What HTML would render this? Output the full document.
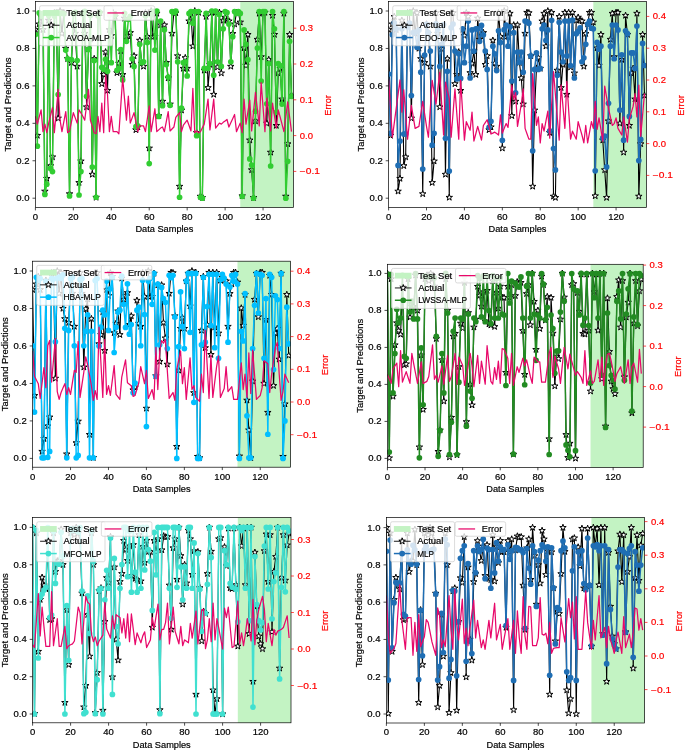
<!DOCTYPE html>
<html><head><meta charset="utf-8"><style>
html,body{margin:0;padding:0;background:#fff;}
svg{display:block;will-change:transform;}
text{font-family:"Liberation Sans", sans-serif;}
</style></head><body>
<svg width="685" height="751" viewBox="0 0 685 751">
<rect width="685" height="751" fill="#fff"/>
<clipPath id="c0"><rect x="35.4" y="1.6" width="258" height="205.9"/></clipPath>
<rect x="240.28" y="1.6" width="53.12" height="205.9" fill="#C3F3C3"/>
<g clip-path="url(#c0)">
<polyline points="35.4,29.72 37.3,135.49 39.19,24.1 41.09,16.62 42.99,29.72 44.89,191.27 46.78,178.54 48.68,20.36 50.58,165.81 52.47,157.02 54.37,12.87 56.27,12.87 58.16,118.27 60.06,11 61.96,33.46 63.86,12.87 65.75,48.44 67.65,58.74 69.55,193.89 71.44,62.67 73.34,24.1 75.24,33.46 77.14,66.41 79.03,182.66 80.93,161.13 82.83,12.87 84.72,33.46 86.62,107.03 88.52,49 90.41,39.08 92.31,174.43 94.21,58.74 96.11,197.45 98,12.87 99.9,12.87 101.8,83.82 103.69,74.65 105.59,52 107.49,90.56 109.39,29.72 111.28,35.71 113.18,12.87 115.08,16.62 116.97,72.78 118.87,63.42 120.77,51.06 122.66,74.65 124.56,18.3 126.46,39.45 128.36,35.71 130.25,32.72 132.15,64.54 134.05,55.93 135.94,129.87 137.84,127.06 139.74,40.39 141.64,63.42 143.53,66.41 145.43,12.87 147.33,36.65 149.22,148.22 151.12,11 153.02,36.65 154.91,36.65 156.81,13.43 158.71,115.83 160.61,25.04 162.5,101.42 164.4,25.04 166.3,62.67 168.19,78.02 170.09,104.23 171.99,33.46 173.89,12.5 175.78,12.87 177.68,55.93 179.58,186.41 181.47,110.22 183.37,68.47 185.27,57.8 187.16,68.47 189.06,21.11 190.96,13.43 192.86,46.19 194.75,11 196.65,132.68 198.55,12.5 200.44,196.33 202.34,197.64 204.24,70.34 206.14,16.62 208.03,87.75 209.93,64.54 211.83,12.5 213.72,94.49 215.62,12.5 217.52,67.16 219.41,12.5 221.31,73.15 223.21,20.36 225.11,17.36 227,20.36 228.9,21.11 230.8,66.41 232.69,33.65 234.59,24.1 236.49,12.5 238.39,12.5 240.28,22.23 242.18,195.95 244.08,48.07 245.97,65.48 247.87,34.59 249.77,140.17 251.66,169.93 253.56,197.64 255.46,121.07 257.36,39.45 259.25,13.43 261.15,56.86 263.05,12.5 264.94,12.5 266.84,123.32 268.74,59.67 270.64,152.34 272.53,15.49 274.43,34.59 276.33,125.57 278.22,73.15 280.12,68.47 282.02,99.17 283.91,13.43 285.81,196.33 287.71,143.91 289.61,34.59 291.5,95.43" fill="none" stroke="#000" stroke-width="1.1" stroke-linejoin="round"/>
<path d="M35.4 26.32 L36.16 28.67 L38.63 28.67 L36.64 30.12 L37.4 32.47 L35.4 31.02 L33.4 32.47 L34.16 30.12 L32.17 28.67 L34.64 28.67Z" fill="#fff" stroke="#000" stroke-width="1.0"/>
<path d="M37.3 132.09 L38.06 134.44 L40.53 134.44 L38.53 135.89 L39.3 138.24 L37.3 136.79 L35.3 138.24 L36.06 135.89 L34.06 134.44 L36.53 134.44Z" fill="#fff" stroke="#000" stroke-width="1.0"/>
<path d="M39.19 20.7 L39.96 23.05 L42.43 23.05 L40.43 24.51 L41.19 26.85 L39.19 25.4 L37.2 26.85 L37.96 24.51 L35.96 23.05 L38.43 23.05Z" fill="#fff" stroke="#000" stroke-width="1.0"/>
<path d="M41.09 13.22 L41.85 15.57 L44.32 15.57 L42.33 17.02 L43.09 19.37 L41.09 17.91 L39.09 19.37 L39.86 17.02 L37.86 15.57 L40.33 15.57Z" fill="#fff" stroke="#000" stroke-width="1.0"/>
<path d="M42.99 26.32 L43.75 28.67 L46.22 28.67 L44.22 30.12 L44.99 32.47 L42.99 31.02 L40.99 32.47 L41.75 30.12 L39.75 28.67 L42.22 28.67Z" fill="#fff" stroke="#000" stroke-width="1.0"/>
<path d="M44.89 187.87 L45.65 190.22 L48.12 190.22 L46.12 191.67 L46.88 194.02 L44.89 192.57 L42.89 194.02 L43.65 191.67 L41.65 190.22 L44.12 190.22Z" fill="#fff" stroke="#000" stroke-width="1.0"/>
<path d="M46.78 175.14 L47.55 177.49 L50.02 177.49 L48.02 178.95 L48.78 181.29 L46.78 179.84 L44.78 181.29 L45.55 178.95 L43.55 177.49 L46.02 177.49Z" fill="#fff" stroke="#000" stroke-width="1.0"/>
<path d="M48.68 16.96 L49.44 19.31 L51.91 19.31 L49.91 20.76 L50.68 23.11 L48.68 21.66 L46.68 23.11 L47.44 20.76 L45.45 19.31 L47.92 19.31Z" fill="#fff" stroke="#000" stroke-width="1.0"/>
<path d="M50.58 162.41 L51.34 164.76 L53.81 164.76 L51.81 166.22 L52.57 168.57 L50.58 167.11 L48.58 168.57 L49.34 166.22 L47.34 164.76 L49.81 164.76Z" fill="#fff" stroke="#000" stroke-width="1.0"/>
<path d="M52.47 153.62 L53.24 155.97 L55.71 155.97 L53.71 157.42 L54.47 159.77 L52.47 158.31 L50.48 159.77 L51.24 157.42 L49.24 155.97 L51.71 155.97Z" fill="#fff" stroke="#000" stroke-width="1.0"/>
<path d="M54.37 9.47 L55.13 11.82 L57.6 11.82 L55.61 13.27 L56.37 15.62 L54.37 14.17 L52.37 15.62 L53.14 13.27 L51.14 11.82 L53.61 11.82Z" fill="#fff" stroke="#000" stroke-width="1.0"/>
<path d="M56.27 9.47 L57.03 11.82 L59.5 11.82 L57.5 13.27 L58.27 15.62 L56.27 14.17 L54.27 15.62 L55.03 13.27 L53.03 11.82 L55.5 11.82Z" fill="#fff" stroke="#000" stroke-width="1.0"/>
<path d="M58.16 114.87 L58.93 117.21 L61.4 117.21 L59.4 118.67 L60.16 121.02 L58.16 119.56 L56.17 121.02 L56.93 118.67 L54.93 117.21 L57.4 117.21Z" fill="#fff" stroke="#000" stroke-width="1.0"/>
<path d="M60.06 7.6 L60.83 9.95 L63.3 9.95 L61.3 11.4 L62.06 13.75 L60.06 12.3 L58.06 13.75 L58.83 11.4 L56.83 9.95 L59.3 9.95Z" fill="#fff" stroke="#000" stroke-width="1.0"/>
<path d="M61.96 30.06 L62.72 32.41 L65.19 32.41 L63.19 33.87 L63.96 36.21 L61.96 34.76 L59.96 36.21 L60.72 33.87 L58.73 32.41 L61.2 32.41Z" fill="#fff" stroke="#000" stroke-width="1.0"/>
<path d="M63.86 9.47 L64.62 11.82 L67.09 11.82 L65.09 13.27 L65.85 15.62 L63.86 14.17 L61.86 15.62 L62.62 13.27 L60.62 11.82 L63.09 11.82Z" fill="#fff" stroke="#000" stroke-width="1.0"/>
<path d="M65.75 45.04 L66.52 47.39 L68.99 47.39 L66.99 48.84 L67.75 51.19 L65.75 49.74 L63.75 51.19 L64.52 48.84 L62.52 47.39 L64.99 47.39Z" fill="#fff" stroke="#000" stroke-width="1.0"/>
<path d="M67.65 55.34 L68.41 57.69 L70.88 57.69 L68.89 59.14 L69.65 61.49 L67.65 60.03 L65.65 61.49 L66.41 59.14 L64.42 57.69 L66.89 57.69Z" fill="#fff" stroke="#000" stroke-width="1.0"/>
<path d="M69.55 190.49 L70.31 192.84 L72.78 192.84 L70.78 194.3 L71.55 196.65 L69.55 195.19 L67.55 196.65 L68.31 194.3 L66.31 192.84 L68.78 192.84Z" fill="#fff" stroke="#000" stroke-width="1.0"/>
<path d="M71.44 59.27 L72.21 61.62 L74.68 61.62 L72.68 63.07 L73.44 65.42 L71.44 63.97 L69.45 65.42 L70.21 63.07 L68.21 61.62 L70.68 61.62Z" fill="#fff" stroke="#000" stroke-width="1.0"/>
<path d="M73.34 20.7 L74.1 23.05 L76.57 23.05 L74.58 24.51 L75.34 26.85 L73.34 25.4 L71.34 26.85 L72.11 24.51 L70.11 23.05 L72.58 23.05Z" fill="#fff" stroke="#000" stroke-width="1.0"/>
<path d="M75.24 30.06 L76 32.41 L78.47 32.41 L76.47 33.87 L77.24 36.21 L75.24 34.76 L73.24 36.21 L74 33.87 L72 32.41 L74.47 32.41Z" fill="#fff" stroke="#000" stroke-width="1.0"/>
<path d="M77.14 63.01 L77.9 65.36 L80.37 65.36 L78.37 66.81 L79.13 69.16 L77.14 67.71 L75.14 69.16 L75.9 66.81 L73.9 65.36 L76.37 65.36Z" fill="#fff" stroke="#000" stroke-width="1.0"/>
<path d="M79.03 179.26 L79.8 181.61 L82.27 181.61 L80.27 183.06 L81.03 185.41 L79.03 183.96 L77.03 185.41 L77.8 183.06 L75.8 181.61 L78.27 181.61Z" fill="#fff" stroke="#000" stroke-width="1.0"/>
<path d="M80.93 157.73 L81.69 160.08 L84.16 160.08 L82.16 161.54 L82.93 163.89 L80.93 162.43 L78.93 163.89 L79.69 161.54 L77.7 160.08 L80.17 160.08Z" fill="#fff" stroke="#000" stroke-width="1.0"/>
<path d="M82.83 9.47 L83.59 11.82 L86.06 11.82 L84.06 13.27 L84.82 15.62 L82.83 14.17 L80.83 15.62 L81.59 13.27 L79.59 11.82 L82.06 11.82Z" fill="#fff" stroke="#000" stroke-width="1.0"/>
<path d="M84.72 30.06 L85.49 32.41 L87.96 32.41 L85.96 33.87 L86.72 36.21 L84.72 34.76 L82.73 36.21 L83.49 33.87 L81.49 32.41 L83.96 32.41Z" fill="#fff" stroke="#000" stroke-width="1.0"/>
<path d="M86.62 103.63 L87.38 105.98 L89.85 105.98 L87.86 107.43 L88.62 109.78 L86.62 108.33 L84.62 109.78 L85.39 107.43 L83.39 105.98 L85.86 105.98Z" fill="#fff" stroke="#000" stroke-width="1.0"/>
<path d="M88.52 45.6 L89.28 47.95 L91.75 47.95 L89.75 49.4 L90.52 51.75 L88.52 50.3 L86.52 51.75 L87.28 49.4 L85.28 47.95 L87.75 47.95Z" fill="#fff" stroke="#000" stroke-width="1.0"/>
<path d="M90.41 35.68 L91.18 38.03 L93.65 38.03 L91.65 39.48 L92.41 41.83 L90.41 40.38 L88.42 41.83 L89.18 39.48 L87.18 38.03 L89.65 38.03Z" fill="#fff" stroke="#000" stroke-width="1.0"/>
<path d="M92.31 171.03 L93.08 173.37 L95.55 173.37 L93.55 174.83 L94.31 177.18 L92.31 175.72 L90.31 177.18 L91.08 174.83 L89.08 173.37 L91.55 173.37Z" fill="#fff" stroke="#000" stroke-width="1.0"/>
<path d="M94.21 55.34 L94.97 57.69 L97.44 57.69 L95.44 59.14 L96.21 61.49 L94.21 60.03 L92.21 61.49 L92.97 59.14 L90.98 57.69 L93.45 57.69Z" fill="#fff" stroke="#000" stroke-width="1.0"/>
<path d="M96.11 194.05 L96.87 196.4 L99.34 196.4 L97.34 197.85 L98.1 200.2 L96.11 198.75 L94.11 200.2 L94.87 197.85 L92.87 196.4 L95.34 196.4Z" fill="#fff" stroke="#000" stroke-width="1.0"/>
<path d="M98 9.47 L98.77 11.82 L101.24 11.82 L99.24 13.27 L100 15.62 L98 14.17 L96 15.62 L96.77 13.27 L94.77 11.82 L97.24 11.82Z" fill="#fff" stroke="#000" stroke-width="1.0"/>
<path d="M99.9 9.47 L100.66 11.82 L103.13 11.82 L101.14 13.27 L101.9 15.62 L99.9 14.17 L97.9 15.62 L98.66 13.27 L96.67 11.82 L99.14 11.82Z" fill="#fff" stroke="#000" stroke-width="1.0"/>
<path d="M101.8 80.42 L102.56 82.77 L105.03 82.77 L103.03 84.22 L103.8 86.57 L101.8 85.12 L99.8 86.57 L100.56 84.22 L98.56 82.77 L101.03 82.77Z" fill="#fff" stroke="#000" stroke-width="1.0"/>
<path d="M103.69 71.25 L104.46 73.6 L106.93 73.6 L104.93 75.05 L105.69 77.4 L103.69 75.95 L101.7 77.4 L102.46 75.05 L100.46 73.6 L102.93 73.6Z" fill="#fff" stroke="#000" stroke-width="1.0"/>
<path d="M105.59 48.6 L106.35 50.95 L108.82 50.95 L106.83 52.4 L107.59 54.75 L105.59 53.3 L103.59 54.75 L104.36 52.4 L102.36 50.95 L104.83 50.95Z" fill="#fff" stroke="#000" stroke-width="1.0"/>
<path d="M107.49 87.16 L108.25 89.51 L110.72 89.51 L108.72 90.96 L109.49 93.31 L107.49 91.86 L105.49 93.31 L106.25 90.96 L104.25 89.51 L106.72 89.51Z" fill="#fff" stroke="#000" stroke-width="1.0"/>
<path d="M109.39 26.32 L110.15 28.67 L112.62 28.67 L110.62 30.12 L111.38 32.47 L109.39 31.02 L107.39 32.47 L108.15 30.12 L106.15 28.67 L108.62 28.67Z" fill="#fff" stroke="#000" stroke-width="1.0"/>
<path d="M111.28 32.31 L112.05 34.66 L114.52 34.66 L112.52 36.11 L113.28 38.46 L111.28 37.01 L109.28 38.46 L110.05 36.11 L108.05 34.66 L110.52 34.66Z" fill="#fff" stroke="#000" stroke-width="1.0"/>
<path d="M113.18 9.47 L113.94 11.82 L116.41 11.82 L114.41 13.27 L115.18 15.62 L113.18 14.17 L111.18 15.62 L111.94 13.27 L109.95 11.82 L112.42 11.82Z" fill="#fff" stroke="#000" stroke-width="1.0"/>
<path d="M115.08 13.22 L115.84 15.57 L118.31 15.57 L116.31 17.02 L117.07 19.37 L115.08 17.91 L113.08 19.37 L113.84 17.02 L111.84 15.57 L114.31 15.57Z" fill="#fff" stroke="#000" stroke-width="1.0"/>
<path d="M116.97 69.38 L117.74 71.73 L120.21 71.73 L118.21 73.18 L118.97 75.53 L116.97 74.07 L114.98 75.53 L115.74 73.18 L113.74 71.73 L116.21 71.73Z" fill="#fff" stroke="#000" stroke-width="1.0"/>
<path d="M118.87 60.02 L119.63 62.37 L122.1 62.37 L120.11 63.82 L120.87 66.17 L118.87 64.71 L116.87 66.17 L117.64 63.82 L115.64 62.37 L118.11 62.37Z" fill="#fff" stroke="#000" stroke-width="1.0"/>
<path d="M120.77 47.66 L121.53 50.01 L124 50.01 L122 51.46 L122.77 53.81 L120.77 52.36 L118.77 53.81 L119.53 51.46 L117.53 50.01 L120 50.01Z" fill="#fff" stroke="#000" stroke-width="1.0"/>
<path d="M122.66 71.25 L123.43 73.6 L125.9 73.6 L123.9 75.05 L124.66 77.4 L122.66 75.95 L120.67 77.4 L121.43 75.05 L119.43 73.6 L121.9 73.6Z" fill="#fff" stroke="#000" stroke-width="1.0"/>
<path d="M124.56 14.9 L125.33 17.25 L127.8 17.25 L125.8 18.7 L126.56 21.05 L124.56 19.6 L122.56 21.05 L123.33 18.7 L121.33 17.25 L123.8 17.25Z" fill="#fff" stroke="#000" stroke-width="1.0"/>
<path d="M126.46 36.05 L127.22 38.4 L129.69 38.4 L127.69 39.86 L128.46 42.21 L126.46 40.75 L124.46 42.21 L125.22 39.86 L123.23 38.4 L125.7 38.4Z" fill="#fff" stroke="#000" stroke-width="1.0"/>
<path d="M128.36 32.31 L129.12 34.66 L131.59 34.66 L129.59 36.11 L130.35 38.46 L128.36 37.01 L126.36 38.46 L127.12 36.11 L125.12 34.66 L127.59 34.66Z" fill="#fff" stroke="#000" stroke-width="1.0"/>
<path d="M130.25 29.32 L131.02 31.66 L133.49 31.66 L131.49 33.12 L132.25 35.47 L130.25 34.01 L128.25 35.47 L129.02 33.12 L127.02 31.66 L129.49 31.66Z" fill="#fff" stroke="#000" stroke-width="1.0"/>
<path d="M132.15 61.14 L132.91 63.49 L135.38 63.49 L133.39 64.94 L134.15 67.29 L132.15 65.84 L130.15 67.29 L130.91 64.94 L128.92 63.49 L131.39 63.49Z" fill="#fff" stroke="#000" stroke-width="1.0"/>
<path d="M134.05 52.53 L134.81 54.88 L137.28 54.88 L135.28 56.33 L136.05 58.68 L134.05 57.23 L132.05 58.68 L132.81 56.33 L130.81 54.88 L133.28 54.88Z" fill="#fff" stroke="#000" stroke-width="1.0"/>
<path d="M135.94 126.47 L136.71 128.82 L139.18 128.82 L137.18 130.27 L137.94 132.62 L135.94 131.17 L133.95 132.62 L134.71 130.27 L132.71 128.82 L135.18 128.82Z" fill="#fff" stroke="#000" stroke-width="1.0"/>
<path d="M137.84 123.66 L138.6 126.01 L141.07 126.01 L139.08 127.47 L139.84 129.81 L137.84 128.36 L135.84 129.81 L136.61 127.47 L134.61 126.01 L137.08 126.01Z" fill="#fff" stroke="#000" stroke-width="1.0"/>
<path d="M139.74 36.99 L140.5 39.34 L142.97 39.34 L140.97 40.79 L141.74 43.14 L139.74 41.69 L137.74 43.14 L138.5 40.79 L136.5 39.34 L138.97 39.34Z" fill="#fff" stroke="#000" stroke-width="1.0"/>
<path d="M141.64 60.02 L142.4 62.37 L144.87 62.37 L142.87 63.82 L143.63 66.17 L141.64 64.71 L139.64 66.17 L140.4 63.82 L138.4 62.37 L140.87 62.37Z" fill="#fff" stroke="#000" stroke-width="1.0"/>
<path d="M143.53 63.01 L144.3 65.36 L146.77 65.36 L144.77 66.81 L145.53 69.16 L143.53 67.71 L141.53 69.16 L142.3 66.81 L140.3 65.36 L142.77 65.36Z" fill="#fff" stroke="#000" stroke-width="1.0"/>
<path d="M145.43 9.47 L146.19 11.82 L148.66 11.82 L146.66 13.27 L147.43 15.62 L145.43 14.17 L143.43 15.62 L144.19 13.27 L142.2 11.82 L144.67 11.82Z" fill="#fff" stroke="#000" stroke-width="1.0"/>
<path d="M147.33 33.25 L148.09 35.6 L150.56 35.6 L148.56 37.05 L149.32 39.4 L147.33 37.95 L145.33 39.4 L146.09 37.05 L144.09 35.6 L146.56 35.6Z" fill="#fff" stroke="#000" stroke-width="1.0"/>
<path d="M149.22 144.82 L149.99 147.17 L152.46 147.17 L150.46 148.62 L151.22 150.97 L149.22 149.52 L147.23 150.97 L147.99 148.62 L145.99 147.17 L148.46 147.17Z" fill="#fff" stroke="#000" stroke-width="1.0"/>
<path d="M151.12 7.6 L151.88 9.95 L154.35 9.95 L152.36 11.4 L153.12 13.75 L151.12 12.3 L149.12 13.75 L149.89 11.4 L147.89 9.95 L150.36 9.95Z" fill="#fff" stroke="#000" stroke-width="1.0"/>
<path d="M153.02 33.25 L153.78 35.6 L156.25 35.6 L154.25 37.05 L155.02 39.4 L153.02 37.95 L151.02 39.4 L151.78 37.05 L149.78 35.6 L152.25 35.6Z" fill="#fff" stroke="#000" stroke-width="1.0"/>
<path d="M154.91 33.25 L155.68 35.6 L158.15 35.6 L156.15 37.05 L156.91 39.4 L154.91 37.95 L152.92 39.4 L153.68 37.05 L151.68 35.6 L154.15 35.6Z" fill="#fff" stroke="#000" stroke-width="1.0"/>
<path d="M156.81 10.03 L157.58 12.38 L160.05 12.38 L158.05 13.83 L158.81 16.18 L156.81 14.73 L154.81 16.18 L155.58 13.83 L153.58 12.38 L156.05 12.38Z" fill="#fff" stroke="#000" stroke-width="1.0"/>
<path d="M158.71 112.43 L159.47 114.78 L161.94 114.78 L159.94 116.23 L160.71 118.58 L158.71 117.13 L156.71 118.58 L157.47 116.23 L155.48 114.78 L157.95 114.78Z" fill="#fff" stroke="#000" stroke-width="1.0"/>
<path d="M160.61 21.64 L161.37 23.99 L163.84 23.99 L161.84 25.44 L162.6 27.79 L160.61 26.34 L158.61 27.79 L159.37 25.44 L157.37 23.99 L159.84 23.99Z" fill="#fff" stroke="#000" stroke-width="1.0"/>
<path d="M162.5 98.02 L163.27 100.37 L165.74 100.37 L163.74 101.82 L164.5 104.17 L162.5 102.72 L160.5 104.17 L161.27 101.82 L159.27 100.37 L161.74 100.37Z" fill="#fff" stroke="#000" stroke-width="1.0"/>
<path d="M164.4 21.64 L165.16 23.99 L167.63 23.99 L165.64 25.44 L166.4 27.79 L164.4 26.34 L162.4 27.79 L163.16 25.44 L161.17 23.99 L163.64 23.99Z" fill="#fff" stroke="#000" stroke-width="1.0"/>
<path d="M166.3 59.27 L167.06 61.62 L169.53 61.62 L167.53 63.07 L168.3 65.42 L166.3 63.97 L164.3 65.42 L165.06 63.07 L163.06 61.62 L165.53 61.62Z" fill="#fff" stroke="#000" stroke-width="1.0"/>
<path d="M168.19 74.62 L168.96 76.97 L171.43 76.97 L169.43 78.42 L170.19 80.77 L168.19 79.32 L166.2 80.77 L166.96 78.42 L164.96 76.97 L167.43 76.97Z" fill="#fff" stroke="#000" stroke-width="1.0"/>
<path d="M170.09 100.83 L170.85 103.17 L173.32 103.17 L171.33 104.63 L172.09 106.98 L170.09 105.52 L168.09 106.98 L168.86 104.63 L166.86 103.17 L169.33 103.17Z" fill="#fff" stroke="#000" stroke-width="1.0"/>
<path d="M171.99 30.06 L172.75 32.41 L175.22 32.41 L173.22 33.87 L173.99 36.21 L171.99 34.76 L169.99 36.21 L170.75 33.87 L168.75 32.41 L171.22 32.41Z" fill="#fff" stroke="#000" stroke-width="1.0"/>
<path d="M173.89 9.1 L174.65 11.45 L177.12 11.45 L175.12 12.9 L175.88 15.25 L173.89 13.8 L171.89 15.25 L172.65 12.9 L170.65 11.45 L173.12 11.45Z" fill="#fff" stroke="#000" stroke-width="1.0"/>
<path d="M175.78 9.47 L176.55 11.82 L179.02 11.82 L177.02 13.27 L177.78 15.62 L175.78 14.17 L173.78 15.62 L174.55 13.27 L172.55 11.82 L175.02 11.82Z" fill="#fff" stroke="#000" stroke-width="1.0"/>
<path d="M177.68 52.53 L178.44 54.88 L180.91 54.88 L178.91 56.33 L179.68 58.68 L177.68 57.23 L175.68 58.68 L176.44 56.33 L174.45 54.88 L176.92 54.88Z" fill="#fff" stroke="#000" stroke-width="1.0"/>
<path d="M179.58 183.01 L180.34 185.36 L182.81 185.36 L180.81 186.81 L181.57 189.16 L179.58 187.71 L177.58 189.16 L178.34 186.81 L176.34 185.36 L178.81 185.36Z" fill="#fff" stroke="#000" stroke-width="1.0"/>
<path d="M181.47 106.82 L182.24 109.17 L184.71 109.17 L182.71 110.62 L183.47 112.97 L181.47 111.51 L179.48 112.97 L180.24 110.62 L178.24 109.17 L180.71 109.17Z" fill="#fff" stroke="#000" stroke-width="1.0"/>
<path d="M183.37 65.07 L184.13 67.42 L186.6 67.42 L184.61 68.87 L185.37 71.22 L183.37 69.77 L181.37 71.22 L182.14 68.87 L180.14 67.42 L182.61 67.42Z" fill="#fff" stroke="#000" stroke-width="1.0"/>
<path d="M185.27 54.4 L186.03 56.75 L188.5 56.75 L186.5 58.2 L187.27 60.55 L185.27 59.1 L183.27 60.55 L184.03 58.2 L182.03 56.75 L184.5 56.75Z" fill="#fff" stroke="#000" stroke-width="1.0"/>
<path d="M187.16 65.07 L187.93 67.42 L190.4 67.42 L188.4 68.87 L189.16 71.22 L187.16 69.77 L185.17 71.22 L185.93 68.87 L183.93 67.42 L186.4 67.42Z" fill="#fff" stroke="#000" stroke-width="1.0"/>
<path d="M189.06 17.71 L189.83 20.06 L192.3 20.06 L190.3 21.51 L191.06 23.86 L189.06 22.41 L187.06 23.86 L187.83 21.51 L185.83 20.06 L188.3 20.06Z" fill="#fff" stroke="#000" stroke-width="1.0"/>
<path d="M190.96 10.03 L191.72 12.38 L194.19 12.38 L192.19 13.83 L192.96 16.18 L190.96 14.73 L188.96 16.18 L189.72 13.83 L187.73 12.38 L190.2 12.38Z" fill="#fff" stroke="#000" stroke-width="1.0"/>
<path d="M192.86 42.79 L193.62 45.14 L196.09 45.14 L194.09 46.59 L194.85 48.94 L192.86 47.49 L190.86 48.94 L191.62 46.59 L189.62 45.14 L192.09 45.14Z" fill="#fff" stroke="#000" stroke-width="1.0"/>
<path d="M194.75 7.6 L195.52 9.95 L197.99 9.95 L195.99 11.4 L196.75 13.75 L194.75 12.3 L192.75 13.75 L193.52 11.4 L191.52 9.95 L193.99 9.95Z" fill="#fff" stroke="#000" stroke-width="1.0"/>
<path d="M196.65 129.28 L197.41 131.63 L199.88 131.63 L197.89 133.08 L198.65 135.43 L196.65 133.98 L194.65 135.43 L195.41 133.08 L193.42 131.63 L195.89 131.63Z" fill="#fff" stroke="#000" stroke-width="1.0"/>
<path d="M198.55 9.1 L199.31 11.45 L201.78 11.45 L199.78 12.9 L200.55 15.25 L198.55 13.8 L196.55 15.25 L197.31 12.9 L195.31 11.45 L197.78 11.45Z" fill="#fff" stroke="#000" stroke-width="1.0"/>
<path d="M200.44 192.93 L201.21 195.28 L203.68 195.28 L201.68 196.73 L202.44 199.08 L200.44 197.63 L198.45 199.08 L199.21 196.73 L197.21 195.28 L199.68 195.28Z" fill="#fff" stroke="#000" stroke-width="1.0"/>
<path d="M202.34 194.24 L203.1 196.59 L205.57 196.59 L203.58 198.04 L204.34 200.39 L202.34 198.94 L200.34 200.39 L201.11 198.04 L199.11 196.59 L201.58 196.59Z" fill="#fff" stroke="#000" stroke-width="1.0"/>
<path d="M204.24 66.94 L205 69.29 L207.47 69.29 L205.47 70.74 L206.24 73.09 L204.24 71.64 L202.24 73.09 L203 70.74 L201 69.29 L203.47 69.29Z" fill="#fff" stroke="#000" stroke-width="1.0"/>
<path d="M206.14 13.22 L206.9 15.57 L209.37 15.57 L207.37 17.02 L208.13 19.37 L206.14 17.91 L204.14 19.37 L204.9 17.02 L202.9 15.57 L205.37 15.57Z" fill="#fff" stroke="#000" stroke-width="1.0"/>
<path d="M208.03 84.35 L208.8 86.7 L211.27 86.7 L209.27 88.15 L210.03 90.5 L208.03 89.05 L206.03 90.5 L206.8 88.15 L204.8 86.7 L207.27 86.7Z" fill="#fff" stroke="#000" stroke-width="1.0"/>
<path d="M209.93 61.14 L210.69 63.49 L213.16 63.49 L211.16 64.94 L211.93 67.29 L209.93 65.84 L207.93 67.29 L208.69 64.94 L206.7 63.49 L209.17 63.49Z" fill="#fff" stroke="#000" stroke-width="1.0"/>
<path d="M211.83 9.1 L212.59 11.45 L215.06 11.45 L213.06 12.9 L213.82 15.25 L211.83 13.8 L209.83 15.25 L210.59 12.9 L208.59 11.45 L211.06 11.45Z" fill="#fff" stroke="#000" stroke-width="1.0"/>
<path d="M213.72 91.09 L214.49 93.44 L216.96 93.44 L214.96 94.89 L215.72 97.24 L213.72 95.79 L211.73 97.24 L212.49 94.89 L210.49 93.44 L212.96 93.44Z" fill="#fff" stroke="#000" stroke-width="1.0"/>
<path d="M215.62 9.1 L216.38 11.45 L218.85 11.45 L216.86 12.9 L217.62 15.25 L215.62 13.8 L213.62 15.25 L214.39 12.9 L212.39 11.45 L214.86 11.45Z" fill="#fff" stroke="#000" stroke-width="1.0"/>
<path d="M217.52 63.76 L218.28 66.11 L220.75 66.11 L218.75 67.56 L219.52 69.91 L217.52 68.46 L215.52 69.91 L216.28 67.56 L214.28 66.11 L216.75 66.11Z" fill="#fff" stroke="#000" stroke-width="1.0"/>
<path d="M219.41 9.1 L220.18 11.45 L222.65 11.45 L220.65 12.9 L221.41 15.25 L219.41 13.8 L217.42 15.25 L218.18 12.9 L216.18 11.45 L218.65 11.45Z" fill="#fff" stroke="#000" stroke-width="1.0"/>
<path d="M221.31 69.75 L222.08 72.1 L224.55 72.1 L222.55 73.55 L223.31 75.9 L221.31 74.45 L219.31 75.9 L220.08 73.55 L218.08 72.1 L220.55 72.1Z" fill="#fff" stroke="#000" stroke-width="1.0"/>
<path d="M223.21 16.96 L223.97 19.31 L226.44 19.31 L224.44 20.76 L225.21 23.11 L223.21 21.66 L221.21 23.11 L221.97 20.76 L219.98 19.31 L222.45 19.31Z" fill="#fff" stroke="#000" stroke-width="1.0"/>
<path d="M225.11 13.96 L225.87 16.31 L228.34 16.31 L226.34 17.77 L227.1 20.12 L225.11 18.66 L223.11 20.12 L223.87 17.77 L221.87 16.31 L224.34 16.31Z" fill="#fff" stroke="#000" stroke-width="1.0"/>
<path d="M227 16.96 L227.77 19.31 L230.24 19.31 L228.24 20.76 L229 23.11 L227 21.66 L225 23.11 L225.77 20.76 L223.77 19.31 L226.24 19.31Z" fill="#fff" stroke="#000" stroke-width="1.0"/>
<path d="M228.9 17.71 L229.66 20.06 L232.13 20.06 L230.14 21.51 L230.9 23.86 L228.9 22.41 L226.9 23.86 L227.66 21.51 L225.67 20.06 L228.14 20.06Z" fill="#fff" stroke="#000" stroke-width="1.0"/>
<path d="M230.8 63.01 L231.56 65.36 L234.03 65.36 L232.03 66.81 L232.8 69.16 L230.8 67.71 L228.8 69.16 L229.56 66.81 L227.56 65.36 L230.03 65.36Z" fill="#fff" stroke="#000" stroke-width="1.0"/>
<path d="M232.69 30.25 L233.46 32.6 L235.93 32.6 L233.93 34.05 L234.69 36.4 L232.69 34.95 L230.7 36.4 L231.46 34.05 L229.46 32.6 L231.93 32.6Z" fill="#fff" stroke="#000" stroke-width="1.0"/>
<path d="M234.59 20.7 L235.35 23.05 L237.82 23.05 L235.83 24.51 L236.59 26.85 L234.59 25.4 L232.59 26.85 L233.36 24.51 L231.36 23.05 L233.83 23.05Z" fill="#fff" stroke="#000" stroke-width="1.0"/>
<path d="M236.49 9.1 L237.25 11.45 L239.72 11.45 L237.72 12.9 L238.49 15.25 L236.49 13.8 L234.49 15.25 L235.25 12.9 L233.25 11.45 L235.72 11.45Z" fill="#fff" stroke="#000" stroke-width="1.0"/>
<path d="M238.39 9.1 L239.15 11.45 L241.62 11.45 L239.62 12.9 L240.38 15.25 L238.39 13.8 L236.39 15.25 L237.15 12.9 L235.15 11.45 L237.62 11.45Z" fill="#fff" stroke="#000" stroke-width="1.0"/>
<path d="M240.28 18.83 L241.05 21.18 L243.52 21.18 L241.52 22.63 L242.28 24.98 L240.28 23.53 L238.28 24.98 L239.05 22.63 L237.05 21.18 L239.52 21.18Z" fill="#fff" stroke="#000" stroke-width="1.0"/>
<path d="M242.18 192.55 L242.94 194.9 L245.41 194.9 L243.41 196.35 L244.18 198.7 L242.18 197.25 L240.18 198.7 L240.94 196.35 L238.95 194.9 L241.42 194.9Z" fill="#fff" stroke="#000" stroke-width="1.0"/>
<path d="M244.08 44.67 L244.84 47.01 L247.31 47.01 L245.31 48.47 L246.07 50.82 L244.08 49.36 L242.08 50.82 L242.84 48.47 L240.84 47.01 L243.31 47.01Z" fill="#fff" stroke="#000" stroke-width="1.0"/>
<path d="M245.97 62.08 L246.74 64.42 L249.21 64.42 L247.21 65.88 L247.97 68.23 L245.97 66.77 L243.98 68.23 L244.74 65.88 L242.74 64.42 L245.21 64.42Z" fill="#fff" stroke="#000" stroke-width="1.0"/>
<path d="M247.87 31.19 L248.63 33.54 L251.1 33.54 L249.11 34.99 L249.87 37.34 L247.87 35.89 L245.87 37.34 L246.64 34.99 L244.64 33.54 L247.11 33.54Z" fill="#fff" stroke="#000" stroke-width="1.0"/>
<path d="M249.77 136.77 L250.53 139.12 L253 139.12 L251 140.57 L251.77 142.92 L249.77 141.47 L247.77 142.92 L248.53 140.57 L246.53 139.12 L249 139.12Z" fill="#fff" stroke="#000" stroke-width="1.0"/>
<path d="M251.66 166.53 L252.43 168.88 L254.9 168.88 L252.9 170.33 L253.66 172.68 L251.66 171.23 L249.67 172.68 L250.43 170.33 L248.43 168.88 L250.9 168.88Z" fill="#fff" stroke="#000" stroke-width="1.0"/>
<path d="M253.56 194.24 L254.33 196.59 L256.8 196.59 L254.8 198.04 L255.56 200.39 L253.56 198.94 L251.56 200.39 L252.33 198.04 L250.33 196.59 L252.8 196.59Z" fill="#fff" stroke="#000" stroke-width="1.0"/>
<path d="M255.46 117.67 L256.22 120.02 L258.69 120.02 L256.69 121.47 L257.46 123.82 L255.46 122.37 L253.46 123.82 L254.22 121.47 L252.23 120.02 L254.7 120.02Z" fill="#fff" stroke="#000" stroke-width="1.0"/>
<path d="M257.36 36.05 L258.12 38.4 L260.59 38.4 L258.59 39.86 L259.35 42.21 L257.36 40.75 L255.36 42.21 L256.12 39.86 L254.12 38.4 L256.59 38.4Z" fill="#fff" stroke="#000" stroke-width="1.0"/>
<path d="M259.25 10.03 L260.02 12.38 L262.49 12.38 L260.49 13.83 L261.25 16.18 L259.25 14.73 L257.25 16.18 L258.02 13.83 L256.02 12.38 L258.49 12.38Z" fill="#fff" stroke="#000" stroke-width="1.0"/>
<path d="M261.15 53.46 L261.91 55.81 L264.38 55.81 L262.39 57.27 L263.15 59.61 L261.15 58.16 L259.15 59.61 L259.91 57.27 L257.92 55.81 L260.39 55.81Z" fill="#fff" stroke="#000" stroke-width="1.0"/>
<path d="M263.05 9.1 L263.81 11.45 L266.28 11.45 L264.28 12.9 L265.05 15.25 L263.05 13.8 L261.05 15.25 L261.81 12.9 L259.81 11.45 L262.28 11.45Z" fill="#fff" stroke="#000" stroke-width="1.0"/>
<path d="M264.94 9.1 L265.71 11.45 L268.18 11.45 L266.18 12.9 L266.94 15.25 L264.94 13.8 L262.95 15.25 L263.71 12.9 L261.71 11.45 L264.18 11.45Z" fill="#fff" stroke="#000" stroke-width="1.0"/>
<path d="M266.84 119.92 L267.6 122.27 L270.07 122.27 L268.08 123.72 L268.84 126.07 L266.84 124.62 L264.84 126.07 L265.61 123.72 L263.61 122.27 L266.08 122.27Z" fill="#fff" stroke="#000" stroke-width="1.0"/>
<path d="M268.74 56.27 L269.5 58.62 L271.97 58.62 L269.97 60.07 L270.74 62.42 L268.74 60.97 L266.74 62.42 L267.5 60.07 L265.5 58.62 L267.97 58.62Z" fill="#fff" stroke="#000" stroke-width="1.0"/>
<path d="M270.64 148.94 L271.4 151.29 L273.87 151.29 L271.87 152.74 L272.63 155.09 L270.64 153.63 L268.64 155.09 L269.4 152.74 L267.4 151.29 L269.87 151.29Z" fill="#fff" stroke="#000" stroke-width="1.0"/>
<path d="M272.53 12.09 L273.3 14.44 L275.77 14.44 L273.77 15.89 L274.53 18.24 L272.53 16.79 L270.53 18.24 L271.3 15.89 L269.3 14.44 L271.77 14.44Z" fill="#fff" stroke="#000" stroke-width="1.0"/>
<path d="M274.43 31.19 L275.19 33.54 L277.66 33.54 L275.66 34.99 L276.43 37.34 L274.43 35.89 L272.43 37.34 L273.19 34.99 L271.2 33.54 L273.67 33.54Z" fill="#fff" stroke="#000" stroke-width="1.0"/>
<path d="M276.33 122.17 L277.09 124.52 L279.56 124.52 L277.56 125.97 L278.32 128.32 L276.33 126.87 L274.33 128.32 L275.09 125.97 L273.09 124.52 L275.56 124.52Z" fill="#fff" stroke="#000" stroke-width="1.0"/>
<path d="M278.22 69.75 L278.99 72.1 L281.46 72.1 L279.46 73.55 L280.22 75.9 L278.22 74.45 L276.23 75.9 L276.99 73.55 L274.99 72.1 L277.46 72.1Z" fill="#fff" stroke="#000" stroke-width="1.0"/>
<path d="M280.12 65.07 L280.88 67.42 L283.35 67.42 L281.36 68.87 L282.12 71.22 L280.12 69.77 L278.12 71.22 L278.89 68.87 L276.89 67.42 L279.36 67.42Z" fill="#fff" stroke="#000" stroke-width="1.0"/>
<path d="M282.02 95.77 L282.78 98.12 L285.25 98.12 L283.25 99.57 L284.02 101.92 L282.02 100.47 L280.02 101.92 L280.78 99.57 L278.78 98.12 L281.25 98.12Z" fill="#fff" stroke="#000" stroke-width="1.0"/>
<path d="M283.91 10.03 L284.68 12.38 L287.15 12.38 L285.15 13.83 L285.91 16.18 L283.91 14.73 L281.92 16.18 L282.68 13.83 L280.68 12.38 L283.15 12.38Z" fill="#fff" stroke="#000" stroke-width="1.0"/>
<path d="M285.81 192.93 L286.58 195.28 L289.05 195.28 L287.05 196.73 L287.81 199.08 L285.81 197.63 L283.81 199.08 L284.58 196.73 L282.58 195.28 L285.05 195.28Z" fill="#fff" stroke="#000" stroke-width="1.0"/>
<path d="M287.71 140.51 L288.47 142.86 L290.94 142.86 L288.94 144.31 L289.71 146.66 L287.71 145.21 L285.71 146.66 L286.47 144.31 L284.48 142.86 L286.95 142.86Z" fill="#fff" stroke="#000" stroke-width="1.0"/>
<path d="M289.61 31.19 L290.37 33.54 L292.84 33.54 L290.84 34.99 L291.6 37.34 L289.61 35.89 L287.61 37.34 L288.37 34.99 L286.37 33.54 L288.84 33.54Z" fill="#fff" stroke="#000" stroke-width="1.0"/>
<path d="M291.5 92.03 L292.27 94.38 L294.74 94.38 L292.74 95.83 L293.5 98.18 L291.5 96.73 L289.5 98.18 L290.27 95.83 L288.27 94.38 L290.74 94.38Z" fill="#fff" stroke="#000" stroke-width="1.0"/>
<polyline points="35.4,34.59 37.3,146.16 39.19,12.87 41.09,16.05 42.99,13.43 44.89,194.46 46.78,184.16 48.68,15.49 50.58,168.44 52.47,171.62 54.37,16.05 56.27,12.68 58.16,94.49 60.06,13.43 61.96,13.06 63.86,13.81 65.75,50.12 67.65,58.74 69.55,195.95 71.44,59.67 73.34,13.62 75.24,12.31 77.14,60.61 79.03,195.02 80.93,171.62 82.83,14 84.72,11.37 86.62,96.36 88.52,49.56 90.41,15.31 92.31,167.12 94.21,60.61 96.11,197.26 98,15.68 99.9,12.31 101.8,67.35 103.69,69.41 105.59,59.3 107.49,71.28 109.39,14.93 111.28,62.67 113.18,13.81 115.08,14.74 116.97,70.34 118.87,68.47 120.77,49.56 122.66,79.89 124.56,13.25 126.46,41.33 128.36,19.24 130.25,16.24 132.15,58.74 134.05,66.41 135.94,126.69 137.84,125.94 139.74,44.32 141.64,62.67 143.53,61.73 145.43,15.68 147.33,42.45 149.22,163.57 151.12,14.74 153.02,11.37 154.91,50.12 156.81,11 158.71,116.39 160.61,21.11 162.5,105.72 164.4,29.72 166.3,64.54 168.19,77.08 170.09,105.35 171.99,11.56 173.89,12.5 175.78,11.19 177.68,61.73 179.58,197.26 181.47,108.16 183.37,62.67 185.27,61.73 187.16,75.96 189.06,13.43 190.96,11.56 192.86,23.17 194.75,11.56 196.65,135.68 198.55,11.56 200.44,197.26 202.34,198.2 204.24,68.47 206.14,13.43 208.03,68.47 209.93,63.6 211.83,11 213.72,75.21 215.62,11 217.52,61.73 219.41,14.56 221.31,66.41 223.21,28.78 225.11,11.56 227,12.5 228.9,24.1 230.8,61.73 232.69,36.65 234.59,11.56 236.49,13.43 238.39,11.56 240.28,13.43 242.18,196.33 244.08,29.91 245.97,44.32 247.87,59.67 249.77,158.89 251.66,165.07 253.56,198.2 255.46,111.15 257.36,48.07 259.25,11.56 261.15,81.01 263.05,11.56 264.94,11.56 266.84,103.85 268.74,63.6 270.64,166 272.53,11.56 274.43,28.78 276.33,112.46 278.22,63.6 280.12,65.48 282.02,104.04 283.91,11.56 285.81,198.2 287.71,161.32 289.61,41.33 291.5,96.36" fill="none" stroke="#32CD32" stroke-width="1.5" stroke-linejoin="round"/>
<circle cx="35.4" cy="34.59" r="2.85" fill="#32CD32"/>
<circle cx="37.3" cy="146.16" r="2.85" fill="#32CD32"/>
<circle cx="39.19" cy="12.87" r="2.85" fill="#32CD32"/>
<circle cx="41.09" cy="16.05" r="2.85" fill="#32CD32"/>
<circle cx="42.99" cy="13.43" r="2.85" fill="#32CD32"/>
<circle cx="44.89" cy="194.46" r="2.85" fill="#32CD32"/>
<circle cx="46.78" cy="184.16" r="2.85" fill="#32CD32"/>
<circle cx="48.68" cy="15.49" r="2.85" fill="#32CD32"/>
<circle cx="50.58" cy="168.44" r="2.85" fill="#32CD32"/>
<circle cx="52.47" cy="171.62" r="2.85" fill="#32CD32"/>
<circle cx="54.37" cy="16.05" r="2.85" fill="#32CD32"/>
<circle cx="56.27" cy="12.68" r="2.85" fill="#32CD32"/>
<circle cx="58.16" cy="94.49" r="2.85" fill="#32CD32"/>
<circle cx="60.06" cy="13.43" r="2.85" fill="#32CD32"/>
<circle cx="61.96" cy="13.06" r="2.85" fill="#32CD32"/>
<circle cx="63.86" cy="13.81" r="2.85" fill="#32CD32"/>
<circle cx="65.75" cy="50.12" r="2.85" fill="#32CD32"/>
<circle cx="67.65" cy="58.74" r="2.85" fill="#32CD32"/>
<circle cx="69.55" cy="195.95" r="2.85" fill="#32CD32"/>
<circle cx="71.44" cy="59.67" r="2.85" fill="#32CD32"/>
<circle cx="73.34" cy="13.62" r="2.85" fill="#32CD32"/>
<circle cx="75.24" cy="12.31" r="2.85" fill="#32CD32"/>
<circle cx="77.14" cy="60.61" r="2.85" fill="#32CD32"/>
<circle cx="79.03" cy="195.02" r="2.85" fill="#32CD32"/>
<circle cx="80.93" cy="171.62" r="2.85" fill="#32CD32"/>
<circle cx="82.83" cy="14" r="2.85" fill="#32CD32"/>
<circle cx="84.72" cy="11.37" r="2.85" fill="#32CD32"/>
<circle cx="86.62" cy="96.36" r="2.85" fill="#32CD32"/>
<circle cx="88.52" cy="49.56" r="2.85" fill="#32CD32"/>
<circle cx="90.41" cy="15.31" r="2.85" fill="#32CD32"/>
<circle cx="92.31" cy="167.12" r="2.85" fill="#32CD32"/>
<circle cx="94.21" cy="60.61" r="2.85" fill="#32CD32"/>
<circle cx="96.11" cy="197.26" r="2.85" fill="#32CD32"/>
<circle cx="98" cy="15.68" r="2.85" fill="#32CD32"/>
<circle cx="99.9" cy="12.31" r="2.85" fill="#32CD32"/>
<circle cx="101.8" cy="67.35" r="2.85" fill="#32CD32"/>
<circle cx="103.69" cy="69.41" r="2.85" fill="#32CD32"/>
<circle cx="105.59" cy="59.3" r="2.85" fill="#32CD32"/>
<circle cx="107.49" cy="71.28" r="2.85" fill="#32CD32"/>
<circle cx="109.39" cy="14.93" r="2.85" fill="#32CD32"/>
<circle cx="111.28" cy="62.67" r="2.85" fill="#32CD32"/>
<circle cx="113.18" cy="13.81" r="2.85" fill="#32CD32"/>
<circle cx="115.08" cy="14.74" r="2.85" fill="#32CD32"/>
<circle cx="116.97" cy="70.34" r="2.85" fill="#32CD32"/>
<circle cx="118.87" cy="68.47" r="2.85" fill="#32CD32"/>
<circle cx="120.77" cy="49.56" r="2.85" fill="#32CD32"/>
<circle cx="122.66" cy="79.89" r="2.85" fill="#32CD32"/>
<circle cx="124.56" cy="13.25" r="2.85" fill="#32CD32"/>
<circle cx="126.46" cy="41.33" r="2.85" fill="#32CD32"/>
<circle cx="128.36" cy="19.24" r="2.85" fill="#32CD32"/>
<circle cx="130.25" cy="16.24" r="2.85" fill="#32CD32"/>
<circle cx="132.15" cy="58.74" r="2.85" fill="#32CD32"/>
<circle cx="134.05" cy="66.41" r="2.85" fill="#32CD32"/>
<circle cx="135.94" cy="126.69" r="2.85" fill="#32CD32"/>
<circle cx="137.84" cy="125.94" r="2.85" fill="#32CD32"/>
<circle cx="139.74" cy="44.32" r="2.85" fill="#32CD32"/>
<circle cx="141.64" cy="62.67" r="2.85" fill="#32CD32"/>
<circle cx="143.53" cy="61.73" r="2.85" fill="#32CD32"/>
<circle cx="145.43" cy="15.68" r="2.85" fill="#32CD32"/>
<circle cx="147.33" cy="42.45" r="2.85" fill="#32CD32"/>
<circle cx="149.22" cy="163.57" r="2.85" fill="#32CD32"/>
<circle cx="151.12" cy="14.74" r="2.85" fill="#32CD32"/>
<circle cx="153.02" cy="11.37" r="2.85" fill="#32CD32"/>
<circle cx="154.91" cy="50.12" r="2.85" fill="#32CD32"/>
<circle cx="156.81" cy="11" r="2.85" fill="#32CD32"/>
<circle cx="158.71" cy="116.39" r="2.85" fill="#32CD32"/>
<circle cx="160.61" cy="21.11" r="2.85" fill="#32CD32"/>
<circle cx="162.5" cy="105.72" r="2.85" fill="#32CD32"/>
<circle cx="164.4" cy="29.72" r="2.85" fill="#32CD32"/>
<circle cx="166.3" cy="64.54" r="2.85" fill="#32CD32"/>
<circle cx="168.19" cy="77.08" r="2.85" fill="#32CD32"/>
<circle cx="170.09" cy="105.35" r="2.85" fill="#32CD32"/>
<circle cx="171.99" cy="11.56" r="2.85" fill="#32CD32"/>
<circle cx="173.89" cy="12.5" r="2.85" fill="#32CD32"/>
<circle cx="175.78" cy="11.19" r="2.85" fill="#32CD32"/>
<circle cx="177.68" cy="61.73" r="2.85" fill="#32CD32"/>
<circle cx="179.58" cy="197.26" r="2.85" fill="#32CD32"/>
<circle cx="181.47" cy="108.16" r="2.85" fill="#32CD32"/>
<circle cx="183.37" cy="62.67" r="2.85" fill="#32CD32"/>
<circle cx="185.27" cy="61.73" r="2.85" fill="#32CD32"/>
<circle cx="187.16" cy="75.96" r="2.85" fill="#32CD32"/>
<circle cx="189.06" cy="13.43" r="2.85" fill="#32CD32"/>
<circle cx="190.96" cy="11.56" r="2.85" fill="#32CD32"/>
<circle cx="192.86" cy="23.17" r="2.85" fill="#32CD32"/>
<circle cx="194.75" cy="11.56" r="2.85" fill="#32CD32"/>
<circle cx="196.65" cy="135.68" r="2.85" fill="#32CD32"/>
<circle cx="198.55" cy="11.56" r="2.85" fill="#32CD32"/>
<circle cx="200.44" cy="197.26" r="2.85" fill="#32CD32"/>
<circle cx="202.34" cy="198.2" r="2.85" fill="#32CD32"/>
<circle cx="204.24" cy="68.47" r="2.85" fill="#32CD32"/>
<circle cx="206.14" cy="13.43" r="2.85" fill="#32CD32"/>
<circle cx="208.03" cy="68.47" r="2.85" fill="#32CD32"/>
<circle cx="209.93" cy="63.6" r="2.85" fill="#32CD32"/>
<circle cx="211.83" cy="11" r="2.85" fill="#32CD32"/>
<circle cx="213.72" cy="75.21" r="2.85" fill="#32CD32"/>
<circle cx="215.62" cy="11" r="2.85" fill="#32CD32"/>
<circle cx="217.52" cy="61.73" r="2.85" fill="#32CD32"/>
<circle cx="219.41" cy="14.56" r="2.85" fill="#32CD32"/>
<circle cx="221.31" cy="66.41" r="2.85" fill="#32CD32"/>
<circle cx="223.21" cy="28.78" r="2.85" fill="#32CD32"/>
<circle cx="225.11" cy="11.56" r="2.85" fill="#32CD32"/>
<circle cx="227" cy="12.5" r="2.85" fill="#32CD32"/>
<circle cx="228.9" cy="24.1" r="2.85" fill="#32CD32"/>
<circle cx="230.8" cy="61.73" r="2.85" fill="#32CD32"/>
<circle cx="232.69" cy="36.65" r="2.85" fill="#32CD32"/>
<circle cx="234.59" cy="11.56" r="2.85" fill="#32CD32"/>
<circle cx="236.49" cy="13.43" r="2.85" fill="#32CD32"/>
<circle cx="238.39" cy="11.56" r="2.85" fill="#32CD32"/>
<circle cx="240.28" cy="13.43" r="2.85" fill="#32CD32"/>
<circle cx="242.18" cy="196.33" r="2.85" fill="#32CD32"/>
<circle cx="244.08" cy="29.91" r="2.85" fill="#32CD32"/>
<circle cx="245.97" cy="44.32" r="2.85" fill="#32CD32"/>
<circle cx="247.87" cy="59.67" r="2.85" fill="#32CD32"/>
<circle cx="249.77" cy="158.89" r="2.85" fill="#32CD32"/>
<circle cx="251.66" cy="165.07" r="2.85" fill="#32CD32"/>
<circle cx="253.56" cy="198.2" r="2.85" fill="#32CD32"/>
<circle cx="255.46" cy="111.15" r="2.85" fill="#32CD32"/>
<circle cx="257.36" cy="48.07" r="2.85" fill="#32CD32"/>
<circle cx="259.25" cy="11.56" r="2.85" fill="#32CD32"/>
<circle cx="261.15" cy="81.01" r="2.85" fill="#32CD32"/>
<circle cx="263.05" cy="11.56" r="2.85" fill="#32CD32"/>
<circle cx="264.94" cy="11.56" r="2.85" fill="#32CD32"/>
<circle cx="266.84" cy="103.85" r="2.85" fill="#32CD32"/>
<circle cx="268.74" cy="63.6" r="2.85" fill="#32CD32"/>
<circle cx="270.64" cy="166" r="2.85" fill="#32CD32"/>
<circle cx="272.53" cy="11.56" r="2.85" fill="#32CD32"/>
<circle cx="274.43" cy="28.78" r="2.85" fill="#32CD32"/>
<circle cx="276.33" cy="112.46" r="2.85" fill="#32CD32"/>
<circle cx="278.22" cy="63.6" r="2.85" fill="#32CD32"/>
<circle cx="280.12" cy="65.48" r="2.85" fill="#32CD32"/>
<circle cx="282.02" cy="104.04" r="2.85" fill="#32CD32"/>
<circle cx="283.91" cy="11.56" r="2.85" fill="#32CD32"/>
<circle cx="285.81" cy="198.2" r="2.85" fill="#32CD32"/>
<circle cx="287.71" cy="161.32" r="2.85" fill="#32CD32"/>
<circle cx="289.61" cy="41.33" r="2.85" fill="#32CD32"/>
<circle cx="291.5" cy="96.36" r="2.85" fill="#32CD32"/>
<polyline points="35.4,116.27 37.3,124.14 39.19,116.98 41.09,109.82 42.99,131.66 44.89,124.14 46.78,132.74 48.68,123.07 50.58,115.37 52.47,107.68 54.37,132.74 56.27,111.08 58.16,89.42 60.06,120.21 61.96,131.66 63.86,121.64 65.75,111.61 67.65,132.74 69.55,130.95 71.44,121.82 73.34,112.69 75.24,117.88 77.14,123.07 79.03,109.82 80.93,113.05 82.83,116.27 84.72,120.21 86.62,104.81 88.52,89.42 90.41,120.21 92.31,126.47 94.21,132.74 96.11,133.81 98,116.27 99.9,131.66 101.8,103.02 103.69,132.74 105.59,75.1 107.49,94.07 109.39,131.66 111.28,116.27 113.18,131.66 115.08,131.66 116.97,131.66 118.87,133.81 120.77,105.89 122.66,77.96 124.56,99.08 126.46,120.21 128.36,96.22 130.25,123.07 132.15,117.88 134.05,112.69 135.94,122.17 137.84,131.66 139.74,125.93 141.64,125.93 143.53,125.93 145.43,131.66 147.33,118.77 149.22,105.89 151.12,131.66 153.02,120.21 154.91,108.75 156.81,131.66 158.71,129.87 160.61,128.08 162.5,127.01 164.4,131.66 166.3,121.64 168.19,111.61 170.09,130.95 171.99,128.98 173.89,127.01 175.78,117.34 177.68,115.02 179.58,112.69 181.47,131.66 183.37,125.22 185.27,122.71 187.16,120.21 189.06,125.58 190.96,130.95 192.86,88.34 194.75,132.74 196.65,130.95 198.55,132.74 200.44,131.66 202.34,127.9 204.24,124.14 206.14,111.61 208.03,99.08 209.93,129.87 211.83,114.48 213.72,99.08 215.62,128.08 217.52,125.58 219.41,123.07 221.31,124.14 223.21,122.35 225.11,120.92 227,119.49 228.9,127.01 230.8,122.83 232.69,118.65 234.59,114.48 236.49,131.66 238.39,127.37 240.28,123.07 242.18,132.74 244.08,99.08 245.97,124.14 247.87,112.15 249.77,100.16 251.66,130.95 253.56,111.61 255.46,92.28 257.36,109.11 259.25,125.93 261.15,82.62 263.05,107.14 264.94,131.66 266.84,98.01 268.74,114.48 270.64,130.95 272.53,103.02 274.43,115.55 276.33,128.08 278.22,109.82 280.12,116.98 282.02,124.14 283.91,131.66 285.81,116.8 287.71,101.95 289.61,116.8 291.5,131.66" fill="none" stroke="#E8086A" stroke-width="1.25" stroke-linejoin="round"/>
</g>
<rect x="35.4" y="1.6" width="258" height="205.9" fill="none" stroke="#000" stroke-width="0.7"/>
<line x1="32.5" y1="198.2" x2="35.4" y2="198.2" stroke="#000" stroke-width="0.7"/>
<text x="29.5" y="201.2" text-anchor="end" fill="#000" stroke="#000" stroke-width="0.18" font-size="8.3" textLength="13.2" lengthAdjust="spacingAndGlyphs">0.0</text>
<line x1="32.5" y1="160.76" x2="35.4" y2="160.76" stroke="#000" stroke-width="0.7"/>
<text x="29.5" y="163.76" text-anchor="end" fill="#000" stroke="#000" stroke-width="0.18" font-size="8.3" textLength="13.2" lengthAdjust="spacingAndGlyphs">0.2</text>
<line x1="32.5" y1="123.32" x2="35.4" y2="123.32" stroke="#000" stroke-width="0.7"/>
<text x="29.5" y="126.32" text-anchor="end" fill="#000" stroke="#000" stroke-width="0.18" font-size="8.3" textLength="13.2" lengthAdjust="spacingAndGlyphs">0.4</text>
<line x1="32.5" y1="85.88" x2="35.4" y2="85.88" stroke="#000" stroke-width="0.7"/>
<text x="29.5" y="88.88" text-anchor="end" fill="#000" stroke="#000" stroke-width="0.18" font-size="8.3" textLength="13.2" lengthAdjust="spacingAndGlyphs">0.6</text>
<line x1="32.5" y1="48.44" x2="35.4" y2="48.44" stroke="#000" stroke-width="0.7"/>
<text x="29.5" y="51.44" text-anchor="end" fill="#000" stroke="#000" stroke-width="0.18" font-size="8.3" textLength="13.2" lengthAdjust="spacingAndGlyphs">0.8</text>
<line x1="32.5" y1="11" x2="35.4" y2="11" stroke="#000" stroke-width="0.7"/>
<text x="29.5" y="14" text-anchor="end" fill="#000" stroke="#000" stroke-width="0.18" font-size="8.3" textLength="13.2" lengthAdjust="spacingAndGlyphs">1.0</text>
<line x1="35.4" y1="207.5" x2="35.4" y2="210.4" stroke="#000" stroke-width="0.7"/>
<text x="35.4" y="219.9" text-anchor="middle" fill="#000" stroke="#000" stroke-width="0.18" font-size="8.3" textLength="5.28" lengthAdjust="spacingAndGlyphs">0</text>
<line x1="73.34" y1="207.5" x2="73.34" y2="210.4" stroke="#000" stroke-width="0.7"/>
<text x="73.34" y="219.9" text-anchor="middle" fill="#000" stroke="#000" stroke-width="0.18" font-size="8.3" textLength="10.56" lengthAdjust="spacingAndGlyphs">20</text>
<line x1="111.28" y1="207.5" x2="111.28" y2="210.4" stroke="#000" stroke-width="0.7"/>
<text x="111.28" y="219.9" text-anchor="middle" fill="#000" stroke="#000" stroke-width="0.18" font-size="8.3" textLength="10.56" lengthAdjust="spacingAndGlyphs">40</text>
<line x1="149.22" y1="207.5" x2="149.22" y2="210.4" stroke="#000" stroke-width="0.7"/>
<text x="149.22" y="219.9" text-anchor="middle" fill="#000" stroke="#000" stroke-width="0.18" font-size="8.3" textLength="10.56" lengthAdjust="spacingAndGlyphs">60</text>
<line x1="187.16" y1="207.5" x2="187.16" y2="210.4" stroke="#000" stroke-width="0.7"/>
<text x="187.16" y="219.9" text-anchor="middle" fill="#000" stroke="#000" stroke-width="0.18" font-size="8.3" textLength="10.56" lengthAdjust="spacingAndGlyphs">80</text>
<line x1="225.11" y1="207.5" x2="225.11" y2="210.4" stroke="#000" stroke-width="0.7"/>
<text x="225.11" y="219.9" text-anchor="middle" fill="#000" stroke="#000" stroke-width="0.18" font-size="8.3" textLength="15.84" lengthAdjust="spacingAndGlyphs">100</text>
<line x1="263.05" y1="207.5" x2="263.05" y2="210.4" stroke="#000" stroke-width="0.7"/>
<text x="263.05" y="219.9" text-anchor="middle" fill="#000" stroke="#000" stroke-width="0.18" font-size="8.3" textLength="15.84" lengthAdjust="spacingAndGlyphs">120</text>
<line x1="293.4" y1="171.4" x2="296.3" y2="171.4" stroke="red" stroke-width="0.7"/>
<text x="299.8" y="174.4" text-anchor="start" fill="red" stroke="red" stroke-width="0.18" font-size="8.3" textLength="20.15" lengthAdjust="spacingAndGlyphs">−0.1</text>
<line x1="293.4" y1="135.6" x2="296.3" y2="135.6" stroke="red" stroke-width="0.7"/>
<text x="299.8" y="138.6" text-anchor="start" fill="red" stroke="red" stroke-width="0.18" font-size="8.3" textLength="13.2" lengthAdjust="spacingAndGlyphs">0.0</text>
<line x1="293.4" y1="99.8" x2="296.3" y2="99.8" stroke="red" stroke-width="0.7"/>
<text x="299.8" y="102.8" text-anchor="start" fill="red" stroke="red" stroke-width="0.18" font-size="8.3" textLength="13.2" lengthAdjust="spacingAndGlyphs">0.1</text>
<line x1="293.4" y1="64" x2="296.3" y2="64" stroke="red" stroke-width="0.7"/>
<text x="299.8" y="67" text-anchor="start" fill="red" stroke="red" stroke-width="0.18" font-size="8.3" textLength="13.2" lengthAdjust="spacingAndGlyphs">0.2</text>
<line x1="293.4" y1="28.2" x2="296.3" y2="28.2" stroke="red" stroke-width="0.7"/>
<text x="299.8" y="31.2" text-anchor="start" fill="red" stroke="red" stroke-width="0.18" font-size="8.3" textLength="13.2" lengthAdjust="spacingAndGlyphs">0.3</text>
<text x="164.4" y="232.4" text-anchor="middle" fill="#000" stroke="#000" stroke-width="0.18" font-size="8.3" textLength="57.9" lengthAdjust="spacingAndGlyphs">Data Samples</text>
<text x="10.9" y="104.55" text-anchor="middle" fill="#000" stroke="#000" stroke-width="0.18" font-size="8.3" textLength="93.97" lengthAdjust="spacingAndGlyphs" transform="rotate(-90 10.9 104.55)">Target and Predictions</text>
<text x="330.8" y="105.35" text-anchor="middle" fill="red" stroke="red" stroke-width="0.18" font-size="8.3" textLength="20.56" lengthAdjust="spacingAndGlyphs" transform="rotate(-90 330.8 105.35)">Error</text>
<rect x="39.55" y="5.75" width="73.35" height="40" rx="1.7" fill="#fff" fill-opacity="0.8" stroke="#cccccc" stroke-width="0.7"/>
<rect x="42.88" y="10.05" width="16.67" height="5.8" fill="#C3F3C3"/>
<text x="66.22" y="15.95" text-anchor="start" fill="#000" stroke="#000" stroke-width="0.18" font-size="8.3" textLength="34.02" lengthAdjust="spacingAndGlyphs">Test Set</text>
<line x1="42.88" y1="25.25" x2="59.55" y2="25.25" stroke="#000" stroke-width="0.9"/>
<path d="M51.22 21.85 L51.98 24.2 L54.45 24.2 L52.46 25.65 L53.22 28 L51.22 26.55 L49.22 28 L49.98 25.65 L47.99 24.2 L50.46 24.2Z" fill="#fff" stroke="#000" stroke-width="1.0"/>
<text x="66.22" y="28.25" text-anchor="start" fill="#000" stroke="#000" stroke-width="0.18" font-size="8.3" textLength="26.15" lengthAdjust="spacingAndGlyphs">Actual</text>
<line x1="42.88" y1="37.55" x2="59.55" y2="37.55" stroke="#32CD32" stroke-width="1.5"/>
<circle cx="51.22" cy="37.55" r="2.85" fill="#32CD32"/>
<text x="66.22" y="40.55" text-anchor="start" fill="#000" stroke="#000" stroke-width="0.18" font-size="8.3" textLength="43.35" lengthAdjust="spacingAndGlyphs">AVOA-MLP</text>
<rect x="104.05" y="5.75" width="50.56" height="14.5" rx="1.7" fill="#fff" fill-opacity="0.8" stroke="#cccccc" stroke-width="0.7"/>
<line x1="107.38" y1="12.95" x2="124.05" y2="12.95" stroke="#E8086A" stroke-width="1.25"/>
<text x="130.72" y="15.95" text-anchor="start" fill="#000" stroke="#000" stroke-width="0.18" font-size="8.3" textLength="20.56" lengthAdjust="spacingAndGlyphs">Error</text>
<clipPath id="c1"><rect x="388.6" y="1.6" width="257.8" height="205.9"/></clipPath>
<rect x="593.32" y="1.6" width="53.08" height="205.9" fill="#C3F3C3"/>
<g clip-path="url(#c1)">
<polyline points="388.6,29.72 390.5,135.49 392.39,24.1 394.29,16.62 396.18,29.72 398.08,191.27 399.97,178.54 401.87,20.36 403.76,165.81 405.66,157.02 407.56,12.87 409.45,12.87 411.35,118.27 413.24,11 415.14,33.46 417.03,12.87 418.93,48.44 420.83,58.74 422.72,193.89 424.62,62.67 426.51,24.1 428.41,33.46 430.3,66.41 432.2,182.66 434.09,161.13 435.99,12.87 437.89,33.46 439.78,107.03 441.68,49 443.57,39.08 445.47,174.43 447.36,58.74 449.26,197.45 451.15,12.87 453.05,12.87 454.95,83.82 456.84,74.65 458.74,52 460.63,90.56 462.53,29.72 464.42,35.71 466.32,12.87 468.21,16.62 470.11,72.78 472.01,63.42 473.9,51.06 475.8,74.65 477.69,18.3 479.59,39.45 481.48,35.71 483.38,32.72 485.27,64.54 487.17,55.93 489.07,129.87 490.96,127.06 492.86,40.39 494.75,63.42 496.65,66.41 498.54,12.87 500.44,36.65 502.34,148.22 504.23,11 506.13,36.65 508.02,36.65 509.92,13.43 511.81,115.83 513.71,25.04 515.6,101.42 517.5,25.04 519.4,62.67 521.29,78.02 523.19,104.23 525.08,33.46 526.98,12.5 528.87,12.87 530.77,55.93 532.66,186.41 534.56,110.22 536.46,68.47 538.35,57.8 540.25,68.47 542.14,21.11 544.04,13.43 545.93,46.19 547.83,11 549.73,132.68 551.62,12.5 553.52,196.33 555.41,197.64 557.31,70.34 559.2,16.62 561.1,87.75 562.99,64.54 564.89,12.5 566.79,94.49 568.68,12.5 570.58,67.16 572.47,12.5 574.37,73.15 576.26,20.36 578.16,17.36 580.05,20.36 581.95,21.11 583.85,66.41 585.74,33.65 587.64,24.1 589.53,12.5 591.43,12.5 593.32,22.23 595.22,195.95 597.11,48.07 599.01,65.48 600.91,34.59 602.8,140.17 604.7,169.93 606.59,197.64 608.49,121.07 610.38,39.45 612.28,13.43 614.17,56.86 616.07,12.5 617.97,12.5 619.86,123.32 621.76,59.67 623.65,152.34 625.55,15.49 627.44,34.59 629.34,125.57 631.24,73.15 633.13,68.47 635.03,99.17 636.92,13.43 638.82,196.33 640.71,143.91 642.61,34.59 644.5,95.43" fill="none" stroke="#000" stroke-width="1.1" stroke-linejoin="round"/>
<path d="M388.6 26.32 L389.36 28.67 L391.83 28.67 L389.84 30.12 L390.6 32.47 L388.6 31.02 L386.6 32.47 L387.36 30.12 L385.37 28.67 L387.84 28.67Z" fill="#fff" stroke="#000" stroke-width="1.0"/>
<path d="M390.5 132.09 L391.26 134.44 L393.73 134.44 L391.73 135.89 L392.49 138.24 L390.5 136.79 L388.5 138.24 L389.26 135.89 L387.26 134.44 L389.73 134.44Z" fill="#fff" stroke="#000" stroke-width="1.0"/>
<path d="M392.39 20.7 L393.15 23.05 L395.62 23.05 L393.63 24.51 L394.39 26.85 L392.39 25.4 L390.39 26.85 L391.16 24.51 L389.16 23.05 L391.63 23.05Z" fill="#fff" stroke="#000" stroke-width="1.0"/>
<path d="M394.29 13.22 L395.05 15.57 L397.52 15.57 L395.52 17.02 L396.29 19.37 L394.29 17.91 L392.29 19.37 L393.05 17.02 L391.05 15.57 L393.52 15.57Z" fill="#fff" stroke="#000" stroke-width="1.0"/>
<path d="M396.18 26.32 L396.95 28.67 L399.42 28.67 L397.42 30.12 L398.18 32.47 L396.18 31.02 L394.18 32.47 L394.95 30.12 L392.95 28.67 L395.42 28.67Z" fill="#fff" stroke="#000" stroke-width="1.0"/>
<path d="M398.08 187.87 L398.84 190.22 L401.31 190.22 L399.31 191.67 L400.08 194.02 L398.08 192.57 L396.08 194.02 L396.84 191.67 L394.84 190.22 L397.31 190.22Z" fill="#fff" stroke="#000" stroke-width="1.0"/>
<path d="M399.97 175.14 L400.74 177.49 L403.21 177.49 L401.21 178.95 L401.97 181.29 L399.97 179.84 L397.98 181.29 L398.74 178.95 L396.74 177.49 L399.21 177.49Z" fill="#fff" stroke="#000" stroke-width="1.0"/>
<path d="M401.87 16.96 L402.63 19.31 L405.1 19.31 L403.1 20.76 L403.87 23.11 L401.87 21.66 L399.87 23.11 L400.63 20.76 L398.64 19.31 L401.11 19.31Z" fill="#fff" stroke="#000" stroke-width="1.0"/>
<path d="M403.76 162.41 L404.53 164.76 L407 164.76 L405 166.22 L405.76 168.57 L403.76 167.11 L401.77 168.57 L402.53 166.22 L400.53 164.76 L403 164.76Z" fill="#fff" stroke="#000" stroke-width="1.0"/>
<path d="M405.66 153.62 L406.42 155.97 L408.89 155.97 L406.9 157.42 L407.66 159.77 L405.66 158.31 L403.66 159.77 L404.43 157.42 L402.43 155.97 L404.9 155.97Z" fill="#fff" stroke="#000" stroke-width="1.0"/>
<path d="M407.56 9.47 L408.32 11.82 L410.79 11.82 L408.79 13.27 L409.55 15.62 L407.56 14.17 L405.56 15.62 L406.32 13.27 L404.32 11.82 L406.79 11.82Z" fill="#fff" stroke="#000" stroke-width="1.0"/>
<path d="M409.45 9.47 L410.21 11.82 L412.69 11.82 L410.69 13.27 L411.45 15.62 L409.45 14.17 L407.45 15.62 L408.22 13.27 L406.22 11.82 L408.69 11.82Z" fill="#fff" stroke="#000" stroke-width="1.0"/>
<path d="M411.35 114.87 L412.11 117.21 L414.58 117.21 L412.58 118.67 L413.35 121.02 L411.35 119.56 L409.35 121.02 L410.11 118.67 L408.11 117.21 L410.58 117.21Z" fill="#fff" stroke="#000" stroke-width="1.0"/>
<path d="M413.24 7.6 L414.01 9.95 L416.48 9.95 L414.48 11.4 L415.24 13.75 L413.24 12.3 L411.24 13.75 L412.01 11.4 L410.01 9.95 L412.48 9.95Z" fill="#fff" stroke="#000" stroke-width="1.0"/>
<path d="M415.14 30.06 L415.9 32.41 L418.37 32.41 L416.37 33.87 L417.14 36.21 L415.14 34.76 L413.14 36.21 L413.9 33.87 L411.9 32.41 L414.37 32.41Z" fill="#fff" stroke="#000" stroke-width="1.0"/>
<path d="M417.03 9.47 L417.8 11.82 L420.27 11.82 L418.27 13.27 L419.03 15.62 L417.03 14.17 L415.04 15.62 L415.8 13.27 L413.8 11.82 L416.27 11.82Z" fill="#fff" stroke="#000" stroke-width="1.0"/>
<path d="M418.93 45.04 L419.69 47.39 L422.16 47.39 L420.16 48.84 L420.93 51.19 L418.93 49.74 L416.93 51.19 L417.69 48.84 L415.7 47.39 L418.17 47.39Z" fill="#fff" stroke="#000" stroke-width="1.0"/>
<path d="M420.83 55.34 L421.59 57.69 L424.06 57.69 L422.06 59.14 L422.82 61.49 L420.83 60.03 L418.83 61.49 L419.59 59.14 L417.59 57.69 L420.06 57.69Z" fill="#fff" stroke="#000" stroke-width="1.0"/>
<path d="M422.72 190.49 L423.48 192.84 L425.95 192.84 L423.96 194.3 L424.72 196.65 L422.72 195.19 L420.72 196.65 L421.49 194.3 L419.49 192.84 L421.96 192.84Z" fill="#fff" stroke="#000" stroke-width="1.0"/>
<path d="M424.62 59.27 L425.38 61.62 L427.85 61.62 L425.85 63.07 L426.61 65.42 L424.62 63.97 L422.62 65.42 L423.38 63.07 L421.38 61.62 L423.85 61.62Z" fill="#fff" stroke="#000" stroke-width="1.0"/>
<path d="M426.51 20.7 L427.28 23.05 L429.75 23.05 L427.75 24.51 L428.51 26.85 L426.51 25.4 L424.51 26.85 L425.28 24.51 L423.28 23.05 L425.75 23.05Z" fill="#fff" stroke="#000" stroke-width="1.0"/>
<path d="M428.41 30.06 L429.17 32.41 L431.64 32.41 L429.64 33.87 L430.41 36.21 L428.41 34.76 L426.41 36.21 L427.17 33.87 L425.17 32.41 L427.64 32.41Z" fill="#fff" stroke="#000" stroke-width="1.0"/>
<path d="M430.3 63.01 L431.07 65.36 L433.54 65.36 L431.54 66.81 L432.3 69.16 L430.3 67.71 L428.3 69.16 L429.07 66.81 L427.07 65.36 L429.54 65.36Z" fill="#fff" stroke="#000" stroke-width="1.0"/>
<path d="M432.2 179.26 L432.96 181.61 L435.43 181.61 L433.43 183.06 L434.2 185.41 L432.2 183.96 L430.2 185.41 L430.96 183.06 L428.96 181.61 L431.44 181.61Z" fill="#fff" stroke="#000" stroke-width="1.0"/>
<path d="M434.09 157.73 L434.86 160.08 L437.33 160.08 L435.33 161.54 L436.09 163.89 L434.09 162.43 L432.1 163.89 L432.86 161.54 L430.86 160.08 L433.33 160.08Z" fill="#fff" stroke="#000" stroke-width="1.0"/>
<path d="M435.99 9.47 L436.75 11.82 L439.22 11.82 L437.22 13.27 L437.99 15.62 L435.99 14.17 L433.99 15.62 L434.75 13.27 L432.76 11.82 L435.23 11.82Z" fill="#fff" stroke="#000" stroke-width="1.0"/>
<path d="M437.89 30.06 L438.65 32.41 L441.12 32.41 L439.12 33.87 L439.88 36.21 L437.89 34.76 L435.89 36.21 L436.65 33.87 L434.65 32.41 L437.12 32.41Z" fill="#fff" stroke="#000" stroke-width="1.0"/>
<path d="M439.78 103.63 L440.54 105.98 L443.01 105.98 L441.02 107.43 L441.78 109.78 L439.78 108.33 L437.78 109.78 L438.55 107.43 L436.55 105.98 L439.02 105.98Z" fill="#fff" stroke="#000" stroke-width="1.0"/>
<path d="M441.68 45.6 L442.44 47.95 L444.91 47.95 L442.91 49.4 L443.67 51.75 L441.68 50.3 L439.68 51.75 L440.44 49.4 L438.44 47.95 L440.91 47.95Z" fill="#fff" stroke="#000" stroke-width="1.0"/>
<path d="M443.57 35.68 L444.34 38.03 L446.81 38.03 L444.81 39.48 L445.57 41.83 L443.57 40.38 L441.57 41.83 L442.34 39.48 L440.34 38.03 L442.81 38.03Z" fill="#fff" stroke="#000" stroke-width="1.0"/>
<path d="M445.47 171.03 L446.23 173.37 L448.7 173.37 L446.7 174.83 L447.47 177.18 L445.47 175.72 L443.47 177.18 L444.23 174.83 L442.23 173.37 L444.7 173.37Z" fill="#fff" stroke="#000" stroke-width="1.0"/>
<path d="M447.36 55.34 L448.13 57.69 L450.6 57.69 L448.6 59.14 L449.36 61.49 L447.36 60.03 L445.36 61.49 L446.13 59.14 L444.13 57.69 L446.6 57.69Z" fill="#fff" stroke="#000" stroke-width="1.0"/>
<path d="M449.26 194.05 L450.02 196.4 L452.49 196.4 L450.49 197.85 L451.26 200.2 L449.26 198.75 L447.26 200.2 L448.02 197.85 L446.03 196.4 L448.5 196.4Z" fill="#fff" stroke="#000" stroke-width="1.0"/>
<path d="M451.15 9.47 L451.92 11.82 L454.39 11.82 L452.39 13.27 L453.15 15.62 L451.15 14.17 L449.16 15.62 L449.92 13.27 L447.92 11.82 L450.39 11.82Z" fill="#fff" stroke="#000" stroke-width="1.0"/>
<path d="M453.05 9.47 L453.81 11.82 L456.28 11.82 L454.29 13.27 L455.05 15.62 L453.05 14.17 L451.05 15.62 L451.81 13.27 L449.82 11.82 L452.29 11.82Z" fill="#fff" stroke="#000" stroke-width="1.0"/>
<path d="M454.95 80.42 L455.71 82.77 L458.18 82.77 L456.18 84.22 L456.94 86.57 L454.95 85.12 L452.95 86.57 L453.71 84.22 L451.71 82.77 L454.18 82.77Z" fill="#fff" stroke="#000" stroke-width="1.0"/>
<path d="M456.84 71.25 L457.6 73.6 L460.07 73.6 L458.08 75.05 L458.84 77.4 L456.84 75.95 L454.84 77.4 L455.61 75.05 L453.61 73.6 L456.08 73.6Z" fill="#fff" stroke="#000" stroke-width="1.0"/>
<path d="M458.74 48.6 L459.5 50.95 L461.97 50.95 L459.97 52.4 L460.74 54.75 L458.74 53.3 L456.74 54.75 L457.5 52.4 L455.5 50.95 L457.97 50.95Z" fill="#fff" stroke="#000" stroke-width="1.0"/>
<path d="M460.63 87.16 L461.4 89.51 L463.87 89.51 L461.87 90.96 L462.63 93.31 L460.63 91.86 L458.63 93.31 L459.4 90.96 L457.4 89.51 L459.87 89.51Z" fill="#fff" stroke="#000" stroke-width="1.0"/>
<path d="M462.53 26.32 L463.29 28.67 L465.76 28.67 L463.76 30.12 L464.53 32.47 L462.53 31.02 L460.53 32.47 L461.29 30.12 L459.29 28.67 L461.76 28.67Z" fill="#fff" stroke="#000" stroke-width="1.0"/>
<path d="M464.42 32.31 L465.19 34.66 L467.66 34.66 L465.66 36.11 L466.42 38.46 L464.42 37.01 L462.43 38.46 L463.19 36.11 L461.19 34.66 L463.66 34.66Z" fill="#fff" stroke="#000" stroke-width="1.0"/>
<path d="M466.32 9.47 L467.08 11.82 L469.55 11.82 L467.55 13.27 L468.32 15.62 L466.32 14.17 L464.32 15.62 L465.08 13.27 L463.09 11.82 L465.56 11.82Z" fill="#fff" stroke="#000" stroke-width="1.0"/>
<path d="M468.21 13.22 L468.98 15.57 L471.45 15.57 L469.45 17.02 L470.21 19.37 L468.21 17.91 L466.22 19.37 L466.98 17.02 L464.98 15.57 L467.45 15.57Z" fill="#fff" stroke="#000" stroke-width="1.0"/>
<path d="M470.11 69.38 L470.87 71.73 L473.34 71.73 L471.35 73.18 L472.11 75.53 L470.11 74.07 L468.11 75.53 L468.88 73.18 L466.88 71.73 L469.35 71.73Z" fill="#fff" stroke="#000" stroke-width="1.0"/>
<path d="M472.01 60.02 L472.77 62.37 L475.24 62.37 L473.24 63.82 L474 66.17 L472.01 64.71 L470.01 66.17 L470.77 63.82 L468.77 62.37 L471.24 62.37Z" fill="#fff" stroke="#000" stroke-width="1.0"/>
<path d="M473.9 47.66 L474.66 50.01 L477.14 50.01 L475.14 51.46 L475.9 53.81 L473.9 52.36 L471.9 53.81 L472.67 51.46 L470.67 50.01 L473.14 50.01Z" fill="#fff" stroke="#000" stroke-width="1.0"/>
<path d="M475.8 71.25 L476.56 73.6 L479.03 73.6 L477.03 75.05 L477.8 77.4 L475.8 75.95 L473.8 77.4 L474.56 75.05 L472.56 73.6 L475.03 73.6Z" fill="#fff" stroke="#000" stroke-width="1.0"/>
<path d="M477.69 14.9 L478.46 17.25 L480.93 17.25 L478.93 18.7 L479.69 21.05 L477.69 19.6 L475.69 21.05 L476.46 18.7 L474.46 17.25 L476.93 17.25Z" fill="#fff" stroke="#000" stroke-width="1.0"/>
<path d="M479.59 36.05 L480.35 38.4 L482.82 38.4 L480.82 39.86 L481.59 42.21 L479.59 40.75 L477.59 42.21 L478.35 39.86 L476.35 38.4 L478.82 38.4Z" fill="#fff" stroke="#000" stroke-width="1.0"/>
<path d="M481.48 32.31 L482.25 34.66 L484.72 34.66 L482.72 36.11 L483.48 38.46 L481.48 37.01 L479.49 38.46 L480.25 36.11 L478.25 34.66 L480.72 34.66Z" fill="#fff" stroke="#000" stroke-width="1.0"/>
<path d="M483.38 29.32 L484.14 31.66 L486.61 31.66 L484.61 33.12 L485.38 35.47 L483.38 34.01 L481.38 35.47 L482.14 33.12 L480.15 31.66 L482.62 31.66Z" fill="#fff" stroke="#000" stroke-width="1.0"/>
<path d="M485.27 61.14 L486.04 63.49 L488.51 63.49 L486.51 64.94 L487.27 67.29 L485.27 65.84 L483.28 67.29 L484.04 64.94 L482.04 63.49 L484.51 63.49Z" fill="#fff" stroke="#000" stroke-width="1.0"/>
<path d="M487.17 52.53 L487.93 54.88 L490.4 54.88 L488.41 56.33 L489.17 58.68 L487.17 57.23 L485.17 58.68 L485.94 56.33 L483.94 54.88 L486.41 54.88Z" fill="#fff" stroke="#000" stroke-width="1.0"/>
<path d="M489.07 126.47 L489.83 128.82 L492.3 128.82 L490.3 130.27 L491.06 132.62 L489.07 131.17 L487.07 132.62 L487.83 130.27 L485.83 128.82 L488.3 128.82Z" fill="#fff" stroke="#000" stroke-width="1.0"/>
<path d="M490.96 123.66 L491.73 126.01 L494.2 126.01 L492.2 127.47 L492.96 129.81 L490.96 128.36 L488.96 129.81 L489.73 127.47 L487.73 126.01 L490.2 126.01Z" fill="#fff" stroke="#000" stroke-width="1.0"/>
<path d="M492.86 36.99 L493.62 39.34 L496.09 39.34 L494.09 40.79 L494.86 43.14 L492.86 41.69 L490.86 43.14 L491.62 40.79 L489.62 39.34 L492.09 39.34Z" fill="#fff" stroke="#000" stroke-width="1.0"/>
<path d="M494.75 60.02 L495.52 62.37 L497.99 62.37 L495.99 63.82 L496.75 66.17 L494.75 64.71 L492.75 66.17 L493.52 63.82 L491.52 62.37 L493.99 62.37Z" fill="#fff" stroke="#000" stroke-width="1.0"/>
<path d="M496.65 63.01 L497.41 65.36 L499.88 65.36 L497.88 66.81 L498.65 69.16 L496.65 67.71 L494.65 69.16 L495.41 66.81 L493.41 65.36 L495.89 65.36Z" fill="#fff" stroke="#000" stroke-width="1.0"/>
<path d="M498.54 9.47 L499.31 11.82 L501.78 11.82 L499.78 13.27 L500.54 15.62 L498.54 14.17 L496.55 15.62 L497.31 13.27 L495.31 11.82 L497.78 11.82Z" fill="#fff" stroke="#000" stroke-width="1.0"/>
<path d="M500.44 33.25 L501.2 35.6 L503.67 35.6 L501.67 37.05 L502.44 39.4 L500.44 37.95 L498.44 39.4 L499.2 37.05 L497.21 35.6 L499.68 35.6Z" fill="#fff" stroke="#000" stroke-width="1.0"/>
<path d="M502.34 144.82 L503.1 147.17 L505.57 147.17 L503.57 148.62 L504.33 150.97 L502.34 149.52 L500.34 150.97 L501.1 148.62 L499.1 147.17 L501.57 147.17Z" fill="#fff" stroke="#000" stroke-width="1.0"/>
<path d="M504.23 7.6 L504.99 9.95 L507.46 9.95 L505.47 11.4 L506.23 13.75 L504.23 12.3 L502.23 13.75 L503 11.4 L501 9.95 L503.47 9.95Z" fill="#fff" stroke="#000" stroke-width="1.0"/>
<path d="M506.13 33.25 L506.89 35.6 L509.36 35.6 L507.36 37.05 L508.12 39.4 L506.13 37.95 L504.13 39.4 L504.89 37.05 L502.89 35.6 L505.36 35.6Z" fill="#fff" stroke="#000" stroke-width="1.0"/>
<path d="M508.02 33.25 L508.79 35.6 L511.26 35.6 L509.26 37.05 L510.02 39.4 L508.02 37.95 L506.02 39.4 L506.79 37.05 L504.79 35.6 L507.26 35.6Z" fill="#fff" stroke="#000" stroke-width="1.0"/>
<path d="M509.92 10.03 L510.68 12.38 L513.15 12.38 L511.15 13.83 L511.92 16.18 L509.92 14.73 L507.92 16.18 L508.68 13.83 L506.68 12.38 L509.15 12.38Z" fill="#fff" stroke="#000" stroke-width="1.0"/>
<path d="M511.81 112.43 L512.58 114.78 L515.05 114.78 L513.05 116.23 L513.81 118.58 L511.81 117.13 L509.81 118.58 L510.58 116.23 L508.58 114.78 L511.05 114.78Z" fill="#fff" stroke="#000" stroke-width="1.0"/>
<path d="M513.71 21.64 L514.47 23.99 L516.94 23.99 L514.94 25.44 L515.71 27.79 L513.71 26.34 L511.71 27.79 L512.47 25.44 L510.48 23.99 L512.95 23.99Z" fill="#fff" stroke="#000" stroke-width="1.0"/>
<path d="M515.6 98.02 L516.37 100.37 L518.84 100.37 L516.84 101.82 L517.6 104.17 L515.6 102.72 L513.61 104.17 L514.37 101.82 L512.37 100.37 L514.84 100.37Z" fill="#fff" stroke="#000" stroke-width="1.0"/>
<path d="M517.5 21.64 L518.26 23.99 L520.73 23.99 L518.74 25.44 L519.5 27.79 L517.5 26.34 L515.5 27.79 L516.26 25.44 L514.27 23.99 L516.74 23.99Z" fill="#fff" stroke="#000" stroke-width="1.0"/>
<path d="M519.4 59.27 L520.16 61.62 L522.63 61.62 L520.63 63.07 L521.39 65.42 L519.4 63.97 L517.4 65.42 L518.16 63.07 L516.16 61.62 L518.63 61.62Z" fill="#fff" stroke="#000" stroke-width="1.0"/>
<path d="M521.29 74.62 L522.05 76.97 L524.52 76.97 L522.53 78.42 L523.29 80.77 L521.29 79.32 L519.29 80.77 L520.06 78.42 L518.06 76.97 L520.53 76.97Z" fill="#fff" stroke="#000" stroke-width="1.0"/>
<path d="M523.19 100.83 L523.95 103.17 L526.42 103.17 L524.42 104.63 L525.19 106.98 L523.19 105.52 L521.19 106.98 L521.95 104.63 L519.95 103.17 L522.42 103.17Z" fill="#fff" stroke="#000" stroke-width="1.0"/>
<path d="M525.08 30.06 L525.85 32.41 L528.32 32.41 L526.32 33.87 L527.08 36.21 L525.08 34.76 L523.08 36.21 L523.85 33.87 L521.85 32.41 L524.32 32.41Z" fill="#fff" stroke="#000" stroke-width="1.0"/>
<path d="M526.98 9.1 L527.74 11.45 L530.21 11.45 L528.21 12.9 L528.98 15.25 L526.98 13.8 L524.98 15.25 L525.74 12.9 L523.74 11.45 L526.21 11.45Z" fill="#fff" stroke="#000" stroke-width="1.0"/>
<path d="M528.87 9.47 L529.64 11.82 L532.11 11.82 L530.11 13.27 L530.87 15.62 L528.87 14.17 L526.88 15.62 L527.64 13.27 L525.64 11.82 L528.11 11.82Z" fill="#fff" stroke="#000" stroke-width="1.0"/>
<path d="M530.77 52.53 L531.53 54.88 L534 54.88 L532 56.33 L532.77 58.68 L530.77 57.23 L528.77 58.68 L529.53 56.33 L527.54 54.88 L530.01 54.88Z" fill="#fff" stroke="#000" stroke-width="1.0"/>
<path d="M532.66 183.01 L533.43 185.36 L535.9 185.36 L533.9 186.81 L534.66 189.16 L532.66 187.71 L530.67 189.16 L531.43 186.81 L529.43 185.36 L531.9 185.36Z" fill="#fff" stroke="#000" stroke-width="1.0"/>
<path d="M534.56 106.82 L535.32 109.17 L537.79 109.17 L535.8 110.62 L536.56 112.97 L534.56 111.51 L532.56 112.97 L533.33 110.62 L531.33 109.17 L533.8 109.17Z" fill="#fff" stroke="#000" stroke-width="1.0"/>
<path d="M536.46 65.07 L537.22 67.42 L539.69 67.42 L537.69 68.87 L538.45 71.22 L536.46 69.77 L534.46 71.22 L535.22 68.87 L533.22 67.42 L535.69 67.42Z" fill="#fff" stroke="#000" stroke-width="1.0"/>
<path d="M538.35 54.4 L539.11 56.75 L541.59 56.75 L539.59 58.2 L540.35 60.55 L538.35 59.1 L536.35 60.55 L537.12 58.2 L535.12 56.75 L537.59 56.75Z" fill="#fff" stroke="#000" stroke-width="1.0"/>
<path d="M540.25 65.07 L541.01 67.42 L543.48 67.42 L541.48 68.87 L542.25 71.22 L540.25 69.77 L538.25 71.22 L539.01 68.87 L537.01 67.42 L539.48 67.42Z" fill="#fff" stroke="#000" stroke-width="1.0"/>
<path d="M542.14 17.71 L542.91 20.06 L545.38 20.06 L543.38 21.51 L544.14 23.86 L542.14 22.41 L540.14 23.86 L540.91 21.51 L538.91 20.06 L541.38 20.06Z" fill="#fff" stroke="#000" stroke-width="1.0"/>
<path d="M544.04 10.03 L544.8 12.38 L547.27 12.38 L545.27 13.83 L546.04 16.18 L544.04 14.73 L542.04 16.18 L542.8 13.83 L540.8 12.38 L543.27 12.38Z" fill="#fff" stroke="#000" stroke-width="1.0"/>
<path d="M545.93 42.79 L546.7 45.14 L549.17 45.14 L547.17 46.59 L547.93 48.94 L545.93 47.49 L543.94 48.94 L544.7 46.59 L542.7 45.14 L545.17 45.14Z" fill="#fff" stroke="#000" stroke-width="1.0"/>
<path d="M547.83 7.6 L548.59 9.95 L551.06 9.95 L549.06 11.4 L549.83 13.75 L547.83 12.3 L545.83 13.75 L546.59 11.4 L544.6 9.95 L547.07 9.95Z" fill="#fff" stroke="#000" stroke-width="1.0"/>
<path d="M549.73 129.28 L550.49 131.63 L552.96 131.63 L550.96 133.08 L551.72 135.43 L549.73 133.98 L547.73 135.43 L548.49 133.08 L546.49 131.63 L548.96 131.63Z" fill="#fff" stroke="#000" stroke-width="1.0"/>
<path d="M551.62 9.1 L552.38 11.45 L554.85 11.45 L552.86 12.9 L553.62 15.25 L551.62 13.8 L549.62 15.25 L550.39 12.9 L548.39 11.45 L550.86 11.45Z" fill="#fff" stroke="#000" stroke-width="1.0"/>
<path d="M553.52 192.93 L554.28 195.28 L556.75 195.28 L554.75 196.73 L555.51 199.08 L553.52 197.63 L551.52 199.08 L552.28 196.73 L550.28 195.28 L552.75 195.28Z" fill="#fff" stroke="#000" stroke-width="1.0"/>
<path d="M555.41 194.24 L556.18 196.59 L558.65 196.59 L556.65 198.04 L557.41 200.39 L555.41 198.94 L553.41 200.39 L554.18 198.04 L552.18 196.59 L554.65 196.59Z" fill="#fff" stroke="#000" stroke-width="1.0"/>
<path d="M557.31 66.94 L558.07 69.29 L560.54 69.29 L558.54 70.74 L559.31 73.09 L557.31 71.64 L555.31 73.09 L556.07 70.74 L554.07 69.29 L556.54 69.29Z" fill="#fff" stroke="#000" stroke-width="1.0"/>
<path d="M559.2 13.22 L559.97 15.57 L562.44 15.57 L560.44 17.02 L561.2 19.37 L559.2 17.91 L557.2 19.37 L557.97 17.02 L555.97 15.57 L558.44 15.57Z" fill="#fff" stroke="#000" stroke-width="1.0"/>
<path d="M561.1 84.35 L561.86 86.7 L564.33 86.7 L562.33 88.15 L563.1 90.5 L561.1 89.05 L559.1 90.5 L559.86 88.15 L557.86 86.7 L560.34 86.7Z" fill="#fff" stroke="#000" stroke-width="1.0"/>
<path d="M562.99 61.14 L563.76 63.49 L566.23 63.49 L564.23 64.94 L564.99 67.29 L562.99 65.84 L561 67.29 L561.76 64.94 L559.76 63.49 L562.23 63.49Z" fill="#fff" stroke="#000" stroke-width="1.0"/>
<path d="M564.89 9.1 L565.65 11.45 L568.12 11.45 L566.12 12.9 L566.89 15.25 L564.89 13.8 L562.89 15.25 L563.65 12.9 L561.66 11.45 L564.13 11.45Z" fill="#fff" stroke="#000" stroke-width="1.0"/>
<path d="M566.79 91.09 L567.55 93.44 L570.02 93.44 L568.02 94.89 L568.78 97.24 L566.79 95.79 L564.79 97.24 L565.55 94.89 L563.55 93.44 L566.02 93.44Z" fill="#fff" stroke="#000" stroke-width="1.0"/>
<path d="M568.68 9.1 L569.44 11.45 L571.91 11.45 L569.92 12.9 L570.68 15.25 L568.68 13.8 L566.68 15.25 L567.45 12.9 L565.45 11.45 L567.92 11.45Z" fill="#fff" stroke="#000" stroke-width="1.0"/>
<path d="M570.58 63.76 L571.34 66.11 L573.81 66.11 L571.81 67.56 L572.57 69.91 L570.58 68.46 L568.58 69.91 L569.34 67.56 L567.34 66.11 L569.81 66.11Z" fill="#fff" stroke="#000" stroke-width="1.0"/>
<path d="M572.47 9.1 L573.24 11.45 L575.71 11.45 L573.71 12.9 L574.47 15.25 L572.47 13.8 L570.47 15.25 L571.24 12.9 L569.24 11.45 L571.71 11.45Z" fill="#fff" stroke="#000" stroke-width="1.0"/>
<path d="M574.37 69.75 L575.13 72.1 L577.6 72.1 L575.6 73.55 L576.37 75.9 L574.37 74.45 L572.37 75.9 L573.13 73.55 L571.13 72.1 L573.6 72.1Z" fill="#fff" stroke="#000" stroke-width="1.0"/>
<path d="M576.26 16.96 L577.03 19.31 L579.5 19.31 L577.5 20.76 L578.26 23.11 L576.26 21.66 L574.26 23.11 L575.03 20.76 L573.03 19.31 L575.5 19.31Z" fill="#fff" stroke="#000" stroke-width="1.0"/>
<path d="M578.16 13.96 L578.92 16.31 L581.39 16.31 L579.39 17.77 L580.16 20.12 L578.16 18.66 L576.16 20.12 L576.92 17.77 L574.93 16.31 L577.4 16.31Z" fill="#fff" stroke="#000" stroke-width="1.0"/>
<path d="M580.05 16.96 L580.82 19.31 L583.29 19.31 L581.29 20.76 L582.05 23.11 L580.05 21.66 L578.06 23.11 L578.82 20.76 L576.82 19.31 L579.29 19.31Z" fill="#fff" stroke="#000" stroke-width="1.0"/>
<path d="M581.95 17.71 L582.71 20.06 L585.18 20.06 L583.19 21.51 L583.95 23.86 L581.95 22.41 L579.95 23.86 L580.71 21.51 L578.72 20.06 L581.19 20.06Z" fill="#fff" stroke="#000" stroke-width="1.0"/>
<path d="M583.85 63.01 L584.61 65.36 L587.08 65.36 L585.08 66.81 L585.84 69.16 L583.85 67.71 L581.85 69.16 L582.61 66.81 L580.61 65.36 L583.08 65.36Z" fill="#fff" stroke="#000" stroke-width="1.0"/>
<path d="M585.74 30.25 L586.5 32.6 L588.97 32.6 L586.98 34.05 L587.74 36.4 L585.74 34.95 L583.74 36.4 L584.51 34.05 L582.51 32.6 L584.98 32.6Z" fill="#fff" stroke="#000" stroke-width="1.0"/>
<path d="M587.64 20.7 L588.4 23.05 L590.87 23.05 L588.87 24.51 L589.64 26.85 L587.64 25.4 L585.64 26.85 L586.4 24.51 L584.4 23.05 L586.87 23.05Z" fill="#fff" stroke="#000" stroke-width="1.0"/>
<path d="M589.53 9.1 L590.3 11.45 L592.77 11.45 L590.77 12.9 L591.53 15.25 L589.53 13.8 L587.53 15.25 L588.3 12.9 L586.3 11.45 L588.77 11.45Z" fill="#fff" stroke="#000" stroke-width="1.0"/>
<path d="M591.43 9.1 L592.19 11.45 L594.66 11.45 L592.66 12.9 L593.43 15.25 L591.43 13.8 L589.43 15.25 L590.19 12.9 L588.19 11.45 L590.66 11.45Z" fill="#fff" stroke="#000" stroke-width="1.0"/>
<path d="M593.32 18.83 L594.09 21.18 L596.56 21.18 L594.56 22.63 L595.32 24.98 L593.32 23.53 L591.33 24.98 L592.09 22.63 L590.09 21.18 L592.56 21.18Z" fill="#fff" stroke="#000" stroke-width="1.0"/>
<path d="M595.22 192.55 L595.98 194.9 L598.45 194.9 L596.45 196.35 L597.22 198.7 L595.22 197.25 L593.22 198.7 L593.98 196.35 L591.99 194.9 L594.46 194.9Z" fill="#fff" stroke="#000" stroke-width="1.0"/>
<path d="M597.11 44.67 L597.88 47.01 L600.35 47.01 L598.35 48.47 L599.11 50.82 L597.11 49.36 L595.12 50.82 L595.88 48.47 L593.88 47.01 L596.35 47.01Z" fill="#fff" stroke="#000" stroke-width="1.0"/>
<path d="M599.01 62.08 L599.77 64.42 L602.24 64.42 L600.25 65.88 L601.01 68.23 L599.01 66.77 L597.01 68.23 L597.78 65.88 L595.78 64.42 L598.25 64.42Z" fill="#fff" stroke="#000" stroke-width="1.0"/>
<path d="M600.91 31.19 L601.67 33.54 L604.14 33.54 L602.14 34.99 L602.9 37.34 L600.91 35.89 L598.91 37.34 L599.67 34.99 L597.67 33.54 L600.14 33.54Z" fill="#fff" stroke="#000" stroke-width="1.0"/>
<path d="M602.8 136.77 L603.56 139.12 L606.04 139.12 L604.04 140.57 L604.8 142.92 L602.8 141.47 L600.8 142.92 L601.57 140.57 L599.57 139.12 L602.04 139.12Z" fill="#fff" stroke="#000" stroke-width="1.0"/>
<path d="M604.7 166.53 L605.46 168.88 L607.93 168.88 L605.93 170.33 L606.7 172.68 L604.7 171.23 L602.7 172.68 L603.46 170.33 L601.46 168.88 L603.93 168.88Z" fill="#fff" stroke="#000" stroke-width="1.0"/>
<path d="M606.59 194.24 L607.36 196.59 L609.83 196.59 L607.83 198.04 L608.59 200.39 L606.59 198.94 L604.59 200.39 L605.36 198.04 L603.36 196.59 L605.83 196.59Z" fill="#fff" stroke="#000" stroke-width="1.0"/>
<path d="M608.49 117.67 L609.25 120.02 L611.72 120.02 L609.72 121.47 L610.49 123.82 L608.49 122.37 L606.49 123.82 L607.25 121.47 L605.25 120.02 L607.72 120.02Z" fill="#fff" stroke="#000" stroke-width="1.0"/>
<path d="M610.38 36.05 L611.15 38.4 L613.62 38.4 L611.62 39.86 L612.38 42.21 L610.38 40.75 L608.39 42.21 L609.15 39.86 L607.15 38.4 L609.62 38.4Z" fill="#fff" stroke="#000" stroke-width="1.0"/>
<path d="M612.28 10.03 L613.04 12.38 L615.51 12.38 L613.51 13.83 L614.28 16.18 L612.28 14.73 L610.28 16.18 L611.04 13.83 L609.05 12.38 L611.52 12.38Z" fill="#fff" stroke="#000" stroke-width="1.0"/>
<path d="M614.17 53.46 L614.94 55.81 L617.41 55.81 L615.41 57.27 L616.17 59.61 L614.17 58.16 L612.18 59.61 L612.94 57.27 L610.94 55.81 L613.41 55.81Z" fill="#fff" stroke="#000" stroke-width="1.0"/>
<path d="M616.07 9.1 L616.83 11.45 L619.3 11.45 L617.31 12.9 L618.07 15.25 L616.07 13.8 L614.07 15.25 L614.84 12.9 L612.84 11.45 L615.31 11.45Z" fill="#fff" stroke="#000" stroke-width="1.0"/>
<path d="M617.97 9.1 L618.73 11.45 L621.2 11.45 L619.2 12.9 L619.96 15.25 L617.97 13.8 L615.97 15.25 L616.73 12.9 L614.73 11.45 L617.2 11.45Z" fill="#fff" stroke="#000" stroke-width="1.0"/>
<path d="M619.86 119.92 L620.63 122.27 L623.1 122.27 L621.1 123.72 L621.86 126.07 L619.86 124.62 L617.86 126.07 L618.63 123.72 L616.63 122.27 L619.1 122.27Z" fill="#fff" stroke="#000" stroke-width="1.0"/>
<path d="M621.76 56.27 L622.52 58.62 L624.99 58.62 L622.99 60.07 L623.76 62.42 L621.76 60.97 L619.76 62.42 L620.52 60.07 L618.52 58.62 L620.99 58.62Z" fill="#fff" stroke="#000" stroke-width="1.0"/>
<path d="M623.65 148.94 L624.42 151.29 L626.89 151.29 L624.89 152.74 L625.65 155.09 L623.65 153.63 L621.65 155.09 L622.42 152.74 L620.42 151.29 L622.89 151.29Z" fill="#fff" stroke="#000" stroke-width="1.0"/>
<path d="M625.55 12.09 L626.31 14.44 L628.78 14.44 L626.78 15.89 L627.55 18.24 L625.55 16.79 L623.55 18.24 L624.31 15.89 L622.31 14.44 L624.79 14.44Z" fill="#fff" stroke="#000" stroke-width="1.0"/>
<path d="M627.44 31.19 L628.21 33.54 L630.68 33.54 L628.68 34.99 L629.44 37.34 L627.44 35.89 L625.45 37.34 L626.21 34.99 L624.21 33.54 L626.68 33.54Z" fill="#fff" stroke="#000" stroke-width="1.0"/>
<path d="M629.34 122.17 L630.1 124.52 L632.57 124.52 L630.57 125.97 L631.34 128.32 L629.34 126.87 L627.34 128.32 L628.1 125.97 L626.11 124.52 L628.58 124.52Z" fill="#fff" stroke="#000" stroke-width="1.0"/>
<path d="M631.24 69.75 L632 72.1 L634.47 72.1 L632.47 73.55 L633.23 75.9 L631.24 74.45 L629.24 75.9 L630 73.55 L628 72.1 L630.47 72.1Z" fill="#fff" stroke="#000" stroke-width="1.0"/>
<path d="M633.13 65.07 L633.89 67.42 L636.36 67.42 L634.37 68.87 L635.13 71.22 L633.13 69.77 L631.13 71.22 L631.9 68.87 L629.9 67.42 L632.37 67.42Z" fill="#fff" stroke="#000" stroke-width="1.0"/>
<path d="M635.03 95.77 L635.79 98.12 L638.26 98.12 L636.26 99.57 L637.02 101.92 L635.03 100.47 L633.03 101.92 L633.79 99.57 L631.79 98.12 L634.26 98.12Z" fill="#fff" stroke="#000" stroke-width="1.0"/>
<path d="M636.92 10.03 L637.69 12.38 L640.16 12.38 L638.16 13.83 L638.92 16.18 L636.92 14.73 L634.92 16.18 L635.69 13.83 L633.69 12.38 L636.16 12.38Z" fill="#fff" stroke="#000" stroke-width="1.0"/>
<path d="M638.82 192.93 L639.58 195.28 L642.05 195.28 L640.05 196.73 L640.82 199.08 L638.82 197.63 L636.82 199.08 L637.58 196.73 L635.58 195.28 L638.05 195.28Z" fill="#fff" stroke="#000" stroke-width="1.0"/>
<path d="M640.71 140.51 L641.48 142.86 L643.95 142.86 L641.95 144.31 L642.71 146.66 L640.71 145.21 L638.71 146.66 L639.48 144.31 L637.48 142.86 L639.95 142.86Z" fill="#fff" stroke="#000" stroke-width="1.0"/>
<path d="M642.61 31.19 L643.37 33.54 L645.84 33.54 L643.84 34.99 L644.61 37.34 L642.61 35.89 L640.61 37.34 L641.37 34.99 L639.38 33.54 L641.85 33.54Z" fill="#fff" stroke="#000" stroke-width="1.0"/>
<path d="M644.5 92.03 L645.27 94.38 L647.74 94.38 L645.74 95.83 L646.5 98.18 L644.5 96.73 L642.51 98.18 L643.27 95.83 L641.27 94.38 L643.74 94.38Z" fill="#fff" stroke="#000" stroke-width="1.0"/>
<polyline points="388.6,74.09 390.5,133.24 392.39,34.77 394.29,22.79 396.18,28.97 398.08,165.44 399.97,141.1 401.87,28.78 403.76,133.99 405.66,133.99 407.56,26.91 409.45,22.98 411.35,95.61 413.24,32.53 415.14,32.15 417.03,47.13 418.93,29.91 420.83,72.21 422.72,169 424.62,54.99 426.51,24.29 428.41,32.53 430.3,51.06 432.2,145.22 434.09,133.24 435.99,23.92 437.89,29.35 439.78,66.41 441.68,44.32 443.57,24.48 445.47,138.3 447.36,71.28 449.26,171.06 451.15,27.66 453.05,24.1 454.95,51.06 456.84,78.95 458.74,53.87 460.63,78.39 462.53,28.97 464.42,62.67 466.32,46.19 468.21,21.11 470.11,78.02 472.01,29.91 473.9,51.06 475.8,28.78 477.69,28.78 479.59,41.33 481.48,25.41 483.38,34.77 485.27,51.06 487.17,69.41 489.07,127.25 490.96,121.26 492.86,46.19 494.75,53.87 496.65,70.53 498.54,30.84 500.44,42.45 502.34,140.36 504.23,29.72 506.13,25.04 508.02,46.19 509.92,26.91 511.81,81.01 513.71,32.72 515.6,92.81 517.5,52 519.4,62.29 521.29,52 523.19,72.21 525.08,21.11 526.98,21.48 528.87,23.17 530.77,55.93 532.66,150.84 534.56,69.41 536.46,52.93 538.35,69.41 540.25,68.47 542.14,28.78 544.04,25.04 545.93,40.39 547.83,29.91 549.73,130.81 551.62,20.36 553.52,148.59 555.41,169.93 557.31,75.21 559.2,22.23 561.1,52 562.99,61.73 564.89,21.11 566.79,55.93 568.68,21.11 570.58,65.48 572.47,20.17 574.37,78.02 576.26,33.65 578.16,31.22 580.05,27.85 581.95,61.73 583.85,57.8 585.74,44.32 587.64,24.1 589.53,21.11 591.43,28.22 593.32,28.78 595.22,170.87 597.11,42.45 599.01,49.19 600.91,46.19 602.8,137.92 604.7,136.05 606.59,166.94 608.49,103.29 610.38,46.19 612.28,25.04 614.17,58.74 616.07,25.04 617.97,29.91 619.86,110.03 621.76,54.8 623.65,140.17 625.55,30.84 627.44,33.65 629.34,116.39 631.24,52.93 633.13,52.93 635.03,68.47 636.92,25.98 638.82,160.57 640.71,139.42 642.61,43.39 644.5,65.48" fill="none" stroke="#1f6eb4" stroke-width="1.5" stroke-linejoin="round"/>
<circle cx="388.6" cy="74.09" r="2.85" fill="#1f6eb4"/>
<circle cx="390.5" cy="133.24" r="2.85" fill="#1f6eb4"/>
<circle cx="392.39" cy="34.77" r="2.85" fill="#1f6eb4"/>
<circle cx="394.29" cy="22.79" r="2.85" fill="#1f6eb4"/>
<circle cx="396.18" cy="28.97" r="2.85" fill="#1f6eb4"/>
<circle cx="398.08" cy="165.44" r="2.85" fill="#1f6eb4"/>
<circle cx="399.97" cy="141.1" r="2.85" fill="#1f6eb4"/>
<circle cx="401.87" cy="28.78" r="2.85" fill="#1f6eb4"/>
<circle cx="403.76" cy="133.99" r="2.85" fill="#1f6eb4"/>
<circle cx="405.66" cy="133.99" r="2.85" fill="#1f6eb4"/>
<circle cx="407.56" cy="26.91" r="2.85" fill="#1f6eb4"/>
<circle cx="409.45" cy="22.98" r="2.85" fill="#1f6eb4"/>
<circle cx="411.35" cy="95.61" r="2.85" fill="#1f6eb4"/>
<circle cx="413.24" cy="32.53" r="2.85" fill="#1f6eb4"/>
<circle cx="415.14" cy="32.15" r="2.85" fill="#1f6eb4"/>
<circle cx="417.03" cy="47.13" r="2.85" fill="#1f6eb4"/>
<circle cx="418.93" cy="29.91" r="2.85" fill="#1f6eb4"/>
<circle cx="420.83" cy="72.21" r="2.85" fill="#1f6eb4"/>
<circle cx="422.72" cy="169" r="2.85" fill="#1f6eb4"/>
<circle cx="424.62" cy="54.99" r="2.85" fill="#1f6eb4"/>
<circle cx="426.51" cy="24.29" r="2.85" fill="#1f6eb4"/>
<circle cx="428.41" cy="32.53" r="2.85" fill="#1f6eb4"/>
<circle cx="430.3" cy="51.06" r="2.85" fill="#1f6eb4"/>
<circle cx="432.2" cy="145.22" r="2.85" fill="#1f6eb4"/>
<circle cx="434.09" cy="133.24" r="2.85" fill="#1f6eb4"/>
<circle cx="435.99" cy="23.92" r="2.85" fill="#1f6eb4"/>
<circle cx="437.89" cy="29.35" r="2.85" fill="#1f6eb4"/>
<circle cx="439.78" cy="66.41" r="2.85" fill="#1f6eb4"/>
<circle cx="441.68" cy="44.32" r="2.85" fill="#1f6eb4"/>
<circle cx="443.57" cy="24.48" r="2.85" fill="#1f6eb4"/>
<circle cx="445.47" cy="138.3" r="2.85" fill="#1f6eb4"/>
<circle cx="447.36" cy="71.28" r="2.85" fill="#1f6eb4"/>
<circle cx="449.26" cy="171.06" r="2.85" fill="#1f6eb4"/>
<circle cx="451.15" cy="27.66" r="2.85" fill="#1f6eb4"/>
<circle cx="453.05" cy="24.1" r="2.85" fill="#1f6eb4"/>
<circle cx="454.95" cy="51.06" r="2.85" fill="#1f6eb4"/>
<circle cx="456.84" cy="78.95" r="2.85" fill="#1f6eb4"/>
<circle cx="458.74" cy="53.87" r="2.85" fill="#1f6eb4"/>
<circle cx="460.63" cy="78.39" r="2.85" fill="#1f6eb4"/>
<circle cx="462.53" cy="28.97" r="2.85" fill="#1f6eb4"/>
<circle cx="464.42" cy="62.67" r="2.85" fill="#1f6eb4"/>
<circle cx="466.32" cy="46.19" r="2.85" fill="#1f6eb4"/>
<circle cx="468.21" cy="21.11" r="2.85" fill="#1f6eb4"/>
<circle cx="470.11" cy="78.02" r="2.85" fill="#1f6eb4"/>
<circle cx="472.01" cy="29.91" r="2.85" fill="#1f6eb4"/>
<circle cx="473.9" cy="51.06" r="2.85" fill="#1f6eb4"/>
<circle cx="475.8" cy="28.78" r="2.85" fill="#1f6eb4"/>
<circle cx="477.69" cy="28.78" r="2.85" fill="#1f6eb4"/>
<circle cx="479.59" cy="41.33" r="2.85" fill="#1f6eb4"/>
<circle cx="481.48" cy="25.41" r="2.85" fill="#1f6eb4"/>
<circle cx="483.38" cy="34.77" r="2.85" fill="#1f6eb4"/>
<circle cx="485.27" cy="51.06" r="2.85" fill="#1f6eb4"/>
<circle cx="487.17" cy="69.41" r="2.85" fill="#1f6eb4"/>
<circle cx="489.07" cy="127.25" r="2.85" fill="#1f6eb4"/>
<circle cx="490.96" cy="121.26" r="2.85" fill="#1f6eb4"/>
<circle cx="492.86" cy="46.19" r="2.85" fill="#1f6eb4"/>
<circle cx="494.75" cy="53.87" r="2.85" fill="#1f6eb4"/>
<circle cx="496.65" cy="70.53" r="2.85" fill="#1f6eb4"/>
<circle cx="498.54" cy="30.84" r="2.85" fill="#1f6eb4"/>
<circle cx="500.44" cy="42.45" r="2.85" fill="#1f6eb4"/>
<circle cx="502.34" cy="140.36" r="2.85" fill="#1f6eb4"/>
<circle cx="504.23" cy="29.72" r="2.85" fill="#1f6eb4"/>
<circle cx="506.13" cy="25.04" r="2.85" fill="#1f6eb4"/>
<circle cx="508.02" cy="46.19" r="2.85" fill="#1f6eb4"/>
<circle cx="509.92" cy="26.91" r="2.85" fill="#1f6eb4"/>
<circle cx="511.81" cy="81.01" r="2.85" fill="#1f6eb4"/>
<circle cx="513.71" cy="32.72" r="2.85" fill="#1f6eb4"/>
<circle cx="515.6" cy="92.81" r="2.85" fill="#1f6eb4"/>
<circle cx="517.5" cy="52" r="2.85" fill="#1f6eb4"/>
<circle cx="519.4" cy="62.29" r="2.85" fill="#1f6eb4"/>
<circle cx="521.29" cy="52" r="2.85" fill="#1f6eb4"/>
<circle cx="523.19" cy="72.21" r="2.85" fill="#1f6eb4"/>
<circle cx="525.08" cy="21.11" r="2.85" fill="#1f6eb4"/>
<circle cx="526.98" cy="21.48" r="2.85" fill="#1f6eb4"/>
<circle cx="528.87" cy="23.17" r="2.85" fill="#1f6eb4"/>
<circle cx="530.77" cy="55.93" r="2.85" fill="#1f6eb4"/>
<circle cx="532.66" cy="150.84" r="2.85" fill="#1f6eb4"/>
<circle cx="534.56" cy="69.41" r="2.85" fill="#1f6eb4"/>
<circle cx="536.46" cy="52.93" r="2.85" fill="#1f6eb4"/>
<circle cx="538.35" cy="69.41" r="2.85" fill="#1f6eb4"/>
<circle cx="540.25" cy="68.47" r="2.85" fill="#1f6eb4"/>
<circle cx="542.14" cy="28.78" r="2.85" fill="#1f6eb4"/>
<circle cx="544.04" cy="25.04" r="2.85" fill="#1f6eb4"/>
<circle cx="545.93" cy="40.39" r="2.85" fill="#1f6eb4"/>
<circle cx="547.83" cy="29.91" r="2.85" fill="#1f6eb4"/>
<circle cx="549.73" cy="130.81" r="2.85" fill="#1f6eb4"/>
<circle cx="551.62" cy="20.36" r="2.85" fill="#1f6eb4"/>
<circle cx="553.52" cy="148.59" r="2.85" fill="#1f6eb4"/>
<circle cx="555.41" cy="169.93" r="2.85" fill="#1f6eb4"/>
<circle cx="557.31" cy="75.21" r="2.85" fill="#1f6eb4"/>
<circle cx="559.2" cy="22.23" r="2.85" fill="#1f6eb4"/>
<circle cx="561.1" cy="52" r="2.85" fill="#1f6eb4"/>
<circle cx="562.99" cy="61.73" r="2.85" fill="#1f6eb4"/>
<circle cx="564.89" cy="21.11" r="2.85" fill="#1f6eb4"/>
<circle cx="566.79" cy="55.93" r="2.85" fill="#1f6eb4"/>
<circle cx="568.68" cy="21.11" r="2.85" fill="#1f6eb4"/>
<circle cx="570.58" cy="65.48" r="2.85" fill="#1f6eb4"/>
<circle cx="572.47" cy="20.17" r="2.85" fill="#1f6eb4"/>
<circle cx="574.37" cy="78.02" r="2.85" fill="#1f6eb4"/>
<circle cx="576.26" cy="33.65" r="2.85" fill="#1f6eb4"/>
<circle cx="578.16" cy="31.22" r="2.85" fill="#1f6eb4"/>
<circle cx="580.05" cy="27.85" r="2.85" fill="#1f6eb4"/>
<circle cx="581.95" cy="61.73" r="2.85" fill="#1f6eb4"/>
<circle cx="583.85" cy="57.8" r="2.85" fill="#1f6eb4"/>
<circle cx="585.74" cy="44.32" r="2.85" fill="#1f6eb4"/>
<circle cx="587.64" cy="24.1" r="2.85" fill="#1f6eb4"/>
<circle cx="589.53" cy="21.11" r="2.85" fill="#1f6eb4"/>
<circle cx="591.43" cy="28.22" r="2.85" fill="#1f6eb4"/>
<circle cx="593.32" cy="28.78" r="2.85" fill="#1f6eb4"/>
<circle cx="595.22" cy="170.87" r="2.85" fill="#1f6eb4"/>
<circle cx="597.11" cy="42.45" r="2.85" fill="#1f6eb4"/>
<circle cx="599.01" cy="49.19" r="2.85" fill="#1f6eb4"/>
<circle cx="600.91" cy="46.19" r="2.85" fill="#1f6eb4"/>
<circle cx="602.8" cy="137.92" r="2.85" fill="#1f6eb4"/>
<circle cx="604.7" cy="136.05" r="2.85" fill="#1f6eb4"/>
<circle cx="606.59" cy="166.94" r="2.85" fill="#1f6eb4"/>
<circle cx="608.49" cy="103.29" r="2.85" fill="#1f6eb4"/>
<circle cx="610.38" cy="46.19" r="2.85" fill="#1f6eb4"/>
<circle cx="612.28" cy="25.04" r="2.85" fill="#1f6eb4"/>
<circle cx="614.17" cy="58.74" r="2.85" fill="#1f6eb4"/>
<circle cx="616.07" cy="25.04" r="2.85" fill="#1f6eb4"/>
<circle cx="617.97" cy="29.91" r="2.85" fill="#1f6eb4"/>
<circle cx="619.86" cy="110.03" r="2.85" fill="#1f6eb4"/>
<circle cx="621.76" cy="54.8" r="2.85" fill="#1f6eb4"/>
<circle cx="623.65" cy="140.17" r="2.85" fill="#1f6eb4"/>
<circle cx="625.55" cy="30.84" r="2.85" fill="#1f6eb4"/>
<circle cx="627.44" cy="33.65" r="2.85" fill="#1f6eb4"/>
<circle cx="629.34" cy="116.39" r="2.85" fill="#1f6eb4"/>
<circle cx="631.24" cy="52.93" r="2.85" fill="#1f6eb4"/>
<circle cx="633.13" cy="52.93" r="2.85" fill="#1f6eb4"/>
<circle cx="635.03" cy="68.47" r="2.85" fill="#1f6eb4"/>
<circle cx="636.92" cy="25.98" r="2.85" fill="#1f6eb4"/>
<circle cx="638.82" cy="160.57" r="2.85" fill="#1f6eb4"/>
<circle cx="640.71" cy="139.42" r="2.85" fill="#1f6eb4"/>
<circle cx="642.61" cy="43.39" r="2.85" fill="#1f6eb4"/>
<circle cx="644.5" cy="65.48" r="2.85" fill="#1f6eb4"/>
<polyline points="388.6,79.36 390.5,108.3 392.39,137.24 394.29,122.93 396.18,108.62 398.08,94.31 399.97,80 401.87,112.12 403.76,89.86 405.66,114.5 407.56,139.15 409.45,122.29 411.35,105.44 413.24,116.89 415.14,128.34 417.03,127.38 418.93,126.43 420.83,113.87 422.72,101.31 424.62,113.87 426.51,126.43 428.41,137.24 430.3,108.78 432.2,80.32 434.09,92.24 435.99,104.17 437.89,88.27 439.78,72.37 441.68,103.69 443.57,135.01 445.47,82.23 447.36,90.34 449.26,98.44 451.15,137.24 453.05,113.07 454.95,88.9 456.84,114.03 458.74,139.15 460.63,80.32 462.53,110.21 464.42,140.1 466.32,121.66 468.21,125.95 470.11,130.24 472.01,112.12 473.9,141.06 475.8,133.74 477.69,126.43 479.59,133.26 481.48,140.1 483.38,125.47 485.27,122.61 487.17,119.75 489.07,126.91 490.96,134.06 492.86,133.11 494.75,132.15 496.65,133.58 498.54,135.01 500.44,114.98 502.34,133.11 504.23,128.34 506.13,123.57 508.02,127.38 509.92,106.23 511.81,85.09 513.71,99.4 515.6,92.72 517.5,126.43 519.4,115.3 521.29,104.17 523.19,88.9 525.08,128.34 526.98,133.74 528.87,139.15 530.77,139.15 532.66,73.64 534.56,99.56 536.46,125.47 538.35,116.89 540.25,142.96 542.14,123.57 544.04,131.2 545.93,121.18 547.83,111.16 549.73,138.19 551.62,104.96 553.52,71.73 555.41,94.79 557.31,117.84 559.2,140.1 561.1,85.09 562.99,106.71 564.89,128.34 566.79,81.27 568.68,110.21 570.58,139.15 572.47,131.2 574.37,135.17 576.26,139.15 578.16,121.66 580.05,128.34 581.95,135.01 583.85,142.96 585.74,125.47 587.64,142.96 589.53,132.31 591.43,121.66 593.32,128.34 595.22,101.31 597.11,129.29 599.01,117.84 600.91,129.45 602.8,141.06 604.7,86.04 606.59,97.17 608.49,108.3 610.38,116.89 612.28,125.47 614.17,123.57 616.07,117.84 617.97,128.34 619.86,131.67 621.76,135.01 623.65,116.89 625.55,129.45 627.44,142.01 629.34,118.8 631.24,112.59 633.13,106.39 635.03,93.67 636.92,116.89 638.82,85.09 640.71,136.29 642.61,114.98 644.5,93.67" fill="none" stroke="#E8086A" stroke-width="1.25" stroke-linejoin="round"/>
</g>
<rect x="388.6" y="1.6" width="257.8" height="205.9" fill="none" stroke="#000" stroke-width="0.7"/>
<line x1="385.7" y1="198.2" x2="388.6" y2="198.2" stroke="#000" stroke-width="0.7"/>
<text x="382.7" y="201.2" text-anchor="end" fill="#000" stroke="#000" stroke-width="0.18" font-size="8.3" textLength="13.2" lengthAdjust="spacingAndGlyphs">0.0</text>
<line x1="385.7" y1="160.76" x2="388.6" y2="160.76" stroke="#000" stroke-width="0.7"/>
<text x="382.7" y="163.76" text-anchor="end" fill="#000" stroke="#000" stroke-width="0.18" font-size="8.3" textLength="13.2" lengthAdjust="spacingAndGlyphs">0.2</text>
<line x1="385.7" y1="123.32" x2="388.6" y2="123.32" stroke="#000" stroke-width="0.7"/>
<text x="382.7" y="126.32" text-anchor="end" fill="#000" stroke="#000" stroke-width="0.18" font-size="8.3" textLength="13.2" lengthAdjust="spacingAndGlyphs">0.4</text>
<line x1="385.7" y1="85.88" x2="388.6" y2="85.88" stroke="#000" stroke-width="0.7"/>
<text x="382.7" y="88.88" text-anchor="end" fill="#000" stroke="#000" stroke-width="0.18" font-size="8.3" textLength="13.2" lengthAdjust="spacingAndGlyphs">0.6</text>
<line x1="385.7" y1="48.44" x2="388.6" y2="48.44" stroke="#000" stroke-width="0.7"/>
<text x="382.7" y="51.44" text-anchor="end" fill="#000" stroke="#000" stroke-width="0.18" font-size="8.3" textLength="13.2" lengthAdjust="spacingAndGlyphs">0.8</text>
<line x1="385.7" y1="11" x2="388.6" y2="11" stroke="#000" stroke-width="0.7"/>
<text x="382.7" y="14" text-anchor="end" fill="#000" stroke="#000" stroke-width="0.18" font-size="8.3" textLength="13.2" lengthAdjust="spacingAndGlyphs">1.0</text>
<line x1="388.6" y1="207.5" x2="388.6" y2="210.4" stroke="#000" stroke-width="0.7"/>
<text x="388.6" y="219.9" text-anchor="middle" fill="#000" stroke="#000" stroke-width="0.18" font-size="8.3" textLength="5.28" lengthAdjust="spacingAndGlyphs">0</text>
<line x1="426.51" y1="207.5" x2="426.51" y2="210.4" stroke="#000" stroke-width="0.7"/>
<text x="426.51" y="219.9" text-anchor="middle" fill="#000" stroke="#000" stroke-width="0.18" font-size="8.3" textLength="10.56" lengthAdjust="spacingAndGlyphs">20</text>
<line x1="464.42" y1="207.5" x2="464.42" y2="210.4" stroke="#000" stroke-width="0.7"/>
<text x="464.42" y="219.9" text-anchor="middle" fill="#000" stroke="#000" stroke-width="0.18" font-size="8.3" textLength="10.56" lengthAdjust="spacingAndGlyphs">40</text>
<line x1="502.34" y1="207.5" x2="502.34" y2="210.4" stroke="#000" stroke-width="0.7"/>
<text x="502.34" y="219.9" text-anchor="middle" fill="#000" stroke="#000" stroke-width="0.18" font-size="8.3" textLength="10.56" lengthAdjust="spacingAndGlyphs">60</text>
<line x1="540.25" y1="207.5" x2="540.25" y2="210.4" stroke="#000" stroke-width="0.7"/>
<text x="540.25" y="219.9" text-anchor="middle" fill="#000" stroke="#000" stroke-width="0.18" font-size="8.3" textLength="10.56" lengthAdjust="spacingAndGlyphs">80</text>
<line x1="578.16" y1="207.5" x2="578.16" y2="210.4" stroke="#000" stroke-width="0.7"/>
<text x="578.16" y="219.9" text-anchor="middle" fill="#000" stroke="#000" stroke-width="0.18" font-size="8.3" textLength="15.84" lengthAdjust="spacingAndGlyphs">100</text>
<line x1="616.07" y1="207.5" x2="616.07" y2="210.4" stroke="#000" stroke-width="0.7"/>
<text x="616.07" y="219.9" text-anchor="middle" fill="#000" stroke="#000" stroke-width="0.18" font-size="8.3" textLength="15.84" lengthAdjust="spacingAndGlyphs">120</text>
<line x1="646.4" y1="175.4" x2="649.3" y2="175.4" stroke="red" stroke-width="0.7"/>
<text x="652.8" y="178.4" text-anchor="start" fill="red" stroke="red" stroke-width="0.18" font-size="8.3" textLength="20.15" lengthAdjust="spacingAndGlyphs">−0.1</text>
<line x1="646.4" y1="143.6" x2="649.3" y2="143.6" stroke="red" stroke-width="0.7"/>
<text x="652.8" y="146.6" text-anchor="start" fill="red" stroke="red" stroke-width="0.18" font-size="8.3" textLength="13.2" lengthAdjust="spacingAndGlyphs">0.0</text>
<line x1="646.4" y1="111.8" x2="649.3" y2="111.8" stroke="red" stroke-width="0.7"/>
<text x="652.8" y="114.8" text-anchor="start" fill="red" stroke="red" stroke-width="0.18" font-size="8.3" textLength="13.2" lengthAdjust="spacingAndGlyphs">0.1</text>
<line x1="646.4" y1="80" x2="649.3" y2="80" stroke="red" stroke-width="0.7"/>
<text x="652.8" y="83" text-anchor="start" fill="red" stroke="red" stroke-width="0.18" font-size="8.3" textLength="13.2" lengthAdjust="spacingAndGlyphs">0.2</text>
<line x1="646.4" y1="48.2" x2="649.3" y2="48.2" stroke="red" stroke-width="0.7"/>
<text x="652.8" y="51.2" text-anchor="start" fill="red" stroke="red" stroke-width="0.18" font-size="8.3" textLength="13.2" lengthAdjust="spacingAndGlyphs">0.3</text>
<line x1="646.4" y1="16.4" x2="649.3" y2="16.4" stroke="red" stroke-width="0.7"/>
<text x="652.8" y="19.4" text-anchor="start" fill="red" stroke="red" stroke-width="0.18" font-size="8.3" textLength="13.2" lengthAdjust="spacingAndGlyphs">0.4</text>
<text x="517.5" y="232.4" text-anchor="middle" fill="#000" stroke="#000" stroke-width="0.18" font-size="8.3" textLength="57.9" lengthAdjust="spacingAndGlyphs">Data Samples</text>
<text x="364.1" y="104.55" text-anchor="middle" fill="#000" stroke="#000" stroke-width="0.18" font-size="8.3" textLength="93.97" lengthAdjust="spacingAndGlyphs" transform="rotate(-90 364.1 104.55)">Target and Predictions</text>
<text x="683.8" y="105.35" text-anchor="middle" fill="red" stroke="red" stroke-width="0.18" font-size="8.3" textLength="20.56" lengthAdjust="spacingAndGlyphs" transform="rotate(-90 683.8 105.35)">Error</text>
<rect x="392.75" y="5.75" width="67.95" height="40" rx="1.7" fill="#fff" fill-opacity="0.8" stroke="#cccccc" stroke-width="0.7"/>
<rect x="396.08" y="10.05" width="16.67" height="5.8" fill="#C3F3C3"/>
<text x="419.42" y="15.95" text-anchor="start" fill="#000" stroke="#000" stroke-width="0.18" font-size="8.3" textLength="34.02" lengthAdjust="spacingAndGlyphs">Test Set</text>
<line x1="396.08" y1="25.25" x2="412.75" y2="25.25" stroke="#000" stroke-width="0.9"/>
<path d="M404.42 21.85 L405.18 24.2 L407.65 24.2 L405.66 25.65 L406.42 28 L404.42 26.55 L402.42 28 L403.18 25.65 L401.19 24.2 L403.66 24.2Z" fill="#fff" stroke="#000" stroke-width="1.0"/>
<text x="419.42" y="28.25" text-anchor="start" fill="#000" stroke="#000" stroke-width="0.18" font-size="8.3" textLength="26.15" lengthAdjust="spacingAndGlyphs">Actual</text>
<line x1="396.08" y1="37.55" x2="412.75" y2="37.55" stroke="#1f6eb4" stroke-width="1.5"/>
<circle cx="404.42" cy="37.55" r="2.85" fill="#1f6eb4"/>
<text x="419.42" y="40.55" text-anchor="start" fill="#000" stroke="#000" stroke-width="0.18" font-size="8.3" textLength="37.95" lengthAdjust="spacingAndGlyphs">EDO-MLP</text>
<rect x="457.2" y="5.75" width="50.56" height="14.5" rx="1.7" fill="#fff" fill-opacity="0.8" stroke="#cccccc" stroke-width="0.7"/>
<line x1="460.53" y1="12.95" x2="477.2" y2="12.95" stroke="#E8086A" stroke-width="1.25"/>
<text x="483.87" y="15.95" text-anchor="start" fill="#000" stroke="#000" stroke-width="0.18" font-size="8.3" textLength="20.56" lengthAdjust="spacingAndGlyphs">Error</text>
<clipPath id="c2"><rect x="32.6" y="261.2" width="258" height="206"/></clipPath>
<rect x="237.48" y="261.2" width="53.12" height="206" fill="#C3F3C3"/>
<g clip-path="url(#c2)">
<polyline points="32.6,289.74 34.5,395.62 36.39,284.12 38.29,276.62 40.19,289.74 42.09,451.47 43.98,438.72 45.88,280.37 47.78,425.98 49.67,417.17 51.57,272.87 53.47,272.87 55.36,378.38 57.26,271 59.16,293.49 61.06,272.87 62.95,308.48 64.85,318.79 66.75,454.09 68.64,322.72 70.54,284.12 72.44,293.49 74.34,326.47 76.23,442.85 78.13,421.29 80.03,272.87 81.92,293.49 83.82,367.14 85.72,309.04 87.61,299.11 89.51,434.6 91.41,318.79 93.31,457.65 95.2,272.87 97.1,272.87 99,343.9 100.89,334.72 102.79,312.04 104.69,350.64 106.59,289.74 108.48,295.74 110.38,272.87 112.28,276.62 114.17,332.84 116.07,323.47 117.97,311.1 119.86,334.72 121.76,278.31 123.66,299.48 125.56,295.74 127.45,292.74 129.35,324.6 131.25,315.98 133.14,390 135.04,387.19 136.94,300.42 138.84,323.47 140.73,326.47 142.63,272.87 144.53,296.67 146.42,408.36 148.32,271 150.22,296.67 152.11,296.67 154.01,273.44 155.91,375.94 157.81,285.05 159.7,361.51 161.6,285.05 163.5,322.72 165.39,338.09 167.29,364.33 169.19,293.49 171.09,272.5 172.98,272.87 174.88,315.98 176.78,446.59 178.67,370.32 180.57,328.53 182.47,317.85 184.36,328.53 186.26,281.12 188.16,273.44 190.06,306.23 191.95,271 193.85,392.81 195.75,272.5 197.64,456.53 199.54,457.84 201.44,330.41 203.34,276.62 205.23,347.83 207.13,324.6 209.03,272.5 210.92,354.58 212.82,272.5 214.72,327.22 216.61,272.5 218.51,333.22 220.41,280.37 222.31,277.37 224.2,280.37 226.1,281.12 228,326.47 229.89,293.68 231.79,284.12 233.69,272.5 235.59,272.5 237.48,282.24 239.38,456.15 241.28,308.11 243.17,325.53 245.07,294.61 246.97,400.31 248.86,430.1 250.76,457.84 252.66,381.19 254.56,299.48 256.45,273.44 258.35,316.91 260.25,272.5 262.14,272.5 264.04,383.44 265.94,319.72 267.84,412.49 269.73,275.5 271.63,294.61 273.53,385.69 275.42,333.22 277.32,328.53 279.22,359.27 281.11,273.44 283.01,456.53 284.91,404.05 286.81,294.61 288.7,355.52" fill="none" stroke="#000" stroke-width="1.1" stroke-linejoin="round"/>
<path d="M32.6 286.34 L33.36 288.69 L35.83 288.69 L33.84 290.14 L34.6 292.49 L32.6 291.04 L30.6 292.49 L31.36 290.14 L29.37 288.69 L31.84 288.69Z" fill="#fff" stroke="#000" stroke-width="1.0"/>
<path d="M34.5 392.22 L35.26 394.57 L37.73 394.57 L35.73 396.02 L36.5 398.37 L34.5 396.92 L32.5 398.37 L33.26 396.02 L31.26 394.57 L33.73 394.57Z" fill="#fff" stroke="#000" stroke-width="1.0"/>
<path d="M36.39 280.72 L37.16 283.07 L39.63 283.07 L37.63 284.52 L38.39 286.87 L36.39 285.42 L34.4 286.87 L35.16 284.52 L33.16 283.07 L35.63 283.07Z" fill="#fff" stroke="#000" stroke-width="1.0"/>
<path d="M38.29 273.22 L39.05 275.57 L41.52 275.57 L39.53 277.02 L40.29 279.37 L38.29 277.92 L36.29 279.37 L37.06 277.02 L35.06 275.57 L37.53 275.57Z" fill="#fff" stroke="#000" stroke-width="1.0"/>
<path d="M40.19 286.34 L40.95 288.69 L43.42 288.69 L41.42 290.14 L42.19 292.49 L40.19 291.04 L38.19 292.49 L38.95 290.14 L36.95 288.69 L39.42 288.69Z" fill="#fff" stroke="#000" stroke-width="1.0"/>
<path d="M42.09 448.07 L42.85 450.42 L45.32 450.42 L43.32 451.87 L44.08 454.22 L42.09 452.76 L40.09 454.22 L40.85 451.87 L38.85 450.42 L41.32 450.42Z" fill="#fff" stroke="#000" stroke-width="1.0"/>
<path d="M43.98 435.32 L44.75 437.67 L47.22 437.67 L45.22 439.12 L45.98 441.47 L43.98 440.02 L41.98 441.47 L42.75 439.12 L40.75 437.67 L43.22 437.67Z" fill="#fff" stroke="#000" stroke-width="1.0"/>
<path d="M45.88 276.97 L46.64 279.32 L49.11 279.32 L47.11 280.77 L47.88 283.12 L45.88 281.67 L43.88 283.12 L44.64 280.77 L42.65 279.32 L45.12 279.32Z" fill="#fff" stroke="#000" stroke-width="1.0"/>
<path d="M47.78 422.58 L48.54 424.93 L51.01 424.93 L49.01 426.38 L49.77 428.73 L47.78 427.28 L45.78 428.73 L46.54 426.38 L44.54 424.93 L47.01 424.93Z" fill="#fff" stroke="#000" stroke-width="1.0"/>
<path d="M49.67 413.77 L50.44 416.12 L52.91 416.12 L50.91 417.57 L51.67 419.92 L49.67 418.47 L47.68 419.92 L48.44 417.57 L46.44 416.12 L48.91 416.12Z" fill="#fff" stroke="#000" stroke-width="1.0"/>
<path d="M51.57 269.47 L52.33 271.82 L54.8 271.82 L52.81 273.28 L53.57 275.62 L51.57 274.17 L49.57 275.62 L50.34 273.28 L48.34 271.82 L50.81 271.82Z" fill="#fff" stroke="#000" stroke-width="1.0"/>
<path d="M53.47 269.47 L54.23 271.82 L56.7 271.82 L54.7 273.28 L55.47 275.62 L53.47 274.17 L51.47 275.62 L52.23 273.28 L50.23 271.82 L52.7 271.82Z" fill="#fff" stroke="#000" stroke-width="1.0"/>
<path d="M55.36 374.98 L56.13 377.33 L58.6 377.33 L56.6 378.78 L57.36 381.13 L55.36 379.68 L53.37 381.13 L54.13 378.78 L52.13 377.33 L54.6 377.33Z" fill="#fff" stroke="#000" stroke-width="1.0"/>
<path d="M57.26 267.6 L58.03 269.95 L60.5 269.95 L58.5 271.4 L59.26 273.75 L57.26 272.3 L55.26 273.75 L56.03 271.4 L54.03 269.95 L56.5 269.95Z" fill="#fff" stroke="#000" stroke-width="1.0"/>
<path d="M59.16 290.09 L59.92 292.44 L62.39 292.44 L60.39 293.89 L61.16 296.24 L59.16 294.79 L57.16 296.24 L57.92 293.89 L55.93 292.44 L58.4 292.44Z" fill="#fff" stroke="#000" stroke-width="1.0"/>
<path d="M61.06 269.47 L61.82 271.82 L64.29 271.82 L62.29 273.28 L63.05 275.62 L61.06 274.17 L59.06 275.62 L59.82 273.28 L57.82 271.82 L60.29 271.82Z" fill="#fff" stroke="#000" stroke-width="1.0"/>
<path d="M62.95 305.08 L63.72 307.43 L66.19 307.43 L64.19 308.88 L64.95 311.23 L62.95 309.78 L60.95 311.23 L61.72 308.88 L59.72 307.43 L62.19 307.43Z" fill="#fff" stroke="#000" stroke-width="1.0"/>
<path d="M64.85 315.39 L65.61 317.74 L68.08 317.74 L66.09 319.19 L66.85 321.54 L64.85 320.09 L62.85 321.54 L63.61 319.19 L61.62 317.74 L64.09 317.74Z" fill="#fff" stroke="#000" stroke-width="1.0"/>
<path d="M66.75 450.69 L67.51 453.04 L69.98 453.04 L67.98 454.49 L68.75 456.84 L66.75 455.39 L64.75 456.84 L65.51 454.49 L63.51 453.04 L65.98 453.04Z" fill="#fff" stroke="#000" stroke-width="1.0"/>
<path d="M68.64 319.32 L69.41 321.67 L71.88 321.67 L69.88 323.12 L70.64 325.47 L68.64 324.02 L66.65 325.47 L67.41 323.12 L65.41 321.67 L67.88 321.67Z" fill="#fff" stroke="#000" stroke-width="1.0"/>
<path d="M70.54 280.72 L71.3 283.07 L73.77 283.07 L71.78 284.52 L72.54 286.87 L70.54 285.42 L68.54 286.87 L69.31 284.52 L67.31 283.07 L69.78 283.07Z" fill="#fff" stroke="#000" stroke-width="1.0"/>
<path d="M72.44 290.09 L73.2 292.44 L75.67 292.44 L73.67 293.89 L74.44 296.24 L72.44 294.79 L70.44 296.24 L71.2 293.89 L69.2 292.44 L71.67 292.44Z" fill="#fff" stroke="#000" stroke-width="1.0"/>
<path d="M74.34 323.07 L75.1 325.42 L77.57 325.42 L75.57 326.87 L76.33 329.22 L74.34 327.77 L72.34 329.22 L73.1 326.87 L71.1 325.42 L73.57 325.42Z" fill="#fff" stroke="#000" stroke-width="1.0"/>
<path d="M76.23 439.45 L77 441.8 L79.47 441.8 L77.47 443.25 L78.23 445.6 L76.23 444.14 L74.23 445.6 L75 443.25 L73 441.8 L75.47 441.8Z" fill="#fff" stroke="#000" stroke-width="1.0"/>
<path d="M78.13 417.89 L78.89 420.24 L81.36 420.24 L79.36 421.7 L80.13 424.05 L78.13 422.59 L76.13 424.05 L76.89 421.7 L74.9 420.24 L77.37 420.24Z" fill="#fff" stroke="#000" stroke-width="1.0"/>
<path d="M80.03 269.47 L80.79 271.82 L83.26 271.82 L81.26 273.28 L82.02 275.62 L80.03 274.17 L78.03 275.62 L78.79 273.28 L76.79 271.82 L79.26 271.82Z" fill="#fff" stroke="#000" stroke-width="1.0"/>
<path d="M81.92 290.09 L82.69 292.44 L85.16 292.44 L83.16 293.89 L83.92 296.24 L81.92 294.79 L79.93 296.24 L80.69 293.89 L78.69 292.44 L81.16 292.44Z" fill="#fff" stroke="#000" stroke-width="1.0"/>
<path d="M83.82 363.74 L84.58 366.09 L87.05 366.09 L85.06 367.54 L85.82 369.89 L83.82 368.43 L81.82 369.89 L82.59 367.54 L80.59 366.09 L83.06 366.09Z" fill="#fff" stroke="#000" stroke-width="1.0"/>
<path d="M85.72 305.64 L86.48 307.99 L88.95 307.99 L86.95 309.44 L87.72 311.79 L85.72 310.34 L83.72 311.79 L84.48 309.44 L82.48 307.99 L84.95 307.99Z" fill="#fff" stroke="#000" stroke-width="1.0"/>
<path d="M87.61 295.71 L88.38 298.06 L90.85 298.06 L88.85 299.51 L89.61 301.86 L87.61 300.41 L85.62 301.86 L86.38 299.51 L84.38 298.06 L86.85 298.06Z" fill="#fff" stroke="#000" stroke-width="1.0"/>
<path d="M89.51 431.2 L90.28 433.55 L92.75 433.55 L90.75 435 L91.51 437.35 L89.51 435.9 L87.51 437.35 L88.28 435 L86.28 433.55 L88.75 433.55Z" fill="#fff" stroke="#000" stroke-width="1.0"/>
<path d="M91.41 315.39 L92.17 317.74 L94.64 317.74 L92.64 319.19 L93.41 321.54 L91.41 320.09 L89.41 321.54 L90.17 319.19 L88.18 317.74 L90.65 317.74Z" fill="#fff" stroke="#000" stroke-width="1.0"/>
<path d="M93.31 454.25 L94.07 456.6 L96.54 456.6 L94.54 458.05 L95.3 460.4 L93.31 458.95 L91.31 460.4 L92.07 458.05 L90.07 456.6 L92.54 456.6Z" fill="#fff" stroke="#000" stroke-width="1.0"/>
<path d="M95.2 269.47 L95.97 271.82 L98.44 271.82 L96.44 273.28 L97.2 275.62 L95.2 274.17 L93.2 275.62 L93.97 273.28 L91.97 271.82 L94.44 271.82Z" fill="#fff" stroke="#000" stroke-width="1.0"/>
<path d="M97.1 269.47 L97.86 271.82 L100.33 271.82 L98.34 273.28 L99.1 275.62 L97.1 274.17 L95.1 275.62 L95.86 273.28 L93.87 271.82 L96.34 271.82Z" fill="#fff" stroke="#000" stroke-width="1.0"/>
<path d="M99 340.5 L99.76 342.85 L102.23 342.85 L100.23 344.3 L101 346.65 L99 345.2 L97 346.65 L97.76 344.3 L95.76 342.85 L98.23 342.85Z" fill="#fff" stroke="#000" stroke-width="1.0"/>
<path d="M100.89 331.32 L101.66 333.67 L104.13 333.67 L102.13 335.12 L102.89 337.47 L100.89 336.01 L98.9 337.47 L99.66 335.12 L97.66 333.67 L100.13 333.67Z" fill="#fff" stroke="#000" stroke-width="1.0"/>
<path d="M102.79 308.64 L103.55 310.99 L106.02 310.99 L104.03 312.44 L104.79 314.79 L102.79 313.34 L100.79 314.79 L101.56 312.44 L99.56 310.99 L102.03 310.99Z" fill="#fff" stroke="#000" stroke-width="1.0"/>
<path d="M104.69 347.25 L105.45 349.59 L107.92 349.59 L105.92 351.05 L106.69 353.4 L104.69 351.94 L102.69 353.4 L103.45 351.05 L101.45 349.59 L103.92 349.59Z" fill="#fff" stroke="#000" stroke-width="1.0"/>
<path d="M106.59 286.34 L107.35 288.69 L109.82 288.69 L107.82 290.14 L108.58 292.49 L106.59 291.04 L104.59 292.49 L105.35 290.14 L103.35 288.69 L105.82 288.69Z" fill="#fff" stroke="#000" stroke-width="1.0"/>
<path d="M108.48 292.34 L109.25 294.69 L111.72 294.69 L109.72 296.14 L110.48 298.49 L108.48 297.04 L106.48 298.49 L107.25 296.14 L105.25 294.69 L107.72 294.69Z" fill="#fff" stroke="#000" stroke-width="1.0"/>
<path d="M110.38 269.47 L111.14 271.82 L113.61 271.82 L111.61 273.28 L112.38 275.62 L110.38 274.17 L108.38 275.62 L109.14 273.28 L107.15 271.82 L109.62 271.82Z" fill="#fff" stroke="#000" stroke-width="1.0"/>
<path d="M112.28 273.22 L113.04 275.57 L115.51 275.57 L113.51 277.02 L114.27 279.37 L112.28 277.92 L110.28 279.37 L111.04 277.02 L109.04 275.57 L111.51 275.57Z" fill="#fff" stroke="#000" stroke-width="1.0"/>
<path d="M114.17 329.44 L114.94 331.79 L117.41 331.79 L115.41 333.24 L116.17 335.59 L114.17 334.14 L112.18 335.59 L112.94 333.24 L110.94 331.79 L113.41 331.79Z" fill="#fff" stroke="#000" stroke-width="1.0"/>
<path d="M116.07 320.07 L116.83 322.42 L119.3 322.42 L117.31 323.87 L118.07 326.22 L116.07 324.77 L114.07 326.22 L114.84 323.87 L112.84 322.42 L115.31 322.42Z" fill="#fff" stroke="#000" stroke-width="1.0"/>
<path d="M117.97 307.7 L118.73 310.05 L121.2 310.05 L119.2 311.5 L119.97 313.85 L117.97 312.4 L115.97 313.85 L116.73 311.5 L114.73 310.05 L117.2 310.05Z" fill="#fff" stroke="#000" stroke-width="1.0"/>
<path d="M119.86 331.32 L120.63 333.67 L123.1 333.67 L121.1 335.12 L121.86 337.47 L119.86 336.01 L117.87 337.47 L118.63 335.12 L116.63 333.67 L119.1 333.67Z" fill="#fff" stroke="#000" stroke-width="1.0"/>
<path d="M121.76 274.91 L122.53 277.26 L125 277.26 L123 278.71 L123.76 281.06 L121.76 279.61 L119.76 281.06 L120.53 278.71 L118.53 277.26 L121 277.26Z" fill="#fff" stroke="#000" stroke-width="1.0"/>
<path d="M123.66 296.08 L124.42 298.43 L126.89 298.43 L124.89 299.89 L125.66 302.24 L123.66 300.78 L121.66 302.24 L122.42 299.89 L120.43 298.43 L122.9 298.43Z" fill="#fff" stroke="#000" stroke-width="1.0"/>
<path d="M125.56 292.34 L126.32 294.69 L128.79 294.69 L126.79 296.14 L127.55 298.49 L125.56 297.04 L123.56 298.49 L124.32 296.14 L122.32 294.69 L124.79 294.69Z" fill="#fff" stroke="#000" stroke-width="1.0"/>
<path d="M127.45 289.34 L128.22 291.69 L130.69 291.69 L128.69 293.14 L129.45 295.49 L127.45 294.04 L125.45 295.49 L126.22 293.14 L124.22 291.69 L126.69 291.69Z" fill="#fff" stroke="#000" stroke-width="1.0"/>
<path d="M129.35 321.2 L130.11 323.55 L132.58 323.55 L130.59 325 L131.35 327.35 L129.35 325.9 L127.35 327.35 L128.11 325 L126.12 323.55 L128.59 323.55Z" fill="#fff" stroke="#000" stroke-width="1.0"/>
<path d="M131.25 312.58 L132.01 314.93 L134.48 314.93 L132.48 316.38 L133.25 318.73 L131.25 317.27 L129.25 318.73 L130.01 316.38 L128.01 314.93 L130.48 314.93Z" fill="#fff" stroke="#000" stroke-width="1.0"/>
<path d="M133.14 386.6 L133.91 388.95 L136.38 388.95 L134.38 390.4 L135.14 392.75 L133.14 391.3 L131.15 392.75 L131.91 390.4 L129.91 388.95 L132.38 388.95Z" fill="#fff" stroke="#000" stroke-width="1.0"/>
<path d="M135.04 383.79 L135.8 386.14 L138.27 386.14 L136.28 387.59 L137.04 389.94 L135.04 388.49 L133.04 389.94 L133.81 387.59 L131.81 386.14 L134.28 386.14Z" fill="#fff" stroke="#000" stroke-width="1.0"/>
<path d="M136.94 297.02 L137.7 299.37 L140.17 299.37 L138.17 300.82 L138.94 303.17 L136.94 301.72 L134.94 303.17 L135.7 300.82 L133.7 299.37 L136.17 299.37Z" fill="#fff" stroke="#000" stroke-width="1.0"/>
<path d="M138.84 320.07 L139.6 322.42 L142.07 322.42 L140.07 323.87 L140.83 326.22 L138.84 324.77 L136.84 326.22 L137.6 323.87 L135.6 322.42 L138.07 322.42Z" fill="#fff" stroke="#000" stroke-width="1.0"/>
<path d="M140.73 323.07 L141.5 325.42 L143.97 325.42 L141.97 326.87 L142.73 329.22 L140.73 327.77 L138.73 329.22 L139.5 326.87 L137.5 325.42 L139.97 325.42Z" fill="#fff" stroke="#000" stroke-width="1.0"/>
<path d="M142.63 269.47 L143.39 271.82 L145.86 271.82 L143.86 273.28 L144.63 275.62 L142.63 274.17 L140.63 275.62 L141.39 273.28 L139.4 271.82 L141.87 271.82Z" fill="#fff" stroke="#000" stroke-width="1.0"/>
<path d="M144.53 293.27 L145.29 295.62 L147.76 295.62 L145.76 297.08 L146.52 299.42 L144.53 297.97 L142.53 299.42 L143.29 297.08 L141.29 295.62 L143.76 295.62Z" fill="#fff" stroke="#000" stroke-width="1.0"/>
<path d="M146.42 404.96 L147.19 407.31 L149.66 407.31 L147.66 408.77 L148.42 411.11 L146.42 409.66 L144.43 411.11 L145.19 408.77 L143.19 407.31 L145.66 407.31Z" fill="#fff" stroke="#000" stroke-width="1.0"/>
<path d="M148.32 267.6 L149.08 269.95 L151.55 269.95 L149.56 271.4 L150.32 273.75 L148.32 272.3 L146.32 273.75 L147.09 271.4 L145.09 269.95 L147.56 269.95Z" fill="#fff" stroke="#000" stroke-width="1.0"/>
<path d="M150.22 293.27 L150.98 295.62 L153.45 295.62 L151.45 297.08 L152.22 299.42 L150.22 297.97 L148.22 299.42 L148.98 297.08 L146.98 295.62 L149.45 295.62Z" fill="#fff" stroke="#000" stroke-width="1.0"/>
<path d="M152.11 293.27 L152.88 295.62 L155.35 295.62 L153.35 297.08 L154.11 299.42 L152.11 297.97 L150.12 299.42 L150.88 297.08 L148.88 295.62 L151.35 295.62Z" fill="#fff" stroke="#000" stroke-width="1.0"/>
<path d="M154.01 270.04 L154.78 272.39 L157.25 272.39 L155.25 273.84 L156.01 276.19 L154.01 274.73 L152.01 276.19 L152.78 273.84 L150.78 272.39 L153.25 272.39Z" fill="#fff" stroke="#000" stroke-width="1.0"/>
<path d="M155.91 372.54 L156.67 374.89 L159.14 374.89 L157.14 376.35 L157.91 378.69 L155.91 377.24 L153.91 378.69 L154.67 376.35 L152.68 374.89 L155.15 374.89Z" fill="#fff" stroke="#000" stroke-width="1.0"/>
<path d="M157.81 281.65 L158.57 284 L161.04 284 L159.04 285.46 L159.8 287.81 L157.81 286.35 L155.81 287.81 L156.57 285.46 L154.57 284 L157.04 284Z" fill="#fff" stroke="#000" stroke-width="1.0"/>
<path d="M159.7 358.11 L160.47 360.46 L162.94 360.46 L160.94 361.92 L161.7 364.26 L159.7 362.81 L157.7 364.26 L158.47 361.92 L156.47 360.46 L158.94 360.46Z" fill="#fff" stroke="#000" stroke-width="1.0"/>
<path d="M161.6 281.65 L162.36 284 L164.83 284 L162.84 285.46 L163.6 287.81 L161.6 286.35 L159.6 287.81 L160.36 285.46 L158.37 284 L160.84 284Z" fill="#fff" stroke="#000" stroke-width="1.0"/>
<path d="M163.5 319.32 L164.26 321.67 L166.73 321.67 L164.73 323.12 L165.5 325.47 L163.5 324.02 L161.5 325.47 L162.26 323.12 L160.26 321.67 L162.73 321.67Z" fill="#fff" stroke="#000" stroke-width="1.0"/>
<path d="M165.39 334.69 L166.16 337.04 L168.63 337.04 L166.63 338.49 L167.39 340.84 L165.39 339.39 L163.4 340.84 L164.16 338.49 L162.16 337.04 L164.63 337.04Z" fill="#fff" stroke="#000" stroke-width="1.0"/>
<path d="M167.29 360.93 L168.05 363.27 L170.52 363.27 L168.53 364.73 L169.29 367.08 L167.29 365.62 L165.29 367.08 L166.06 364.73 L164.06 363.27 L166.53 363.27Z" fill="#fff" stroke="#000" stroke-width="1.0"/>
<path d="M169.19 290.09 L169.95 292.44 L172.42 292.44 L170.42 293.89 L171.19 296.24 L169.19 294.79 L167.19 296.24 L167.95 293.89 L165.95 292.44 L168.42 292.44Z" fill="#fff" stroke="#000" stroke-width="1.0"/>
<path d="M171.09 269.1 L171.85 271.45 L174.32 271.45 L172.32 272.9 L173.08 275.25 L171.09 273.8 L169.09 275.25 L169.85 272.9 L167.85 271.45 L170.32 271.45Z" fill="#fff" stroke="#000" stroke-width="1.0"/>
<path d="M172.98 269.47 L173.75 271.82 L176.22 271.82 L174.22 273.28 L174.98 275.62 L172.98 274.17 L170.98 275.62 L171.75 273.28 L169.75 271.82 L172.22 271.82Z" fill="#fff" stroke="#000" stroke-width="1.0"/>
<path d="M174.88 312.58 L175.64 314.93 L178.11 314.93 L176.11 316.38 L176.88 318.73 L174.88 317.27 L172.88 318.73 L173.64 316.38 L171.65 314.93 L174.12 314.93Z" fill="#fff" stroke="#000" stroke-width="1.0"/>
<path d="M176.78 443.19 L177.54 445.54 L180.01 445.54 L178.01 447 L178.77 449.34 L176.78 447.89 L174.78 449.34 L175.54 447 L173.54 445.54 L176.01 445.54Z" fill="#fff" stroke="#000" stroke-width="1.0"/>
<path d="M178.67 366.92 L179.44 369.27 L181.91 369.27 L179.91 370.72 L180.67 373.07 L178.67 371.62 L176.68 373.07 L177.44 370.72 L175.44 369.27 L177.91 369.27Z" fill="#fff" stroke="#000" stroke-width="1.0"/>
<path d="M180.57 325.13 L181.33 327.48 L183.8 327.48 L181.81 328.93 L182.57 331.28 L180.57 329.83 L178.57 331.28 L179.34 328.93 L177.34 327.48 L179.81 327.48Z" fill="#fff" stroke="#000" stroke-width="1.0"/>
<path d="M182.47 314.45 L183.23 316.8 L185.7 316.8 L183.7 318.25 L184.47 320.6 L182.47 319.15 L180.47 320.6 L181.23 318.25 L179.23 316.8 L181.7 316.8Z" fill="#fff" stroke="#000" stroke-width="1.0"/>
<path d="M184.36 325.13 L185.13 327.48 L187.6 327.48 L185.6 328.93 L186.36 331.28 L184.36 329.83 L182.37 331.28 L183.13 328.93 L181.13 327.48 L183.6 327.48Z" fill="#fff" stroke="#000" stroke-width="1.0"/>
<path d="M186.26 277.72 L187.03 280.07 L189.5 280.07 L187.5 281.52 L188.26 283.87 L186.26 282.42 L184.26 283.87 L185.03 281.52 L183.03 280.07 L185.5 280.07Z" fill="#fff" stroke="#000" stroke-width="1.0"/>
<path d="M188.16 270.04 L188.92 272.39 L191.39 272.39 L189.39 273.84 L190.16 276.19 L188.16 274.73 L186.16 276.19 L186.92 273.84 L184.93 272.39 L187.4 272.39Z" fill="#fff" stroke="#000" stroke-width="1.0"/>
<path d="M190.06 302.83 L190.82 305.18 L193.29 305.18 L191.29 306.63 L192.05 308.98 L190.06 307.53 L188.06 308.98 L188.82 306.63 L186.82 305.18 L189.29 305.18Z" fill="#fff" stroke="#000" stroke-width="1.0"/>
<path d="M191.95 267.6 L192.72 269.95 L195.19 269.95 L193.19 271.4 L193.95 273.75 L191.95 272.3 L189.95 273.75 L190.72 271.4 L188.72 269.95 L191.19 269.95Z" fill="#fff" stroke="#000" stroke-width="1.0"/>
<path d="M193.85 389.41 L194.61 391.76 L197.08 391.76 L195.09 393.21 L195.85 395.56 L193.85 394.11 L191.85 395.56 L192.61 393.21 L190.62 391.76 L193.09 391.76Z" fill="#fff" stroke="#000" stroke-width="1.0"/>
<path d="M195.75 269.1 L196.51 271.45 L198.98 271.45 L196.98 272.9 L197.75 275.25 L195.75 273.8 L193.75 275.25 L194.51 272.9 L192.51 271.45 L194.98 271.45Z" fill="#fff" stroke="#000" stroke-width="1.0"/>
<path d="M197.64 453.13 L198.41 455.48 L200.88 455.48 L198.88 456.93 L199.64 459.28 L197.64 457.82 L195.65 459.28 L196.41 456.93 L194.41 455.48 L196.88 455.48Z" fill="#fff" stroke="#000" stroke-width="1.0"/>
<path d="M199.54 454.44 L200.3 456.79 L202.77 456.79 L200.78 458.24 L201.54 460.59 L199.54 459.14 L197.54 460.59 L198.31 458.24 L196.31 456.79 L198.78 456.79Z" fill="#fff" stroke="#000" stroke-width="1.0"/>
<path d="M201.44 327.01 L202.2 329.36 L204.67 329.36 L202.67 330.81 L203.44 333.16 L201.44 331.7 L199.44 333.16 L200.2 330.81 L198.2 329.36 L200.67 329.36Z" fill="#fff" stroke="#000" stroke-width="1.0"/>
<path d="M203.34 273.22 L204.1 275.57 L206.57 275.57 L204.57 277.02 L205.33 279.37 L203.34 277.92 L201.34 279.37 L202.1 277.02 L200.1 275.57 L202.57 275.57Z" fill="#fff" stroke="#000" stroke-width="1.0"/>
<path d="M205.23 344.43 L206 346.78 L208.47 346.78 L206.47 348.24 L207.23 350.58 L205.23 349.13 L203.23 350.58 L204 348.24 L202 346.78 L204.47 346.78Z" fill="#fff" stroke="#000" stroke-width="1.0"/>
<path d="M207.13 321.2 L207.89 323.55 L210.36 323.55 L208.36 325 L209.13 327.35 L207.13 325.9 L205.13 327.35 L205.89 325 L203.9 323.55 L206.37 323.55Z" fill="#fff" stroke="#000" stroke-width="1.0"/>
<path d="M209.03 269.1 L209.79 271.45 L212.26 271.45 L210.26 272.9 L211.02 275.25 L209.03 273.8 L207.03 275.25 L207.79 272.9 L205.79 271.45 L208.26 271.45Z" fill="#fff" stroke="#000" stroke-width="1.0"/>
<path d="M210.92 351.18 L211.69 353.53 L214.16 353.53 L212.16 354.98 L212.92 357.33 L210.92 355.88 L208.93 357.33 L209.69 354.98 L207.69 353.53 L210.16 353.53Z" fill="#fff" stroke="#000" stroke-width="1.0"/>
<path d="M212.82 269.1 L213.58 271.45 L216.05 271.45 L214.06 272.9 L214.82 275.25 L212.82 273.8 L210.82 275.25 L211.59 272.9 L209.59 271.45 L212.06 271.45Z" fill="#fff" stroke="#000" stroke-width="1.0"/>
<path d="M214.72 323.82 L215.48 326.17 L217.95 326.17 L215.95 327.62 L216.72 329.97 L214.72 328.52 L212.72 329.97 L213.48 327.62 L211.48 326.17 L213.95 326.17Z" fill="#fff" stroke="#000" stroke-width="1.0"/>
<path d="M216.61 269.1 L217.38 271.45 L219.85 271.45 L217.85 272.9 L218.61 275.25 L216.61 273.8 L214.62 275.25 L215.38 272.9 L213.38 271.45 L215.85 271.45Z" fill="#fff" stroke="#000" stroke-width="1.0"/>
<path d="M218.51 329.82 L219.28 332.17 L221.75 332.17 L219.75 333.62 L220.51 335.97 L218.51 334.52 L216.51 335.97 L217.28 333.62 L215.28 332.17 L217.75 332.17Z" fill="#fff" stroke="#000" stroke-width="1.0"/>
<path d="M220.41 276.97 L221.17 279.32 L223.64 279.32 L221.64 280.77 L222.41 283.12 L220.41 281.67 L218.41 283.12 L219.17 280.77 L217.18 279.32 L219.65 279.32Z" fill="#fff" stroke="#000" stroke-width="1.0"/>
<path d="M222.31 273.97 L223.07 276.32 L225.54 276.32 L223.54 277.77 L224.3 280.12 L222.31 278.67 L220.31 280.12 L221.07 277.77 L219.07 276.32 L221.54 276.32Z" fill="#fff" stroke="#000" stroke-width="1.0"/>
<path d="M224.2 276.97 L224.97 279.32 L227.44 279.32 L225.44 280.77 L226.2 283.12 L224.2 281.67 L222.2 283.12 L222.97 280.77 L220.97 279.32 L223.44 279.32Z" fill="#fff" stroke="#000" stroke-width="1.0"/>
<path d="M226.1 277.72 L226.86 280.07 L229.33 280.07 L227.34 281.52 L228.1 283.87 L226.1 282.42 L224.1 283.87 L224.86 281.52 L222.87 280.07 L225.34 280.07Z" fill="#fff" stroke="#000" stroke-width="1.0"/>
<path d="M228 323.07 L228.76 325.42 L231.23 325.42 L229.23 326.87 L230 329.22 L228 327.77 L226 329.22 L226.76 326.87 L224.76 325.42 L227.23 325.42Z" fill="#fff" stroke="#000" stroke-width="1.0"/>
<path d="M229.89 290.28 L230.66 292.62 L233.13 292.62 L231.13 294.08 L231.89 296.43 L229.89 294.97 L227.9 296.43 L228.66 294.08 L226.66 292.62 L229.13 292.62Z" fill="#fff" stroke="#000" stroke-width="1.0"/>
<path d="M231.79 280.72 L232.55 283.07 L235.02 283.07 L233.03 284.52 L233.79 286.87 L231.79 285.42 L229.79 286.87 L230.56 284.52 L228.56 283.07 L231.03 283.07Z" fill="#fff" stroke="#000" stroke-width="1.0"/>
<path d="M233.69 269.1 L234.45 271.45 L236.92 271.45 L234.92 272.9 L235.69 275.25 L233.69 273.8 L231.69 275.25 L232.45 272.9 L230.45 271.45 L232.92 271.45Z" fill="#fff" stroke="#000" stroke-width="1.0"/>
<path d="M235.59 269.1 L236.35 271.45 L238.82 271.45 L236.82 272.9 L237.58 275.25 L235.59 273.8 L233.59 275.25 L234.35 272.9 L232.35 271.45 L234.82 271.45Z" fill="#fff" stroke="#000" stroke-width="1.0"/>
<path d="M237.48 278.84 L238.25 281.19 L240.72 281.19 L238.72 282.65 L239.48 284.99 L237.48 283.54 L235.48 284.99 L236.25 282.65 L234.25 281.19 L236.72 281.19Z" fill="#fff" stroke="#000" stroke-width="1.0"/>
<path d="M239.38 452.75 L240.14 455.1 L242.61 455.1 L240.61 456.55 L241.38 458.9 L239.38 457.45 L237.38 458.9 L238.14 456.55 L236.15 455.1 L238.62 455.1Z" fill="#fff" stroke="#000" stroke-width="1.0"/>
<path d="M241.28 304.71 L242.04 307.05 L244.51 307.05 L242.51 308.51 L243.27 310.86 L241.28 309.4 L239.28 310.86 L240.04 308.51 L238.04 307.05 L240.51 307.05Z" fill="#fff" stroke="#000" stroke-width="1.0"/>
<path d="M243.17 322.13 L243.94 324.48 L246.41 324.48 L244.41 325.93 L245.17 328.28 L243.17 326.83 L241.18 328.28 L241.94 325.93 L239.94 324.48 L242.41 324.48Z" fill="#fff" stroke="#000" stroke-width="1.0"/>
<path d="M245.07 291.21 L245.83 293.56 L248.3 293.56 L246.31 295.01 L247.07 297.36 L245.07 295.91 L243.07 297.36 L243.84 295.01 L241.84 293.56 L244.31 293.56Z" fill="#fff" stroke="#000" stroke-width="1.0"/>
<path d="M246.97 396.91 L247.73 399.26 L250.2 399.26 L248.2 400.71 L248.97 403.06 L246.97 401.6 L244.97 403.06 L245.73 400.71 L243.73 399.26 L246.2 399.26Z" fill="#fff" stroke="#000" stroke-width="1.0"/>
<path d="M248.86 426.7 L249.63 429.05 L252.1 429.05 L250.1 430.5 L250.86 432.85 L248.86 431.4 L246.87 432.85 L247.63 430.5 L245.63 429.05 L248.1 429.05Z" fill="#fff" stroke="#000" stroke-width="1.0"/>
<path d="M250.76 454.44 L251.53 456.79 L254 456.79 L252 458.24 L252.76 460.59 L250.76 459.14 L248.76 460.59 L249.53 458.24 L247.53 456.79 L250 456.79Z" fill="#fff" stroke="#000" stroke-width="1.0"/>
<path d="M252.66 377.79 L253.42 380.14 L255.89 380.14 L253.89 381.59 L254.66 383.94 L252.66 382.49 L250.66 383.94 L251.42 381.59 L249.43 380.14 L251.9 380.14Z" fill="#fff" stroke="#000" stroke-width="1.0"/>
<path d="M254.56 296.08 L255.32 298.43 L257.79 298.43 L255.79 299.89 L256.55 302.24 L254.56 300.78 L252.56 302.24 L253.32 299.89 L251.32 298.43 L253.79 298.43Z" fill="#fff" stroke="#000" stroke-width="1.0"/>
<path d="M256.45 270.04 L257.22 272.39 L259.69 272.39 L257.69 273.84 L258.45 276.19 L256.45 274.73 L254.45 276.19 L255.22 273.84 L253.22 272.39 L255.69 272.39Z" fill="#fff" stroke="#000" stroke-width="1.0"/>
<path d="M258.35 313.51 L259.11 315.86 L261.58 315.86 L259.59 317.31 L260.35 319.66 L258.35 318.21 L256.35 319.66 L257.11 317.31 L255.12 315.86 L257.59 315.86Z" fill="#fff" stroke="#000" stroke-width="1.0"/>
<path d="M260.25 269.1 L261.01 271.45 L263.48 271.45 L261.48 272.9 L262.25 275.25 L260.25 273.8 L258.25 275.25 L259.01 272.9 L257.01 271.45 L259.48 271.45Z" fill="#fff" stroke="#000" stroke-width="1.0"/>
<path d="M262.14 269.1 L262.91 271.45 L265.38 271.45 L263.38 272.9 L264.14 275.25 L262.14 273.8 L260.15 275.25 L260.91 272.9 L258.91 271.45 L261.38 271.45Z" fill="#fff" stroke="#000" stroke-width="1.0"/>
<path d="M264.04 380.04 L264.8 382.39 L267.27 382.39 L265.28 383.84 L266.04 386.19 L264.04 384.74 L262.04 386.19 L262.81 383.84 L260.81 382.39 L263.28 382.39Z" fill="#fff" stroke="#000" stroke-width="1.0"/>
<path d="M265.94 316.32 L266.7 318.67 L269.17 318.67 L267.17 320.13 L267.94 322.47 L265.94 321.02 L263.94 322.47 L264.7 320.13 L262.7 318.67 L265.17 318.67Z" fill="#fff" stroke="#000" stroke-width="1.0"/>
<path d="M267.84 409.09 L268.6 411.44 L271.07 411.44 L269.07 412.89 L269.83 415.24 L267.84 413.79 L265.84 415.24 L266.6 412.89 L264.6 411.44 L267.07 411.44Z" fill="#fff" stroke="#000" stroke-width="1.0"/>
<path d="M269.73 272.1 L270.5 274.45 L272.97 274.45 L270.97 275.9 L271.73 278.25 L269.73 276.8 L267.73 278.25 L268.5 275.9 L266.5 274.45 L268.97 274.45Z" fill="#fff" stroke="#000" stroke-width="1.0"/>
<path d="M271.63 291.21 L272.39 293.56 L274.86 293.56 L272.86 295.01 L273.63 297.36 L271.63 295.91 L269.63 297.36 L270.39 295.01 L268.4 293.56 L270.87 293.56Z" fill="#fff" stroke="#000" stroke-width="1.0"/>
<path d="M273.53 382.29 L274.29 384.64 L276.76 384.64 L274.76 386.09 L275.52 388.44 L273.53 386.99 L271.53 388.44 L272.29 386.09 L270.29 384.64 L272.76 384.64Z" fill="#fff" stroke="#000" stroke-width="1.0"/>
<path d="M275.42 329.82 L276.19 332.17 L278.66 332.17 L276.66 333.62 L277.42 335.97 L275.42 334.52 L273.43 335.97 L274.19 333.62 L272.19 332.17 L274.66 332.17Z" fill="#fff" stroke="#000" stroke-width="1.0"/>
<path d="M277.32 325.13 L278.08 327.48 L280.55 327.48 L278.56 328.93 L279.32 331.28 L277.32 329.83 L275.32 331.28 L276.09 328.93 L274.09 327.48 L276.56 327.48Z" fill="#fff" stroke="#000" stroke-width="1.0"/>
<path d="M279.22 355.87 L279.98 358.21 L282.45 358.21 L280.45 359.67 L281.22 362.02 L279.22 360.56 L277.22 362.02 L277.98 359.67 L275.98 358.21 L278.45 358.21Z" fill="#fff" stroke="#000" stroke-width="1.0"/>
<path d="M281.11 270.04 L281.88 272.39 L284.35 272.39 L282.35 273.84 L283.11 276.19 L281.11 274.73 L279.12 276.19 L279.88 273.84 L277.88 272.39 L280.35 272.39Z" fill="#fff" stroke="#000" stroke-width="1.0"/>
<path d="M283.01 453.13 L283.78 455.48 L286.25 455.48 L284.25 456.93 L285.01 459.28 L283.01 457.82 L281.01 459.28 L281.78 456.93 L279.78 455.48 L282.25 455.48Z" fill="#fff" stroke="#000" stroke-width="1.0"/>
<path d="M284.91 400.65 L285.67 403 L288.14 403 L286.14 404.46 L286.91 406.8 L284.91 405.35 L282.91 406.8 L283.67 404.46 L281.68 403 L284.15 403Z" fill="#fff" stroke="#000" stroke-width="1.0"/>
<path d="M286.81 291.21 L287.57 293.56 L290.04 293.56 L288.04 295.01 L288.8 297.36 L286.81 295.91 L284.81 297.36 L285.57 295.01 L283.57 293.56 L286.04 293.56Z" fill="#fff" stroke="#000" stroke-width="1.0"/>
<path d="M288.7 352.12 L289.47 354.47 L291.94 354.47 L289.94 355.92 L290.7 358.27 L288.7 356.82 L286.7 358.27 L287.47 355.92 L285.47 354.47 L287.94 354.47Z" fill="#fff" stroke="#000" stroke-width="1.0"/>
<polyline points="32.6,345.77 34.5,412.11 36.39,277.37 38.29,280.18 40.19,278.5 42.09,457.84 43.98,457.84 45.88,281.31 47.78,457.28 49.67,451.47 51.57,278.5 53.47,279.06 55.36,341.84 57.26,278.12 59.16,277 61.06,278.5 62.95,274.94 64.85,328.34 66.75,457.84 68.64,330.41 70.54,278.5 72.44,277.18 74.34,345.77 76.23,457.84 78.13,455.4 80.03,279.43 81.92,278.5 83.82,345.77 85.72,331.34 87.61,314.85 89.51,457.84 91.41,331.34 93.31,457.84 95.2,280.56 97.1,278.5 99,345.96 100.89,327.22 102.79,310.17 104.69,314.85 106.59,281.12 108.48,330.41 110.38,288.8 112.28,277.37 114.17,352.52 116.07,327.22 117.97,312.04 119.86,310.17 121.76,276.06 123.66,304.36 125.56,327.41 127.45,283.74 129.35,334.15 131.25,324.6 133.14,392.81 135.04,383.07 136.94,310.17 138.84,307.17 140.73,345.77 142.63,280.18 144.53,314.48 146.42,426.54 148.32,281.12 150.22,278.31 152.11,304.36 154.01,273.44 155.91,376.32 157.81,284.12 159.7,344.84 161.6,287.4 163.5,298.55 165.39,302.3 167.29,348.58 169.19,275.31 171.09,277.75 172.98,275.31 174.88,316.91 176.78,458.4 178.67,346.71 180.57,291.8 182.47,326.47 184.36,348.58 186.26,281.12 188.16,273.44 190.06,332.28 191.95,273.44 193.85,402.37 195.75,273.44 197.64,458.4 199.54,458.4 201.44,344.84 203.34,277.37 205.23,342.21 207.13,306.61 209.03,274.37 210.92,325.53 212.82,274.37 214.72,347.65 216.61,274.37 218.51,358.33 220.41,279.81 222.31,274.37 224.2,278.31 226.1,284.12 228,342.21 229.89,286.93 231.79,275.31 233.69,281.31 235.59,274.37 237.48,284.12 239.38,458.4 241.28,331.34 243.17,340.9 245.07,293.68 246.97,415.86 248.86,457.84 250.76,457.84 252.66,348.58 254.56,305.29 256.45,273.44 258.35,312.98 260.25,274.37 262.14,275.31 264.04,358.33 265.94,298.55 267.84,434.23 269.73,274.37 271.63,277.37 273.53,369.57 275.42,295.74 277.32,299.48 279.22,348.58 281.11,273.44 283.01,458.4 284.91,420.92 286.81,307.17 288.7,343.9" fill="none" stroke="#00BFFF" stroke-width="1.5" stroke-linejoin="round"/>
<circle cx="32.6" cy="345.77" r="2.85" fill="#00BFFF"/>
<circle cx="34.5" cy="412.11" r="2.85" fill="#00BFFF"/>
<circle cx="36.39" cy="277.37" r="2.85" fill="#00BFFF"/>
<circle cx="38.29" cy="280.18" r="2.85" fill="#00BFFF"/>
<circle cx="40.19" cy="278.5" r="2.85" fill="#00BFFF"/>
<circle cx="42.09" cy="457.84" r="2.85" fill="#00BFFF"/>
<circle cx="43.98" cy="457.84" r="2.85" fill="#00BFFF"/>
<circle cx="45.88" cy="281.31" r="2.85" fill="#00BFFF"/>
<circle cx="47.78" cy="457.28" r="2.85" fill="#00BFFF"/>
<circle cx="49.67" cy="451.47" r="2.85" fill="#00BFFF"/>
<circle cx="51.57" cy="278.5" r="2.85" fill="#00BFFF"/>
<circle cx="53.47" cy="279.06" r="2.85" fill="#00BFFF"/>
<circle cx="55.36" cy="341.84" r="2.85" fill="#00BFFF"/>
<circle cx="57.26" cy="278.12" r="2.85" fill="#00BFFF"/>
<circle cx="59.16" cy="277" r="2.85" fill="#00BFFF"/>
<circle cx="61.06" cy="278.5" r="2.85" fill="#00BFFF"/>
<circle cx="62.95" cy="274.94" r="2.85" fill="#00BFFF"/>
<circle cx="64.85" cy="328.34" r="2.85" fill="#00BFFF"/>
<circle cx="66.75" cy="457.84" r="2.85" fill="#00BFFF"/>
<circle cx="68.64" cy="330.41" r="2.85" fill="#00BFFF"/>
<circle cx="70.54" cy="278.5" r="2.85" fill="#00BFFF"/>
<circle cx="72.44" cy="277.18" r="2.85" fill="#00BFFF"/>
<circle cx="74.34" cy="345.77" r="2.85" fill="#00BFFF"/>
<circle cx="76.23" cy="457.84" r="2.85" fill="#00BFFF"/>
<circle cx="78.13" cy="455.4" r="2.85" fill="#00BFFF"/>
<circle cx="80.03" cy="279.43" r="2.85" fill="#00BFFF"/>
<circle cx="81.92" cy="278.5" r="2.85" fill="#00BFFF"/>
<circle cx="83.82" cy="345.77" r="2.85" fill="#00BFFF"/>
<circle cx="85.72" cy="331.34" r="2.85" fill="#00BFFF"/>
<circle cx="87.61" cy="314.85" r="2.85" fill="#00BFFF"/>
<circle cx="89.51" cy="457.84" r="2.85" fill="#00BFFF"/>
<circle cx="91.41" cy="331.34" r="2.85" fill="#00BFFF"/>
<circle cx="93.31" cy="457.84" r="2.85" fill="#00BFFF"/>
<circle cx="95.2" cy="280.56" r="2.85" fill="#00BFFF"/>
<circle cx="97.1" cy="278.5" r="2.85" fill="#00BFFF"/>
<circle cx="99" cy="345.96" r="2.85" fill="#00BFFF"/>
<circle cx="100.89" cy="327.22" r="2.85" fill="#00BFFF"/>
<circle cx="102.79" cy="310.17" r="2.85" fill="#00BFFF"/>
<circle cx="104.69" cy="314.85" r="2.85" fill="#00BFFF"/>
<circle cx="106.59" cy="281.12" r="2.85" fill="#00BFFF"/>
<circle cx="108.48" cy="330.41" r="2.85" fill="#00BFFF"/>
<circle cx="110.38" cy="288.8" r="2.85" fill="#00BFFF"/>
<circle cx="112.28" cy="277.37" r="2.85" fill="#00BFFF"/>
<circle cx="114.17" cy="352.52" r="2.85" fill="#00BFFF"/>
<circle cx="116.07" cy="327.22" r="2.85" fill="#00BFFF"/>
<circle cx="117.97" cy="312.04" r="2.85" fill="#00BFFF"/>
<circle cx="119.86" cy="310.17" r="2.85" fill="#00BFFF"/>
<circle cx="121.76" cy="276.06" r="2.85" fill="#00BFFF"/>
<circle cx="123.66" cy="304.36" r="2.85" fill="#00BFFF"/>
<circle cx="125.56" cy="327.41" r="2.85" fill="#00BFFF"/>
<circle cx="127.45" cy="283.74" r="2.85" fill="#00BFFF"/>
<circle cx="129.35" cy="334.15" r="2.85" fill="#00BFFF"/>
<circle cx="131.25" cy="324.6" r="2.85" fill="#00BFFF"/>
<circle cx="133.14" cy="392.81" r="2.85" fill="#00BFFF"/>
<circle cx="135.04" cy="383.07" r="2.85" fill="#00BFFF"/>
<circle cx="136.94" cy="310.17" r="2.85" fill="#00BFFF"/>
<circle cx="138.84" cy="307.17" r="2.85" fill="#00BFFF"/>
<circle cx="140.73" cy="345.77" r="2.85" fill="#00BFFF"/>
<circle cx="142.63" cy="280.18" r="2.85" fill="#00BFFF"/>
<circle cx="144.53" cy="314.48" r="2.85" fill="#00BFFF"/>
<circle cx="146.42" cy="426.54" r="2.85" fill="#00BFFF"/>
<circle cx="148.32" cy="281.12" r="2.85" fill="#00BFFF"/>
<circle cx="150.22" cy="278.31" r="2.85" fill="#00BFFF"/>
<circle cx="152.11" cy="304.36" r="2.85" fill="#00BFFF"/>
<circle cx="154.01" cy="273.44" r="2.85" fill="#00BFFF"/>
<circle cx="155.91" cy="376.32" r="2.85" fill="#00BFFF"/>
<circle cx="157.81" cy="284.12" r="2.85" fill="#00BFFF"/>
<circle cx="159.7" cy="344.84" r="2.85" fill="#00BFFF"/>
<circle cx="161.6" cy="287.4" r="2.85" fill="#00BFFF"/>
<circle cx="163.5" cy="298.55" r="2.85" fill="#00BFFF"/>
<circle cx="165.39" cy="302.3" r="2.85" fill="#00BFFF"/>
<circle cx="167.29" cy="348.58" r="2.85" fill="#00BFFF"/>
<circle cx="169.19" cy="275.31" r="2.85" fill="#00BFFF"/>
<circle cx="171.09" cy="277.75" r="2.85" fill="#00BFFF"/>
<circle cx="172.98" cy="275.31" r="2.85" fill="#00BFFF"/>
<circle cx="174.88" cy="316.91" r="2.85" fill="#00BFFF"/>
<circle cx="176.78" cy="458.4" r="2.85" fill="#00BFFF"/>
<circle cx="178.67" cy="346.71" r="2.85" fill="#00BFFF"/>
<circle cx="180.57" cy="291.8" r="2.85" fill="#00BFFF"/>
<circle cx="182.47" cy="326.47" r="2.85" fill="#00BFFF"/>
<circle cx="184.36" cy="348.58" r="2.85" fill="#00BFFF"/>
<circle cx="186.26" cy="281.12" r="2.85" fill="#00BFFF"/>
<circle cx="188.16" cy="273.44" r="2.85" fill="#00BFFF"/>
<circle cx="190.06" cy="332.28" r="2.85" fill="#00BFFF"/>
<circle cx="191.95" cy="273.44" r="2.85" fill="#00BFFF"/>
<circle cx="193.85" cy="402.37" r="2.85" fill="#00BFFF"/>
<circle cx="195.75" cy="273.44" r="2.85" fill="#00BFFF"/>
<circle cx="197.64" cy="458.4" r="2.85" fill="#00BFFF"/>
<circle cx="199.54" cy="458.4" r="2.85" fill="#00BFFF"/>
<circle cx="201.44" cy="344.84" r="2.85" fill="#00BFFF"/>
<circle cx="203.34" cy="277.37" r="2.85" fill="#00BFFF"/>
<circle cx="205.23" cy="342.21" r="2.85" fill="#00BFFF"/>
<circle cx="207.13" cy="306.61" r="2.85" fill="#00BFFF"/>
<circle cx="209.03" cy="274.37" r="2.85" fill="#00BFFF"/>
<circle cx="210.92" cy="325.53" r="2.85" fill="#00BFFF"/>
<circle cx="212.82" cy="274.37" r="2.85" fill="#00BFFF"/>
<circle cx="214.72" cy="347.65" r="2.85" fill="#00BFFF"/>
<circle cx="216.61" cy="274.37" r="2.85" fill="#00BFFF"/>
<circle cx="218.51" cy="358.33" r="2.85" fill="#00BFFF"/>
<circle cx="220.41" cy="279.81" r="2.85" fill="#00BFFF"/>
<circle cx="222.31" cy="274.37" r="2.85" fill="#00BFFF"/>
<circle cx="224.2" cy="278.31" r="2.85" fill="#00BFFF"/>
<circle cx="226.1" cy="284.12" r="2.85" fill="#00BFFF"/>
<circle cx="228" cy="342.21" r="2.85" fill="#00BFFF"/>
<circle cx="229.89" cy="286.93" r="2.85" fill="#00BFFF"/>
<circle cx="231.79" cy="275.31" r="2.85" fill="#00BFFF"/>
<circle cx="233.69" cy="281.31" r="2.85" fill="#00BFFF"/>
<circle cx="235.59" cy="274.37" r="2.85" fill="#00BFFF"/>
<circle cx="237.48" cy="284.12" r="2.85" fill="#00BFFF"/>
<circle cx="239.38" cy="458.4" r="2.85" fill="#00BFFF"/>
<circle cx="241.28" cy="331.34" r="2.85" fill="#00BFFF"/>
<circle cx="243.17" cy="340.9" r="2.85" fill="#00BFFF"/>
<circle cx="245.07" cy="293.68" r="2.85" fill="#00BFFF"/>
<circle cx="246.97" cy="415.86" r="2.85" fill="#00BFFF"/>
<circle cx="248.86" cy="457.84" r="2.85" fill="#00BFFF"/>
<circle cx="250.76" cy="457.84" r="2.85" fill="#00BFFF"/>
<circle cx="252.66" cy="348.58" r="2.85" fill="#00BFFF"/>
<circle cx="254.56" cy="305.29" r="2.85" fill="#00BFFF"/>
<circle cx="256.45" cy="273.44" r="2.85" fill="#00BFFF"/>
<circle cx="258.35" cy="312.98" r="2.85" fill="#00BFFF"/>
<circle cx="260.25" cy="274.37" r="2.85" fill="#00BFFF"/>
<circle cx="262.14" cy="275.31" r="2.85" fill="#00BFFF"/>
<circle cx="264.04" cy="358.33" r="2.85" fill="#00BFFF"/>
<circle cx="265.94" cy="298.55" r="2.85" fill="#00BFFF"/>
<circle cx="267.84" cy="434.23" r="2.85" fill="#00BFFF"/>
<circle cx="269.73" cy="274.37" r="2.85" fill="#00BFFF"/>
<circle cx="271.63" cy="277.37" r="2.85" fill="#00BFFF"/>
<circle cx="273.53" cy="369.57" r="2.85" fill="#00BFFF"/>
<circle cx="275.42" cy="295.74" r="2.85" fill="#00BFFF"/>
<circle cx="277.32" cy="299.48" r="2.85" fill="#00BFFF"/>
<circle cx="279.22" cy="348.58" r="2.85" fill="#00BFFF"/>
<circle cx="281.11" cy="273.44" r="2.85" fill="#00BFFF"/>
<circle cx="283.01" cy="458.4" r="2.85" fill="#00BFFF"/>
<circle cx="284.91" cy="420.92" r="2.85" fill="#00BFFF"/>
<circle cx="286.81" cy="307.17" r="2.85" fill="#00BFFF"/>
<circle cx="288.7" cy="343.9" r="2.85" fill="#00BFFF"/>
<polyline points="32.6,350.99 34.5,376.17 36.39,379.93 38.29,383.69 40.19,398.4 42.09,383.03 43.98,367.67 45.88,387.61 47.78,345.43 49.67,340.52 51.57,382.05 53.47,360.31 55.36,338.56 57.26,391.54 59.16,399.38 61.06,392.52 62.95,388.1 64.85,383.69 66.75,394.48 68.64,387.61 70.54,394.48 72.44,382.38 74.34,370.28 76.23,372.24 78.13,341.5 80.03,397.42 81.92,384.83 83.82,372.24 85.72,356.87 87.61,364.72 89.51,375.19 91.41,385.65 93.31,400.37 95.2,390.56 97.1,399.38 99,327.12 100.89,362.27 102.79,397.42 104.69,339.54 106.59,394.48 108.48,385.65 110.38,395.46 112.28,380.58 114.17,365.7 116.07,394.48 117.97,396.93 119.86,399.38 121.76,377.15 123.66,368.48 125.56,359.82 127.45,382.71 129.35,384.18 131.25,385.65 133.14,396.44 135.04,395.46 136.94,389.08 138.84,382.71 140.73,366.68 142.63,375.19 144.53,383.69 146.42,370.28 148.32,398.4 150.22,393.99 152.11,389.57 154.01,399.38 155.91,347.39 157.81,389.57 159.7,350.99 161.6,340.52 163.5,343.14 165.39,339.54 167.29,370.28 169.19,398.4 171.09,395.46 172.98,392.52 174.88,400.37 176.78,369.3 178.67,360.14 180.57,350.99 182.47,383.69 184.36,367.67 186.26,399.38 188.16,378.62 190.06,357.86 191.95,389.57 193.85,385.65 195.75,397.42 197.64,399.38 199.54,401.35 201.44,374.2 203.34,392.52 205.23,330.06 207.13,364.23 209.03,398.4 210.92,354.91 212.82,397.42 214.72,382.05 216.61,366.68 218.51,355.89 220.41,397.42 222.31,393.01 224.2,388.59 226.1,366.68 228,391.54 229.89,389.08 231.79,386.63 233.69,399.38 235.59,399.38 237.48,399.38 239.38,381.07 241.28,362.76 243.17,389.57 245.07,374.2 246.97,397.42 248.86,352.95 250.76,393.5 252.66,350.01 254.56,374.7 256.45,399.38 258.35,397.42 260.25,395.46 262.14,387.61 264.04,360.8 265.94,362.27 267.84,363.74 269.73,392.52 271.63,374.2 273.53,360.8 275.42,347.39 277.32,342.49 279.22,374.2 281.11,400.37 283.01,391.54 284.91,374.2 286.81,378.46 288.7,382.71" fill="none" stroke="#E8086A" stroke-width="1.25" stroke-linejoin="round"/>
</g>
<rect x="32.6" y="261.2" width="258" height="206" fill="none" stroke="#000" stroke-width="0.7"/>
<line x1="29.7" y1="458.4" x2="32.6" y2="458.4" stroke="#000" stroke-width="0.7"/>
<text x="26.7" y="461.4" text-anchor="end" fill="#000" stroke="#000" stroke-width="0.18" font-size="8.3" textLength="13.2" lengthAdjust="spacingAndGlyphs">0.0</text>
<line x1="29.7" y1="420.92" x2="32.6" y2="420.92" stroke="#000" stroke-width="0.7"/>
<text x="26.7" y="423.92" text-anchor="end" fill="#000" stroke="#000" stroke-width="0.18" font-size="8.3" textLength="13.2" lengthAdjust="spacingAndGlyphs">0.2</text>
<line x1="29.7" y1="383.44" x2="32.6" y2="383.44" stroke="#000" stroke-width="0.7"/>
<text x="26.7" y="386.44" text-anchor="end" fill="#000" stroke="#000" stroke-width="0.18" font-size="8.3" textLength="13.2" lengthAdjust="spacingAndGlyphs">0.4</text>
<line x1="29.7" y1="345.96" x2="32.6" y2="345.96" stroke="#000" stroke-width="0.7"/>
<text x="26.7" y="348.96" text-anchor="end" fill="#000" stroke="#000" stroke-width="0.18" font-size="8.3" textLength="13.2" lengthAdjust="spacingAndGlyphs">0.6</text>
<line x1="29.7" y1="308.48" x2="32.6" y2="308.48" stroke="#000" stroke-width="0.7"/>
<text x="26.7" y="311.48" text-anchor="end" fill="#000" stroke="#000" stroke-width="0.18" font-size="8.3" textLength="13.2" lengthAdjust="spacingAndGlyphs">0.8</text>
<line x1="29.7" y1="271" x2="32.6" y2="271" stroke="#000" stroke-width="0.7"/>
<text x="26.7" y="274" text-anchor="end" fill="#000" stroke="#000" stroke-width="0.18" font-size="8.3" textLength="13.2" lengthAdjust="spacingAndGlyphs">1.0</text>
<line x1="32.6" y1="467.2" x2="32.6" y2="470.1" stroke="#000" stroke-width="0.7"/>
<text x="32.6" y="479.6" text-anchor="middle" fill="#000" stroke="#000" stroke-width="0.18" font-size="8.3" textLength="5.28" lengthAdjust="spacingAndGlyphs">0</text>
<line x1="70.54" y1="467.2" x2="70.54" y2="470.1" stroke="#000" stroke-width="0.7"/>
<text x="70.54" y="479.6" text-anchor="middle" fill="#000" stroke="#000" stroke-width="0.18" font-size="8.3" textLength="10.56" lengthAdjust="spacingAndGlyphs">20</text>
<line x1="108.48" y1="467.2" x2="108.48" y2="470.1" stroke="#000" stroke-width="0.7"/>
<text x="108.48" y="479.6" text-anchor="middle" fill="#000" stroke="#000" stroke-width="0.18" font-size="8.3" textLength="10.56" lengthAdjust="spacingAndGlyphs">40</text>
<line x1="146.42" y1="467.2" x2="146.42" y2="470.1" stroke="#000" stroke-width="0.7"/>
<text x="146.42" y="479.6" text-anchor="middle" fill="#000" stroke="#000" stroke-width="0.18" font-size="8.3" textLength="10.56" lengthAdjust="spacingAndGlyphs">60</text>
<line x1="184.36" y1="467.2" x2="184.36" y2="470.1" stroke="#000" stroke-width="0.7"/>
<text x="184.36" y="479.6" text-anchor="middle" fill="#000" stroke="#000" stroke-width="0.18" font-size="8.3" textLength="10.56" lengthAdjust="spacingAndGlyphs">80</text>
<line x1="222.31" y1="467.2" x2="222.31" y2="470.1" stroke="#000" stroke-width="0.7"/>
<text x="222.31" y="479.6" text-anchor="middle" fill="#000" stroke="#000" stroke-width="0.18" font-size="8.3" textLength="15.84" lengthAdjust="spacingAndGlyphs">100</text>
<line x1="260.25" y1="467.2" x2="260.25" y2="470.1" stroke="#000" stroke-width="0.7"/>
<text x="260.25" y="479.6" text-anchor="middle" fill="#000" stroke="#000" stroke-width="0.18" font-size="8.3" textLength="15.84" lengthAdjust="spacingAndGlyphs">120</text>
<line x1="290.6" y1="434.7" x2="293.5" y2="434.7" stroke="red" stroke-width="0.7"/>
<text x="297" y="437.7" text-anchor="start" fill="red" stroke="red" stroke-width="0.18" font-size="8.3" textLength="20.15" lengthAdjust="spacingAndGlyphs">−0.1</text>
<line x1="290.6" y1="402" x2="293.5" y2="402" stroke="red" stroke-width="0.7"/>
<text x="297" y="405" text-anchor="start" fill="red" stroke="red" stroke-width="0.18" font-size="8.3" textLength="13.2" lengthAdjust="spacingAndGlyphs">0.0</text>
<line x1="290.6" y1="369.3" x2="293.5" y2="369.3" stroke="red" stroke-width="0.7"/>
<text x="297" y="372.3" text-anchor="start" fill="red" stroke="red" stroke-width="0.18" font-size="8.3" textLength="13.2" lengthAdjust="spacingAndGlyphs">0.1</text>
<line x1="290.6" y1="336.6" x2="293.5" y2="336.6" stroke="red" stroke-width="0.7"/>
<text x="297" y="339.6" text-anchor="start" fill="red" stroke="red" stroke-width="0.18" font-size="8.3" textLength="13.2" lengthAdjust="spacingAndGlyphs">0.2</text>
<line x1="290.6" y1="303.9" x2="293.5" y2="303.9" stroke="red" stroke-width="0.7"/>
<text x="297" y="306.9" text-anchor="start" fill="red" stroke="red" stroke-width="0.18" font-size="8.3" textLength="13.2" lengthAdjust="spacingAndGlyphs">0.3</text>
<line x1="290.6" y1="271.2" x2="293.5" y2="271.2" stroke="red" stroke-width="0.7"/>
<text x="297" y="274.2" text-anchor="start" fill="red" stroke="red" stroke-width="0.18" font-size="8.3" textLength="13.2" lengthAdjust="spacingAndGlyphs">0.4</text>
<text x="161.6" y="492.1" text-anchor="middle" fill="#000" stroke="#000" stroke-width="0.18" font-size="8.3" textLength="57.9" lengthAdjust="spacingAndGlyphs">Data Samples</text>
<text x="8.1" y="364.2" text-anchor="middle" fill="#000" stroke="#000" stroke-width="0.18" font-size="8.3" textLength="93.97" lengthAdjust="spacingAndGlyphs" transform="rotate(-90 8.1 364.2)">Target and Predictions</text>
<text x="328" y="365" text-anchor="middle" fill="red" stroke="red" stroke-width="0.18" font-size="8.3" textLength="20.56" lengthAdjust="spacingAndGlyphs" transform="rotate(-90 328 365)">Error</text>
<rect x="36.75" y="265.35" width="67.4" height="40" rx="1.7" fill="#fff" fill-opacity="0.8" stroke="#cccccc" stroke-width="0.7"/>
<rect x="40.08" y="269.65" width="16.67" height="5.8" fill="#C3F3C3"/>
<text x="63.42" y="275.55" text-anchor="start" fill="#000" stroke="#000" stroke-width="0.18" font-size="8.3" textLength="34.02" lengthAdjust="spacingAndGlyphs">Test Set</text>
<line x1="40.08" y1="284.85" x2="56.75" y2="284.85" stroke="#000" stroke-width="0.9"/>
<path d="M48.42 281.45 L49.18 283.8 L51.65 283.8 L49.66 285.25 L50.42 287.6 L48.42 286.15 L46.42 287.6 L47.18 285.25 L45.19 283.8 L47.66 283.8Z" fill="#fff" stroke="#000" stroke-width="1.0"/>
<text x="63.42" y="287.85" text-anchor="start" fill="#000" stroke="#000" stroke-width="0.18" font-size="8.3" textLength="26.15" lengthAdjust="spacingAndGlyphs">Actual</text>
<line x1="40.08" y1="297.15" x2="56.75" y2="297.15" stroke="#00BFFF" stroke-width="1.5"/>
<circle cx="48.42" cy="297.15" r="2.85" fill="#00BFFF"/>
<text x="63.42" y="300.15" text-anchor="start" fill="#000" stroke="#000" stroke-width="0.18" font-size="8.3" textLength="37.4" lengthAdjust="spacingAndGlyphs">HBA-MLP</text>
<rect x="101.25" y="265.35" width="50.56" height="14.5" rx="1.7" fill="#fff" fill-opacity="0.8" stroke="#cccccc" stroke-width="0.7"/>
<line x1="104.58" y1="272.55" x2="121.25" y2="272.55" stroke="#E8086A" stroke-width="1.25"/>
<text x="127.92" y="275.55" text-anchor="start" fill="#000" stroke="#000" stroke-width="0.18" font-size="8.3" textLength="20.56" lengthAdjust="spacingAndGlyphs">Error</text>
<clipPath id="c3"><rect x="387.4" y="264.3" width="255.8" height="203.1"/></clipPath>
<rect x="590.54" y="264.3" width="52.66" height="203.1" fill="#C3F3C3"/>
<g clip-path="url(#c3)">
<polyline points="387.4,273.4 389.28,458.03 391.16,278.95 393.04,396.42 394.92,345 396.8,322.98 398.69,330.75 400.57,334.45 402.45,286.72 404.33,364.97 406.21,364.05 408.09,278.95 409.97,317.25 411.85,306.7 413.73,306.7 415.61,275.25 417.49,310.4 419.38,447.11 421.26,355.17 423.14,409.56 425.02,278.95 426.9,275.25 428.78,280.8 430.66,273.4 432.54,278.95 434.42,286.35 436.3,338.7 438.18,451.55 440.06,430.28 441.95,359.98 443.83,401.23 445.71,278.95 447.59,310.4 449.47,457.1 451.35,417.51 453.23,336.3 455.11,333.52 456.99,454.88 458.87,366.82 460.75,323.35 462.64,328.16 464.52,282.65 466.4,421.77 468.28,312.8 470.16,384.4 472.04,405.12 473.92,327.24 475.8,319.28 477.68,286.53 479.56,295.6 481.44,306.33 483.32,291.9 485.21,321.13 487.09,290.6 488.97,324.09 490.85,325.2 492.73,280.8 494.61,326.68 496.49,292.45 498.37,308.37 500.25,286.35 502.13,297.45 504.01,297.63 505.9,372.56 507.78,286.53 509.66,297.63 511.54,284.87 513.42,454.33 515.3,295.78 517.18,281.91 519.06,283.02 520.94,282.65 522.82,330.75 524.7,374.59 526.59,293.75 528.47,284.87 530.35,325.01 532.23,273.4 534.11,301.52 535.99,349.62 537.87,310.4 539.75,328.71 541.63,276.36 543.51,284.87 545.39,320.2 547.27,296.71 549.16,438.97 551.04,297.63 552.92,333.34 554.8,386.06 556.68,356.65 558.56,358.87 560.44,319.28 562.32,273.4 564.2,297.26 566.08,434.72 567.96,457.66 569.85,443.41 571.73,284.87 573.61,283.76 575.49,458.4 577.37,292.82 579.25,311.51 581.13,274.32 583.01,333.52 584.89,334.26 586.77,274.32 588.65,330.38 590.54,391.25 592.42,273.4 594.3,291.9 596.18,274.32 598.06,330.38 599.94,273.4 601.82,378.85 603.7,273.4 605.58,426.21 607.46,298.19 609.34,351.65 611.23,381.25 613.11,388.84 614.99,393.83 616.87,296.71 618.75,280.06 620.63,327.24 622.51,280.8 624.39,377 626.27,317.25 628.15,302.44 630.03,273.4 631.91,413.07 633.8,323.35 635.68,280.8 637.56,325.94 639.44,290.97 641.32,279.32" fill="none" stroke="#000" stroke-width="1.1" stroke-linejoin="round"/>
<path d="M387.4 270 L388.16 272.35 L390.63 272.35 L388.64 273.8 L389.4 276.15 L387.4 274.7 L385.4 276.15 L386.16 273.8 L384.17 272.35 L386.64 272.35Z" fill="#fff" stroke="#000" stroke-width="1.0"/>
<path d="M389.28 454.63 L390.04 456.98 L392.51 456.98 L390.52 458.43 L391.28 460.78 L389.28 459.33 L387.28 460.78 L388.05 458.43 L386.05 456.98 L388.52 456.98Z" fill="#fff" stroke="#000" stroke-width="1.0"/>
<path d="M391.16 275.55 L391.93 277.9 L394.4 277.9 L392.4 279.35 L393.16 281.7 L391.16 280.25 L389.16 281.7 L389.93 279.35 L387.93 277.9 L390.4 277.9Z" fill="#fff" stroke="#000" stroke-width="1.0"/>
<path d="M393.04 393.02 L393.81 395.37 L396.28 395.37 L394.28 396.83 L395.04 399.18 L393.04 397.72 L391.04 399.18 L391.81 396.83 L389.81 395.37 L392.28 395.37Z" fill="#fff" stroke="#000" stroke-width="1.0"/>
<path d="M394.92 341.6 L395.69 343.94 L398.16 343.94 L396.16 345.4 L396.92 347.75 L394.92 346.29 L392.93 347.75 L393.69 345.4 L391.69 343.94 L394.16 343.94Z" fill="#fff" stroke="#000" stroke-width="1.0"/>
<path d="M396.8 319.58 L397.57 321.93 L400.04 321.93 L398.04 323.38 L398.8 325.73 L396.8 324.28 L394.81 325.73 L395.57 323.38 L393.57 321.93 L396.04 321.93Z" fill="#fff" stroke="#000" stroke-width="1.0"/>
<path d="M398.69 327.35 L399.45 329.7 L401.92 329.7 L399.92 331.15 L400.68 333.5 L398.69 332.05 L396.69 333.5 L397.45 331.15 L395.45 329.7 L397.92 329.7Z" fill="#fff" stroke="#000" stroke-width="1.0"/>
<path d="M400.57 331.05 L401.33 333.4 L403.8 333.4 L401.8 334.85 L402.56 337.2 L400.57 335.75 L398.57 337.2 L399.33 334.85 L397.33 333.4 L399.8 333.4Z" fill="#fff" stroke="#000" stroke-width="1.0"/>
<path d="M402.45 283.32 L403.21 285.67 L405.68 285.67 L403.68 287.12 L404.45 289.47 L402.45 288.02 L400.45 289.47 L401.21 287.12 L399.21 285.67 L401.68 285.67Z" fill="#fff" stroke="#000" stroke-width="1.0"/>
<path d="M404.33 361.57 L405.09 363.92 L407.56 363.92 L405.56 365.38 L406.33 367.73 L404.33 366.27 L402.33 367.73 L403.09 365.38 L401.09 363.92 L403.56 363.92Z" fill="#fff" stroke="#000" stroke-width="1.0"/>
<path d="M406.21 360.65 L406.97 363 L409.44 363 L407.44 364.45 L408.21 366.8 L406.21 365.35 L404.21 366.8 L404.97 364.45 L402.98 363 L405.45 363Z" fill="#fff" stroke="#000" stroke-width="1.0"/>
<path d="M408.09 275.55 L408.85 277.9 L411.32 277.9 L409.32 279.35 L410.09 281.7 L408.09 280.25 L406.09 281.7 L406.85 279.35 L404.86 277.9 L407.33 277.9Z" fill="#fff" stroke="#000" stroke-width="1.0"/>
<path d="M409.97 313.85 L410.73 316.19 L413.2 316.19 L411.21 317.65 L411.97 320 L409.97 318.54 L407.97 320 L408.74 317.65 L406.74 316.19 L409.21 316.19Z" fill="#fff" stroke="#000" stroke-width="1.0"/>
<path d="M411.85 303.3 L412.61 305.65 L415.09 305.65 L413.09 307.1 L413.85 309.45 L411.85 308 L409.85 309.45 L410.62 307.1 L408.62 305.65 L411.09 305.65Z" fill="#fff" stroke="#000" stroke-width="1.0"/>
<path d="M413.73 303.3 L414.5 305.65 L416.97 305.65 L414.97 307.1 L415.73 309.45 L413.73 308 L411.73 309.45 L412.5 307.1 L410.5 305.65 L412.97 305.65Z" fill="#fff" stroke="#000" stroke-width="1.0"/>
<path d="M415.61 271.85 L416.38 274.2 L418.85 274.2 L416.85 275.65 L417.61 278 L415.61 276.55 L413.61 278 L414.38 275.65 L412.38 274.2 L414.85 274.2Z" fill="#fff" stroke="#000" stroke-width="1.0"/>
<path d="M417.49 307 L418.26 309.35 L420.73 309.35 L418.73 310.8 L419.49 313.15 L417.49 311.7 L415.5 313.15 L416.26 310.8 L414.26 309.35 L416.73 309.35Z" fill="#fff" stroke="#000" stroke-width="1.0"/>
<path d="M419.38 443.71 L420.14 446.06 L422.61 446.06 L420.61 447.52 L421.37 449.87 L419.38 448.41 L417.38 449.87 L418.14 447.52 L416.14 446.06 L418.61 446.06Z" fill="#fff" stroke="#000" stroke-width="1.0"/>
<path d="M421.26 351.77 L422.02 354.12 L424.49 354.12 L422.49 355.57 L423.25 357.92 L421.26 356.47 L419.26 357.92 L420.02 355.57 L418.02 354.12 L420.49 354.12Z" fill="#fff" stroke="#000" stroke-width="1.0"/>
<path d="M423.14 406.16 L423.9 408.51 L426.37 408.51 L424.37 409.96 L425.14 412.31 L423.14 410.86 L421.14 412.31 L421.9 409.96 L419.9 408.51 L422.37 408.51Z" fill="#fff" stroke="#000" stroke-width="1.0"/>
<path d="M425.02 275.55 L425.78 277.9 L428.25 277.9 L426.25 279.35 L427.02 281.7 L425.02 280.25 L423.02 281.7 L423.78 279.35 L421.78 277.9 L424.25 277.9Z" fill="#fff" stroke="#000" stroke-width="1.0"/>
<path d="M426.9 271.85 L427.66 274.2 L430.13 274.2 L428.13 275.65 L428.9 278 L426.9 276.55 L424.9 278 L425.66 275.65 L423.66 274.2 L426.14 274.2Z" fill="#fff" stroke="#000" stroke-width="1.0"/>
<path d="M428.78 277.4 L429.54 279.75 L432.01 279.75 L430.01 281.2 L430.78 283.55 L428.78 282.1 L426.78 283.55 L427.54 281.2 L425.55 279.75 L428.02 279.75Z" fill="#fff" stroke="#000" stroke-width="1.0"/>
<path d="M430.66 270 L431.42 272.35 L433.89 272.35 L431.9 273.8 L432.66 276.15 L430.66 274.7 L428.66 276.15 L429.43 273.8 L427.43 272.35 L429.9 272.35Z" fill="#fff" stroke="#000" stroke-width="1.0"/>
<path d="M432.54 275.55 L433.3 277.9 L435.77 277.9 L433.78 279.35 L434.54 281.7 L432.54 280.25 L430.54 281.7 L431.31 279.35 L429.31 277.9 L431.78 277.9Z" fill="#fff" stroke="#000" stroke-width="1.0"/>
<path d="M434.42 282.95 L435.19 285.3 L437.66 285.3 L435.66 286.75 L436.42 289.1 L434.42 287.65 L432.42 289.1 L433.19 286.75 L431.19 285.3 L433.66 285.3Z" fill="#fff" stroke="#000" stroke-width="1.0"/>
<path d="M436.3 335.31 L437.07 337.65 L439.54 337.65 L437.54 339.11 L438.3 341.46 L436.3 340 L434.3 341.46 L435.07 339.11 L433.07 337.65 L435.54 337.65Z" fill="#fff" stroke="#000" stroke-width="1.0"/>
<path d="M438.18 448.15 L438.95 450.5 L441.42 450.5 L439.42 451.96 L440.18 454.31 L438.18 452.85 L436.19 454.31 L436.95 451.96 L434.95 450.5 L437.42 450.5Z" fill="#fff" stroke="#000" stroke-width="1.0"/>
<path d="M440.06 426.88 L440.83 429.23 L443.3 429.23 L441.3 430.68 L442.06 433.03 L440.06 431.58 L438.07 433.03 L438.83 430.68 L436.83 429.23 L439.3 429.23Z" fill="#fff" stroke="#000" stroke-width="1.0"/>
<path d="M441.95 356.58 L442.71 358.93 L445.18 358.93 L443.18 360.38 L443.94 362.73 L441.95 361.28 L439.95 362.73 L440.71 360.38 L438.71 358.93 L441.18 358.93Z" fill="#fff" stroke="#000" stroke-width="1.0"/>
<path d="M443.83 397.83 L444.59 400.18 L447.06 400.18 L445.06 401.64 L445.82 403.99 L443.83 402.53 L441.83 403.99 L442.59 401.64 L440.59 400.18 L443.06 400.18Z" fill="#fff" stroke="#000" stroke-width="1.0"/>
<path d="M445.71 275.55 L446.47 277.9 L448.94 277.9 L446.94 279.35 L447.71 281.7 L445.71 280.25 L443.71 281.7 L444.47 279.35 L442.47 277.9 L444.94 277.9Z" fill="#fff" stroke="#000" stroke-width="1.0"/>
<path d="M447.59 307 L448.35 309.35 L450.82 309.35 L448.82 310.8 L449.59 313.15 L447.59 311.7 L445.59 313.15 L446.35 310.8 L444.35 309.35 L446.82 309.35Z" fill="#fff" stroke="#000" stroke-width="1.0"/>
<path d="M449.47 453.7 L450.23 456.05 L452.7 456.05 L450.7 457.51 L451.47 459.86 L449.47 458.4 L447.47 459.86 L448.23 457.51 L446.24 456.05 L448.71 456.05Z" fill="#fff" stroke="#000" stroke-width="1.0"/>
<path d="M451.35 414.12 L452.11 416.46 L454.58 416.46 L452.59 417.92 L453.35 420.27 L451.35 418.81 L449.35 420.27 L450.11 417.92 L448.12 416.46 L450.59 416.46Z" fill="#fff" stroke="#000" stroke-width="1.0"/>
<path d="M453.23 332.9 L453.99 335.25 L456.46 335.25 L454.47 336.7 L455.23 339.05 L453.23 337.6 L451.23 339.05 L452 336.7 L450 335.25 L452.47 335.25Z" fill="#fff" stroke="#000" stroke-width="1.0"/>
<path d="M455.11 330.12 L455.88 332.47 L458.35 332.47 L456.35 333.93 L457.11 336.28 L455.11 334.82 L453.11 336.28 L453.88 333.93 L451.88 332.47 L454.35 332.47Z" fill="#fff" stroke="#000" stroke-width="1.0"/>
<path d="M456.99 451.49 L457.76 453.83 L460.23 453.83 L458.23 455.29 L458.99 457.64 L456.99 456.18 L454.99 457.64 L455.76 455.29 L453.76 453.83 L456.23 453.83Z" fill="#fff" stroke="#000" stroke-width="1.0"/>
<path d="M458.87 363.43 L459.64 365.77 L462.11 365.77 L460.11 367.23 L460.87 369.58 L458.87 368.12 L456.88 369.58 L457.64 367.23 L455.64 365.77 L458.11 365.77Z" fill="#fff" stroke="#000" stroke-width="1.0"/>
<path d="M460.75 319.95 L461.52 322.3 L463.99 322.3 L461.99 323.75 L462.75 326.1 L460.75 324.65 L458.76 326.1 L459.52 323.75 L457.52 322.3 L459.99 322.3Z" fill="#fff" stroke="#000" stroke-width="1.0"/>
<path d="M462.64 324.76 L463.4 327.11 L465.87 327.11 L463.87 328.56 L464.63 330.91 L462.64 329.46 L460.64 330.91 L461.4 328.56 L459.4 327.11 L461.87 327.11Z" fill="#fff" stroke="#000" stroke-width="1.0"/>
<path d="M464.52 279.25 L465.28 281.6 L467.75 281.6 L465.75 283.05 L466.51 285.4 L464.52 283.95 L462.52 285.4 L463.28 283.05 L461.28 281.6 L463.75 281.6Z" fill="#fff" stroke="#000" stroke-width="1.0"/>
<path d="M466.4 418.37 L467.16 420.72 L469.63 420.72 L467.63 422.17 L468.4 424.52 L466.4 423.07 L464.4 424.52 L465.16 422.17 L463.16 420.72 L465.63 420.72Z" fill="#fff" stroke="#000" stroke-width="1.0"/>
<path d="M468.28 309.4 L469.04 311.75 L471.51 311.75 L469.51 313.21 L470.28 315.56 L468.28 314.1 L466.28 315.56 L467.04 313.21 L465.04 311.75 L467.51 311.75Z" fill="#fff" stroke="#000" stroke-width="1.0"/>
<path d="M470.16 381 L470.92 383.35 L473.39 383.35 L471.39 384.8 L472.16 387.15 L470.16 385.7 L468.16 387.15 L468.92 384.8 L466.93 383.35 L469.4 383.35Z" fill="#fff" stroke="#000" stroke-width="1.0"/>
<path d="M472.04 401.72 L472.8 404.07 L475.27 404.07 L473.27 405.52 L474.04 407.87 L472.04 406.42 L470.04 407.87 L470.8 405.52 L468.81 404.07 L471.28 404.07Z" fill="#fff" stroke="#000" stroke-width="1.0"/>
<path d="M473.92 323.84 L474.68 326.18 L477.15 326.18 L475.16 327.64 L475.92 329.99 L473.92 328.53 L471.92 329.99 L472.69 327.64 L470.69 326.18 L473.16 326.18Z" fill="#fff" stroke="#000" stroke-width="1.0"/>
<path d="M475.8 315.88 L476.56 318.23 L479.04 318.23 L477.04 319.68 L477.8 322.03 L475.8 320.58 L473.8 322.03 L474.57 319.68 L472.57 318.23 L475.04 318.23Z" fill="#fff" stroke="#000" stroke-width="1.0"/>
<path d="M477.68 283.13 L478.45 285.48 L480.92 285.48 L478.92 286.94 L479.68 289.29 L477.68 287.83 L475.68 289.29 L476.45 286.94 L474.45 285.48 L476.92 285.48Z" fill="#fff" stroke="#000" stroke-width="1.0"/>
<path d="M479.56 292.2 L480.33 294.55 L482.8 294.55 L480.8 296 L481.56 298.35 L479.56 296.9 L477.56 298.35 L478.33 296 L476.33 294.55 L478.8 294.55Z" fill="#fff" stroke="#000" stroke-width="1.0"/>
<path d="M481.44 302.93 L482.21 305.28 L484.68 305.28 L482.68 306.73 L483.44 309.08 L481.44 307.63 L479.45 309.08 L480.21 306.73 L478.21 305.28 L480.68 305.28Z" fill="#fff" stroke="#000" stroke-width="1.0"/>
<path d="M483.32 288.5 L484.09 290.85 L486.56 290.85 L484.56 292.3 L485.32 294.65 L483.32 293.2 L481.33 294.65 L482.09 292.3 L480.09 290.85 L482.56 290.85Z" fill="#fff" stroke="#000" stroke-width="1.0"/>
<path d="M485.21 317.73 L485.97 320.08 L488.44 320.08 L486.44 321.53 L487.2 323.88 L485.21 322.43 L483.21 323.88 L483.97 321.53 L481.97 320.08 L484.44 320.08Z" fill="#fff" stroke="#000" stroke-width="1.0"/>
<path d="M487.09 287.2 L487.85 289.55 L490.32 289.55 L488.32 291.01 L489.09 293.36 L487.09 291.9 L485.09 293.36 L485.85 291.01 L483.85 289.55 L486.32 289.55Z" fill="#fff" stroke="#000" stroke-width="1.0"/>
<path d="M488.97 320.69 L489.73 323.04 L492.2 323.04 L490.2 324.49 L490.97 326.84 L488.97 325.39 L486.97 326.84 L487.73 324.49 L485.73 323.04 L488.2 323.04Z" fill="#fff" stroke="#000" stroke-width="1.0"/>
<path d="M490.85 321.8 L491.61 324.15 L494.08 324.15 L492.08 325.6 L492.85 327.95 L490.85 326.5 L488.85 327.95 L489.61 325.6 L487.61 324.15 L490.09 324.15Z" fill="#fff" stroke="#000" stroke-width="1.0"/>
<path d="M492.73 277.4 L493.49 279.75 L495.96 279.75 L493.96 281.2 L494.73 283.55 L492.73 282.1 L490.73 283.55 L491.49 281.2 L489.5 279.75 L491.97 279.75Z" fill="#fff" stroke="#000" stroke-width="1.0"/>
<path d="M494.61 323.28 L495.37 325.63 L497.84 325.63 L495.85 327.08 L496.61 329.43 L494.61 327.98 L492.61 329.43 L493.38 327.08 L491.38 325.63 L493.85 325.63Z" fill="#fff" stroke="#000" stroke-width="1.0"/>
<path d="M496.49 289.06 L497.25 291.4 L499.72 291.4 L497.73 292.86 L498.49 295.21 L496.49 293.75 L494.49 295.21 L495.26 292.86 L493.26 291.4 L495.73 291.4Z" fill="#fff" stroke="#000" stroke-width="1.0"/>
<path d="M498.37 304.97 L499.14 307.31 L501.61 307.31 L499.61 308.77 L500.37 311.12 L498.37 309.66 L496.37 311.12 L497.14 308.77 L495.14 307.31 L497.61 307.31Z" fill="#fff" stroke="#000" stroke-width="1.0"/>
<path d="M500.25 282.95 L501.02 285.3 L503.49 285.3 L501.49 286.75 L502.25 289.1 L500.25 287.65 L498.25 289.1 L499.02 286.75 L497.02 285.3 L499.49 285.3Z" fill="#fff" stroke="#000" stroke-width="1.0"/>
<path d="M502.13 294.05 L502.9 296.4 L505.37 296.4 L503.37 297.85 L504.13 300.2 L502.13 298.75 L500.14 300.2 L500.9 297.85 L498.9 296.4 L501.37 296.4Z" fill="#fff" stroke="#000" stroke-width="1.0"/>
<path d="M504.01 294.24 L504.78 296.58 L507.25 296.58 L505.25 298.04 L506.01 300.39 L504.01 298.93 L502.02 300.39 L502.78 298.04 L500.78 296.58 L503.25 296.58Z" fill="#fff" stroke="#000" stroke-width="1.0"/>
<path d="M505.9 369.16 L506.66 371.51 L509.13 371.51 L507.13 372.96 L507.89 375.31 L505.9 373.86 L503.9 375.31 L504.66 372.96 L502.66 371.51 L505.13 371.51Z" fill="#fff" stroke="#000" stroke-width="1.0"/>
<path d="M507.78 283.13 L508.54 285.48 L511.01 285.48 L509.01 286.94 L509.77 289.29 L507.78 287.83 L505.78 289.29 L506.54 286.94 L504.54 285.48 L507.01 285.48Z" fill="#fff" stroke="#000" stroke-width="1.0"/>
<path d="M509.66 294.24 L510.42 296.58 L512.89 296.58 L510.89 298.04 L511.66 300.39 L509.66 298.93 L507.66 300.39 L508.42 298.04 L506.42 296.58 L508.89 296.58Z" fill="#fff" stroke="#000" stroke-width="1.0"/>
<path d="M511.54 281.47 L512.3 283.82 L514.77 283.82 L512.77 285.27 L513.54 287.62 L511.54 286.17 L509.54 287.62 L510.3 285.27 L508.3 283.82 L510.77 283.82Z" fill="#fff" stroke="#000" stroke-width="1.0"/>
<path d="M513.42 450.93 L514.18 453.28 L516.65 453.28 L514.65 454.73 L515.42 457.08 L513.42 455.63 L511.42 457.08 L512.18 454.73 L510.19 453.28 L512.66 453.28Z" fill="#fff" stroke="#000" stroke-width="1.0"/>
<path d="M515.3 292.38 L516.06 294.73 L518.53 294.73 L516.54 296.19 L517.3 298.54 L515.3 297.08 L513.3 298.54 L514.06 296.19 L512.07 294.73 L514.54 294.73Z" fill="#fff" stroke="#000" stroke-width="1.0"/>
<path d="M517.18 278.51 L517.94 280.86 L520.41 280.86 L518.42 282.31 L519.18 284.66 L517.18 283.21 L515.18 284.66 L515.95 282.31 L513.95 280.86 L516.42 280.86Z" fill="#fff" stroke="#000" stroke-width="1.0"/>
<path d="M519.06 279.62 L519.83 281.97 L522.3 281.97 L520.3 283.42 L521.06 285.77 L519.06 284.32 L517.06 285.77 L517.83 283.42 L515.83 281.97 L518.3 281.97Z" fill="#fff" stroke="#000" stroke-width="1.0"/>
<path d="M520.94 279.25 L521.71 281.6 L524.18 281.6 L522.18 283.05 L522.94 285.4 L520.94 283.95 L518.94 285.4 L519.71 283.05 L517.71 281.6 L520.18 281.6Z" fill="#fff" stroke="#000" stroke-width="1.0"/>
<path d="M522.82 327.35 L523.59 329.7 L526.06 329.7 L524.06 331.15 L524.82 333.5 L522.82 332.05 L520.83 333.5 L521.59 331.15 L519.59 329.7 L522.06 329.7Z" fill="#fff" stroke="#000" stroke-width="1.0"/>
<path d="M524.7 371.19 L525.47 373.54 L527.94 373.54 L525.94 375 L526.7 377.35 L524.7 375.89 L522.71 377.35 L523.47 375 L521.47 373.54 L523.94 373.54Z" fill="#fff" stroke="#000" stroke-width="1.0"/>
<path d="M526.59 290.35 L527.35 292.7 L529.82 292.7 L527.82 294.15 L528.58 296.5 L526.59 295.05 L524.59 296.5 L525.35 294.15 L523.35 292.7 L525.82 292.7Z" fill="#fff" stroke="#000" stroke-width="1.0"/>
<path d="M528.47 281.47 L529.23 283.82 L531.7 283.82 L529.7 285.27 L530.46 287.62 L528.47 286.17 L526.47 287.62 L527.23 285.27 L525.23 283.82 L527.7 283.82Z" fill="#fff" stroke="#000" stroke-width="1.0"/>
<path d="M530.35 321.62 L531.11 323.96 L533.58 323.96 L531.58 325.42 L532.35 327.77 L530.35 326.31 L528.35 327.77 L529.11 325.42 L527.11 323.96 L529.58 323.96Z" fill="#fff" stroke="#000" stroke-width="1.0"/>
<path d="M532.23 270 L532.99 272.35 L535.46 272.35 L533.46 273.8 L534.23 276.15 L532.23 274.7 L530.23 276.15 L530.99 273.8 L528.99 272.35 L531.46 272.35Z" fill="#fff" stroke="#000" stroke-width="1.0"/>
<path d="M534.11 298.12 L534.87 300.47 L537.34 300.47 L535.34 301.92 L536.11 304.27 L534.11 302.82 L532.11 304.27 L532.87 301.92 L530.88 300.47 L533.35 300.47Z" fill="#fff" stroke="#000" stroke-width="1.0"/>
<path d="M535.99 346.22 L536.75 348.57 L539.22 348.57 L537.22 350.02 L537.99 352.37 L535.99 350.92 L533.99 352.37 L534.75 350.02 L532.76 348.57 L535.23 348.57Z" fill="#fff" stroke="#000" stroke-width="1.0"/>
<path d="M537.87 307 L538.63 309.35 L541.1 309.35 L539.11 310.8 L539.87 313.15 L537.87 311.7 L535.87 313.15 L536.64 310.8 L534.64 309.35 L537.11 309.35Z" fill="#fff" stroke="#000" stroke-width="1.0"/>
<path d="M539.75 325.31 L540.51 327.66 L542.99 327.66 L540.99 329.12 L541.75 331.47 L539.75 330.01 L537.75 331.47 L538.52 329.12 L536.52 327.66 L538.99 327.66Z" fill="#fff" stroke="#000" stroke-width="1.0"/>
<path d="M541.63 272.96 L542.4 275.31 L544.87 275.31 L542.87 276.76 L543.63 279.11 L541.63 277.66 L539.63 279.11 L540.4 276.76 L538.4 275.31 L540.87 275.31Z" fill="#fff" stroke="#000" stroke-width="1.0"/>
<path d="M543.51 281.47 L544.28 283.82 L546.75 283.82 L544.75 285.27 L545.51 287.62 L543.51 286.17 L541.51 287.62 L542.28 285.27 L540.28 283.82 L542.75 283.82Z" fill="#fff" stroke="#000" stroke-width="1.0"/>
<path d="M545.39 316.81 L546.16 319.15 L548.63 319.15 L546.63 320.61 L547.39 322.96 L545.39 321.5 L543.4 322.96 L544.16 320.61 L542.16 319.15 L544.63 319.15Z" fill="#fff" stroke="#000" stroke-width="1.0"/>
<path d="M547.27 293.31 L548.04 295.66 L550.51 295.66 L548.51 297.11 L549.27 299.46 L547.27 298.01 L545.28 299.46 L546.04 297.11 L544.04 295.66 L546.51 295.66Z" fill="#fff" stroke="#000" stroke-width="1.0"/>
<path d="M549.16 435.57 L549.92 437.92 L552.39 437.92 L550.39 439.38 L551.15 441.73 L549.16 440.27 L547.16 441.73 L547.92 439.38 L545.92 437.92 L548.39 437.92Z" fill="#fff" stroke="#000" stroke-width="1.0"/>
<path d="M551.04 294.24 L551.8 296.58 L554.27 296.58 L552.27 298.04 L553.04 300.39 L551.04 298.93 L549.04 300.39 L549.8 298.04 L547.8 296.58 L550.27 296.58Z" fill="#fff" stroke="#000" stroke-width="1.0"/>
<path d="M552.92 329.94 L553.68 332.29 L556.15 332.29 L554.15 333.74 L554.92 336.09 L552.92 334.64 L550.92 336.09 L551.68 333.74 L549.68 332.29 L552.15 332.29Z" fill="#fff" stroke="#000" stroke-width="1.0"/>
<path d="M554.8 382.66 L555.56 385.01 L558.03 385.01 L556.03 386.47 L556.8 388.82 L554.8 387.36 L552.8 388.82 L553.56 386.47 L551.56 385.01 L554.04 385.01Z" fill="#fff" stroke="#000" stroke-width="1.0"/>
<path d="M556.68 353.25 L557.44 355.6 L559.91 355.6 L557.91 357.05 L558.68 359.4 L556.68 357.95 L554.68 359.4 L555.44 357.05 L553.45 355.6 L555.92 355.6Z" fill="#fff" stroke="#000" stroke-width="1.0"/>
<path d="M558.56 355.47 L559.32 357.82 L561.79 357.82 L559.8 359.27 L560.56 361.62 L558.56 360.17 L556.56 361.62 L557.33 359.27 L555.33 357.82 L557.8 357.82Z" fill="#fff" stroke="#000" stroke-width="1.0"/>
<path d="M560.44 315.88 L561.2 318.23 L563.67 318.23 L561.68 319.68 L562.44 322.03 L560.44 320.58 L558.44 322.03 L559.21 319.68 L557.21 318.23 L559.68 318.23Z" fill="#fff" stroke="#000" stroke-width="1.0"/>
<path d="M562.32 270 L563.09 272.35 L565.56 272.35 L563.56 273.8 L564.32 276.15 L562.32 274.7 L560.32 276.15 L561.09 273.8 L559.09 272.35 L561.56 272.35Z" fill="#fff" stroke="#000" stroke-width="1.0"/>
<path d="M564.2 293.87 L564.97 296.21 L567.44 296.21 L565.44 297.67 L566.2 300.02 L564.2 298.56 L562.2 300.02 L562.97 297.67 L560.97 296.21 L563.44 296.21Z" fill="#fff" stroke="#000" stroke-width="1.0"/>
<path d="M566.08 431.32 L566.85 433.67 L569.32 433.67 L567.32 435.12 L568.08 437.47 L566.08 436.02 L564.09 437.47 L564.85 435.12 L562.85 433.67 L565.32 433.67Z" fill="#fff" stroke="#000" stroke-width="1.0"/>
<path d="M567.96 454.26 L568.73 456.61 L571.2 456.61 L569.2 458.06 L569.96 460.41 L567.96 458.96 L565.97 460.41 L566.73 458.06 L564.73 456.61 L567.2 456.61Z" fill="#fff" stroke="#000" stroke-width="1.0"/>
<path d="M569.85 440.01 L570.61 442.36 L573.08 442.36 L571.08 443.82 L571.84 446.17 L569.85 444.71 L567.85 446.17 L568.61 443.82 L566.61 442.36 L569.08 442.36Z" fill="#fff" stroke="#000" stroke-width="1.0"/>
<path d="M571.73 281.47 L572.49 283.82 L574.96 283.82 L572.96 285.27 L573.72 287.62 L571.73 286.17 L569.73 287.62 L570.49 285.27 L568.49 283.82 L570.96 283.82Z" fill="#fff" stroke="#000" stroke-width="1.0"/>
<path d="M573.61 280.36 L574.37 282.71 L576.84 282.71 L574.84 284.16 L575.61 286.51 L573.61 285.06 L571.61 286.51 L572.37 284.16 L570.37 282.71 L572.84 282.71Z" fill="#fff" stroke="#000" stroke-width="1.0"/>
<path d="M575.49 455 L576.25 457.35 L578.72 457.35 L576.72 458.8 L577.49 461.15 L575.49 459.7 L573.49 461.15 L574.25 458.8 L572.25 457.35 L574.72 457.35Z" fill="#fff" stroke="#000" stroke-width="1.0"/>
<path d="M577.37 289.42 L578.13 291.77 L580.6 291.77 L578.6 293.23 L579.37 295.58 L577.37 294.12 L575.37 295.58 L576.13 293.23 L574.14 291.77 L576.61 291.77Z" fill="#fff" stroke="#000" stroke-width="1.0"/>
<path d="M579.25 308.11 L580.01 310.46 L582.48 310.46 L580.49 311.91 L581.25 314.26 L579.25 312.81 L577.25 314.26 L578.01 311.91 L576.02 310.46 L578.49 310.46Z" fill="#fff" stroke="#000" stroke-width="1.0"/>
<path d="M581.13 270.93 L581.89 273.27 L584.36 273.27 L582.37 274.73 L583.13 277.08 L581.13 275.62 L579.13 277.08 L579.9 274.73 L577.9 273.27 L580.37 273.27Z" fill="#fff" stroke="#000" stroke-width="1.0"/>
<path d="M583.01 330.12 L583.78 332.47 L586.25 332.47 L584.25 333.93 L585.01 336.28 L583.01 334.82 L581.01 336.28 L581.78 333.93 L579.78 332.47 L582.25 332.47Z" fill="#fff" stroke="#000" stroke-width="1.0"/>
<path d="M584.89 330.87 L585.66 333.21 L588.13 333.21 L586.13 334.67 L586.89 337.02 L584.89 335.56 L582.89 337.02 L583.66 334.67 L581.66 333.21 L584.13 333.21Z" fill="#fff" stroke="#000" stroke-width="1.0"/>
<path d="M586.77 270.93 L587.54 273.27 L590.01 273.27 L588.01 274.73 L588.77 277.08 L586.77 275.62 L584.78 277.08 L585.54 274.73 L583.54 273.27 L586.01 273.27Z" fill="#fff" stroke="#000" stroke-width="1.0"/>
<path d="M588.65 326.98 L589.42 329.33 L591.89 329.33 L589.89 330.78 L590.65 333.13 L588.65 331.68 L586.66 333.13 L587.42 330.78 L585.42 329.33 L587.89 329.33Z" fill="#fff" stroke="#000" stroke-width="1.0"/>
<path d="M590.54 387.85 L591.3 390.19 L593.77 390.19 L591.77 391.65 L592.53 394 L590.54 392.54 L588.54 394 L589.3 391.65 L587.3 390.19 L589.77 390.19Z" fill="#fff" stroke="#000" stroke-width="1.0"/>
<path d="M592.42 270 L593.18 272.35 L595.65 272.35 L593.65 273.8 L594.41 276.15 L592.42 274.7 L590.42 276.15 L591.18 273.8 L589.18 272.35 L591.65 272.35Z" fill="#fff" stroke="#000" stroke-width="1.0"/>
<path d="M594.3 288.5 L595.06 290.85 L597.53 290.85 L595.53 292.3 L596.3 294.65 L594.3 293.2 L592.3 294.65 L593.06 292.3 L591.06 290.85 L593.53 290.85Z" fill="#fff" stroke="#000" stroke-width="1.0"/>
<path d="M596.18 270.93 L596.94 273.27 L599.41 273.27 L597.41 274.73 L598.18 277.08 L596.18 275.62 L594.18 277.08 L594.94 274.73 L592.94 273.27 L595.41 273.27Z" fill="#fff" stroke="#000" stroke-width="1.0"/>
<path d="M598.06 326.98 L598.82 329.33 L601.29 329.33 L599.29 330.78 L600.06 333.13 L598.06 331.68 L596.06 333.13 L596.82 330.78 L594.83 329.33 L597.3 329.33Z" fill="#fff" stroke="#000" stroke-width="1.0"/>
<path d="M599.94 270 L600.7 272.35 L603.17 272.35 L601.17 273.8 L601.94 276.15 L599.94 274.7 L597.94 276.15 L598.7 273.8 L596.71 272.35 L599.18 272.35Z" fill="#fff" stroke="#000" stroke-width="1.0"/>
<path d="M601.82 375.45 L602.58 377.8 L605.05 377.8 L603.06 379.25 L603.82 381.6 L601.82 380.15 L599.82 381.6 L600.59 379.25 L598.59 377.8 L601.06 377.8Z" fill="#fff" stroke="#000" stroke-width="1.0"/>
<path d="M603.7 270 L604.46 272.35 L606.94 272.35 L604.94 273.8 L605.7 276.15 L603.7 274.7 L601.7 276.15 L602.47 273.8 L600.47 272.35 L602.94 272.35Z" fill="#fff" stroke="#000" stroke-width="1.0"/>
<path d="M605.58 422.81 L606.35 425.16 L608.82 425.16 L606.82 426.61 L607.58 428.96 L605.58 427.51 L603.58 428.96 L604.35 426.61 L602.35 425.16 L604.82 425.16Z" fill="#fff" stroke="#000" stroke-width="1.0"/>
<path d="M607.46 294.79 L608.23 297.14 L610.7 297.14 L608.7 298.59 L609.46 300.94 L607.46 299.49 L605.46 300.94 L606.23 298.59 L604.23 297.14 L606.7 297.14Z" fill="#fff" stroke="#000" stroke-width="1.0"/>
<path d="M609.34 348.25 L610.11 350.6 L612.58 350.6 L610.58 352.06 L611.34 354.41 L609.34 352.95 L607.35 354.41 L608.11 352.06 L606.11 350.6 L608.58 350.6Z" fill="#fff" stroke="#000" stroke-width="1.0"/>
<path d="M611.23 377.86 L611.99 380.2 L614.46 380.2 L612.46 381.66 L613.22 384.01 L611.23 382.55 L609.23 384.01 L609.99 381.66 L607.99 380.2 L610.46 380.2Z" fill="#fff" stroke="#000" stroke-width="1.0"/>
<path d="M613.11 385.44 L613.87 387.79 L616.34 387.79 L614.34 389.24 L615.1 391.59 L613.11 390.14 L611.11 391.59 L611.87 389.24 L609.87 387.79 L612.34 387.79Z" fill="#fff" stroke="#000" stroke-width="1.0"/>
<path d="M614.99 390.44 L615.75 392.78 L618.22 392.78 L616.22 394.24 L616.99 396.59 L614.99 395.13 L612.99 396.59 L613.75 394.24 L611.75 392.78 L614.22 392.78Z" fill="#fff" stroke="#000" stroke-width="1.0"/>
<path d="M616.87 293.31 L617.63 295.66 L620.1 295.66 L618.1 297.11 L618.87 299.46 L616.87 298.01 L614.87 299.46 L615.63 297.11 L613.63 295.66 L616.1 295.66Z" fill="#fff" stroke="#000" stroke-width="1.0"/>
<path d="M618.75 276.66 L619.51 279.01 L621.98 279.01 L619.98 280.46 L620.75 282.81 L618.75 281.36 L616.75 282.81 L617.51 280.46 L615.51 279.01 L617.99 279.01Z" fill="#fff" stroke="#000" stroke-width="1.0"/>
<path d="M620.63 323.84 L621.39 326.18 L623.86 326.18 L621.86 327.64 L622.63 329.99 L620.63 328.53 L618.63 329.99 L619.39 327.64 L617.4 326.18 L619.87 326.18Z" fill="#fff" stroke="#000" stroke-width="1.0"/>
<path d="M622.51 277.4 L623.27 279.75 L625.74 279.75 L623.75 281.2 L624.51 283.55 L622.51 282.1 L620.51 283.55 L621.28 281.2 L619.28 279.75 L621.75 279.75Z" fill="#fff" stroke="#000" stroke-width="1.0"/>
<path d="M624.39 373.6 L625.15 375.95 L627.62 375.95 L625.63 377.4 L626.39 379.75 L624.39 378.3 L622.39 379.75 L623.16 377.4 L621.16 375.95 L623.63 375.95Z" fill="#fff" stroke="#000" stroke-width="1.0"/>
<path d="M626.27 313.85 L627.04 316.19 L629.51 316.19 L627.51 317.65 L628.27 320 L626.27 318.54 L624.27 320 L625.04 317.65 L623.04 316.19 L625.51 316.19Z" fill="#fff" stroke="#000" stroke-width="1.0"/>
<path d="M628.15 299.05 L628.92 301.39 L631.39 301.39 L629.39 302.85 L630.15 305.2 L628.15 303.74 L626.15 305.2 L626.92 302.85 L624.92 301.39 L627.39 301.39Z" fill="#fff" stroke="#000" stroke-width="1.0"/>
<path d="M630.03 270 L630.8 272.35 L633.27 272.35 L631.27 273.8 L632.03 276.15 L630.03 274.7 L628.04 276.15 L628.8 273.8 L626.8 272.35 L629.27 272.35Z" fill="#fff" stroke="#000" stroke-width="1.0"/>
<path d="M631.91 409.68 L632.68 412.02 L635.15 412.02 L633.15 413.48 L633.91 415.83 L631.91 414.37 L629.92 415.83 L630.68 413.48 L628.68 412.02 L631.15 412.02Z" fill="#fff" stroke="#000" stroke-width="1.0"/>
<path d="M633.8 319.95 L634.56 322.3 L637.03 322.3 L635.03 323.75 L635.79 326.1 L633.8 324.65 L631.8 326.1 L632.56 323.75 L630.56 322.3 L633.03 322.3Z" fill="#fff" stroke="#000" stroke-width="1.0"/>
<path d="M635.68 277.4 L636.44 279.75 L638.91 279.75 L636.91 281.2 L637.67 283.55 L635.68 282.1 L633.68 283.55 L634.44 281.2 L632.44 279.75 L634.91 279.75Z" fill="#fff" stroke="#000" stroke-width="1.0"/>
<path d="M637.56 322.54 L638.32 324.89 L640.79 324.89 L638.79 326.34 L639.56 328.69 L637.56 327.24 L635.56 328.69 L636.32 326.34 L634.32 324.89 L636.79 324.89Z" fill="#fff" stroke="#000" stroke-width="1.0"/>
<path d="M639.44 287.57 L640.2 289.92 L642.67 289.92 L640.67 291.38 L641.44 293.73 L639.44 292.27 L637.44 293.73 L638.2 291.38 L636.2 289.92 L638.67 289.92Z" fill="#fff" stroke="#000" stroke-width="1.0"/>
<path d="M641.32 275.92 L642.08 278.27 L644.55 278.27 L642.55 279.72 L643.32 282.07 L641.32 280.62 L639.32 282.07 L640.08 279.72 L638.09 278.27 L640.56 278.27Z" fill="#fff" stroke="#000" stroke-width="1.0"/>
<polyline points="387.4,274.14 389.28,452.11 391.16,274.51 393.04,392.91 394.92,353.5 396.8,309.29 398.69,322.79 400.57,317.99 402.45,275.25 404.33,356.46 406.21,358.31 408.09,276.36 409.97,312.06 411.85,301.15 413.73,318.91 415.61,273.58 417.49,318.91 419.38,457.84 421.26,347.95 423.14,404.75 425.02,275.8 426.9,276.73 428.78,276.73 430.66,276.36 432.54,276.73 434.42,277.84 436.3,336.3 438.18,456.36 440.06,430.46 441.95,353.5 443.83,392.91 445.71,273.4 447.59,312.99 449.47,454.51 451.35,422.32 453.23,331.3 455.11,317.99 456.99,454.51 458.87,382.18 460.75,317.99 462.64,318.91 464.52,276.54 466.4,426.21 468.28,314.1 470.16,391.06 472.04,398.27 473.92,317.99 475.8,321.68 477.68,275.62 479.56,278.39 481.44,316.88 483.32,275.8 485.21,321.68 487.09,275.99 488.97,310.58 490.85,323.72 492.73,275.62 494.61,317.99 496.49,278.58 498.37,317.99 500.25,277.84 502.13,314.1 504.01,315.02 505.9,385.51 507.78,273.58 509.66,303 511.54,281.17 513.42,454.14 515.3,283.2 517.18,286.35 519.06,287.09 520.94,276.91 522.82,317.99 524.7,384.77 526.59,286.16 528.47,273.58 530.35,317.99 532.23,273.58 534.11,314.1 535.99,360.35 537.87,315.02 539.75,317.99 541.63,273.58 543.51,284.13 545.39,319.83 547.27,307.25 549.16,454.51 551.04,315.02 552.92,328.53 554.8,373.3 556.68,351.1 558.56,350.73 560.44,312.06 562.32,273.58 564.2,301.15 566.08,444.89 567.96,450.26 569.85,456.73 571.73,273.58 573.61,288.94 575.49,450.63 577.37,290.97 579.25,315.02 581.13,273.4 583.01,325.2 584.89,317.99 586.77,273.58 588.65,325.57 590.54,383.1 592.42,273.58 594.3,297.63 596.18,273.58 598.06,317.99 599.94,273.58 601.82,375.15 603.7,273.58 605.58,427.5 607.46,312.99 609.34,365.53 611.23,375.33 613.11,380.33 614.99,389.02 616.87,301.15 618.75,290.97 620.63,318.91 622.51,273.58 624.39,380.33 626.27,314.1 628.15,288.75 630.03,273.58 631.91,411.04 633.8,316.88 635.68,273.58 637.56,324.64 639.44,273.58 641.32,275.62" fill="none" stroke="#228B22" stroke-width="1.5" stroke-linejoin="round"/>
<circle cx="387.4" cy="274.14" r="2.85" fill="#228B22"/>
<circle cx="389.28" cy="452.11" r="2.85" fill="#228B22"/>
<circle cx="391.16" cy="274.51" r="2.85" fill="#228B22"/>
<circle cx="393.04" cy="392.91" r="2.85" fill="#228B22"/>
<circle cx="394.92" cy="353.5" r="2.85" fill="#228B22"/>
<circle cx="396.8" cy="309.29" r="2.85" fill="#228B22"/>
<circle cx="398.69" cy="322.79" r="2.85" fill="#228B22"/>
<circle cx="400.57" cy="317.99" r="2.85" fill="#228B22"/>
<circle cx="402.45" cy="275.25" r="2.85" fill="#228B22"/>
<circle cx="404.33" cy="356.46" r="2.85" fill="#228B22"/>
<circle cx="406.21" cy="358.31" r="2.85" fill="#228B22"/>
<circle cx="408.09" cy="276.36" r="2.85" fill="#228B22"/>
<circle cx="409.97" cy="312.06" r="2.85" fill="#228B22"/>
<circle cx="411.85" cy="301.15" r="2.85" fill="#228B22"/>
<circle cx="413.73" cy="318.91" r="2.85" fill="#228B22"/>
<circle cx="415.61" cy="273.58" r="2.85" fill="#228B22"/>
<circle cx="417.49" cy="318.91" r="2.85" fill="#228B22"/>
<circle cx="419.38" cy="457.84" r="2.85" fill="#228B22"/>
<circle cx="421.26" cy="347.95" r="2.85" fill="#228B22"/>
<circle cx="423.14" cy="404.75" r="2.85" fill="#228B22"/>
<circle cx="425.02" cy="275.8" r="2.85" fill="#228B22"/>
<circle cx="426.9" cy="276.73" r="2.85" fill="#228B22"/>
<circle cx="428.78" cy="276.73" r="2.85" fill="#228B22"/>
<circle cx="430.66" cy="276.36" r="2.85" fill="#228B22"/>
<circle cx="432.54" cy="276.73" r="2.85" fill="#228B22"/>
<circle cx="434.42" cy="277.84" r="2.85" fill="#228B22"/>
<circle cx="436.3" cy="336.3" r="2.85" fill="#228B22"/>
<circle cx="438.18" cy="456.36" r="2.85" fill="#228B22"/>
<circle cx="440.06" cy="430.46" r="2.85" fill="#228B22"/>
<circle cx="441.95" cy="353.5" r="2.85" fill="#228B22"/>
<circle cx="443.83" cy="392.91" r="2.85" fill="#228B22"/>
<circle cx="445.71" cy="273.4" r="2.85" fill="#228B22"/>
<circle cx="447.59" cy="312.99" r="2.85" fill="#228B22"/>
<circle cx="449.47" cy="454.51" r="2.85" fill="#228B22"/>
<circle cx="451.35" cy="422.32" r="2.85" fill="#228B22"/>
<circle cx="453.23" cy="331.3" r="2.85" fill="#228B22"/>
<circle cx="455.11" cy="317.99" r="2.85" fill="#228B22"/>
<circle cx="456.99" cy="454.51" r="2.85" fill="#228B22"/>
<circle cx="458.87" cy="382.18" r="2.85" fill="#228B22"/>
<circle cx="460.75" cy="317.99" r="2.85" fill="#228B22"/>
<circle cx="462.64" cy="318.91" r="2.85" fill="#228B22"/>
<circle cx="464.52" cy="276.54" r="2.85" fill="#228B22"/>
<circle cx="466.4" cy="426.21" r="2.85" fill="#228B22"/>
<circle cx="468.28" cy="314.1" r="2.85" fill="#228B22"/>
<circle cx="470.16" cy="391.06" r="2.85" fill="#228B22"/>
<circle cx="472.04" cy="398.27" r="2.85" fill="#228B22"/>
<circle cx="473.92" cy="317.99" r="2.85" fill="#228B22"/>
<circle cx="475.8" cy="321.68" r="2.85" fill="#228B22"/>
<circle cx="477.68" cy="275.62" r="2.85" fill="#228B22"/>
<circle cx="479.56" cy="278.39" r="2.85" fill="#228B22"/>
<circle cx="481.44" cy="316.88" r="2.85" fill="#228B22"/>
<circle cx="483.32" cy="275.8" r="2.85" fill="#228B22"/>
<circle cx="485.21" cy="321.68" r="2.85" fill="#228B22"/>
<circle cx="487.09" cy="275.99" r="2.85" fill="#228B22"/>
<circle cx="488.97" cy="310.58" r="2.85" fill="#228B22"/>
<circle cx="490.85" cy="323.72" r="2.85" fill="#228B22"/>
<circle cx="492.73" cy="275.62" r="2.85" fill="#228B22"/>
<circle cx="494.61" cy="317.99" r="2.85" fill="#228B22"/>
<circle cx="496.49" cy="278.58" r="2.85" fill="#228B22"/>
<circle cx="498.37" cy="317.99" r="2.85" fill="#228B22"/>
<circle cx="500.25" cy="277.84" r="2.85" fill="#228B22"/>
<circle cx="502.13" cy="314.1" r="2.85" fill="#228B22"/>
<circle cx="504.01" cy="315.02" r="2.85" fill="#228B22"/>
<circle cx="505.9" cy="385.51" r="2.85" fill="#228B22"/>
<circle cx="507.78" cy="273.58" r="2.85" fill="#228B22"/>
<circle cx="509.66" cy="303" r="2.85" fill="#228B22"/>
<circle cx="511.54" cy="281.17" r="2.85" fill="#228B22"/>
<circle cx="513.42" cy="454.14" r="2.85" fill="#228B22"/>
<circle cx="515.3" cy="283.2" r="2.85" fill="#228B22"/>
<circle cx="517.18" cy="286.35" r="2.85" fill="#228B22"/>
<circle cx="519.06" cy="287.09" r="2.85" fill="#228B22"/>
<circle cx="520.94" cy="276.91" r="2.85" fill="#228B22"/>
<circle cx="522.82" cy="317.99" r="2.85" fill="#228B22"/>
<circle cx="524.7" cy="384.77" r="2.85" fill="#228B22"/>
<circle cx="526.59" cy="286.16" r="2.85" fill="#228B22"/>
<circle cx="528.47" cy="273.58" r="2.85" fill="#228B22"/>
<circle cx="530.35" cy="317.99" r="2.85" fill="#228B22"/>
<circle cx="532.23" cy="273.58" r="2.85" fill="#228B22"/>
<circle cx="534.11" cy="314.1" r="2.85" fill="#228B22"/>
<circle cx="535.99" cy="360.35" r="2.85" fill="#228B22"/>
<circle cx="537.87" cy="315.02" r="2.85" fill="#228B22"/>
<circle cx="539.75" cy="317.99" r="2.85" fill="#228B22"/>
<circle cx="541.63" cy="273.58" r="2.85" fill="#228B22"/>
<circle cx="543.51" cy="284.13" r="2.85" fill="#228B22"/>
<circle cx="545.39" cy="319.83" r="2.85" fill="#228B22"/>
<circle cx="547.27" cy="307.25" r="2.85" fill="#228B22"/>
<circle cx="549.16" cy="454.51" r="2.85" fill="#228B22"/>
<circle cx="551.04" cy="315.02" r="2.85" fill="#228B22"/>
<circle cx="552.92" cy="328.53" r="2.85" fill="#228B22"/>
<circle cx="554.8" cy="373.3" r="2.85" fill="#228B22"/>
<circle cx="556.68" cy="351.1" r="2.85" fill="#228B22"/>
<circle cx="558.56" cy="350.73" r="2.85" fill="#228B22"/>
<circle cx="560.44" cy="312.06" r="2.85" fill="#228B22"/>
<circle cx="562.32" cy="273.58" r="2.85" fill="#228B22"/>
<circle cx="564.2" cy="301.15" r="2.85" fill="#228B22"/>
<circle cx="566.08" cy="444.89" r="2.85" fill="#228B22"/>
<circle cx="567.96" cy="450.26" r="2.85" fill="#228B22"/>
<circle cx="569.85" cy="456.73" r="2.85" fill="#228B22"/>
<circle cx="571.73" cy="273.58" r="2.85" fill="#228B22"/>
<circle cx="573.61" cy="288.94" r="2.85" fill="#228B22"/>
<circle cx="575.49" cy="450.63" r="2.85" fill="#228B22"/>
<circle cx="577.37" cy="290.97" r="2.85" fill="#228B22"/>
<circle cx="579.25" cy="315.02" r="2.85" fill="#228B22"/>
<circle cx="581.13" cy="273.4" r="2.85" fill="#228B22"/>
<circle cx="583.01" cy="325.2" r="2.85" fill="#228B22"/>
<circle cx="584.89" cy="317.99" r="2.85" fill="#228B22"/>
<circle cx="586.77" cy="273.58" r="2.85" fill="#228B22"/>
<circle cx="588.65" cy="325.57" r="2.85" fill="#228B22"/>
<circle cx="590.54" cy="383.1" r="2.85" fill="#228B22"/>
<circle cx="592.42" cy="273.58" r="2.85" fill="#228B22"/>
<circle cx="594.3" cy="297.63" r="2.85" fill="#228B22"/>
<circle cx="596.18" cy="273.58" r="2.85" fill="#228B22"/>
<circle cx="598.06" cy="317.99" r="2.85" fill="#228B22"/>
<circle cx="599.94" cy="273.58" r="2.85" fill="#228B22"/>
<circle cx="601.82" cy="375.15" r="2.85" fill="#228B22"/>
<circle cx="603.7" cy="273.58" r="2.85" fill="#228B22"/>
<circle cx="605.58" cy="427.5" r="2.85" fill="#228B22"/>
<circle cx="607.46" cy="312.99" r="2.85" fill="#228B22"/>
<circle cx="609.34" cy="365.53" r="2.85" fill="#228B22"/>
<circle cx="611.23" cy="375.33" r="2.85" fill="#228B22"/>
<circle cx="613.11" cy="380.33" r="2.85" fill="#228B22"/>
<circle cx="614.99" cy="389.02" r="2.85" fill="#228B22"/>
<circle cx="616.87" cy="301.15" r="2.85" fill="#228B22"/>
<circle cx="618.75" cy="290.97" r="2.85" fill="#228B22"/>
<circle cx="620.63" cy="318.91" r="2.85" fill="#228B22"/>
<circle cx="622.51" cy="273.58" r="2.85" fill="#228B22"/>
<circle cx="624.39" cy="380.33" r="2.85" fill="#228B22"/>
<circle cx="626.27" cy="314.1" r="2.85" fill="#228B22"/>
<circle cx="628.15" cy="288.75" r="2.85" fill="#228B22"/>
<circle cx="630.03" cy="273.58" r="2.85" fill="#228B22"/>
<circle cx="631.91" cy="411.04" r="2.85" fill="#228B22"/>
<circle cx="633.8" cy="316.88" r="2.85" fill="#228B22"/>
<circle cx="635.68" cy="273.58" r="2.85" fill="#228B22"/>
<circle cx="637.56" cy="324.64" r="2.85" fill="#228B22"/>
<circle cx="639.44" cy="273.58" r="2.85" fill="#228B22"/>
<circle cx="641.32" cy="275.62" r="2.85" fill="#228B22"/>
<polyline points="387.4,374.45 389.28,378.91 391.16,383.36 393.04,368.78 394.92,365.95 396.8,363.11 398.69,386.6 400.57,350.56 402.45,382.15 404.33,376.88 406.21,371.62 408.09,377.49 409.97,383.36 411.85,353.39 413.73,363.92 415.61,373.64 417.49,383.36 419.38,372.63 421.26,361.9 423.14,383.36 425.02,382.35 426.9,381.34 428.78,376.48 430.66,360.68 432.54,344.89 434.42,379.31 436.3,375.26 438.18,382.15 440.06,374.05 441.95,365.95 443.83,384.17 445.71,369.79 447.59,355.42 449.47,381.34 451.35,376.48 453.23,364.93 455.11,353.39 456.99,384.17 458.87,357.04 460.75,361.09 462.64,365.14 464.52,385.39 466.4,376.48 468.28,364.93 470.16,353.39 472.04,365.95 473.92,386.6 475.8,371.01 477.68,355.42 479.56,383.36 481.44,361.09 483.32,372.63 485.21,384.17 487.09,345.7 488.97,363.52 490.85,381.34 492.73,384.17 494.61,367.56 496.49,379.31 498.37,361.09 500.25,383.36 502.13,348.53 504.01,349.34 505.9,353.8 507.78,358.25 509.66,383.36 511.54,353.39 513.42,385.39 515.3,376.07 517.18,366.75 519.06,372.43 520.94,365.34 522.82,358.25 524.7,365.95 526.59,359.87 528.47,368.17 530.35,376.48 532.23,383.36 534.11,357.04 535.99,359.47 537.87,361.9 539.75,361.9 541.63,382.15 543.51,382.15 545.39,382.15 547.27,367.77 549.16,353.39 551.04,347.31 552.92,377.29 554.8,356.23 556.68,362.5 558.56,368.78 560.44,383.36 562.32,365.34 564.2,347.31 566.08,358.05 567.96,368.78 569.85,354.2 571.73,361.09 573.61,368.17 575.49,375.26 577.37,371.62 579.25,374.45 581.13,377.29 583.01,383.36 584.89,350.56 586.77,385.39 588.65,378.1 590.54,370.81 592.42,383.36 594.3,381.34 596.18,370.6 598.06,359.87 599.94,381.34 601.82,357.04 603.7,385.39 605.58,365.95 607.46,354.2 609.34,353.39 611.23,361.09 613.11,371.21 614.99,381.34 616.87,373.64 618.75,370.2 620.63,366.75 622.51,375.26 624.39,383.36 626.27,371.62 628.15,359.87 630.03,383.36 631.91,366.75 633.8,363.11 635.68,372.63 637.56,382.15 639.44,349.34 641.32,373.64" fill="none" stroke="#E8086A" stroke-width="1.25" stroke-linejoin="round"/>
</g>
<rect x="387.4" y="264.3" width="255.8" height="203.1" fill="none" stroke="#000" stroke-width="0.7"/>
<line x1="384.5" y1="458.4" x2="387.4" y2="458.4" stroke="#000" stroke-width="0.7"/>
<text x="381.5" y="461.4" text-anchor="end" fill="#000" stroke="#000" stroke-width="0.18" font-size="8.3" textLength="13.2" lengthAdjust="spacingAndGlyphs">0.0</text>
<line x1="384.5" y1="421.4" x2="387.4" y2="421.4" stroke="#000" stroke-width="0.7"/>
<text x="381.5" y="424.4" text-anchor="end" fill="#000" stroke="#000" stroke-width="0.18" font-size="8.3" textLength="13.2" lengthAdjust="spacingAndGlyphs">0.2</text>
<line x1="384.5" y1="384.4" x2="387.4" y2="384.4" stroke="#000" stroke-width="0.7"/>
<text x="381.5" y="387.4" text-anchor="end" fill="#000" stroke="#000" stroke-width="0.18" font-size="8.3" textLength="13.2" lengthAdjust="spacingAndGlyphs">0.4</text>
<line x1="384.5" y1="347.4" x2="387.4" y2="347.4" stroke="#000" stroke-width="0.7"/>
<text x="381.5" y="350.4" text-anchor="end" fill="#000" stroke="#000" stroke-width="0.18" font-size="8.3" textLength="13.2" lengthAdjust="spacingAndGlyphs">0.6</text>
<line x1="384.5" y1="310.4" x2="387.4" y2="310.4" stroke="#000" stroke-width="0.7"/>
<text x="381.5" y="313.4" text-anchor="end" fill="#000" stroke="#000" stroke-width="0.18" font-size="8.3" textLength="13.2" lengthAdjust="spacingAndGlyphs">0.8</text>
<line x1="384.5" y1="273.4" x2="387.4" y2="273.4" stroke="#000" stroke-width="0.7"/>
<text x="381.5" y="276.4" text-anchor="end" fill="#000" stroke="#000" stroke-width="0.18" font-size="8.3" textLength="13.2" lengthAdjust="spacingAndGlyphs">1.0</text>
<line x1="387.4" y1="467.4" x2="387.4" y2="470.3" stroke="#000" stroke-width="0.7"/>
<text x="387.4" y="479.8" text-anchor="middle" fill="#000" stroke="#000" stroke-width="0.18" font-size="8.3" textLength="5.28" lengthAdjust="spacingAndGlyphs">0</text>
<line x1="425.02" y1="467.4" x2="425.02" y2="470.3" stroke="#000" stroke-width="0.7"/>
<text x="425.02" y="479.8" text-anchor="middle" fill="#000" stroke="#000" stroke-width="0.18" font-size="8.3" textLength="10.56" lengthAdjust="spacingAndGlyphs">20</text>
<line x1="462.64" y1="467.4" x2="462.64" y2="470.3" stroke="#000" stroke-width="0.7"/>
<text x="462.64" y="479.8" text-anchor="middle" fill="#000" stroke="#000" stroke-width="0.18" font-size="8.3" textLength="10.56" lengthAdjust="spacingAndGlyphs">40</text>
<line x1="500.25" y1="467.4" x2="500.25" y2="470.3" stroke="#000" stroke-width="0.7"/>
<text x="500.25" y="479.8" text-anchor="middle" fill="#000" stroke="#000" stroke-width="0.18" font-size="8.3" textLength="10.56" lengthAdjust="spacingAndGlyphs">60</text>
<line x1="537.87" y1="467.4" x2="537.87" y2="470.3" stroke="#000" stroke-width="0.7"/>
<text x="537.87" y="479.8" text-anchor="middle" fill="#000" stroke="#000" stroke-width="0.18" font-size="8.3" textLength="10.56" lengthAdjust="spacingAndGlyphs">80</text>
<line x1="575.49" y1="467.4" x2="575.49" y2="470.3" stroke="#000" stroke-width="0.7"/>
<text x="575.49" y="479.8" text-anchor="middle" fill="#000" stroke="#000" stroke-width="0.18" font-size="8.3" textLength="15.84" lengthAdjust="spacingAndGlyphs">100</text>
<line x1="613.11" y1="467.4" x2="613.11" y2="470.3" stroke="#000" stroke-width="0.7"/>
<text x="613.11" y="479.8" text-anchor="middle" fill="#000" stroke="#000" stroke-width="0.18" font-size="8.3" textLength="15.84" lengthAdjust="spacingAndGlyphs">120</text>
<line x1="643.2" y1="427.1" x2="646.1" y2="427.1" stroke="red" stroke-width="0.7"/>
<text x="649.6" y="430.1" text-anchor="start" fill="red" stroke="red" stroke-width="0.18" font-size="8.3" textLength="20.15" lengthAdjust="spacingAndGlyphs">−0.1</text>
<line x1="643.2" y1="386.6" x2="646.1" y2="386.6" stroke="red" stroke-width="0.7"/>
<text x="649.6" y="389.6" text-anchor="start" fill="red" stroke="red" stroke-width="0.18" font-size="8.3" textLength="13.2" lengthAdjust="spacingAndGlyphs">0.0</text>
<line x1="643.2" y1="346.1" x2="646.1" y2="346.1" stroke="red" stroke-width="0.7"/>
<text x="649.6" y="349.1" text-anchor="start" fill="red" stroke="red" stroke-width="0.18" font-size="8.3" textLength="13.2" lengthAdjust="spacingAndGlyphs">0.1</text>
<line x1="643.2" y1="305.6" x2="646.1" y2="305.6" stroke="red" stroke-width="0.7"/>
<text x="649.6" y="308.6" text-anchor="start" fill="red" stroke="red" stroke-width="0.18" font-size="8.3" textLength="13.2" lengthAdjust="spacingAndGlyphs">0.2</text>
<line x1="643.2" y1="265.1" x2="646.1" y2="265.1" stroke="red" stroke-width="0.7"/>
<text x="649.6" y="268.1" text-anchor="start" fill="red" stroke="red" stroke-width="0.18" font-size="8.3" textLength="13.2" lengthAdjust="spacingAndGlyphs">0.3</text>
<text x="515.3" y="492.3" text-anchor="middle" fill="#000" stroke="#000" stroke-width="0.18" font-size="8.3" textLength="57.9" lengthAdjust="spacingAndGlyphs">Data Samples</text>
<text x="362.9" y="365.85" text-anchor="middle" fill="#000" stroke="#000" stroke-width="0.18" font-size="8.3" textLength="93.97" lengthAdjust="spacingAndGlyphs" transform="rotate(-90 362.9 365.85)">Target and Predictions</text>
<text x="680.6" y="366.65" text-anchor="middle" fill="red" stroke="red" stroke-width="0.18" font-size="8.3" textLength="20.56" lengthAdjust="spacingAndGlyphs" transform="rotate(-90 680.6 366.65)">Error</text>
<rect x="391.55" y="268.45" width="78.83" height="40" rx="1.7" fill="#fff" fill-opacity="0.8" stroke="#cccccc" stroke-width="0.7"/>
<rect x="394.88" y="272.75" width="16.67" height="5.8" fill="#C3F3C3"/>
<text x="418.22" y="278.65" text-anchor="start" fill="#000" stroke="#000" stroke-width="0.18" font-size="8.3" textLength="34.02" lengthAdjust="spacingAndGlyphs">Test Set</text>
<line x1="394.88" y1="287.95" x2="411.55" y2="287.95" stroke="#000" stroke-width="0.9"/>
<path d="M403.22 284.55 L403.98 286.9 L406.45 286.9 L404.46 288.35 L405.22 290.7 L403.22 289.25 L401.22 290.7 L401.98 288.35 L399.99 286.9 L402.46 286.9Z" fill="#fff" stroke="#000" stroke-width="1.0"/>
<text x="418.22" y="290.95" text-anchor="start" fill="#000" stroke="#000" stroke-width="0.18" font-size="8.3" textLength="26.15" lengthAdjust="spacingAndGlyphs">Actual</text>
<line x1="394.88" y1="300.25" x2="411.55" y2="300.25" stroke="#228B22" stroke-width="1.5"/>
<circle cx="403.22" cy="300.25" r="2.85" fill="#228B22"/>
<text x="418.22" y="303.25" text-anchor="start" fill="#000" stroke="#000" stroke-width="0.18" font-size="8.3" textLength="48.83" lengthAdjust="spacingAndGlyphs">LWSSA-MLP</text>
<rect x="455.5" y="268.45" width="50.56" height="14.5" rx="1.7" fill="#fff" fill-opacity="0.8" stroke="#cccccc" stroke-width="0.7"/>
<line x1="458.83" y1="275.65" x2="475.5" y2="275.65" stroke="#E8086A" stroke-width="1.25"/>
<text x="482.17" y="278.65" text-anchor="start" fill="#000" stroke="#000" stroke-width="0.18" font-size="8.3" textLength="20.56" lengthAdjust="spacingAndGlyphs">Error</text>
<clipPath id="c4"><rect x="32.6" y="517.6" width="258.4" height="205.2"/></clipPath>
<rect x="237.8" y="517.6" width="53.2" height="205.2" fill="#C3F3C3"/>
<g clip-path="url(#c4)">
<polyline points="32.6,527.4 34.5,713.63 36.4,533 38.3,651.49 40.2,599.61 42.1,577.41 44,585.25 45.9,588.98 47.8,540.84 49.7,619.77 51.6,618.83 53.5,533 55.4,571.62 57.3,560.99 59.2,560.99 61.1,529.27 63,564.72 64.9,702.62 66.8,609.88 68.7,664.74 70.6,533 72.5,529.27 74.4,534.86 76.3,527.4 78.2,533 80.1,540.46 82,593.27 83.9,707.1 85.8,685.64 87.7,614.73 89.6,656.34 91.5,533 93.4,564.72 95.3,712.69 97.2,672.76 99.1,590.84 101,588.04 102.9,710.45 104.8,621.63 106.7,577.78 108.6,582.63 110.5,536.73 112.4,677.05 114.3,567.15 116.2,639.36 118.1,660.26 120,581.7 121.9,573.68 123.8,540.65 125.7,549.79 127.6,560.61 129.5,546.06 131.4,575.54 133.3,544.75 135.2,578.53 137.1,579.65 139,534.86 140.9,581.14 142.8,546.62 144.7,562.67 146.6,540.46 148.5,551.66 150.4,551.84 152.3,627.42 154.2,540.65 156.1,551.84 158,538.97 159.9,709.89 161.8,549.98 163.7,535.98 165.6,537.1 167.5,536.73 169.4,585.25 171.3,629.47 173.2,547.93 175.1,538.97 177,579.46 178.9,527.4 180.8,555.76 182.7,604.28 184.6,564.72 186.5,583.19 188.4,530.39 190.3,538.97 192.2,574.61 194.1,550.91 196,694.41 197.9,551.84 199.8,587.86 201.7,641.04 203.6,611.37 205.5,613.61 207.4,573.68 209.3,527.4 211.2,551.47 213.1,690.12 215,713.25 216.9,698.89 218.8,538.97 220.7,537.85 222.6,714 224.5,546.99 226.4,565.84 228.3,528.33 230.2,588.04 232.1,588.79 234,528.33 235.9,584.87 237.8,646.26 239.7,527.4 241.6,546.06 243.5,528.33 245.4,584.87 247.3,527.4 249.2,633.76 251.1,527.4 253,681.53 254.9,552.4 256.8,606.33 258.7,636.19 260.6,643.84 262.5,648.88 264.4,550.91 266.3,534.12 268.2,581.7 270.1,534.86 272,631.9 273.9,571.62 275.8,556.7 277.7,527.4 279.6,668.28 281.5,577.78 283.4,534.86 285.3,580.39 287.2,545.13 289.1,533.37" fill="none" stroke="#000" stroke-width="1.1" stroke-linejoin="round"/>
<path d="M32.6 524 L33.36 526.35 L35.83 526.35 L33.84 527.8 L34.6 530.15 L32.6 528.7 L30.6 530.15 L31.36 527.8 L29.37 526.35 L31.84 526.35Z" fill="#fff" stroke="#000" stroke-width="1.0"/>
<path d="M34.5 710.23 L35.26 712.58 L37.73 712.58 L35.74 714.03 L36.5 716.38 L34.5 714.93 L32.5 716.38 L33.26 714.03 L31.27 712.58 L33.74 712.58Z" fill="#fff" stroke="#000" stroke-width="1.0"/>
<path d="M36.4 529.6 L37.16 531.95 L39.63 531.95 L37.64 533.4 L38.4 535.75 L36.4 534.3 L34.4 535.75 L35.16 533.4 L33.17 531.95 L35.64 531.95Z" fill="#fff" stroke="#000" stroke-width="1.0"/>
<path d="M38.3 648.09 L39.06 650.44 L41.53 650.44 L39.54 651.89 L40.3 654.24 L38.3 652.79 L36.3 654.24 L37.06 651.89 L35.07 650.44 L37.54 650.44Z" fill="#fff" stroke="#000" stroke-width="1.0"/>
<path d="M40.2 596.21 L40.96 598.56 L43.43 598.56 L41.44 600.02 L42.2 602.36 L40.2 600.91 L38.2 602.36 L38.96 600.02 L36.97 598.56 L39.44 598.56Z" fill="#fff" stroke="#000" stroke-width="1.0"/>
<path d="M42.1 574.01 L42.86 576.36 L45.33 576.36 L43.34 577.81 L44.1 580.16 L42.1 578.71 L40.1 580.16 L40.86 577.81 L38.87 576.36 L41.34 576.36Z" fill="#fff" stroke="#000" stroke-width="1.0"/>
<path d="M44 581.85 L44.76 584.2 L47.23 584.2 L45.24 585.65 L46 588 L44 586.54 L42 588 L42.76 585.65 L40.77 584.2 L43.24 584.2Z" fill="#fff" stroke="#000" stroke-width="1.0"/>
<path d="M45.9 585.58 L46.66 587.93 L49.13 587.93 L47.14 589.38 L47.9 591.73 L45.9 590.28 L43.9 591.73 L44.66 589.38 L42.67 587.93 L45.14 587.93Z" fill="#fff" stroke="#000" stroke-width="1.0"/>
<path d="M47.8 537.44 L48.56 539.78 L51.03 539.78 L49.04 541.24 L49.8 543.59 L47.8 542.13 L45.8 543.59 L46.56 541.24 L44.57 539.78 L47.04 539.78Z" fill="#fff" stroke="#000" stroke-width="1.0"/>
<path d="M49.7 616.37 L50.46 618.72 L52.93 618.72 L50.94 620.17 L51.7 622.52 L49.7 621.07 L47.7 622.52 L48.46 620.17 L46.47 618.72 L48.94 618.72Z" fill="#fff" stroke="#000" stroke-width="1.0"/>
<path d="M51.6 615.43 L52.36 617.78 L54.83 617.78 L52.84 619.24 L53.6 621.58 L51.6 620.13 L49.6 621.58 L50.36 619.24 L48.37 617.78 L50.84 617.78Z" fill="#fff" stroke="#000" stroke-width="1.0"/>
<path d="M53.5 529.6 L54.26 531.95 L56.73 531.95 L54.74 533.4 L55.5 535.75 L53.5 534.3 L51.5 535.75 L52.26 533.4 L50.27 531.95 L52.74 531.95Z" fill="#fff" stroke="#000" stroke-width="1.0"/>
<path d="M55.4 568.22 L56.16 570.57 L58.63 570.57 L56.64 572.03 L57.4 574.37 L55.4 572.92 L53.4 574.37 L54.16 572.03 L52.17 570.57 L54.64 570.57Z" fill="#fff" stroke="#000" stroke-width="1.0"/>
<path d="M57.3 557.59 L58.06 559.94 L60.53 559.94 L58.54 561.39 L59.3 563.74 L57.3 562.29 L55.3 563.74 L56.06 561.39 L54.07 559.94 L56.54 559.94Z" fill="#fff" stroke="#000" stroke-width="1.0"/>
<path d="M59.2 557.59 L59.96 559.94 L62.43 559.94 L60.44 561.39 L61.2 563.74 L59.2 562.29 L57.2 563.74 L57.96 561.39 L55.97 559.94 L58.44 559.94Z" fill="#fff" stroke="#000" stroke-width="1.0"/>
<path d="M61.1 525.87 L61.86 528.22 L64.33 528.22 L62.34 529.67 L63.1 532.02 L61.1 530.56 L59.1 532.02 L59.86 529.67 L57.87 528.22 L60.34 528.22Z" fill="#fff" stroke="#000" stroke-width="1.0"/>
<path d="M63 561.32 L63.76 563.67 L66.23 563.67 L64.24 565.12 L65 567.47 L63 566.02 L61 567.47 L61.76 565.12 L59.77 563.67 L62.24 563.67Z" fill="#fff" stroke="#000" stroke-width="1.0"/>
<path d="M64.9 699.22 L65.66 701.57 L68.13 701.57 L66.14 703.02 L66.9 705.37 L64.9 703.92 L62.9 705.37 L63.66 703.02 L61.67 701.57 L64.14 701.57Z" fill="#fff" stroke="#000" stroke-width="1.0"/>
<path d="M66.8 606.48 L67.56 608.83 L70.03 608.83 L68.04 610.28 L68.8 612.63 L66.8 611.18 L64.8 612.63 L65.56 610.28 L63.57 608.83 L66.04 608.83Z" fill="#fff" stroke="#000" stroke-width="1.0"/>
<path d="M68.7 661.34 L69.46 663.69 L71.93 663.69 L69.94 665.14 L70.7 667.49 L68.7 666.04 L66.7 667.49 L67.46 665.14 L65.47 663.69 L67.94 663.69Z" fill="#fff" stroke="#000" stroke-width="1.0"/>
<path d="M70.6 529.6 L71.36 531.95 L73.83 531.95 L71.84 533.4 L72.6 535.75 L70.6 534.3 L68.6 535.75 L69.36 533.4 L67.37 531.95 L69.84 531.95Z" fill="#fff" stroke="#000" stroke-width="1.0"/>
<path d="M72.5 525.87 L73.26 528.22 L75.73 528.22 L73.74 529.67 L74.5 532.02 L72.5 530.56 L70.5 532.02 L71.26 529.67 L69.27 528.22 L71.74 528.22Z" fill="#fff" stroke="#000" stroke-width="1.0"/>
<path d="M74.4 531.46 L75.16 533.81 L77.63 533.81 L75.64 535.27 L76.4 537.61 L74.4 536.16 L72.4 537.61 L73.16 535.27 L71.17 533.81 L73.64 533.81Z" fill="#fff" stroke="#000" stroke-width="1.0"/>
<path d="M76.3 524 L77.06 526.35 L79.53 526.35 L77.54 527.8 L78.3 530.15 L76.3 528.7 L74.3 530.15 L75.06 527.8 L73.07 526.35 L75.54 526.35Z" fill="#fff" stroke="#000" stroke-width="1.0"/>
<path d="M78.2 529.6 L78.96 531.95 L81.43 531.95 L79.44 533.4 L80.2 535.75 L78.2 534.3 L76.2 535.75 L76.96 533.4 L74.97 531.95 L77.44 531.95Z" fill="#fff" stroke="#000" stroke-width="1.0"/>
<path d="M80.1 537.06 L80.86 539.41 L83.33 539.41 L81.34 540.86 L82.1 543.21 L80.1 541.76 L78.1 543.21 L78.86 540.86 L76.87 539.41 L79.34 539.41Z" fill="#fff" stroke="#000" stroke-width="1.0"/>
<path d="M82 589.87 L82.76 592.22 L85.23 592.22 L83.24 593.67 L84 596.02 L82 594.57 L80 596.02 L80.76 593.67 L78.77 592.22 L81.24 592.22Z" fill="#fff" stroke="#000" stroke-width="1.0"/>
<path d="M83.9 703.7 L84.66 706.05 L87.13 706.05 L85.14 707.5 L85.9 709.85 L83.9 708.39 L81.9 709.85 L82.66 707.5 L80.67 706.05 L83.14 706.05Z" fill="#fff" stroke="#000" stroke-width="1.0"/>
<path d="M85.8 682.24 L86.56 684.59 L89.03 684.59 L87.04 686.04 L87.8 688.39 L85.8 686.94 L83.8 688.39 L84.56 686.04 L82.57 684.59 L85.04 684.59Z" fill="#fff" stroke="#000" stroke-width="1.0"/>
<path d="M87.7 611.33 L88.46 613.68 L90.93 613.68 L88.94 615.13 L89.7 617.48 L87.7 616.03 L85.7 617.48 L86.46 615.13 L84.47 613.68 L86.94 613.68Z" fill="#fff" stroke="#000" stroke-width="1.0"/>
<path d="M89.6 652.94 L90.36 655.29 L92.83 655.29 L90.84 656.74 L91.6 659.09 L89.6 657.64 L87.6 659.09 L88.36 656.74 L86.37 655.29 L88.84 655.29Z" fill="#fff" stroke="#000" stroke-width="1.0"/>
<path d="M91.5 529.6 L92.26 531.95 L94.73 531.95 L92.74 533.4 L93.5 535.75 L91.5 534.3 L89.5 535.75 L90.26 533.4 L88.27 531.95 L90.74 531.95Z" fill="#fff" stroke="#000" stroke-width="1.0"/>
<path d="M93.4 561.32 L94.16 563.67 L96.63 563.67 L94.64 565.12 L95.4 567.47 L93.4 566.02 L91.4 567.47 L92.16 565.12 L90.17 563.67 L92.64 563.67Z" fill="#fff" stroke="#000" stroke-width="1.0"/>
<path d="M95.3 709.29 L96.06 711.64 L98.53 711.64 L96.54 713.1 L97.3 715.44 L95.3 713.99 L93.3 715.44 L94.06 713.1 L92.07 711.64 L94.54 711.64Z" fill="#fff" stroke="#000" stroke-width="1.0"/>
<path d="M97.2 669.36 L97.96 671.71 L100.43 671.71 L98.44 673.16 L99.2 675.51 L97.2 674.06 L95.2 675.51 L95.96 673.16 L93.97 671.71 L96.44 671.71Z" fill="#fff" stroke="#000" stroke-width="1.0"/>
<path d="M99.1 587.44 L99.86 589.79 L102.33 589.79 L100.34 591.25 L101.1 593.59 L99.1 592.14 L97.1 593.59 L97.86 591.25 L95.87 589.79 L98.34 589.79Z" fill="#fff" stroke="#000" stroke-width="1.0"/>
<path d="M101 584.64 L101.76 586.99 L104.23 586.99 L102.24 588.45 L103 590.8 L101 589.34 L99 590.8 L99.76 588.45 L97.77 586.99 L100.24 586.99Z" fill="#fff" stroke="#000" stroke-width="1.0"/>
<path d="M102.9 707.05 L103.66 709.4 L106.13 709.4 L104.14 710.86 L104.9 713.21 L102.9 711.75 L100.9 713.21 L101.66 710.86 L99.67 709.4 L102.14 709.4Z" fill="#fff" stroke="#000" stroke-width="1.0"/>
<path d="M104.8 618.23 L105.56 620.58 L108.03 620.58 L106.04 622.03 L106.8 624.38 L104.8 622.93 L102.8 624.38 L103.56 622.03 L101.57 620.58 L104.04 620.58Z" fill="#fff" stroke="#000" stroke-width="1.0"/>
<path d="M106.7 574.38 L107.46 576.73 L109.93 576.73 L107.94 578.18 L108.7 580.53 L106.7 579.08 L104.7 580.53 L105.46 578.18 L103.47 576.73 L105.94 576.73Z" fill="#fff" stroke="#000" stroke-width="1.0"/>
<path d="M108.6 579.23 L109.36 581.58 L111.83 581.58 L109.84 583.03 L110.6 585.38 L108.6 583.93 L106.6 585.38 L107.36 583.03 L105.37 581.58 L107.84 581.58Z" fill="#fff" stroke="#000" stroke-width="1.0"/>
<path d="M110.5 533.33 L111.26 535.68 L113.73 535.68 L111.74 537.13 L112.5 539.48 L110.5 538.03 L108.5 539.48 L109.26 537.13 L107.27 535.68 L109.74 535.68Z" fill="#fff" stroke="#000" stroke-width="1.0"/>
<path d="M112.4 673.65 L113.16 676 L115.63 676 L113.64 677.45 L114.4 679.8 L112.4 678.35 L110.4 679.8 L111.16 677.45 L109.17 676 L111.64 676Z" fill="#fff" stroke="#000" stroke-width="1.0"/>
<path d="M114.3 563.75 L115.06 566.1 L117.53 566.1 L115.54 567.55 L116.3 569.9 L114.3 568.44 L112.3 569.9 L113.06 567.55 L111.07 566.1 L113.54 566.1Z" fill="#fff" stroke="#000" stroke-width="1.0"/>
<path d="M116.2 635.96 L116.96 638.31 L119.43 638.31 L117.44 639.76 L118.2 642.11 L116.2 640.66 L114.2 642.11 L114.96 639.76 L112.97 638.31 L115.44 638.31Z" fill="#fff" stroke="#000" stroke-width="1.0"/>
<path d="M118.1 656.86 L118.86 659.21 L121.33 659.21 L119.34 660.66 L120.1 663.01 L118.1 661.56 L116.1 663.01 L116.86 660.66 L114.87 659.21 L117.34 659.21Z" fill="#fff" stroke="#000" stroke-width="1.0"/>
<path d="M120 578.3 L120.76 580.65 L123.23 580.65 L121.24 582.1 L122 584.45 L120 583 L118 584.45 L118.76 582.1 L116.77 580.65 L119.24 580.65Z" fill="#fff" stroke="#000" stroke-width="1.0"/>
<path d="M121.9 570.28 L122.66 572.63 L125.13 572.63 L123.14 574.08 L123.9 576.43 L121.9 574.98 L119.9 576.43 L120.66 574.08 L118.67 572.63 L121.14 572.63Z" fill="#fff" stroke="#000" stroke-width="1.0"/>
<path d="M123.8 537.25 L124.56 539.6 L127.03 539.6 L125.04 541.05 L125.8 543.4 L123.8 541.95 L121.8 543.4 L122.56 541.05 L120.57 539.6 L123.04 539.6Z" fill="#fff" stroke="#000" stroke-width="1.0"/>
<path d="M125.7 546.39 L126.46 548.74 L128.93 548.74 L126.94 550.19 L127.7 552.54 L125.7 551.09 L123.7 552.54 L124.46 550.19 L122.47 548.74 L124.94 548.74Z" fill="#fff" stroke="#000" stroke-width="1.0"/>
<path d="M127.6 557.21 L128.36 559.56 L130.83 559.56 L128.84 561.02 L129.6 563.37 L127.6 561.91 L125.6 563.37 L126.36 561.02 L124.37 559.56 L126.84 559.56Z" fill="#fff" stroke="#000" stroke-width="1.0"/>
<path d="M129.5 542.66 L130.26 545.01 L132.73 545.01 L130.74 546.46 L131.5 548.81 L129.5 547.36 L127.5 548.81 L128.26 546.46 L126.27 545.01 L128.74 545.01Z" fill="#fff" stroke="#000" stroke-width="1.0"/>
<path d="M131.4 572.14 L132.16 574.49 L134.63 574.49 L132.64 575.94 L133.4 578.29 L131.4 576.84 L129.4 578.29 L130.16 575.94 L128.17 574.49 L130.64 574.49Z" fill="#fff" stroke="#000" stroke-width="1.0"/>
<path d="M133.3 541.35 L134.06 543.7 L136.53 543.7 L134.54 545.16 L135.3 547.5 L133.3 546.05 L131.3 547.5 L132.06 545.16 L130.07 543.7 L132.54 543.7Z" fill="#fff" stroke="#000" stroke-width="1.0"/>
<path d="M135.2 575.13 L135.96 577.48 L138.43 577.48 L136.44 578.93 L137.2 581.28 L135.2 579.83 L133.2 581.28 L133.96 578.93 L131.97 577.48 L134.44 577.48Z" fill="#fff" stroke="#000" stroke-width="1.0"/>
<path d="M137.1 576.25 L137.86 578.6 L140.33 578.6 L138.34 580.05 L139.1 582.4 L137.1 580.95 L135.1 582.4 L135.86 580.05 L133.87 578.6 L136.34 578.6Z" fill="#fff" stroke="#000" stroke-width="1.0"/>
<path d="M139 531.46 L139.76 533.81 L142.23 533.81 L140.24 535.27 L141 537.61 L139 536.16 L137 537.61 L137.76 535.27 L135.77 533.81 L138.24 533.81Z" fill="#fff" stroke="#000" stroke-width="1.0"/>
<path d="M140.9 577.74 L141.66 580.09 L144.13 580.09 L142.14 581.54 L142.9 583.89 L140.9 582.44 L138.9 583.89 L139.66 581.54 L137.67 580.09 L140.14 580.09Z" fill="#fff" stroke="#000" stroke-width="1.0"/>
<path d="M142.8 543.22 L143.56 545.57 L146.03 545.57 L144.04 547.02 L144.8 549.37 L142.8 547.92 L140.8 549.37 L141.56 547.02 L139.57 545.57 L142.04 545.57Z" fill="#fff" stroke="#000" stroke-width="1.0"/>
<path d="M144.7 559.27 L145.46 561.62 L147.93 561.62 L145.94 563.07 L146.7 565.42 L144.7 563.97 L142.7 565.42 L143.46 563.07 L141.47 561.62 L143.94 561.62Z" fill="#fff" stroke="#000" stroke-width="1.0"/>
<path d="M146.6 537.06 L147.36 539.41 L149.83 539.41 L147.84 540.86 L148.6 543.21 L146.6 541.76 L144.6 543.21 L145.36 540.86 L143.37 539.41 L145.84 539.41Z" fill="#fff" stroke="#000" stroke-width="1.0"/>
<path d="M148.5 548.26 L149.26 550.61 L151.73 550.61 L149.74 552.06 L150.5 554.41 L148.5 552.96 L146.5 554.41 L147.26 552.06 L145.27 550.61 L147.74 550.61Z" fill="#fff" stroke="#000" stroke-width="1.0"/>
<path d="M150.4 548.44 L151.16 550.79 L153.63 550.79 L151.64 552.25 L152.4 554.6 L150.4 553.14 L148.4 554.6 L149.16 552.25 L147.17 550.79 L149.64 550.79Z" fill="#fff" stroke="#000" stroke-width="1.0"/>
<path d="M152.3 624.02 L153.06 626.37 L155.53 626.37 L153.54 627.82 L154.3 630.17 L152.3 628.72 L150.3 630.17 L151.06 627.82 L149.07 626.37 L151.54 626.37Z" fill="#fff" stroke="#000" stroke-width="1.0"/>
<path d="M154.2 537.25 L154.96 539.6 L157.43 539.6 L155.44 541.05 L156.2 543.4 L154.2 541.95 L152.2 543.4 L152.96 541.05 L150.97 539.6 L153.44 539.6Z" fill="#fff" stroke="#000" stroke-width="1.0"/>
<path d="M156.1 548.44 L156.86 550.79 L159.33 550.79 L157.34 552.25 L158.1 554.6 L156.1 553.14 L154.1 554.6 L154.86 552.25 L152.87 550.79 L155.34 550.79Z" fill="#fff" stroke="#000" stroke-width="1.0"/>
<path d="M158 535.57 L158.76 537.92 L161.23 537.92 L159.24 539.37 L160 541.72 L158 540.27 L156 541.72 L156.76 539.37 L154.77 537.92 L157.24 537.92Z" fill="#fff" stroke="#000" stroke-width="1.0"/>
<path d="M159.9 706.49 L160.66 708.84 L163.13 708.84 L161.14 710.3 L161.9 712.65 L159.9 711.19 L157.9 712.65 L158.66 710.3 L156.67 708.84 L159.14 708.84Z" fill="#fff" stroke="#000" stroke-width="1.0"/>
<path d="M161.8 546.58 L162.56 548.93 L165.03 548.93 L163.04 550.38 L163.8 552.73 L161.8 551.28 L159.8 552.73 L160.56 550.38 L158.57 548.93 L161.04 548.93Z" fill="#fff" stroke="#000" stroke-width="1.0"/>
<path d="M163.7 532.58 L164.46 534.93 L166.93 534.93 L164.94 536.38 L165.7 538.73 L163.7 537.28 L161.7 538.73 L162.46 536.38 L160.47 534.93 L162.94 534.93Z" fill="#fff" stroke="#000" stroke-width="1.0"/>
<path d="M165.6 533.7 L166.36 536.05 L168.83 536.05 L166.84 537.5 L167.6 539.85 L165.6 538.4 L163.6 539.85 L164.36 537.5 L162.37 536.05 L164.84 536.05Z" fill="#fff" stroke="#000" stroke-width="1.0"/>
<path d="M167.5 533.33 L168.26 535.68 L170.73 535.68 L168.74 537.13 L169.5 539.48 L167.5 538.03 L165.5 539.48 L166.26 537.13 L164.27 535.68 L166.74 535.68Z" fill="#fff" stroke="#000" stroke-width="1.0"/>
<path d="M169.4 581.85 L170.16 584.2 L172.63 584.2 L170.64 585.65 L171.4 588 L169.4 586.54 L167.4 588 L168.16 585.65 L166.17 584.2 L168.64 584.2Z" fill="#fff" stroke="#000" stroke-width="1.0"/>
<path d="M171.3 626.07 L172.06 628.42 L174.53 628.42 L172.54 629.87 L173.3 632.22 L171.3 630.77 L169.3 632.22 L170.06 629.87 L168.07 628.42 L170.54 628.42Z" fill="#fff" stroke="#000" stroke-width="1.0"/>
<path d="M173.2 544.53 L173.96 546.88 L176.43 546.88 L174.44 548.33 L175.2 550.68 L173.2 549.22 L171.2 550.68 L171.96 548.33 L169.97 546.88 L172.44 546.88Z" fill="#fff" stroke="#000" stroke-width="1.0"/>
<path d="M175.1 535.57 L175.86 537.92 L178.33 537.92 L176.34 539.37 L177.1 541.72 L175.1 540.27 L173.1 541.72 L173.86 539.37 L171.87 537.92 L174.34 537.92Z" fill="#fff" stroke="#000" stroke-width="1.0"/>
<path d="M177 576.06 L177.76 578.41 L180.23 578.41 L178.24 579.86 L179 582.21 L177 580.76 L175 582.21 L175.76 579.86 L173.77 578.41 L176.24 578.41Z" fill="#fff" stroke="#000" stroke-width="1.0"/>
<path d="M178.9 524 L179.66 526.35 L182.13 526.35 L180.14 527.8 L180.9 530.15 L178.9 528.7 L176.9 530.15 L177.66 527.8 L175.67 526.35 L178.14 526.35Z" fill="#fff" stroke="#000" stroke-width="1.0"/>
<path d="M180.8 552.36 L181.56 554.71 L184.03 554.71 L182.04 556.16 L182.8 558.51 L180.8 557.06 L178.8 558.51 L179.56 556.16 L177.57 554.71 L180.04 554.71Z" fill="#fff" stroke="#000" stroke-width="1.0"/>
<path d="M182.7 600.88 L183.46 603.23 L185.93 603.23 L183.94 604.68 L184.7 607.03 L182.7 605.58 L180.7 607.03 L181.46 604.68 L179.47 603.23 L181.94 603.23Z" fill="#fff" stroke="#000" stroke-width="1.0"/>
<path d="M184.6 561.32 L185.36 563.67 L187.83 563.67 L185.84 565.12 L186.6 567.47 L184.6 566.02 L182.6 567.47 L183.36 565.12 L181.37 563.67 L183.84 563.67Z" fill="#fff" stroke="#000" stroke-width="1.0"/>
<path d="M186.5 579.79 L187.26 582.14 L189.73 582.14 L187.74 583.59 L188.5 585.94 L186.5 584.49 L184.5 585.94 L185.26 583.59 L183.27 582.14 L185.74 582.14Z" fill="#fff" stroke="#000" stroke-width="1.0"/>
<path d="M188.4 526.99 L189.16 529.33 L191.63 529.33 L189.64 530.79 L190.4 533.14 L188.4 531.68 L186.4 533.14 L187.16 530.79 L185.17 529.33 L187.64 529.33Z" fill="#fff" stroke="#000" stroke-width="1.0"/>
<path d="M190.3 535.57 L191.06 537.92 L193.53 537.92 L191.54 539.37 L192.3 541.72 L190.3 540.27 L188.3 541.72 L189.06 539.37 L187.07 537.92 L189.54 537.92Z" fill="#fff" stroke="#000" stroke-width="1.0"/>
<path d="M192.2 571.21 L192.96 573.56 L195.43 573.56 L193.44 575.01 L194.2 577.36 L192.2 575.91 L190.2 577.36 L190.96 575.01 L188.97 573.56 L191.44 573.56Z" fill="#fff" stroke="#000" stroke-width="1.0"/>
<path d="M194.1 547.51 L194.86 549.86 L197.33 549.86 L195.34 551.31 L196.1 553.66 L194.1 552.21 L192.1 553.66 L192.86 551.31 L190.87 549.86 L193.34 549.86Z" fill="#fff" stroke="#000" stroke-width="1.0"/>
<path d="M196 691.01 L196.76 693.36 L199.23 693.36 L197.24 694.81 L198 697.16 L196 695.71 L194 697.16 L194.76 694.81 L192.77 693.36 L195.24 693.36Z" fill="#fff" stroke="#000" stroke-width="1.0"/>
<path d="M197.9 548.44 L198.66 550.79 L201.13 550.79 L199.14 552.25 L199.9 554.6 L197.9 553.14 L195.9 554.6 L196.66 552.25 L194.67 550.79 L197.14 550.79Z" fill="#fff" stroke="#000" stroke-width="1.0"/>
<path d="M199.8 584.46 L200.56 586.81 L203.03 586.81 L201.04 588.26 L201.8 590.61 L199.8 589.16 L197.8 590.61 L198.56 588.26 L196.57 586.81 L199.04 586.81Z" fill="#fff" stroke="#000" stroke-width="1.0"/>
<path d="M201.7 637.64 L202.46 639.99 L204.93 639.99 L202.94 641.44 L203.7 643.79 L201.7 642.34 L199.7 643.79 L200.46 641.44 L198.47 639.99 L200.94 639.99Z" fill="#fff" stroke="#000" stroke-width="1.0"/>
<path d="M203.6 607.97 L204.36 610.32 L206.83 610.32 L204.84 611.77 L205.6 614.12 L203.6 612.67 L201.6 614.12 L202.36 611.77 L200.37 610.32 L202.84 610.32Z" fill="#fff" stroke="#000" stroke-width="1.0"/>
<path d="M205.5 610.21 L206.26 612.56 L208.73 612.56 L206.74 614.01 L207.5 616.36 L205.5 614.91 L203.5 616.36 L204.26 614.01 L202.27 612.56 L204.74 612.56Z" fill="#fff" stroke="#000" stroke-width="1.0"/>
<path d="M207.4 570.28 L208.16 572.63 L210.63 572.63 L208.64 574.08 L209.4 576.43 L207.4 574.98 L205.4 576.43 L206.16 574.08 L204.17 572.63 L206.64 572.63Z" fill="#fff" stroke="#000" stroke-width="1.0"/>
<path d="M209.3 524 L210.06 526.35 L212.53 526.35 L210.54 527.8 L211.3 530.15 L209.3 528.7 L207.3 530.15 L208.06 527.8 L206.07 526.35 L208.54 526.35Z" fill="#fff" stroke="#000" stroke-width="1.0"/>
<path d="M211.2 548.07 L211.96 550.42 L214.43 550.42 L212.44 551.87 L213.2 554.22 L211.2 552.77 L209.2 554.22 L209.96 551.87 L207.97 550.42 L210.44 550.42Z" fill="#fff" stroke="#000" stroke-width="1.0"/>
<path d="M213.1 686.72 L213.86 689.06 L216.33 689.06 L214.34 690.52 L215.1 692.87 L213.1 691.41 L211.1 692.87 L211.86 690.52 L209.87 689.06 L212.34 689.06Z" fill="#fff" stroke="#000" stroke-width="1.0"/>
<path d="M215 709.85 L215.76 712.2 L218.23 712.2 L216.24 713.65 L217 716 L215 714.55 L213 716 L213.76 713.65 L211.77 712.2 L214.24 712.2Z" fill="#fff" stroke="#000" stroke-width="1.0"/>
<path d="M216.9 695.49 L217.66 697.83 L220.13 697.83 L218.14 699.29 L218.9 701.64 L216.9 700.18 L214.9 701.64 L215.66 699.29 L213.67 697.83 L216.14 697.83Z" fill="#fff" stroke="#000" stroke-width="1.0"/>
<path d="M218.8 535.57 L219.56 537.92 L222.03 537.92 L220.04 539.37 L220.8 541.72 L218.8 540.27 L216.8 541.72 L217.56 539.37 L215.57 537.92 L218.04 537.92Z" fill="#fff" stroke="#000" stroke-width="1.0"/>
<path d="M220.7 534.45 L221.46 536.8 L223.93 536.8 L221.94 538.25 L222.7 540.6 L220.7 539.15 L218.7 540.6 L219.46 538.25 L217.47 536.8 L219.94 536.8Z" fill="#fff" stroke="#000" stroke-width="1.0"/>
<path d="M222.6 710.6 L223.36 712.95 L225.83 712.95 L223.84 714.4 L224.6 716.75 L222.6 715.3 L220.6 716.75 L221.36 714.4 L219.37 712.95 L221.84 712.95Z" fill="#fff" stroke="#000" stroke-width="1.0"/>
<path d="M224.5 543.59 L225.26 545.94 L227.73 545.94 L225.74 547.39 L226.5 549.74 L224.5 548.29 L222.5 549.74 L223.26 547.39 L221.27 545.94 L223.74 545.94Z" fill="#fff" stroke="#000" stroke-width="1.0"/>
<path d="M226.4 562.44 L227.16 564.79 L229.63 564.79 L227.64 566.24 L228.4 568.59 L226.4 567.14 L224.4 568.59 L225.16 566.24 L223.17 564.79 L225.64 564.79Z" fill="#fff" stroke="#000" stroke-width="1.0"/>
<path d="M228.3 524.93 L229.06 527.28 L231.53 527.28 L229.54 528.73 L230.3 531.08 L228.3 529.63 L226.3 531.08 L227.06 528.73 L225.07 527.28 L227.54 527.28Z" fill="#fff" stroke="#000" stroke-width="1.0"/>
<path d="M230.2 584.64 L230.96 586.99 L233.43 586.99 L231.44 588.45 L232.2 590.8 L230.2 589.34 L228.2 590.8 L228.96 588.45 L226.97 586.99 L229.44 586.99Z" fill="#fff" stroke="#000" stroke-width="1.0"/>
<path d="M232.1 585.39 L232.86 587.74 L235.33 587.74 L233.34 589.19 L234.1 591.54 L232.1 590.09 L230.1 591.54 L230.86 589.19 L228.87 587.74 L231.34 587.74Z" fill="#fff" stroke="#000" stroke-width="1.0"/>
<path d="M234 524.93 L234.76 527.28 L237.23 527.28 L235.24 528.73 L236 531.08 L234 529.63 L232 531.08 L232.76 528.73 L230.77 527.28 L233.24 527.28Z" fill="#fff" stroke="#000" stroke-width="1.0"/>
<path d="M235.9 581.47 L236.66 583.82 L239.13 583.82 L237.14 585.27 L237.9 587.62 L235.9 586.17 L233.9 587.62 L234.66 585.27 L232.67 583.82 L235.14 583.82Z" fill="#fff" stroke="#000" stroke-width="1.0"/>
<path d="M237.8 642.86 L238.56 645.21 L241.03 645.21 L239.04 646.67 L239.8 649.01 L237.8 647.56 L235.8 649.01 L236.56 646.67 L234.57 645.21 L237.04 645.21Z" fill="#fff" stroke="#000" stroke-width="1.0"/>
<path d="M239.7 524 L240.46 526.35 L242.93 526.35 L240.94 527.8 L241.7 530.15 L239.7 528.7 L237.7 530.15 L238.46 527.8 L236.47 526.35 L238.94 526.35Z" fill="#fff" stroke="#000" stroke-width="1.0"/>
<path d="M241.6 542.66 L242.36 545.01 L244.83 545.01 L242.84 546.46 L243.6 548.81 L241.6 547.36 L239.6 548.81 L240.36 546.46 L238.37 545.01 L240.84 545.01Z" fill="#fff" stroke="#000" stroke-width="1.0"/>
<path d="M243.5 524.93 L244.26 527.28 L246.73 527.28 L244.74 528.73 L245.5 531.08 L243.5 529.63 L241.5 531.08 L242.26 528.73 L240.27 527.28 L242.74 527.28Z" fill="#fff" stroke="#000" stroke-width="1.0"/>
<path d="M245.4 581.47 L246.16 583.82 L248.63 583.82 L246.64 585.27 L247.4 587.62 L245.4 586.17 L243.4 587.62 L244.16 585.27 L242.17 583.82 L244.64 583.82Z" fill="#fff" stroke="#000" stroke-width="1.0"/>
<path d="M247.3 524 L248.06 526.35 L250.53 526.35 L248.54 527.8 L249.3 530.15 L247.3 528.7 L245.3 530.15 L246.06 527.8 L244.07 526.35 L246.54 526.35Z" fill="#fff" stroke="#000" stroke-width="1.0"/>
<path d="M249.2 630.36 L249.96 632.71 L252.43 632.71 L250.44 634.16 L251.2 636.51 L249.2 635.06 L247.2 636.51 L247.96 634.16 L245.97 632.71 L248.44 632.71Z" fill="#fff" stroke="#000" stroke-width="1.0"/>
<path d="M251.1 524 L251.86 526.35 L254.33 526.35 L252.34 527.8 L253.1 530.15 L251.1 528.7 L249.1 530.15 L249.86 527.8 L247.87 526.35 L250.34 526.35Z" fill="#fff" stroke="#000" stroke-width="1.0"/>
<path d="M253 678.13 L253.76 680.48 L256.23 680.48 L254.24 681.93 L255 684.28 L253 682.83 L251 684.28 L251.76 681.93 L249.77 680.48 L252.24 680.48Z" fill="#fff" stroke="#000" stroke-width="1.0"/>
<path d="M254.9 549 L255.66 551.35 L258.13 551.35 L256.14 552.81 L256.9 555.16 L254.9 553.7 L252.9 555.16 L253.66 552.81 L251.67 551.35 L254.14 551.35Z" fill="#fff" stroke="#000" stroke-width="1.0"/>
<path d="M256.8 602.93 L257.56 605.28 L260.03 605.28 L258.04 606.73 L258.8 609.08 L256.8 607.63 L254.8 609.08 L255.56 606.73 L253.57 605.28 L256.04 605.28Z" fill="#fff" stroke="#000" stroke-width="1.0"/>
<path d="M258.7 632.79 L259.46 635.14 L261.93 635.14 L259.94 636.59 L260.7 638.94 L258.7 637.49 L256.7 638.94 L257.46 636.59 L255.47 635.14 L257.94 635.14Z" fill="#fff" stroke="#000" stroke-width="1.0"/>
<path d="M260.6 640.44 L261.36 642.79 L263.83 642.79 L261.84 644.24 L262.6 646.59 L260.6 645.14 L258.6 646.59 L259.36 644.24 L257.37 642.79 L259.84 642.79Z" fill="#fff" stroke="#000" stroke-width="1.0"/>
<path d="M262.5 645.48 L263.26 647.83 L265.73 647.83 L263.74 649.28 L264.5 651.63 L262.5 650.18 L260.5 651.63 L261.26 649.28 L259.27 647.83 L261.74 647.83Z" fill="#fff" stroke="#000" stroke-width="1.0"/>
<path d="M264.4 547.51 L265.16 549.86 L267.63 549.86 L265.64 551.31 L266.4 553.66 L264.4 552.21 L262.4 553.66 L263.16 551.31 L261.17 549.86 L263.64 549.86Z" fill="#fff" stroke="#000" stroke-width="1.0"/>
<path d="M266.3 530.72 L267.06 533.07 L269.53 533.07 L267.54 534.52 L268.3 536.87 L266.3 535.42 L264.3 536.87 L265.06 534.52 L263.07 533.07 L265.54 533.07Z" fill="#fff" stroke="#000" stroke-width="1.0"/>
<path d="M268.2 578.3 L268.96 580.65 L271.43 580.65 L269.44 582.1 L270.2 584.45 L268.2 583 L266.2 584.45 L266.96 582.1 L264.97 580.65 L267.44 580.65Z" fill="#fff" stroke="#000" stroke-width="1.0"/>
<path d="M270.1 531.46 L270.86 533.81 L273.33 533.81 L271.34 535.27 L272.1 537.61 L270.1 536.16 L268.1 537.61 L268.86 535.27 L266.87 533.81 L269.34 533.81Z" fill="#fff" stroke="#000" stroke-width="1.0"/>
<path d="M272 628.5 L272.76 630.85 L275.23 630.85 L273.24 632.3 L274 634.65 L272 633.19 L270 634.65 L270.76 632.3 L268.77 630.85 L271.24 630.85Z" fill="#fff" stroke="#000" stroke-width="1.0"/>
<path d="M273.9 568.22 L274.66 570.57 L277.13 570.57 L275.14 572.03 L275.9 574.37 L273.9 572.92 L271.9 574.37 L272.66 572.03 L270.67 570.57 L273.14 570.57Z" fill="#fff" stroke="#000" stroke-width="1.0"/>
<path d="M275.8 553.3 L276.56 555.65 L279.03 555.65 L277.04 557.1 L277.8 559.45 L275.8 557.99 L273.8 559.45 L274.56 557.1 L272.57 555.65 L275.04 555.65Z" fill="#fff" stroke="#000" stroke-width="1.0"/>
<path d="M277.7 524 L278.46 526.35 L280.93 526.35 L278.94 527.8 L279.7 530.15 L277.7 528.7 L275.7 530.15 L276.46 527.8 L274.47 526.35 L276.94 526.35Z" fill="#fff" stroke="#000" stroke-width="1.0"/>
<path d="M279.6 664.88 L280.36 667.23 L282.83 667.23 L280.84 668.68 L281.6 671.03 L279.6 669.58 L277.6 671.03 L278.36 668.68 L276.37 667.23 L278.84 667.23Z" fill="#fff" stroke="#000" stroke-width="1.0"/>
<path d="M281.5 574.38 L282.26 576.73 L284.73 576.73 L282.74 578.18 L283.5 580.53 L281.5 579.08 L279.5 580.53 L280.26 578.18 L278.27 576.73 L280.74 576.73Z" fill="#fff" stroke="#000" stroke-width="1.0"/>
<path d="M283.4 531.46 L284.16 533.81 L286.63 533.81 L284.64 535.27 L285.4 537.61 L283.4 536.16 L281.4 537.61 L282.16 535.27 L280.17 533.81 L282.64 533.81Z" fill="#fff" stroke="#000" stroke-width="1.0"/>
<path d="M285.3 576.99 L286.06 579.34 L288.53 579.34 L286.54 580.8 L287.3 583.15 L285.3 581.69 L283.3 583.15 L284.06 580.8 L282.07 579.34 L284.54 579.34Z" fill="#fff" stroke="#000" stroke-width="1.0"/>
<path d="M287.2 541.73 L287.96 544.08 L290.43 544.08 L288.44 545.53 L289.2 547.88 L287.2 546.43 L285.2 547.88 L285.96 545.53 L283.97 544.08 L286.44 544.08Z" fill="#fff" stroke="#000" stroke-width="1.0"/>
<path d="M289.1 529.97 L289.86 532.32 L292.33 532.32 L290.34 533.77 L291.1 536.12 L289.1 534.67 L287.1 536.12 L287.86 533.77 L285.87 532.32 L288.34 532.32Z" fill="#fff" stroke="#000" stroke-width="1.0"/>
<polyline points="32.6,527.4 34.5,714 36.4,530.39 38.3,658.02 40.2,597.19 42.1,594.02 44,590.1 45.9,587.3 47.8,527.59 49.7,617.53 51.6,615.1 53.5,531.32 55.4,583.38 57.3,563.23 59.2,564.16 61.1,532.25 63,555.95 64.9,714 66.8,605.59 68.7,660.26 70.6,528.89 72.5,530.39 74.4,529.08 76.3,530.2 78.2,531.88 80.1,527.59 82,591.03 83.9,713.63 85.8,712.32 87.7,595.88 89.6,633.39 91.5,530.95 93.4,561.17 95.3,713.63 97.2,679.67 99.1,590.1 101,588.23 102.9,714 104.8,599.8 106.7,570.32 108.6,588.23 110.5,538.04 112.4,694.41 114.3,558.38 116.2,626.48 118.1,643.84 120,588.23 121.9,564.53 123.8,527.4 125.7,527.4 127.6,576.66 129.5,531.32 131.4,592.15 133.3,527.4 135.2,572.18 137.1,592.15 139,527.4 140.9,588.23 142.8,527.4 144.7,569.94 146.6,527.4 148.5,549.61 150.4,561.17 152.3,610.44 154.2,532.44 156.1,574.8 158,527.4 159.9,713.63 161.8,527.4 163.7,527.4 165.6,527.4 167.5,527.4 169.4,588.23 171.3,618.27 173.2,527.4 175.1,527.4 177,587.3 178.9,527.4 180.8,566.96 182.7,599.8 184.6,566.96 186.5,588.23 188.4,527.4 190.3,527.4 192.2,588.23 194.1,542.89 196,714 197.9,553.52 199.8,589.16 201.7,631.34 203.6,613.24 205.5,613.24 207.4,584.31 209.3,527.4 211.2,557.44 213.1,714 215,714 216.9,714 218.8,527.4 220.7,527.4 222.6,714 224.5,550.72 226.4,564.72 228.3,527.4 230.2,583.38 232.1,587.11 234,527.4 235.9,589.16 237.8,621.82 239.7,527.4 241.6,530.39 243.5,527.4 245.4,588.23 247.3,527.4 249.2,620.7 251.1,527.4 253,707.1 254.9,556.51 256.8,604.65 258.7,620.7 260.6,630.03 262.5,622.57 264.4,546.06 266.3,527.4 268.2,588.98 270.1,527.4 272,618.83 273.9,581.51 275.8,572.74 277.7,527.4 279.6,678.92 281.5,587.3 283.4,527.4 285.3,591.78 287.2,527.4 289.1,530.95" fill="none" stroke="#40E0D0" stroke-width="1.5" stroke-linejoin="round"/>
<circle cx="32.6" cy="527.4" r="2.85" fill="#40E0D0"/>
<circle cx="34.5" cy="714" r="2.85" fill="#40E0D0"/>
<circle cx="36.4" cy="530.39" r="2.85" fill="#40E0D0"/>
<circle cx="38.3" cy="658.02" r="2.85" fill="#40E0D0"/>
<circle cx="40.2" cy="597.19" r="2.85" fill="#40E0D0"/>
<circle cx="42.1" cy="594.02" r="2.85" fill="#40E0D0"/>
<circle cx="44" cy="590.1" r="2.85" fill="#40E0D0"/>
<circle cx="45.9" cy="587.3" r="2.85" fill="#40E0D0"/>
<circle cx="47.8" cy="527.59" r="2.85" fill="#40E0D0"/>
<circle cx="49.7" cy="617.53" r="2.85" fill="#40E0D0"/>
<circle cx="51.6" cy="615.1" r="2.85" fill="#40E0D0"/>
<circle cx="53.5" cy="531.32" r="2.85" fill="#40E0D0"/>
<circle cx="55.4" cy="583.38" r="2.85" fill="#40E0D0"/>
<circle cx="57.3" cy="563.23" r="2.85" fill="#40E0D0"/>
<circle cx="59.2" cy="564.16" r="2.85" fill="#40E0D0"/>
<circle cx="61.1" cy="532.25" r="2.85" fill="#40E0D0"/>
<circle cx="63" cy="555.95" r="2.85" fill="#40E0D0"/>
<circle cx="64.9" cy="714" r="2.85" fill="#40E0D0"/>
<circle cx="66.8" cy="605.59" r="2.85" fill="#40E0D0"/>
<circle cx="68.7" cy="660.26" r="2.85" fill="#40E0D0"/>
<circle cx="70.6" cy="528.89" r="2.85" fill="#40E0D0"/>
<circle cx="72.5" cy="530.39" r="2.85" fill="#40E0D0"/>
<circle cx="74.4" cy="529.08" r="2.85" fill="#40E0D0"/>
<circle cx="76.3" cy="530.2" r="2.85" fill="#40E0D0"/>
<circle cx="78.2" cy="531.88" r="2.85" fill="#40E0D0"/>
<circle cx="80.1" cy="527.59" r="2.85" fill="#40E0D0"/>
<circle cx="82" cy="591.03" r="2.85" fill="#40E0D0"/>
<circle cx="83.9" cy="713.63" r="2.85" fill="#40E0D0"/>
<circle cx="85.8" cy="712.32" r="2.85" fill="#40E0D0"/>
<circle cx="87.7" cy="595.88" r="2.85" fill="#40E0D0"/>
<circle cx="89.6" cy="633.39" r="2.85" fill="#40E0D0"/>
<circle cx="91.5" cy="530.95" r="2.85" fill="#40E0D0"/>
<circle cx="93.4" cy="561.17" r="2.85" fill="#40E0D0"/>
<circle cx="95.3" cy="713.63" r="2.85" fill="#40E0D0"/>
<circle cx="97.2" cy="679.67" r="2.85" fill="#40E0D0"/>
<circle cx="99.1" cy="590.1" r="2.85" fill="#40E0D0"/>
<circle cx="101" cy="588.23" r="2.85" fill="#40E0D0"/>
<circle cx="102.9" cy="714" r="2.85" fill="#40E0D0"/>
<circle cx="104.8" cy="599.8" r="2.85" fill="#40E0D0"/>
<circle cx="106.7" cy="570.32" r="2.85" fill="#40E0D0"/>
<circle cx="108.6" cy="588.23" r="2.85" fill="#40E0D0"/>
<circle cx="110.5" cy="538.04" r="2.85" fill="#40E0D0"/>
<circle cx="112.4" cy="694.41" r="2.85" fill="#40E0D0"/>
<circle cx="114.3" cy="558.38" r="2.85" fill="#40E0D0"/>
<circle cx="116.2" cy="626.48" r="2.85" fill="#40E0D0"/>
<circle cx="118.1" cy="643.84" r="2.85" fill="#40E0D0"/>
<circle cx="120" cy="588.23" r="2.85" fill="#40E0D0"/>
<circle cx="121.9" cy="564.53" r="2.85" fill="#40E0D0"/>
<circle cx="123.8" cy="527.4" r="2.85" fill="#40E0D0"/>
<circle cx="125.7" cy="527.4" r="2.85" fill="#40E0D0"/>
<circle cx="127.6" cy="576.66" r="2.85" fill="#40E0D0"/>
<circle cx="129.5" cy="531.32" r="2.85" fill="#40E0D0"/>
<circle cx="131.4" cy="592.15" r="2.85" fill="#40E0D0"/>
<circle cx="133.3" cy="527.4" r="2.85" fill="#40E0D0"/>
<circle cx="135.2" cy="572.18" r="2.85" fill="#40E0D0"/>
<circle cx="137.1" cy="592.15" r="2.85" fill="#40E0D0"/>
<circle cx="139" cy="527.4" r="2.85" fill="#40E0D0"/>
<circle cx="140.9" cy="588.23" r="2.85" fill="#40E0D0"/>
<circle cx="142.8" cy="527.4" r="2.85" fill="#40E0D0"/>
<circle cx="144.7" cy="569.94" r="2.85" fill="#40E0D0"/>
<circle cx="146.6" cy="527.4" r="2.85" fill="#40E0D0"/>
<circle cx="148.5" cy="549.61" r="2.85" fill="#40E0D0"/>
<circle cx="150.4" cy="561.17" r="2.85" fill="#40E0D0"/>
<circle cx="152.3" cy="610.44" r="2.85" fill="#40E0D0"/>
<circle cx="154.2" cy="532.44" r="2.85" fill="#40E0D0"/>
<circle cx="156.1" cy="574.8" r="2.85" fill="#40E0D0"/>
<circle cx="158" cy="527.4" r="2.85" fill="#40E0D0"/>
<circle cx="159.9" cy="713.63" r="2.85" fill="#40E0D0"/>
<circle cx="161.8" cy="527.4" r="2.85" fill="#40E0D0"/>
<circle cx="163.7" cy="527.4" r="2.85" fill="#40E0D0"/>
<circle cx="165.6" cy="527.4" r="2.85" fill="#40E0D0"/>
<circle cx="167.5" cy="527.4" r="2.85" fill="#40E0D0"/>
<circle cx="169.4" cy="588.23" r="2.85" fill="#40E0D0"/>
<circle cx="171.3" cy="618.27" r="2.85" fill="#40E0D0"/>
<circle cx="173.2" cy="527.4" r="2.85" fill="#40E0D0"/>
<circle cx="175.1" cy="527.4" r="2.85" fill="#40E0D0"/>
<circle cx="177" cy="587.3" r="2.85" fill="#40E0D0"/>
<circle cx="178.9" cy="527.4" r="2.85" fill="#40E0D0"/>
<circle cx="180.8" cy="566.96" r="2.85" fill="#40E0D0"/>
<circle cx="182.7" cy="599.8" r="2.85" fill="#40E0D0"/>
<circle cx="184.6" cy="566.96" r="2.85" fill="#40E0D0"/>
<circle cx="186.5" cy="588.23" r="2.85" fill="#40E0D0"/>
<circle cx="188.4" cy="527.4" r="2.85" fill="#40E0D0"/>
<circle cx="190.3" cy="527.4" r="2.85" fill="#40E0D0"/>
<circle cx="192.2" cy="588.23" r="2.85" fill="#40E0D0"/>
<circle cx="194.1" cy="542.89" r="2.85" fill="#40E0D0"/>
<circle cx="196" cy="714" r="2.85" fill="#40E0D0"/>
<circle cx="197.9" cy="553.52" r="2.85" fill="#40E0D0"/>
<circle cx="199.8" cy="589.16" r="2.85" fill="#40E0D0"/>
<circle cx="201.7" cy="631.34" r="2.85" fill="#40E0D0"/>
<circle cx="203.6" cy="613.24" r="2.85" fill="#40E0D0"/>
<circle cx="205.5" cy="613.24" r="2.85" fill="#40E0D0"/>
<circle cx="207.4" cy="584.31" r="2.85" fill="#40E0D0"/>
<circle cx="209.3" cy="527.4" r="2.85" fill="#40E0D0"/>
<circle cx="211.2" cy="557.44" r="2.85" fill="#40E0D0"/>
<circle cx="213.1" cy="714" r="2.85" fill="#40E0D0"/>
<circle cx="215" cy="714" r="2.85" fill="#40E0D0"/>
<circle cx="216.9" cy="714" r="2.85" fill="#40E0D0"/>
<circle cx="218.8" cy="527.4" r="2.85" fill="#40E0D0"/>
<circle cx="220.7" cy="527.4" r="2.85" fill="#40E0D0"/>
<circle cx="222.6" cy="714" r="2.85" fill="#40E0D0"/>
<circle cx="224.5" cy="550.72" r="2.85" fill="#40E0D0"/>
<circle cx="226.4" cy="564.72" r="2.85" fill="#40E0D0"/>
<circle cx="228.3" cy="527.4" r="2.85" fill="#40E0D0"/>
<circle cx="230.2" cy="583.38" r="2.85" fill="#40E0D0"/>
<circle cx="232.1" cy="587.11" r="2.85" fill="#40E0D0"/>
<circle cx="234" cy="527.4" r="2.85" fill="#40E0D0"/>
<circle cx="235.9" cy="589.16" r="2.85" fill="#40E0D0"/>
<circle cx="237.8" cy="621.82" r="2.85" fill="#40E0D0"/>
<circle cx="239.7" cy="527.4" r="2.85" fill="#40E0D0"/>
<circle cx="241.6" cy="530.39" r="2.85" fill="#40E0D0"/>
<circle cx="243.5" cy="527.4" r="2.85" fill="#40E0D0"/>
<circle cx="245.4" cy="588.23" r="2.85" fill="#40E0D0"/>
<circle cx="247.3" cy="527.4" r="2.85" fill="#40E0D0"/>
<circle cx="249.2" cy="620.7" r="2.85" fill="#40E0D0"/>
<circle cx="251.1" cy="527.4" r="2.85" fill="#40E0D0"/>
<circle cx="253" cy="707.1" r="2.85" fill="#40E0D0"/>
<circle cx="254.9" cy="556.51" r="2.85" fill="#40E0D0"/>
<circle cx="256.8" cy="604.65" r="2.85" fill="#40E0D0"/>
<circle cx="258.7" cy="620.7" r="2.85" fill="#40E0D0"/>
<circle cx="260.6" cy="630.03" r="2.85" fill="#40E0D0"/>
<circle cx="262.5" cy="622.57" r="2.85" fill="#40E0D0"/>
<circle cx="264.4" cy="546.06" r="2.85" fill="#40E0D0"/>
<circle cx="266.3" cy="527.4" r="2.85" fill="#40E0D0"/>
<circle cx="268.2" cy="588.98" r="2.85" fill="#40E0D0"/>
<circle cx="270.1" cy="527.4" r="2.85" fill="#40E0D0"/>
<circle cx="272" cy="618.83" r="2.85" fill="#40E0D0"/>
<circle cx="273.9" cy="581.51" r="2.85" fill="#40E0D0"/>
<circle cx="275.8" cy="572.74" r="2.85" fill="#40E0D0"/>
<circle cx="277.7" cy="527.4" r="2.85" fill="#40E0D0"/>
<circle cx="279.6" cy="678.92" r="2.85" fill="#40E0D0"/>
<circle cx="281.5" cy="587.3" r="2.85" fill="#40E0D0"/>
<circle cx="283.4" cy="527.4" r="2.85" fill="#40E0D0"/>
<circle cx="285.3" cy="591.78" r="2.85" fill="#40E0D0"/>
<circle cx="287.2" cy="527.4" r="2.85" fill="#40E0D0"/>
<circle cx="289.1" cy="530.95" r="2.85" fill="#40E0D0"/>
<polyline points="32.6,644.62 34.5,647.54 36.4,620.53 38.3,593.52 40.2,635.86 42.1,607.02 44,627.1 45.9,646.45 47.8,646.45 49.7,646.45 51.6,591.7 53.5,645.72 55.4,632.21 57.3,618.71 59.2,646.45 61.1,646.45 63,636.41 64.9,626.37 66.8,648.63 68.7,645.72 70.6,644.8 72.5,643.89 74.4,640.97 76.3,624 78.2,607.02 80.1,612.87 82,643.89 83.9,620.16 85.8,596.44 87.7,602.28 89.6,604.11 91.5,634.03 93.4,641.7 95.3,636.96 97.2,645.72 99.1,640.97 101,638.05 102.9,635.13 104.8,602.28 106.7,628.92 108.6,633.49 110.5,638.05 112.4,615.78 114.3,628.92 116.2,614.69 118.1,616.15 120,617.61 121.9,632.94 123.8,618.71 125.7,638.05 127.6,613.96 129.5,641.7 131.4,613.96 133.3,629.29 135.2,644.62 137.1,632.94 139,637.87 140.9,642.79 142.8,635.86 144.7,631.85 146.6,647.54 148.5,643.71 150.4,639.88 152.3,617.61 154.2,628.2 156.1,616.15 158,604.11 159.9,639.88 161.8,629.29 163.7,629.29 165.6,622.36 167.5,603.01 169.4,643.89 171.3,626.37 173.2,607.02 175.1,631.12 177,637.5 178.9,643.89 180.8,626.37 182.7,645.72 184.6,639.88 186.5,641.34 188.4,642.79 190.3,623.45 192.2,638.05 194.1,624.54 196,611.04 197.9,643.89 199.8,626.92 201.7,609.95 203.6,609.22 205.5,648.63 207.4,639.88 209.3,618.71 211.2,641.7 213.1,603.01 215,639.88 216.9,618.71 218.8,628.2 220.7,638.6 222.6,649 224.5,608.12 226.4,617.61 228.3,607.02 230.2,627.28 232.1,647.54 234,646.45 235.9,623.82 237.8,601.18 239.7,643.89 241.6,632.94 243.5,645.72 245.4,634.03 247.3,618.71 249.2,629.84 251.1,640.97 253,599.36 254.9,644.62 256.8,619.8 258.7,609.95 260.6,603.19 262.5,596.44 264.4,609.22 266.3,641.7 268.2,623.45 270.1,634.58 272,645.72 273.9,629.29 275.8,635.13 277.7,631.12 279.6,630.2 281.5,629.29 283.4,627.47 285.3,621.62 287.2,615.78 289.1,638.05" fill="none" stroke="#E8086A" stroke-width="1.25" stroke-linejoin="round"/>
</g>
<rect x="32.6" y="517.6" width="258.4" height="205.2" fill="none" stroke="#000" stroke-width="0.7"/>
<line x1="29.7" y1="714" x2="32.6" y2="714" stroke="#000" stroke-width="0.7"/>
<text x="26.7" y="717" text-anchor="end" fill="#000" stroke="#000" stroke-width="0.18" font-size="8.3" textLength="13.2" lengthAdjust="spacingAndGlyphs">0.0</text>
<line x1="29.7" y1="676.68" x2="32.6" y2="676.68" stroke="#000" stroke-width="0.7"/>
<text x="26.7" y="679.68" text-anchor="end" fill="#000" stroke="#000" stroke-width="0.18" font-size="8.3" textLength="13.2" lengthAdjust="spacingAndGlyphs">0.2</text>
<line x1="29.7" y1="639.36" x2="32.6" y2="639.36" stroke="#000" stroke-width="0.7"/>
<text x="26.7" y="642.36" text-anchor="end" fill="#000" stroke="#000" stroke-width="0.18" font-size="8.3" textLength="13.2" lengthAdjust="spacingAndGlyphs">0.4</text>
<line x1="29.7" y1="602.04" x2="32.6" y2="602.04" stroke="#000" stroke-width="0.7"/>
<text x="26.7" y="605.04" text-anchor="end" fill="#000" stroke="#000" stroke-width="0.18" font-size="8.3" textLength="13.2" lengthAdjust="spacingAndGlyphs">0.6</text>
<line x1="29.7" y1="564.72" x2="32.6" y2="564.72" stroke="#000" stroke-width="0.7"/>
<text x="26.7" y="567.72" text-anchor="end" fill="#000" stroke="#000" stroke-width="0.18" font-size="8.3" textLength="13.2" lengthAdjust="spacingAndGlyphs">0.8</text>
<line x1="29.7" y1="527.4" x2="32.6" y2="527.4" stroke="#000" stroke-width="0.7"/>
<text x="26.7" y="530.4" text-anchor="end" fill="#000" stroke="#000" stroke-width="0.18" font-size="8.3" textLength="13.2" lengthAdjust="spacingAndGlyphs">1.0</text>
<line x1="32.6" y1="722.8" x2="32.6" y2="725.7" stroke="#000" stroke-width="0.7"/>
<text x="32.6" y="735.2" text-anchor="middle" fill="#000" stroke="#000" stroke-width="0.18" font-size="8.3" textLength="5.28" lengthAdjust="spacingAndGlyphs">0</text>
<line x1="70.6" y1="722.8" x2="70.6" y2="725.7" stroke="#000" stroke-width="0.7"/>
<text x="70.6" y="735.2" text-anchor="middle" fill="#000" stroke="#000" stroke-width="0.18" font-size="8.3" textLength="10.56" lengthAdjust="spacingAndGlyphs">20</text>
<line x1="108.6" y1="722.8" x2="108.6" y2="725.7" stroke="#000" stroke-width="0.7"/>
<text x="108.6" y="735.2" text-anchor="middle" fill="#000" stroke="#000" stroke-width="0.18" font-size="8.3" textLength="10.56" lengthAdjust="spacingAndGlyphs">40</text>
<line x1="146.6" y1="722.8" x2="146.6" y2="725.7" stroke="#000" stroke-width="0.7"/>
<text x="146.6" y="735.2" text-anchor="middle" fill="#000" stroke="#000" stroke-width="0.18" font-size="8.3" textLength="10.56" lengthAdjust="spacingAndGlyphs">60</text>
<line x1="184.6" y1="722.8" x2="184.6" y2="725.7" stroke="#000" stroke-width="0.7"/>
<text x="184.6" y="735.2" text-anchor="middle" fill="#000" stroke="#000" stroke-width="0.18" font-size="8.3" textLength="10.56" lengthAdjust="spacingAndGlyphs">80</text>
<line x1="222.6" y1="722.8" x2="222.6" y2="725.7" stroke="#000" stroke-width="0.7"/>
<text x="222.6" y="735.2" text-anchor="middle" fill="#000" stroke="#000" stroke-width="0.18" font-size="8.3" textLength="15.84" lengthAdjust="spacingAndGlyphs">100</text>
<line x1="260.6" y1="722.8" x2="260.6" y2="725.7" stroke="#000" stroke-width="0.7"/>
<text x="260.6" y="735.2" text-anchor="middle" fill="#000" stroke="#000" stroke-width="0.18" font-size="8.3" textLength="15.84" lengthAdjust="spacingAndGlyphs">120</text>
<line x1="291" y1="685.5" x2="293.9" y2="685.5" stroke="red" stroke-width="0.7"/>
<text x="297.4" y="688.5" text-anchor="start" fill="red" stroke="red" stroke-width="0.18" font-size="8.3" textLength="20.15" lengthAdjust="spacingAndGlyphs">−0.1</text>
<line x1="291" y1="649" x2="293.9" y2="649" stroke="red" stroke-width="0.7"/>
<text x="297.4" y="652" text-anchor="start" fill="red" stroke="red" stroke-width="0.18" font-size="8.3" textLength="13.2" lengthAdjust="spacingAndGlyphs">0.0</text>
<line x1="291" y1="612.5" x2="293.9" y2="612.5" stroke="red" stroke-width="0.7"/>
<text x="297.4" y="615.5" text-anchor="start" fill="red" stroke="red" stroke-width="0.18" font-size="8.3" textLength="13.2" lengthAdjust="spacingAndGlyphs">0.1</text>
<line x1="291" y1="576" x2="293.9" y2="576" stroke="red" stroke-width="0.7"/>
<text x="297.4" y="579" text-anchor="start" fill="red" stroke="red" stroke-width="0.18" font-size="8.3" textLength="13.2" lengthAdjust="spacingAndGlyphs">0.2</text>
<line x1="291" y1="539.5" x2="293.9" y2="539.5" stroke="red" stroke-width="0.7"/>
<text x="297.4" y="542.5" text-anchor="start" fill="red" stroke="red" stroke-width="0.18" font-size="8.3" textLength="13.2" lengthAdjust="spacingAndGlyphs">0.3</text>
<text x="161.8" y="747.7" text-anchor="middle" fill="#000" stroke="#000" stroke-width="0.18" font-size="8.3" textLength="57.9" lengthAdjust="spacingAndGlyphs">Data Samples</text>
<text x="8.1" y="620.2" text-anchor="middle" fill="#000" stroke="#000" stroke-width="0.18" font-size="8.3" textLength="93.97" lengthAdjust="spacingAndGlyphs" transform="rotate(-90 8.1 620.2)">Target and Predictions</text>
<text x="328.4" y="621" text-anchor="middle" fill="red" stroke="red" stroke-width="0.18" font-size="8.3" textLength="20.56" lengthAdjust="spacingAndGlyphs" transform="rotate(-90 328.4 621)">Error</text>
<rect x="36.75" y="521.75" width="68.25" height="40" rx="1.7" fill="#fff" fill-opacity="0.8" stroke="#cccccc" stroke-width="0.7"/>
<rect x="40.08" y="526.05" width="16.67" height="5.8" fill="#C3F3C3"/>
<text x="63.42" y="531.95" text-anchor="start" fill="#000" stroke="#000" stroke-width="0.18" font-size="8.3" textLength="34.02" lengthAdjust="spacingAndGlyphs">Test Set</text>
<line x1="40.08" y1="541.25" x2="56.75" y2="541.25" stroke="#000" stroke-width="0.9"/>
<path d="M48.42 537.85 L49.18 540.2 L51.65 540.2 L49.66 541.65 L50.42 544 L48.42 542.55 L46.42 544 L47.18 541.65 L45.19 540.2 L47.66 540.2Z" fill="#fff" stroke="#000" stroke-width="1.0"/>
<text x="63.42" y="544.25" text-anchor="start" fill="#000" stroke="#000" stroke-width="0.18" font-size="8.3" textLength="26.15" lengthAdjust="spacingAndGlyphs">Actual</text>
<line x1="40.08" y1="553.55" x2="56.75" y2="553.55" stroke="#40E0D0" stroke-width="1.5"/>
<circle cx="48.42" cy="553.55" r="2.85" fill="#40E0D0"/>
<text x="63.42" y="556.55" text-anchor="start" fill="#000" stroke="#000" stroke-width="0.18" font-size="8.3" textLength="38.25" lengthAdjust="spacingAndGlyphs">MFO-MLP</text>
<rect x="101.35" y="521.75" width="50.56" height="14.5" rx="1.7" fill="#fff" fill-opacity="0.8" stroke="#cccccc" stroke-width="0.7"/>
<line x1="104.68" y1="528.95" x2="121.35" y2="528.95" stroke="#E8086A" stroke-width="1.25"/>
<text x="128.02" y="531.95" text-anchor="start" fill="#000" stroke="#000" stroke-width="0.18" font-size="8.3" textLength="20.56" lengthAdjust="spacingAndGlyphs">Error</text>
<clipPath id="c5"><rect x="386.4" y="517.6" width="258.2" height="205.4"/></clipPath>
<rect x="591.44" y="517.6" width="53.16" height="205.4" fill="#C3F3C3"/>
<g clip-path="url(#c5)">
<polyline points="386.4,527.6 388.3,713.63 390.2,533.19 392.1,651.56 393.99,599.74 395.89,577.56 397.79,585.38 399.69,589.11 401.59,541.02 403.49,619.87 405.39,618.94 407.28,533.19 409.18,571.78 411.08,561.15 412.98,561.15 414.88,529.46 416.78,564.88 418.67,702.63 420.57,609.99 422.47,664.79 424.37,533.19 426.27,529.46 428.17,535.06 430.07,527.6 431.96,533.19 433.86,540.65 435.76,593.4 437.66,707.1 439.56,685.67 441.46,614.84 443.36,656.4 445.25,533.19 447.15,564.88 449.05,712.7 450.95,672.81 452.85,590.98 454.75,588.18 456.65,710.46 458.54,621.73 460.44,577.93 462.34,582.77 464.24,536.92 466.14,677.09 468.04,567.3 469.94,639.44 471.83,660.32 473.73,581.84 475.63,573.83 477.53,540.83 479.43,549.97 481.33,560.78 483.23,546.24 485.12,575.69 487.02,544.94 488.92,578.67 490.82,579.79 492.72,535.06 494.62,581.28 496.51,546.8 498.41,562.83 500.31,540.65 502.21,551.83 504.11,552.02 506.01,627.51 507.91,540.83 509.8,552.02 511.7,539.16 513.6,709.9 515.5,550.15 517.4,536.17 519.3,537.29 521.2,536.92 523.09,585.38 524.99,629.56 526.89,548.1 528.79,539.16 530.69,579.61 532.59,527.6 534.49,555.93 536.38,604.4 538.28,564.88 540.18,583.33 542.08,530.58 543.98,539.16 545.88,574.76 547.77,551.09 549.67,694.43 551.57,552.02 553.47,587.99 555.37,641.12 557.27,611.48 559.17,613.72 561.06,573.83 562.96,527.6 564.86,551.65 566.76,690.14 568.66,713.25 570.56,698.9 572.46,539.16 574.35,538.04 576.25,714 578.15,547.17 580.05,566 581.95,528.53 583.85,588.18 585.75,588.93 587.64,528.53 589.54,585.01 591.44,646.34 593.34,527.6 595.24,546.24 597.14,528.53 599.04,585.01 600.93,527.6 602.83,633.85 604.73,527.6 606.63,681.57 608.53,552.58 610.43,606.45 612.33,636.27 614.22,643.91 616.12,648.95 618.02,551.09 619.92,534.31 621.82,581.84 623.72,535.06 625.61,631.98 627.51,571.78 629.41,556.86 631.31,527.6 633.21,668.33 635.11,577.93 637.01,535.06 638.9,580.54 640.8,545.31 642.7,533.56" fill="none" stroke="#000" stroke-width="1.1" stroke-linejoin="round"/>
<path d="M386.4 524.2 L387.16 526.55 L389.63 526.55 L387.64 528 L388.4 530.35 L386.4 528.9 L384.4 530.35 L385.16 528 L383.17 526.55 L385.64 526.55Z" fill="#fff" stroke="#000" stroke-width="1.0"/>
<path d="M388.3 710.23 L389.06 712.58 L391.53 712.58 L389.53 714.03 L390.3 716.38 L388.3 714.93 L386.3 716.38 L387.06 714.03 L385.06 712.58 L387.54 712.58Z" fill="#fff" stroke="#000" stroke-width="1.0"/>
<path d="M390.2 529.79 L390.96 532.14 L393.43 532.14 L391.43 533.59 L392.2 535.94 L390.2 534.49 L388.2 535.94 L388.96 533.59 L386.96 532.14 L389.43 532.14Z" fill="#fff" stroke="#000" stroke-width="1.0"/>
<path d="M392.1 648.16 L392.86 650.51 L395.33 650.51 L393.33 651.96 L394.09 654.31 L392.1 652.85 L390.1 654.31 L390.86 651.96 L388.86 650.51 L391.33 650.51Z" fill="#fff" stroke="#000" stroke-width="1.0"/>
<path d="M393.99 596.34 L394.76 598.69 L397.23 598.69 L395.23 600.14 L395.99 602.49 L393.99 601.04 L392 602.49 L392.76 600.14 L390.76 598.69 L393.23 598.69Z" fill="#fff" stroke="#000" stroke-width="1.0"/>
<path d="M395.89 574.16 L396.66 576.5 L399.13 576.5 L397.13 577.96 L397.89 580.31 L395.89 578.85 L393.89 580.31 L394.66 577.96 L392.66 576.5 L395.13 576.5Z" fill="#fff" stroke="#000" stroke-width="1.0"/>
<path d="M397.79 581.98 L398.55 584.33 L401.02 584.33 L399.03 585.79 L399.79 588.13 L397.79 586.68 L395.79 588.13 L396.56 585.79 L394.56 584.33 L397.03 584.33Z" fill="#fff" stroke="#000" stroke-width="1.0"/>
<path d="M399.69 585.71 L400.45 588.06 L402.92 588.06 L400.92 589.51 L401.69 591.86 L399.69 590.41 L397.69 591.86 L398.45 589.51 L396.46 588.06 L398.93 588.06Z" fill="#fff" stroke="#000" stroke-width="1.0"/>
<path d="M401.59 537.62 L402.35 539.97 L404.82 539.97 L402.82 541.42 L403.59 543.77 L401.59 542.32 L399.59 543.77 L400.35 541.42 L398.35 539.97 L400.82 539.97Z" fill="#fff" stroke="#000" stroke-width="1.0"/>
<path d="M403.49 616.47 L404.25 618.82 L406.72 618.82 L404.72 620.27 L405.49 622.62 L403.49 621.17 L401.49 622.62 L402.25 620.27 L400.25 618.82 L402.72 618.82Z" fill="#fff" stroke="#000" stroke-width="1.0"/>
<path d="M405.39 615.54 L406.15 617.89 L408.62 617.89 L406.62 619.34 L407.38 621.69 L405.39 620.23 L403.39 621.69 L404.15 619.34 L402.15 617.89 L404.62 617.89Z" fill="#fff" stroke="#000" stroke-width="1.0"/>
<path d="M407.28 529.79 L408.05 532.14 L410.52 532.14 L408.52 533.59 L409.28 535.94 L407.28 534.49 L405.29 535.94 L406.05 533.59 L404.05 532.14 L406.52 532.14Z" fill="#fff" stroke="#000" stroke-width="1.0"/>
<path d="M409.18 568.38 L409.95 570.73 L412.42 570.73 L410.42 572.18 L411.18 574.53 L409.18 573.08 L407.18 574.53 L407.95 572.18 L405.95 570.73 L408.42 570.73Z" fill="#fff" stroke="#000" stroke-width="1.0"/>
<path d="M411.08 557.75 L411.84 560.1 L414.31 560.1 L412.32 561.55 L413.08 563.9 L411.08 562.45 L409.08 563.9 L409.85 561.55 L407.85 560.1 L410.32 560.1Z" fill="#fff" stroke="#000" stroke-width="1.0"/>
<path d="M412.98 557.75 L413.74 560.1 L416.21 560.1 L414.21 561.55 L414.98 563.9 L412.98 562.45 L410.98 563.9 L411.74 561.55 L409.75 560.1 L412.22 560.1Z" fill="#fff" stroke="#000" stroke-width="1.0"/>
<path d="M414.88 526.06 L415.64 528.41 L418.11 528.41 L416.11 529.87 L416.88 532.21 L414.88 530.76 L412.88 532.21 L413.64 529.87 L411.64 528.41 L414.11 528.41Z" fill="#fff" stroke="#000" stroke-width="1.0"/>
<path d="M416.78 561.48 L417.54 563.83 L420.01 563.83 L418.01 565.28 L418.77 567.63 L416.78 566.18 L414.78 567.63 L415.54 565.28 L413.54 563.83 L416.01 563.83Z" fill="#fff" stroke="#000" stroke-width="1.0"/>
<path d="M418.67 699.23 L419.44 701.58 L421.91 701.58 L419.91 703.03 L420.67 705.38 L418.67 703.93 L416.68 705.38 L417.44 703.03 L415.44 701.58 L417.91 701.58Z" fill="#fff" stroke="#000" stroke-width="1.0"/>
<path d="M420.57 606.59 L421.34 608.94 L423.81 608.94 L421.81 610.39 L422.57 612.74 L420.57 611.29 L418.58 612.74 L419.34 610.39 L417.34 608.94 L419.81 608.94Z" fill="#fff" stroke="#000" stroke-width="1.0"/>
<path d="M422.47 661.39 L423.24 663.74 L425.71 663.74 L423.71 665.19 L424.47 667.54 L422.47 666.09 L420.47 667.54 L421.24 665.19 L419.24 663.74 L421.71 663.74Z" fill="#fff" stroke="#000" stroke-width="1.0"/>
<path d="M424.37 529.79 L425.13 532.14 L427.6 532.14 L425.61 533.59 L426.37 535.94 L424.37 534.49 L422.37 535.94 L423.14 533.59 L421.14 532.14 L423.61 532.14Z" fill="#fff" stroke="#000" stroke-width="1.0"/>
<path d="M426.27 526.06 L427.03 528.41 L429.5 528.41 L427.5 529.87 L428.27 532.21 L426.27 530.76 L424.27 532.21 L425.03 529.87 L423.04 528.41 L425.51 528.41Z" fill="#fff" stroke="#000" stroke-width="1.0"/>
<path d="M428.17 531.66 L428.93 534.01 L431.4 534.01 L429.4 535.46 L430.17 537.81 L428.17 536.35 L426.17 537.81 L426.93 535.46 L424.93 534.01 L427.4 534.01Z" fill="#fff" stroke="#000" stroke-width="1.0"/>
<path d="M430.07 524.2 L430.83 526.55 L433.3 526.55 L431.3 528 L432.06 530.35 L430.07 528.9 L428.07 530.35 L428.83 528 L426.83 526.55 L429.3 526.55Z" fill="#fff" stroke="#000" stroke-width="1.0"/>
<path d="M431.96 529.79 L432.73 532.14 L435.2 532.14 L433.2 533.59 L433.96 535.94 L431.96 534.49 L429.97 535.94 L430.73 533.59 L428.73 532.14 L431.2 532.14Z" fill="#fff" stroke="#000" stroke-width="1.0"/>
<path d="M433.86 537.25 L434.63 539.6 L437.1 539.6 L435.1 541.05 L435.86 543.4 L433.86 541.95 L431.86 543.4 L432.63 541.05 L430.63 539.6 L433.1 539.6Z" fill="#fff" stroke="#000" stroke-width="1.0"/>
<path d="M435.76 590 L436.53 592.35 L439 592.35 L437 593.8 L437.76 596.15 L435.76 594.7 L433.76 596.15 L434.53 593.8 L432.53 592.35 L435 592.35Z" fill="#fff" stroke="#000" stroke-width="1.0"/>
<path d="M437.66 703.7 L438.42 706.05 L440.89 706.05 L438.9 707.5 L439.66 709.85 L437.66 708.4 L435.66 709.85 L436.43 707.5 L434.43 706.05 L436.9 706.05Z" fill="#fff" stroke="#000" stroke-width="1.0"/>
<path d="M439.56 682.27 L440.32 684.62 L442.79 684.62 L440.79 686.07 L441.56 688.42 L439.56 686.97 L437.56 688.42 L438.32 686.07 L436.33 684.62 L438.8 684.62Z" fill="#fff" stroke="#000" stroke-width="1.0"/>
<path d="M441.46 611.44 L442.22 613.78 L444.69 613.78 L442.69 615.24 L443.46 617.59 L441.46 616.13 L439.46 617.59 L440.22 615.24 L438.22 613.78 L440.69 613.78Z" fill="#fff" stroke="#000" stroke-width="1.0"/>
<path d="M443.36 653 L444.12 655.35 L446.59 655.35 L444.59 656.8 L445.35 659.15 L443.36 657.7 L441.36 659.15 L442.12 656.8 L440.12 655.35 L442.59 655.35Z" fill="#fff" stroke="#000" stroke-width="1.0"/>
<path d="M445.25 529.79 L446.02 532.14 L448.49 532.14 L446.49 533.59 L447.25 535.94 L445.25 534.49 L443.26 535.94 L444.02 533.59 L442.02 532.14 L444.49 532.14Z" fill="#fff" stroke="#000" stroke-width="1.0"/>
<path d="M447.15 561.48 L447.92 563.83 L450.39 563.83 L448.39 565.28 L449.15 567.63 L447.15 566.18 L445.15 567.63 L445.92 565.28 L443.92 563.83 L446.39 563.83Z" fill="#fff" stroke="#000" stroke-width="1.0"/>
<path d="M449.05 709.3 L449.81 711.64 L452.29 711.64 L450.29 713.1 L451.05 715.45 L449.05 713.99 L447.05 715.45 L447.82 713.1 L445.82 711.64 L448.29 711.64Z" fill="#fff" stroke="#000" stroke-width="1.0"/>
<path d="M450.95 669.41 L451.71 671.75 L454.18 671.75 L452.19 673.21 L452.95 675.56 L450.95 674.1 L448.95 675.56 L449.71 673.21 L447.72 671.75 L450.19 671.75Z" fill="#fff" stroke="#000" stroke-width="1.0"/>
<path d="M452.85 587.58 L453.61 589.93 L456.08 589.93 L454.08 591.38 L454.85 593.73 L452.85 592.27 L450.85 593.73 L451.61 591.38 L449.61 589.93 L452.09 589.93Z" fill="#fff" stroke="#000" stroke-width="1.0"/>
<path d="M454.75 584.78 L455.51 587.13 L457.98 587.13 L455.98 588.58 L456.75 590.93 L454.75 589.48 L452.75 590.93 L453.51 588.58 L451.51 587.13 L453.98 587.13Z" fill="#fff" stroke="#000" stroke-width="1.0"/>
<path d="M456.65 707.06 L457.41 709.41 L459.88 709.41 L457.88 710.86 L458.64 713.21 L456.65 711.76 L454.65 713.21 L455.41 710.86 L453.41 709.41 L455.88 709.41Z" fill="#fff" stroke="#000" stroke-width="1.0"/>
<path d="M458.54 618.33 L459.31 620.68 L461.78 620.68 L459.78 622.13 L460.54 624.48 L458.54 623.03 L456.55 624.48 L457.31 622.13 L455.31 620.68 L457.78 620.68Z" fill="#fff" stroke="#000" stroke-width="1.0"/>
<path d="M460.44 574.53 L461.21 576.88 L463.68 576.88 L461.68 578.33 L462.44 580.68 L460.44 579.23 L458.44 580.68 L459.21 578.33 L457.21 576.88 L459.68 576.88Z" fill="#fff" stroke="#000" stroke-width="1.0"/>
<path d="M462.34 579.37 L463.1 581.72 L465.57 581.72 L463.58 583.18 L464.34 585.53 L462.34 584.07 L460.34 585.53 L461.11 583.18 L459.11 581.72 L461.58 581.72Z" fill="#fff" stroke="#000" stroke-width="1.0"/>
<path d="M464.24 533.52 L465 535.87 L467.47 535.87 L465.47 537.32 L466.24 539.67 L464.24 538.22 L462.24 539.67 L463 537.32 L461.01 535.87 L463.48 535.87Z" fill="#fff" stroke="#000" stroke-width="1.0"/>
<path d="M466.14 673.69 L466.9 676.04 L469.37 676.04 L467.37 677.49 L468.14 679.84 L466.14 678.39 L464.14 679.84 L464.9 677.49 L462.9 676.04 L465.37 676.04Z" fill="#fff" stroke="#000" stroke-width="1.0"/>
<path d="M468.04 563.9 L468.8 566.25 L471.27 566.25 L469.27 567.7 L470.04 570.05 L468.04 568.6 L466.04 570.05 L466.8 567.7 L464.8 566.25 L467.27 566.25Z" fill="#fff" stroke="#000" stroke-width="1.0"/>
<path d="M469.94 636.04 L470.7 638.39 L473.17 638.39 L471.17 639.84 L471.93 642.19 L469.94 640.74 L467.94 642.19 L468.7 639.84 L466.7 638.39 L469.17 638.39Z" fill="#fff" stroke="#000" stroke-width="1.0"/>
<path d="M471.83 656.92 L472.6 659.27 L475.07 659.27 L473.07 660.72 L473.83 663.07 L471.83 661.62 L469.84 663.07 L470.6 660.72 L468.6 659.27 L471.07 659.27Z" fill="#fff" stroke="#000" stroke-width="1.0"/>
<path d="M473.73 578.44 L474.5 580.79 L476.97 580.79 L474.97 582.24 L475.73 584.59 L473.73 583.14 L471.73 584.59 L472.5 582.24 L470.5 580.79 L472.97 580.79Z" fill="#fff" stroke="#000" stroke-width="1.0"/>
<path d="M475.63 570.43 L476.39 572.78 L478.86 572.78 L476.87 574.23 L477.63 576.58 L475.63 575.13 L473.63 576.58 L474.4 574.23 L472.4 572.78 L474.87 572.78Z" fill="#fff" stroke="#000" stroke-width="1.0"/>
<path d="M477.53 537.43 L478.29 539.78 L480.76 539.78 L478.76 541.24 L479.53 543.59 L477.53 542.13 L475.53 543.59 L476.29 541.24 L474.3 539.78 L476.77 539.78Z" fill="#fff" stroke="#000" stroke-width="1.0"/>
<path d="M479.43 546.57 L480.19 548.92 L482.66 548.92 L480.66 550.37 L481.43 552.72 L479.43 551.27 L477.43 552.72 L478.19 550.37 L476.19 548.92 L478.66 548.92Z" fill="#fff" stroke="#000" stroke-width="1.0"/>
<path d="M481.33 557.38 L482.09 559.73 L484.56 559.73 L482.56 561.18 L483.32 563.53 L481.33 562.08 L479.33 563.53 L480.09 561.18 L478.09 559.73 L480.56 559.73Z" fill="#fff" stroke="#000" stroke-width="1.0"/>
<path d="M483.23 542.84 L483.99 545.19 L486.46 545.19 L484.46 546.64 L485.22 548.99 L483.23 547.54 L481.23 548.99 L481.99 546.64 L479.99 545.19 L482.46 545.19Z" fill="#fff" stroke="#000" stroke-width="1.0"/>
<path d="M485.12 572.29 L485.89 574.64 L488.36 574.64 L486.36 576.09 L487.12 578.44 L485.12 576.99 L483.13 578.44 L483.89 576.09 L481.89 574.64 L484.36 574.64Z" fill="#fff" stroke="#000" stroke-width="1.0"/>
<path d="M487.02 541.54 L487.79 543.88 L490.26 543.88 L488.26 545.34 L489.02 547.69 L487.02 546.23 L485.02 547.69 L485.79 545.34 L483.79 543.88 L486.26 543.88Z" fill="#fff" stroke="#000" stroke-width="1.0"/>
<path d="M488.92 575.27 L489.68 577.62 L492.15 577.62 L490.16 579.07 L490.92 581.42 L488.92 579.97 L486.92 581.42 L487.69 579.07 L485.69 577.62 L488.16 577.62Z" fill="#fff" stroke="#000" stroke-width="1.0"/>
<path d="M490.82 576.39 L491.58 578.74 L494.05 578.74 L492.05 580.19 L492.82 582.54 L490.82 581.09 L488.82 582.54 L489.58 580.19 L487.59 578.74 L490.06 578.74Z" fill="#fff" stroke="#000" stroke-width="1.0"/>
<path d="M492.72 531.66 L493.48 534.01 L495.95 534.01 L493.95 535.46 L494.72 537.81 L492.72 536.35 L490.72 537.81 L491.48 535.46 L489.48 534.01 L491.95 534.01Z" fill="#fff" stroke="#000" stroke-width="1.0"/>
<path d="M494.62 577.88 L495.38 580.23 L497.85 580.23 L495.85 581.68 L496.61 584.03 L494.62 582.58 L492.62 584.03 L493.38 581.68 L491.38 580.23 L493.85 580.23Z" fill="#fff" stroke="#000" stroke-width="1.0"/>
<path d="M496.51 543.4 L497.28 545.75 L499.75 545.75 L497.75 547.2 L498.51 549.55 L496.51 548.1 L494.52 549.55 L495.28 547.2 L493.28 545.75 L495.75 545.75Z" fill="#fff" stroke="#000" stroke-width="1.0"/>
<path d="M498.41 559.43 L499.18 561.78 L501.65 561.78 L499.65 563.23 L500.41 565.58 L498.41 564.13 L496.41 565.58 L497.18 563.23 L495.18 561.78 L497.65 561.78Z" fill="#fff" stroke="#000" stroke-width="1.0"/>
<path d="M500.31 537.25 L501.08 539.6 L503.55 539.6 L501.55 541.05 L502.31 543.4 L500.31 541.95 L498.31 543.4 L499.08 541.05 L497.08 539.6 L499.55 539.6Z" fill="#fff" stroke="#000" stroke-width="1.0"/>
<path d="M502.21 548.43 L502.97 550.78 L505.44 550.78 L503.45 552.23 L504.21 554.58 L502.21 553.13 L500.21 554.58 L500.98 552.23 L498.98 550.78 L501.45 550.78Z" fill="#fff" stroke="#000" stroke-width="1.0"/>
<path d="M504.11 548.62 L504.87 550.97 L507.34 550.97 L505.34 552.42 L506.11 554.77 L504.11 553.32 L502.11 554.77 L502.87 552.42 L500.88 550.97 L503.35 550.97Z" fill="#fff" stroke="#000" stroke-width="1.0"/>
<path d="M506.01 624.11 L506.77 626.46 L509.24 626.46 L507.24 627.91 L508.01 630.26 L506.01 628.81 L504.01 630.26 L504.77 627.91 L502.77 626.46 L505.24 626.46Z" fill="#fff" stroke="#000" stroke-width="1.0"/>
<path d="M507.91 537.43 L508.67 539.78 L511.14 539.78 L509.14 541.24 L509.9 543.59 L507.91 542.13 L505.91 543.59 L506.67 541.24 L504.67 539.78 L507.14 539.78Z" fill="#fff" stroke="#000" stroke-width="1.0"/>
<path d="M509.8 548.62 L510.57 550.97 L513.04 550.97 L511.04 552.42 L511.8 554.77 L509.8 553.32 L507.81 554.77 L508.57 552.42 L506.57 550.97 L509.04 550.97Z" fill="#fff" stroke="#000" stroke-width="1.0"/>
<path d="M511.7 535.76 L512.47 538.11 L514.94 538.11 L512.94 539.56 L513.7 541.91 L511.7 540.46 L509.7 541.91 L510.47 539.56 L508.47 538.11 L510.94 538.11Z" fill="#fff" stroke="#000" stroke-width="1.0"/>
<path d="M513.6 706.5 L514.36 708.85 L516.84 708.85 L514.84 710.3 L515.6 712.65 L513.6 711.2 L511.6 712.65 L512.37 710.3 L510.37 708.85 L512.84 708.85Z" fill="#fff" stroke="#000" stroke-width="1.0"/>
<path d="M515.5 546.75 L516.26 549.1 L518.73 549.1 L516.74 550.56 L517.5 552.91 L515.5 551.45 L513.5 552.91 L514.26 550.56 L512.27 549.1 L514.74 549.1Z" fill="#fff" stroke="#000" stroke-width="1.0"/>
<path d="M517.4 532.77 L518.16 535.12 L520.63 535.12 L518.63 536.58 L519.4 538.93 L517.4 537.47 L515.4 538.93 L516.16 536.58 L514.16 535.12 L516.64 535.12Z" fill="#fff" stroke="#000" stroke-width="1.0"/>
<path d="M519.3 533.89 L520.06 536.24 L522.53 536.24 L520.53 537.69 L521.3 540.04 L519.3 538.59 L517.3 540.04 L518.06 537.69 L516.06 536.24 L518.53 536.24Z" fill="#fff" stroke="#000" stroke-width="1.0"/>
<path d="M521.2 533.52 L521.96 535.87 L524.43 535.87 L522.43 537.32 L523.19 539.67 L521.2 538.22 L519.2 539.67 L519.96 537.32 L517.96 535.87 L520.43 535.87Z" fill="#fff" stroke="#000" stroke-width="1.0"/>
<path d="M523.09 581.98 L523.86 584.33 L526.33 584.33 L524.33 585.79 L525.09 588.13 L523.09 586.68 L521.1 588.13 L521.86 585.79 L519.86 584.33 L522.33 584.33Z" fill="#fff" stroke="#000" stroke-width="1.0"/>
<path d="M524.99 626.16 L525.76 628.51 L528.23 628.51 L526.23 629.96 L526.99 632.31 L524.99 630.86 L522.99 632.31 L523.76 629.96 L521.76 628.51 L524.23 628.51Z" fill="#fff" stroke="#000" stroke-width="1.0"/>
<path d="M526.89 544.7 L527.65 547.05 L530.12 547.05 L528.13 548.51 L528.89 550.85 L526.89 549.4 L524.89 550.85 L525.66 548.51 L523.66 547.05 L526.13 547.05Z" fill="#fff" stroke="#000" stroke-width="1.0"/>
<path d="M528.79 535.76 L529.55 538.11 L532.02 538.11 L530.02 539.56 L530.79 541.91 L528.79 540.46 L526.79 541.91 L527.55 539.56 L525.56 538.11 L528.03 538.11Z" fill="#fff" stroke="#000" stroke-width="1.0"/>
<path d="M530.69 576.21 L531.45 578.55 L533.92 578.55 L531.92 580.01 L532.69 582.36 L530.69 580.9 L528.69 582.36 L529.45 580.01 L527.45 578.55 L529.92 578.55Z" fill="#fff" stroke="#000" stroke-width="1.0"/>
<path d="M532.59 524.2 L533.35 526.55 L535.82 526.55 L533.82 528 L534.59 530.35 L532.59 528.9 L530.59 530.35 L531.35 528 L529.35 526.55 L531.82 526.55Z" fill="#fff" stroke="#000" stroke-width="1.0"/>
<path d="M534.49 552.53 L535.25 554.88 L537.72 554.88 L535.72 556.33 L536.48 558.68 L534.49 557.23 L532.49 558.68 L533.25 556.33 L531.25 554.88 L533.72 554.88Z" fill="#fff" stroke="#000" stroke-width="1.0"/>
<path d="M536.38 601 L537.15 603.35 L539.62 603.35 L537.62 604.8 L538.38 607.15 L536.38 605.7 L534.39 607.15 L535.15 604.8 L533.15 603.35 L535.62 603.35Z" fill="#fff" stroke="#000" stroke-width="1.0"/>
<path d="M538.28 561.48 L539.05 563.83 L541.52 563.83 L539.52 565.28 L540.28 567.63 L538.28 566.18 L536.28 567.63 L537.05 565.28 L535.05 563.83 L537.52 563.83Z" fill="#fff" stroke="#000" stroke-width="1.0"/>
<path d="M540.18 579.93 L540.94 582.28 L543.41 582.28 L541.42 583.73 L542.18 586.08 L540.18 584.63 L538.18 586.08 L538.95 583.73 L536.95 582.28 L539.42 582.28Z" fill="#fff" stroke="#000" stroke-width="1.0"/>
<path d="M542.08 527.18 L542.84 529.53 L545.31 529.53 L543.31 530.98 L544.08 533.33 L542.08 531.88 L540.08 533.33 L540.84 530.98 L538.85 529.53 L541.32 529.53Z" fill="#fff" stroke="#000" stroke-width="1.0"/>
<path d="M543.98 535.76 L544.74 538.11 L547.21 538.11 L545.21 539.56 L545.98 541.91 L543.98 540.46 L541.98 541.91 L542.74 539.56 L540.74 538.11 L543.21 538.11Z" fill="#fff" stroke="#000" stroke-width="1.0"/>
<path d="M545.88 571.36 L546.64 573.71 L549.11 573.71 L547.11 575.16 L547.87 577.51 L545.88 576.06 L543.88 577.51 L544.64 575.16 L542.64 573.71 L545.11 573.71Z" fill="#fff" stroke="#000" stroke-width="1.0"/>
<path d="M547.77 547.69 L548.54 550.04 L551.01 550.04 L549.01 551.49 L549.77 553.84 L547.77 552.39 L545.78 553.84 L546.54 551.49 L544.54 550.04 L547.01 550.04Z" fill="#fff" stroke="#000" stroke-width="1.0"/>
<path d="M549.67 691.03 L550.44 693.38 L552.91 693.38 L550.91 694.83 L551.67 697.18 L549.67 695.73 L547.68 697.18 L548.44 694.83 L546.44 693.38 L548.91 693.38Z" fill="#fff" stroke="#000" stroke-width="1.0"/>
<path d="M551.57 548.62 L552.34 550.97 L554.81 550.97 L552.81 552.42 L553.57 554.77 L551.57 553.32 L549.57 554.77 L550.34 552.42 L548.34 550.97 L550.81 550.97Z" fill="#fff" stroke="#000" stroke-width="1.0"/>
<path d="M553.47 584.59 L554.23 586.94 L556.7 586.94 L554.71 588.39 L555.47 590.74 L553.47 589.29 L551.47 590.74 L552.24 588.39 L550.24 586.94 L552.71 586.94Z" fill="#fff" stroke="#000" stroke-width="1.0"/>
<path d="M555.37 637.72 L556.13 640.07 L558.6 640.07 L556.6 641.52 L557.37 643.87 L555.37 642.42 L553.37 643.87 L554.13 641.52 L552.14 640.07 L554.61 640.07Z" fill="#fff" stroke="#000" stroke-width="1.0"/>
<path d="M557.27 608.08 L558.03 610.43 L560.5 610.43 L558.5 611.88 L559.27 614.23 L557.27 612.78 L555.27 614.23 L556.03 611.88 L554.03 610.43 L556.5 610.43Z" fill="#fff" stroke="#000" stroke-width="1.0"/>
<path d="M559.17 610.32 L559.93 612.67 L562.4 612.67 L560.4 614.12 L561.16 616.47 L559.17 615.02 L557.17 616.47 L557.93 614.12 L555.93 612.67 L558.4 612.67Z" fill="#fff" stroke="#000" stroke-width="1.0"/>
<path d="M561.06 570.43 L561.83 572.78 L564.3 572.78 L562.3 574.23 L563.06 576.58 L561.06 575.13 L559.07 576.58 L559.83 574.23 L557.83 572.78 L560.3 572.78Z" fill="#fff" stroke="#000" stroke-width="1.0"/>
<path d="M562.96 524.2 L563.73 526.55 L566.2 526.55 L564.2 528 L564.96 530.35 L562.96 528.9 L560.96 530.35 L561.73 528 L559.73 526.55 L562.2 526.55Z" fill="#fff" stroke="#000" stroke-width="1.0"/>
<path d="M564.86 548.25 L565.63 550.59 L568.1 550.59 L566.1 552.05 L566.86 554.4 L564.86 552.94 L562.86 554.4 L563.63 552.05 L561.63 550.59 L564.1 550.59Z" fill="#fff" stroke="#000" stroke-width="1.0"/>
<path d="M566.76 686.74 L567.52 689.09 L569.99 689.09 L568 690.54 L568.76 692.89 L566.76 691.44 L564.76 692.89 L565.53 690.54 L563.53 689.09 L566 689.09Z" fill="#fff" stroke="#000" stroke-width="1.0"/>
<path d="M568.66 709.85 L569.42 712.2 L571.89 712.2 L569.89 713.66 L570.66 716.01 L568.66 714.55 L566.66 716.01 L567.42 713.66 L565.43 712.2 L567.9 712.2Z" fill="#fff" stroke="#000" stroke-width="1.0"/>
<path d="M570.56 695.5 L571.32 697.85 L573.79 697.85 L571.79 699.3 L572.56 701.65 L570.56 700.2 L568.56 701.65 L569.32 699.3 L567.32 697.85 L569.79 697.85Z" fill="#fff" stroke="#000" stroke-width="1.0"/>
<path d="M572.46 535.76 L573.22 538.11 L575.69 538.11 L573.69 539.56 L574.45 541.91 L572.46 540.46 L570.46 541.91 L571.22 539.56 L569.22 538.11 L571.69 538.11Z" fill="#fff" stroke="#000" stroke-width="1.0"/>
<path d="M574.35 534.64 L575.12 536.99 L577.59 536.99 L575.59 538.44 L576.35 540.79 L574.35 539.34 L572.36 540.79 L573.12 538.44 L571.12 536.99 L573.59 536.99Z" fill="#fff" stroke="#000" stroke-width="1.0"/>
<path d="M576.25 710.6 L577.02 712.95 L579.49 712.95 L577.49 714.4 L578.25 716.75 L576.25 715.3 L574.25 716.75 L575.02 714.4 L573.02 712.95 L575.49 712.95Z" fill="#fff" stroke="#000" stroke-width="1.0"/>
<path d="M578.15 543.77 L578.91 546.12 L581.39 546.12 L579.39 547.57 L580.15 549.92 L578.15 548.47 L576.15 549.92 L576.92 547.57 L574.92 546.12 L577.39 546.12Z" fill="#fff" stroke="#000" stroke-width="1.0"/>
<path d="M580.05 562.6 L580.81 564.95 L583.28 564.95 L581.29 566.4 L582.05 568.75 L580.05 567.3 L578.05 568.75 L578.81 566.4 L576.82 564.95 L579.29 564.95Z" fill="#fff" stroke="#000" stroke-width="1.0"/>
<path d="M581.95 525.13 L582.71 527.48 L585.18 527.48 L583.18 528.93 L583.95 531.28 L581.95 529.83 L579.95 531.28 L580.71 528.93 L578.71 527.48 L581.19 527.48Z" fill="#fff" stroke="#000" stroke-width="1.0"/>
<path d="M583.85 584.78 L584.61 587.13 L587.08 587.13 L585.08 588.58 L585.85 590.93 L583.85 589.48 L581.85 590.93 L582.61 588.58 L580.61 587.13 L583.08 587.13Z" fill="#fff" stroke="#000" stroke-width="1.0"/>
<path d="M585.75 585.53 L586.51 587.87 L588.98 587.87 L586.98 589.33 L587.74 591.68 L585.75 590.22 L583.75 591.68 L584.51 589.33 L582.51 587.87 L584.98 587.87Z" fill="#fff" stroke="#000" stroke-width="1.0"/>
<path d="M587.64 525.13 L588.41 527.48 L590.88 527.48 L588.88 528.93 L589.64 531.28 L587.64 529.83 L585.65 531.28 L586.41 528.93 L584.41 527.48 L586.88 527.48Z" fill="#fff" stroke="#000" stroke-width="1.0"/>
<path d="M589.54 581.61 L590.31 583.96 L592.78 583.96 L590.78 585.41 L591.54 587.76 L589.54 586.31 L587.54 587.76 L588.31 585.41 L586.31 583.96 L588.78 583.96Z" fill="#fff" stroke="#000" stroke-width="1.0"/>
<path d="M591.44 642.94 L592.2 645.29 L594.67 645.29 L592.68 646.74 L593.44 649.09 L591.44 647.64 L589.44 649.09 L590.21 646.74 L588.21 645.29 L590.68 645.29Z" fill="#fff" stroke="#000" stroke-width="1.0"/>
<path d="M593.34 524.2 L594.1 526.55 L596.57 526.55 L594.57 528 L595.34 530.35 L593.34 528.9 L591.34 530.35 L592.1 528 L590.11 526.55 L592.58 526.55Z" fill="#fff" stroke="#000" stroke-width="1.0"/>
<path d="M595.24 542.84 L596 545.19 L598.47 545.19 L596.47 546.64 L597.24 548.99 L595.24 547.54 L593.24 548.99 L594 546.64 L592 545.19 L594.47 545.19Z" fill="#fff" stroke="#000" stroke-width="1.0"/>
<path d="M597.14 525.13 L597.9 527.48 L600.37 527.48 L598.37 528.93 L599.14 531.28 L597.14 529.83 L595.14 531.28 L595.9 528.93 L593.9 527.48 L596.37 527.48Z" fill="#fff" stroke="#000" stroke-width="1.0"/>
<path d="M599.04 581.61 L599.8 583.96 L602.27 583.96 L600.27 585.41 L601.03 587.76 L599.04 586.31 L597.04 587.76 L597.8 585.41 L595.8 583.96 L598.27 583.96Z" fill="#fff" stroke="#000" stroke-width="1.0"/>
<path d="M600.93 524.2 L601.7 526.55 L604.17 526.55 L602.17 528 L602.93 530.35 L600.93 528.9 L598.94 530.35 L599.7 528 L597.7 526.55 L600.17 526.55Z" fill="#fff" stroke="#000" stroke-width="1.0"/>
<path d="M602.83 630.45 L603.6 632.8 L606.07 632.8 L604.07 634.25 L604.83 636.6 L602.83 635.15 L600.83 636.6 L601.6 634.25 L599.6 632.8 L602.07 632.8Z" fill="#fff" stroke="#000" stroke-width="1.0"/>
<path d="M604.73 524.2 L605.49 526.55 L607.96 526.55 L605.97 528 L606.73 530.35 L604.73 528.9 L602.73 530.35 L603.5 528 L601.5 526.55 L603.97 526.55Z" fill="#fff" stroke="#000" stroke-width="1.0"/>
<path d="M606.63 678.17 L607.39 680.52 L609.86 680.52 L607.86 681.97 L608.63 684.32 L606.63 682.87 L604.63 684.32 L605.39 681.97 L603.4 680.52 L605.87 680.52Z" fill="#fff" stroke="#000" stroke-width="1.0"/>
<path d="M608.53 549.18 L609.29 551.53 L611.76 551.53 L609.76 552.98 L610.53 555.33 L608.53 553.88 L606.53 555.33 L607.29 552.98 L605.29 551.53 L607.76 551.53Z" fill="#fff" stroke="#000" stroke-width="1.0"/>
<path d="M610.43 603.05 L611.19 605.4 L613.66 605.4 L611.66 606.85 L612.42 609.2 L610.43 607.75 L608.43 609.2 L609.19 606.85 L607.19 605.4 L609.66 605.4Z" fill="#fff" stroke="#000" stroke-width="1.0"/>
<path d="M612.33 632.87 L613.09 635.22 L615.56 635.22 L613.56 636.67 L614.32 639.02 L612.33 637.57 L610.33 639.02 L611.09 636.67 L609.09 635.22 L611.56 635.22Z" fill="#fff" stroke="#000" stroke-width="1.0"/>
<path d="M614.22 640.51 L614.99 642.86 L617.46 642.86 L615.46 644.31 L616.22 646.66 L614.22 645.21 L612.23 646.66 L612.99 644.31 L610.99 642.86 L613.46 642.86Z" fill="#fff" stroke="#000" stroke-width="1.0"/>
<path d="M616.12 645.55 L616.89 647.9 L619.36 647.9 L617.36 649.35 L618.12 651.7 L616.12 650.25 L614.12 651.7 L614.89 649.35 L612.89 647.9 L615.36 647.9Z" fill="#fff" stroke="#000" stroke-width="1.0"/>
<path d="M618.02 547.69 L618.78 550.04 L621.25 550.04 L619.26 551.49 L620.02 553.84 L618.02 552.39 L616.02 553.84 L616.79 551.49 L614.79 550.04 L617.26 550.04Z" fill="#fff" stroke="#000" stroke-width="1.0"/>
<path d="M619.92 530.91 L620.68 533.26 L623.15 533.26 L621.15 534.71 L621.92 537.06 L619.92 535.61 L617.92 537.06 L618.68 534.71 L616.69 533.26 L619.16 533.26Z" fill="#fff" stroke="#000" stroke-width="1.0"/>
<path d="M621.82 578.44 L622.58 580.79 L625.05 580.79 L623.05 582.24 L623.82 584.59 L621.82 583.14 L619.82 584.59 L620.58 582.24 L618.58 580.79 L621.05 580.79Z" fill="#fff" stroke="#000" stroke-width="1.0"/>
<path d="M623.72 531.66 L624.48 534.01 L626.95 534.01 L624.95 535.46 L625.71 537.81 L623.72 536.35 L621.72 537.81 L622.48 535.46 L620.48 534.01 L622.95 534.01Z" fill="#fff" stroke="#000" stroke-width="1.0"/>
<path d="M625.61 628.58 L626.38 630.93 L628.85 630.93 L626.85 632.39 L627.61 634.73 L625.61 633.28 L623.62 634.73 L624.38 632.39 L622.38 630.93 L624.85 630.93Z" fill="#fff" stroke="#000" stroke-width="1.0"/>
<path d="M627.51 568.38 L628.28 570.73 L630.75 570.73 L628.75 572.18 L629.51 574.53 L627.51 573.08 L625.51 574.53 L626.28 572.18 L624.28 570.73 L626.75 570.73Z" fill="#fff" stroke="#000" stroke-width="1.0"/>
<path d="M629.41 553.46 L630.18 555.81 L632.65 555.81 L630.65 557.27 L631.41 559.62 L629.41 558.16 L627.41 559.62 L628.18 557.27 L626.18 555.81 L628.65 555.81Z" fill="#fff" stroke="#000" stroke-width="1.0"/>
<path d="M631.31 524.2 L632.07 526.55 L634.54 526.55 L632.55 528 L633.31 530.35 L631.31 528.9 L629.31 530.35 L630.08 528 L628.08 526.55 L630.55 526.55Z" fill="#fff" stroke="#000" stroke-width="1.0"/>
<path d="M633.21 664.93 L633.97 667.28 L636.44 667.28 L634.44 668.73 L635.21 671.08 L633.21 669.63 L631.21 671.08 L631.97 668.73 L629.98 667.28 L632.45 667.28Z" fill="#fff" stroke="#000" stroke-width="1.0"/>
<path d="M635.11 574.53 L635.87 576.88 L638.34 576.88 L636.34 578.33 L637.11 580.68 L635.11 579.23 L633.11 580.68 L633.87 578.33 L631.87 576.88 L634.34 576.88Z" fill="#fff" stroke="#000" stroke-width="1.0"/>
<path d="M637.01 531.66 L637.77 534.01 L640.24 534.01 L638.24 535.46 L639 537.81 L637.01 536.35 L635.01 537.81 L635.77 535.46 L633.77 534.01 L636.24 534.01Z" fill="#fff" stroke="#000" stroke-width="1.0"/>
<path d="M638.9 577.14 L639.67 579.49 L642.14 579.49 L640.14 580.94 L640.9 583.29 L638.9 581.84 L636.91 583.29 L637.67 580.94 L635.67 579.49 L638.14 579.49Z" fill="#fff" stroke="#000" stroke-width="1.0"/>
<path d="M640.8 541.91 L641.57 544.26 L644.04 544.26 L642.04 545.71 L642.8 548.06 L640.8 546.61 L638.8 548.06 L639.57 545.71 L637.57 544.26 L640.04 544.26Z" fill="#fff" stroke="#000" stroke-width="1.0"/>
<path d="M642.7 530.16 L643.46 532.51 L645.94 532.51 L643.94 533.97 L644.7 536.32 L642.7 534.86 L640.7 536.32 L641.47 533.97 L639.47 532.51 L641.94 532.51Z" fill="#fff" stroke="#000" stroke-width="1.0"/>
<polyline points="386.4,551.27 388.3,680.08 390.2,540.09 392.1,647.83 393.99,602.72 395.89,582.4 397.79,583.52 399.69,582.96 401.59,553.51 403.49,614.28 405.39,616.05 407.28,549.97 409.18,562.08 411.08,564.13 412.98,545.31 414.88,549.97 416.78,564.13 418.67,679.52 420.57,610.36 422.47,655.84 424.37,549.97 426.27,546.24 428.17,551.46 430.07,551.09 431.96,549.97 433.86,549.22 435.76,593.96 437.66,680.08 439.56,666.65 441.46,613.34 443.36,652.49 445.25,539.16 447.15,544.75 449.05,678.21 450.95,659.38 452.85,590.23 454.75,590.98 456.65,675.79 458.54,621.73 460.44,558.36 462.34,550.71 464.24,545.87 466.14,661.25 468.04,563.67 469.94,641.12 471.83,653.61 473.73,550.71 475.63,572.71 477.53,545.87 479.43,551.46 481.33,549.6 483.23,539.16 485.12,578.67 487.02,548.1 488.92,549.6 490.82,588.18 492.72,549.6 494.62,572.9 496.51,542.7 498.41,561.15 500.31,546.8 502.21,549.97 504.11,549.6 506.01,625.65 507.91,544.94 509.8,559.29 511.7,550.71 513.6,680.45 515.5,547.27 517.4,547.73 519.3,549.97 521.2,549.6 523.09,552.58 524.99,628.44 526.89,548.48 528.79,568.05 530.69,584.27 532.59,545.87 534.49,551.65 536.38,606.45 538.28,560.22 540.18,550.71 542.08,544.94 543.98,546.99 545.88,561.15 547.77,546.8 549.67,675.23 551.57,547.73 553.47,587.81 555.37,643.91 557.27,607.57 559.17,609.43 561.06,550.71 562.96,541.02 564.86,547.73 566.76,671.87 568.66,680.45 570.56,677.65 572.46,570.84 574.35,546.8 576.25,680.45 578.15,551.83 580.05,563.2 581.95,550.71 583.85,583.52 585.75,589.86 587.64,538.04 589.54,585.38 591.44,645.78 593.34,545.87 595.24,546.8 597.14,544.56 599.04,550.71 600.93,545.87 602.83,635.15 604.73,545.87 606.63,663.67 608.53,549.6 610.43,609.43 612.33,639.07 614.22,644.38 616.12,648.76 618.02,567.12 619.92,549.6 621.82,549.6 623.72,551.83 625.61,632.36 627.51,553.51 629.41,548.66 631.31,545.87 633.21,657.33 635.11,551.65 637.01,565.07 638.9,591.16 640.8,565.07 642.7,547.73" fill="none" stroke="#1f6eb4" stroke-width="1.5" stroke-linejoin="round"/>
<circle cx="386.4" cy="551.27" r="2.85" fill="#1f6eb4"/>
<circle cx="388.3" cy="680.08" r="2.85" fill="#1f6eb4"/>
<circle cx="390.2" cy="540.09" r="2.85" fill="#1f6eb4"/>
<circle cx="392.1" cy="647.83" r="2.85" fill="#1f6eb4"/>
<circle cx="393.99" cy="602.72" r="2.85" fill="#1f6eb4"/>
<circle cx="395.89" cy="582.4" r="2.85" fill="#1f6eb4"/>
<circle cx="397.79" cy="583.52" r="2.85" fill="#1f6eb4"/>
<circle cx="399.69" cy="582.96" r="2.85" fill="#1f6eb4"/>
<circle cx="401.59" cy="553.51" r="2.85" fill="#1f6eb4"/>
<circle cx="403.49" cy="614.28" r="2.85" fill="#1f6eb4"/>
<circle cx="405.39" cy="616.05" r="2.85" fill="#1f6eb4"/>
<circle cx="407.28" cy="549.97" r="2.85" fill="#1f6eb4"/>
<circle cx="409.18" cy="562.08" r="2.85" fill="#1f6eb4"/>
<circle cx="411.08" cy="564.13" r="2.85" fill="#1f6eb4"/>
<circle cx="412.98" cy="545.31" r="2.85" fill="#1f6eb4"/>
<circle cx="414.88" cy="549.97" r="2.85" fill="#1f6eb4"/>
<circle cx="416.78" cy="564.13" r="2.85" fill="#1f6eb4"/>
<circle cx="418.67" cy="679.52" r="2.85" fill="#1f6eb4"/>
<circle cx="420.57" cy="610.36" r="2.85" fill="#1f6eb4"/>
<circle cx="422.47" cy="655.84" r="2.85" fill="#1f6eb4"/>
<circle cx="424.37" cy="549.97" r="2.85" fill="#1f6eb4"/>
<circle cx="426.27" cy="546.24" r="2.85" fill="#1f6eb4"/>
<circle cx="428.17" cy="551.46" r="2.85" fill="#1f6eb4"/>
<circle cx="430.07" cy="551.09" r="2.85" fill="#1f6eb4"/>
<circle cx="431.96" cy="549.97" r="2.85" fill="#1f6eb4"/>
<circle cx="433.86" cy="549.22" r="2.85" fill="#1f6eb4"/>
<circle cx="435.76" cy="593.96" r="2.85" fill="#1f6eb4"/>
<circle cx="437.66" cy="680.08" r="2.85" fill="#1f6eb4"/>
<circle cx="439.56" cy="666.65" r="2.85" fill="#1f6eb4"/>
<circle cx="441.46" cy="613.34" r="2.85" fill="#1f6eb4"/>
<circle cx="443.36" cy="652.49" r="2.85" fill="#1f6eb4"/>
<circle cx="445.25" cy="539.16" r="2.85" fill="#1f6eb4"/>
<circle cx="447.15" cy="544.75" r="2.85" fill="#1f6eb4"/>
<circle cx="449.05" cy="678.21" r="2.85" fill="#1f6eb4"/>
<circle cx="450.95" cy="659.38" r="2.85" fill="#1f6eb4"/>
<circle cx="452.85" cy="590.23" r="2.85" fill="#1f6eb4"/>
<circle cx="454.75" cy="590.98" r="2.85" fill="#1f6eb4"/>
<circle cx="456.65" cy="675.79" r="2.85" fill="#1f6eb4"/>
<circle cx="458.54" cy="621.73" r="2.85" fill="#1f6eb4"/>
<circle cx="460.44" cy="558.36" r="2.85" fill="#1f6eb4"/>
<circle cx="462.34" cy="550.71" r="2.85" fill="#1f6eb4"/>
<circle cx="464.24" cy="545.87" r="2.85" fill="#1f6eb4"/>
<circle cx="466.14" cy="661.25" r="2.85" fill="#1f6eb4"/>
<circle cx="468.04" cy="563.67" r="2.85" fill="#1f6eb4"/>
<circle cx="469.94" cy="641.12" r="2.85" fill="#1f6eb4"/>
<circle cx="471.83" cy="653.61" r="2.85" fill="#1f6eb4"/>
<circle cx="473.73" cy="550.71" r="2.85" fill="#1f6eb4"/>
<circle cx="475.63" cy="572.71" r="2.85" fill="#1f6eb4"/>
<circle cx="477.53" cy="545.87" r="2.85" fill="#1f6eb4"/>
<circle cx="479.43" cy="551.46" r="2.85" fill="#1f6eb4"/>
<circle cx="481.33" cy="549.6" r="2.85" fill="#1f6eb4"/>
<circle cx="483.23" cy="539.16" r="2.85" fill="#1f6eb4"/>
<circle cx="485.12" cy="578.67" r="2.85" fill="#1f6eb4"/>
<circle cx="487.02" cy="548.1" r="2.85" fill="#1f6eb4"/>
<circle cx="488.92" cy="549.6" r="2.85" fill="#1f6eb4"/>
<circle cx="490.82" cy="588.18" r="2.85" fill="#1f6eb4"/>
<circle cx="492.72" cy="549.6" r="2.85" fill="#1f6eb4"/>
<circle cx="494.62" cy="572.9" r="2.85" fill="#1f6eb4"/>
<circle cx="496.51" cy="542.7" r="2.85" fill="#1f6eb4"/>
<circle cx="498.41" cy="561.15" r="2.85" fill="#1f6eb4"/>
<circle cx="500.31" cy="546.8" r="2.85" fill="#1f6eb4"/>
<circle cx="502.21" cy="549.97" r="2.85" fill="#1f6eb4"/>
<circle cx="504.11" cy="549.6" r="2.85" fill="#1f6eb4"/>
<circle cx="506.01" cy="625.65" r="2.85" fill="#1f6eb4"/>
<circle cx="507.91" cy="544.94" r="2.85" fill="#1f6eb4"/>
<circle cx="509.8" cy="559.29" r="2.85" fill="#1f6eb4"/>
<circle cx="511.7" cy="550.71" r="2.85" fill="#1f6eb4"/>
<circle cx="513.6" cy="680.45" r="2.85" fill="#1f6eb4"/>
<circle cx="515.5" cy="547.27" r="2.85" fill="#1f6eb4"/>
<circle cx="517.4" cy="547.73" r="2.85" fill="#1f6eb4"/>
<circle cx="519.3" cy="549.97" r="2.85" fill="#1f6eb4"/>
<circle cx="521.2" cy="549.6" r="2.85" fill="#1f6eb4"/>
<circle cx="523.09" cy="552.58" r="2.85" fill="#1f6eb4"/>
<circle cx="524.99" cy="628.44" r="2.85" fill="#1f6eb4"/>
<circle cx="526.89" cy="548.48" r="2.85" fill="#1f6eb4"/>
<circle cx="528.79" cy="568.05" r="2.85" fill="#1f6eb4"/>
<circle cx="530.69" cy="584.27" r="2.85" fill="#1f6eb4"/>
<circle cx="532.59" cy="545.87" r="2.85" fill="#1f6eb4"/>
<circle cx="534.49" cy="551.65" r="2.85" fill="#1f6eb4"/>
<circle cx="536.38" cy="606.45" r="2.85" fill="#1f6eb4"/>
<circle cx="538.28" cy="560.22" r="2.85" fill="#1f6eb4"/>
<circle cx="540.18" cy="550.71" r="2.85" fill="#1f6eb4"/>
<circle cx="542.08" cy="544.94" r="2.85" fill="#1f6eb4"/>
<circle cx="543.98" cy="546.99" r="2.85" fill="#1f6eb4"/>
<circle cx="545.88" cy="561.15" r="2.85" fill="#1f6eb4"/>
<circle cx="547.77" cy="546.8" r="2.85" fill="#1f6eb4"/>
<circle cx="549.67" cy="675.23" r="2.85" fill="#1f6eb4"/>
<circle cx="551.57" cy="547.73" r="2.85" fill="#1f6eb4"/>
<circle cx="553.47" cy="587.81" r="2.85" fill="#1f6eb4"/>
<circle cx="555.37" cy="643.91" r="2.85" fill="#1f6eb4"/>
<circle cx="557.27" cy="607.57" r="2.85" fill="#1f6eb4"/>
<circle cx="559.17" cy="609.43" r="2.85" fill="#1f6eb4"/>
<circle cx="561.06" cy="550.71" r="2.85" fill="#1f6eb4"/>
<circle cx="562.96" cy="541.02" r="2.85" fill="#1f6eb4"/>
<circle cx="564.86" cy="547.73" r="2.85" fill="#1f6eb4"/>
<circle cx="566.76" cy="671.87" r="2.85" fill="#1f6eb4"/>
<circle cx="568.66" cy="680.45" r="2.85" fill="#1f6eb4"/>
<circle cx="570.56" cy="677.65" r="2.85" fill="#1f6eb4"/>
<circle cx="572.46" cy="570.84" r="2.85" fill="#1f6eb4"/>
<circle cx="574.35" cy="546.8" r="2.85" fill="#1f6eb4"/>
<circle cx="576.25" cy="680.45" r="2.85" fill="#1f6eb4"/>
<circle cx="578.15" cy="551.83" r="2.85" fill="#1f6eb4"/>
<circle cx="580.05" cy="563.2" r="2.85" fill="#1f6eb4"/>
<circle cx="581.95" cy="550.71" r="2.85" fill="#1f6eb4"/>
<circle cx="583.85" cy="583.52" r="2.85" fill="#1f6eb4"/>
<circle cx="585.75" cy="589.86" r="2.85" fill="#1f6eb4"/>
<circle cx="587.64" cy="538.04" r="2.85" fill="#1f6eb4"/>
<circle cx="589.54" cy="585.38" r="2.85" fill="#1f6eb4"/>
<circle cx="591.44" cy="645.78" r="2.85" fill="#1f6eb4"/>
<circle cx="593.34" cy="545.87" r="2.85" fill="#1f6eb4"/>
<circle cx="595.24" cy="546.8" r="2.85" fill="#1f6eb4"/>
<circle cx="597.14" cy="544.56" r="2.85" fill="#1f6eb4"/>
<circle cx="599.04" cy="550.71" r="2.85" fill="#1f6eb4"/>
<circle cx="600.93" cy="545.87" r="2.85" fill="#1f6eb4"/>
<circle cx="602.83" cy="635.15" r="2.85" fill="#1f6eb4"/>
<circle cx="604.73" cy="545.87" r="2.85" fill="#1f6eb4"/>
<circle cx="606.63" cy="663.67" r="2.85" fill="#1f6eb4"/>
<circle cx="608.53" cy="549.6" r="2.85" fill="#1f6eb4"/>
<circle cx="610.43" cy="609.43" r="2.85" fill="#1f6eb4"/>
<circle cx="612.33" cy="639.07" r="2.85" fill="#1f6eb4"/>
<circle cx="614.22" cy="644.38" r="2.85" fill="#1f6eb4"/>
<circle cx="616.12" cy="648.76" r="2.85" fill="#1f6eb4"/>
<circle cx="618.02" cy="567.12" r="2.85" fill="#1f6eb4"/>
<circle cx="619.92" cy="549.6" r="2.85" fill="#1f6eb4"/>
<circle cx="621.82" cy="549.6" r="2.85" fill="#1f6eb4"/>
<circle cx="623.72" cy="551.83" r="2.85" fill="#1f6eb4"/>
<circle cx="625.61" cy="632.36" r="2.85" fill="#1f6eb4"/>
<circle cx="627.51" cy="553.51" r="2.85" fill="#1f6eb4"/>
<circle cx="629.41" cy="548.66" r="2.85" fill="#1f6eb4"/>
<circle cx="631.31" cy="545.87" r="2.85" fill="#1f6eb4"/>
<circle cx="633.21" cy="657.33" r="2.85" fill="#1f6eb4"/>
<circle cx="635.11" cy="551.65" r="2.85" fill="#1f6eb4"/>
<circle cx="637.01" cy="565.07" r="2.85" fill="#1f6eb4"/>
<circle cx="638.9" cy="591.16" r="2.85" fill="#1f6eb4"/>
<circle cx="640.8" cy="565.07" r="2.85" fill="#1f6eb4"/>
<circle cx="642.7" cy="547.73" r="2.85" fill="#1f6eb4"/>
<polyline points="386.4,595.52 388.3,635.84 390.2,653.31 392.1,650.96 393.99,648.61 395.89,643.57 397.79,614.17 399.69,584.77 401.59,617.7 403.49,633.49 405.39,649.28 407.28,617.7 409.18,617.7 411.08,617.7 412.98,655.33 414.88,622.4 416.78,651.3 418.67,614.67 420.57,646.59 422.47,641.72 424.37,636.85 426.27,619.71 428.17,622.4 430.07,632.14 431.96,641.89 433.86,648.61 435.76,655.33 437.66,607.95 439.56,615.68 441.46,647.6 443.36,639.87 445.25,646.59 447.15,621.06 449.05,595.52 450.95,630.13 452.85,649.28 454.75,589.47 456.65,623.41 458.54,639.87 460.44,620.38 462.34,599.22 464.24,643.57 466.14,628.11 468.04,645.58 469.94,628.11 471.83,614.17 473.73,600.22 475.63,637.86 477.53,620.38 479.43,633.99 481.33,647.6 483.23,639.87 485.12,649.28 487.02,634.83 488.92,620.38 490.82,637.86 492.72,620.55 494.62,603.25 496.51,639.87 498.41,632.14 500.31,624.42 502.21,649.28 504.11,638.7 506.01,628.11 507.91,618.7 509.8,649.28 511.7,634.83 513.6,620.38 515.5,653.31 517.4,610.98 519.3,637.86 521.2,653.31 523.09,596.53 524.99,635.84 526.89,649.28 528.79,606.27 530.69,606.94 532.59,645.58 534.49,645.58 536.38,645.58 538.28,637.86 540.18,597.54 542.08,634.16 543.98,635.17 545.88,633.15 547.77,643.57 549.67,622.4 551.57,653.31 553.47,648.27 555.37,647.94 557.27,647.6 559.17,647.6 561.06,617.7 562.96,629.79 564.86,641.89 566.76,620.22 568.66,598.54 570.56,617.7 572.46,602.24 574.35,638.86 576.25,596.53 578.15,649.28 580.05,649.28 581.95,649.28 583.85,620.05 585.75,590.82 587.64,622.4 589.54,635.84 591.44,649.28 593.34,620.38 595.24,639.87 597.14,617.7 599.04,595.52 600.93,637.86 602.83,632.65 604.73,627.44 606.63,647.6 608.53,626.43 610.43,639.87 612.33,645.58 614.22,653.31 616.12,639.87 618.02,632.14 619.92,642.73 621.82,653.31 623.72,616.69 625.61,647.6 627.51,640.88 629.41,634.16 631.31,647.6 633.21,632.14 635.11,607.95 637.01,608.96 638.9,630.13 640.8,618.7 642.7,630.13" fill="none" stroke="#E8086A" stroke-width="1.25" stroke-linejoin="round"/>
</g>
<rect x="386.4" y="517.6" width="258.2" height="205.4" fill="none" stroke="#000" stroke-width="0.7"/>
<line x1="383.5" y1="714" x2="386.4" y2="714" stroke="#000" stroke-width="0.7"/>
<text x="380.5" y="717" text-anchor="end" fill="#000" stroke="#000" stroke-width="0.18" font-size="8.3" textLength="13.2" lengthAdjust="spacingAndGlyphs">0.0</text>
<line x1="383.5" y1="676.72" x2="386.4" y2="676.72" stroke="#000" stroke-width="0.7"/>
<text x="380.5" y="679.72" text-anchor="end" fill="#000" stroke="#000" stroke-width="0.18" font-size="8.3" textLength="13.2" lengthAdjust="spacingAndGlyphs">0.2</text>
<line x1="383.5" y1="639.44" x2="386.4" y2="639.44" stroke="#000" stroke-width="0.7"/>
<text x="380.5" y="642.44" text-anchor="end" fill="#000" stroke="#000" stroke-width="0.18" font-size="8.3" textLength="13.2" lengthAdjust="spacingAndGlyphs">0.4</text>
<line x1="383.5" y1="602.16" x2="386.4" y2="602.16" stroke="#000" stroke-width="0.7"/>
<text x="380.5" y="605.16" text-anchor="end" fill="#000" stroke="#000" stroke-width="0.18" font-size="8.3" textLength="13.2" lengthAdjust="spacingAndGlyphs">0.6</text>
<line x1="383.5" y1="564.88" x2="386.4" y2="564.88" stroke="#000" stroke-width="0.7"/>
<text x="380.5" y="567.88" text-anchor="end" fill="#000" stroke="#000" stroke-width="0.18" font-size="8.3" textLength="13.2" lengthAdjust="spacingAndGlyphs">0.8</text>
<line x1="383.5" y1="527.6" x2="386.4" y2="527.6" stroke="#000" stroke-width="0.7"/>
<text x="380.5" y="530.6" text-anchor="end" fill="#000" stroke="#000" stroke-width="0.18" font-size="8.3" textLength="13.2" lengthAdjust="spacingAndGlyphs">1.0</text>
<line x1="386.4" y1="723" x2="386.4" y2="725.9" stroke="#000" stroke-width="0.7"/>
<text x="386.4" y="735.4" text-anchor="middle" fill="#000" stroke="#000" stroke-width="0.18" font-size="8.3" textLength="5.28" lengthAdjust="spacingAndGlyphs">0</text>
<line x1="424.37" y1="723" x2="424.37" y2="725.9" stroke="#000" stroke-width="0.7"/>
<text x="424.37" y="735.4" text-anchor="middle" fill="#000" stroke="#000" stroke-width="0.18" font-size="8.3" textLength="10.56" lengthAdjust="spacingAndGlyphs">20</text>
<line x1="462.34" y1="723" x2="462.34" y2="725.9" stroke="#000" stroke-width="0.7"/>
<text x="462.34" y="735.4" text-anchor="middle" fill="#000" stroke="#000" stroke-width="0.18" font-size="8.3" textLength="10.56" lengthAdjust="spacingAndGlyphs">40</text>
<line x1="500.31" y1="723" x2="500.31" y2="725.9" stroke="#000" stroke-width="0.7"/>
<text x="500.31" y="735.4" text-anchor="middle" fill="#000" stroke="#000" stroke-width="0.18" font-size="8.3" textLength="10.56" lengthAdjust="spacingAndGlyphs">60</text>
<line x1="538.28" y1="723" x2="538.28" y2="725.9" stroke="#000" stroke-width="0.7"/>
<text x="538.28" y="735.4" text-anchor="middle" fill="#000" stroke="#000" stroke-width="0.18" font-size="8.3" textLength="10.56" lengthAdjust="spacingAndGlyphs">80</text>
<line x1="576.25" y1="723" x2="576.25" y2="725.9" stroke="#000" stroke-width="0.7"/>
<text x="576.25" y="735.4" text-anchor="middle" fill="#000" stroke="#000" stroke-width="0.18" font-size="8.3" textLength="15.84" lengthAdjust="spacingAndGlyphs">100</text>
<line x1="614.22" y1="723" x2="614.22" y2="725.9" stroke="#000" stroke-width="0.7"/>
<text x="614.22" y="735.4" text-anchor="middle" fill="#000" stroke="#000" stroke-width="0.18" font-size="8.3" textLength="15.84" lengthAdjust="spacingAndGlyphs">120</text>
<line x1="644.6" y1="689.6" x2="647.5" y2="689.6" stroke="red" stroke-width="0.7"/>
<text x="651" y="692.6" text-anchor="start" fill="red" stroke="red" stroke-width="0.18" font-size="8.3" textLength="20.15" lengthAdjust="spacingAndGlyphs">−0.1</text>
<line x1="644.6" y1="656" x2="647.5" y2="656" stroke="red" stroke-width="0.7"/>
<text x="651" y="659" text-anchor="start" fill="red" stroke="red" stroke-width="0.18" font-size="8.3" textLength="13.2" lengthAdjust="spacingAndGlyphs">0.0</text>
<line x1="644.6" y1="622.4" x2="647.5" y2="622.4" stroke="red" stroke-width="0.7"/>
<text x="651" y="625.4" text-anchor="start" fill="red" stroke="red" stroke-width="0.18" font-size="8.3" textLength="13.2" lengthAdjust="spacingAndGlyphs">0.1</text>
<line x1="644.6" y1="588.8" x2="647.5" y2="588.8" stroke="red" stroke-width="0.7"/>
<text x="651" y="591.8" text-anchor="start" fill="red" stroke="red" stroke-width="0.18" font-size="8.3" textLength="13.2" lengthAdjust="spacingAndGlyphs">0.2</text>
<line x1="644.6" y1="555.2" x2="647.5" y2="555.2" stroke="red" stroke-width="0.7"/>
<text x="651" y="558.2" text-anchor="start" fill="red" stroke="red" stroke-width="0.18" font-size="8.3" textLength="13.2" lengthAdjust="spacingAndGlyphs">0.3</text>
<line x1="644.6" y1="521.6" x2="647.5" y2="521.6" stroke="red" stroke-width="0.7"/>
<text x="651" y="524.6" text-anchor="start" fill="red" stroke="red" stroke-width="0.18" font-size="8.3" textLength="13.2" lengthAdjust="spacingAndGlyphs">0.4</text>
<text x="515.5" y="747.9" text-anchor="middle" fill="#000" stroke="#000" stroke-width="0.18" font-size="8.3" textLength="57.9" lengthAdjust="spacingAndGlyphs">Data Samples</text>
<text x="361.9" y="620.3" text-anchor="middle" fill="#000" stroke="#000" stroke-width="0.18" font-size="8.3" textLength="93.97" lengthAdjust="spacingAndGlyphs" transform="rotate(-90 361.9 620.3)">Target and Predictions</text>
<text x="682" y="621.1" text-anchor="middle" fill="red" stroke="red" stroke-width="0.18" font-size="8.3" textLength="20.56" lengthAdjust="spacingAndGlyphs" transform="rotate(-90 682 621.1)">Error</text>
<rect x="390.55" y="521.75" width="64.02" height="40" rx="1.7" fill="#fff" fill-opacity="0.8" stroke="#cccccc" stroke-width="0.7"/>
<rect x="393.88" y="526.05" width="16.67" height="5.8" fill="#C3F3C3"/>
<text x="417.22" y="531.95" text-anchor="start" fill="#000" stroke="#000" stroke-width="0.18" font-size="8.3" textLength="34.02" lengthAdjust="spacingAndGlyphs">Test Set</text>
<line x1="393.88" y1="541.25" x2="410.55" y2="541.25" stroke="#000" stroke-width="0.9"/>
<path d="M402.22 537.85 L402.98 540.2 L405.45 540.2 L403.46 541.65 L404.22 544 L402.22 542.55 L400.22 544 L400.98 541.65 L398.99 540.2 L401.46 540.2Z" fill="#fff" stroke="#000" stroke-width="1.0"/>
<text x="417.22" y="544.25" text-anchor="start" fill="#000" stroke="#000" stroke-width="0.18" font-size="8.3" textLength="26.15" lengthAdjust="spacingAndGlyphs">Actual</text>
<line x1="393.88" y1="553.55" x2="410.55" y2="553.55" stroke="#1f6eb4" stroke-width="1.5"/>
<circle cx="402.22" cy="553.55" r="2.85" fill="#1f6eb4"/>
<text x="417.22" y="556.55" text-anchor="start" fill="#000" stroke="#000" stroke-width="0.18" font-size="8.3" textLength="16.79" lengthAdjust="spacingAndGlyphs">MLP</text>
<rect x="455.1" y="521.75" width="50.56" height="14.5" rx="1.7" fill="#fff" fill-opacity="0.8" stroke="#cccccc" stroke-width="0.7"/>
<line x1="458.43" y1="528.95" x2="475.1" y2="528.95" stroke="#E8086A" stroke-width="1.25"/>
<text x="481.77" y="531.95" text-anchor="start" fill="#000" stroke="#000" stroke-width="0.18" font-size="8.3" textLength="20.56" lengthAdjust="spacingAndGlyphs">Error</text>
</svg>
</body></html>
